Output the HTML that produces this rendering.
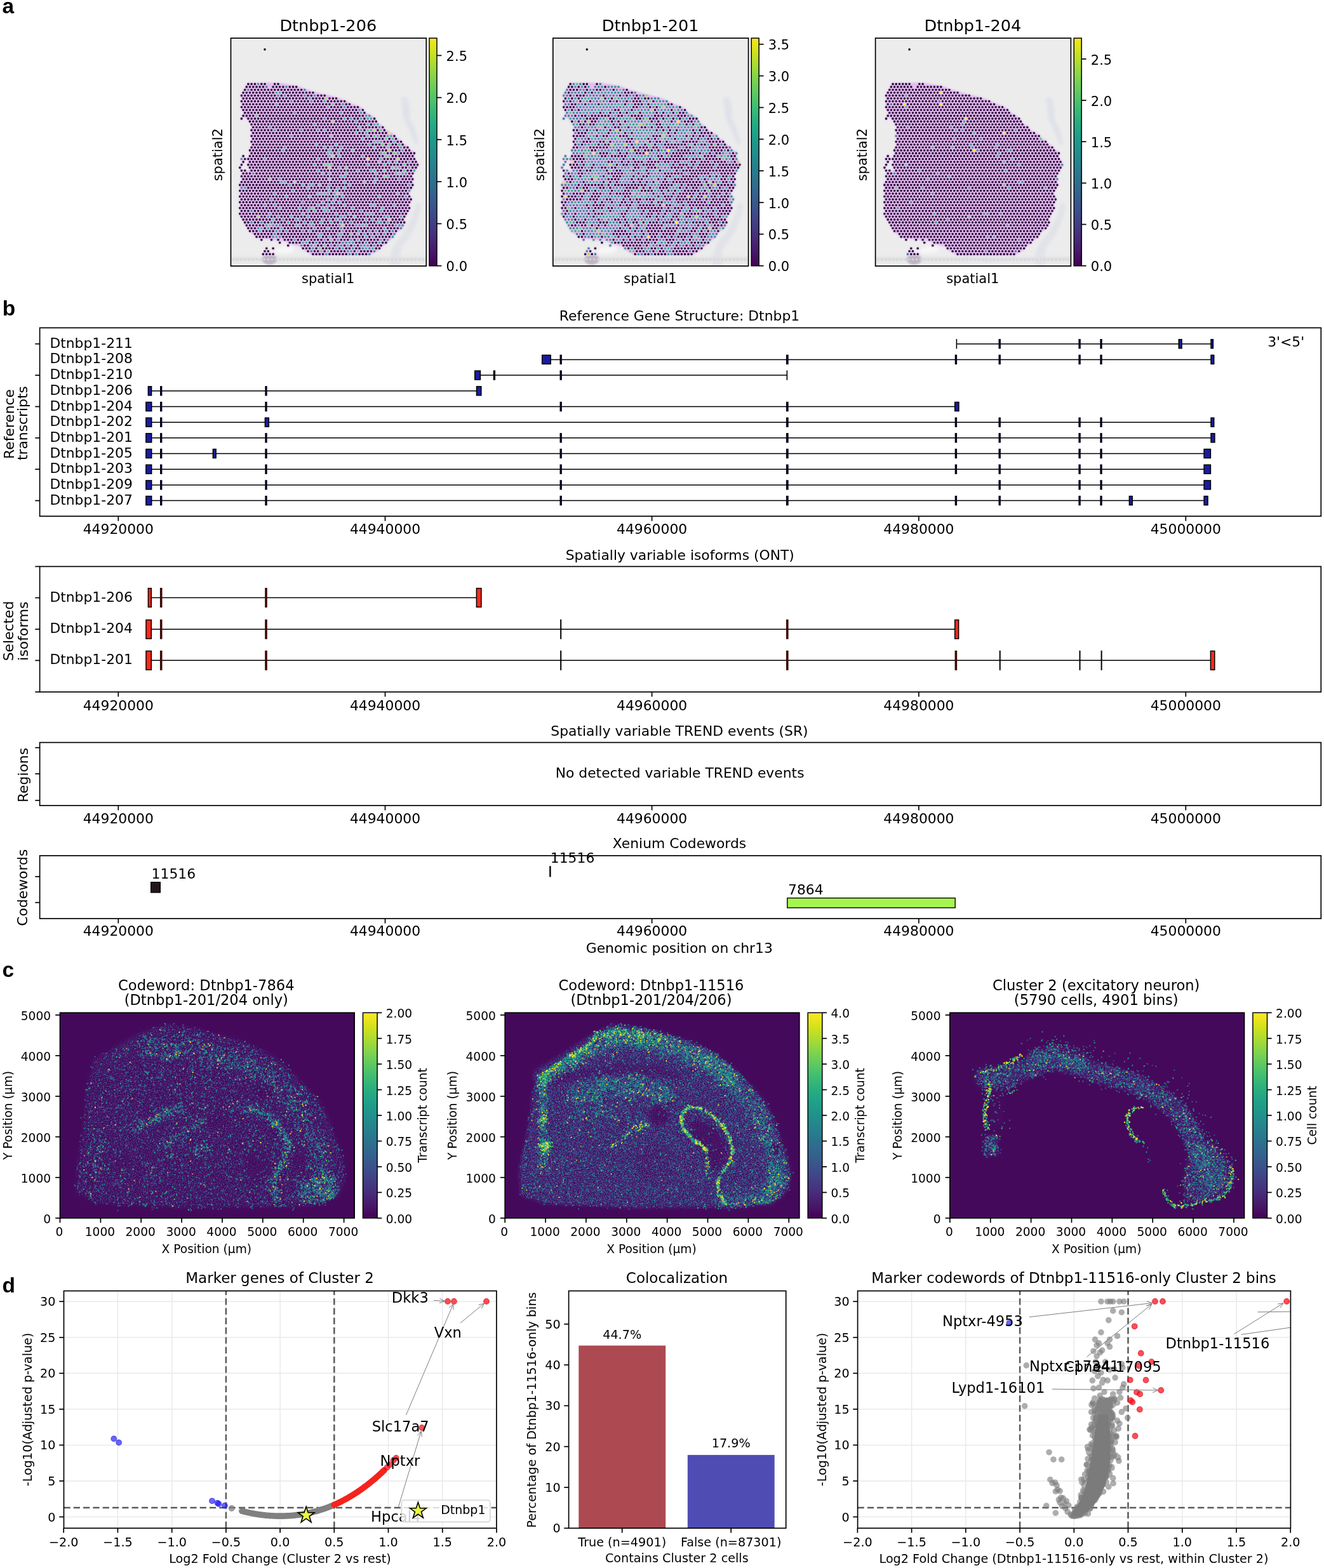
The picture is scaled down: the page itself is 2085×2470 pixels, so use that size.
<!DOCTYPE html>
<html lang="en"><head><meta charset="utf-8"><title>Dtnbp1 isoform figure</title>
<style>
html,body{margin:0;padding:0;background:#fff;}
body{width:2085px;height:2470px;overflow:hidden;}
svg{display:block;font-family:"DejaVu Sans","Liberation Sans",sans-serif;}
text{white-space:pre;}
</style></head><body>
<svg xmlns="http://www.w3.org/2000/svg" width="2085" height="2470" viewBox="0 0 2085 2470">
<rect width="2085" height="2470" fill="#fff"/>
<g id="panel_a"><defs><filter id="blA" x="-20%" y="-20%" width="140%" height="140%"><feGaussianBlur stdDeviation="2.2"/></filter><filter id="blB" x="-5%" y="-5%" width="110%" height="110%"><feGaussianBlur stdDeviation="1.4"/></filter><filter id="blC" x="-2%" y="-2%" width="104%" height="104%"><feGaussianBlur stdDeviation="4.5"/></filter></defs>
<clipPath id="ca0"><rect x="0" y="0" width="307.8" height="359.0"/></clipPath>
<rect x="363.5" y="60.1" width="307.8" height="359.0" fill="#ececec"/>
<g clip-path="url(#ca0)" transform="translate(363.5 60.1)">
<g filter="url(#blA)">
<path d="M276 92 q8 14 6 34 q10 18 14 40 l-6 2 q-8 -22 -18 -40 q-2 -18 -4 -34z" fill="#e0e2e9"/>
<path d="M262 318 q22 -22 30 -60 l8 4 q-6 40 -30 66 q-6 14 -2 30 l-18 0 q0 -22 12 -40z" fill="#e1e3e9"/>
<path d="M140 343 q40 9 80 0 l-4 6 q-38 7 -72 0z" fill="#cfc9d6"/>
<rect x="0" y="345" width="308" height="7" fill="#e0e0e2"/>
<path d="M70 333 q14 -8 30 -4 l-2 8 q-14 4 -26 2z" fill="#f6f6f6"/>
</g>
<ellipse cx="61" cy="348.5" rx="11.5" ry="8.5" fill="#beb6c5" filter="url(#blB)"/>
<path d="M4.0 348.5h0M10.1 348.5h0M16.2 348.5h0M22.3 348.5h0M28.4 348.5h0M34.5 348.5h0M40.6 348.5h0M46.7 348.5h0M52.8 348.5h0M58.9 348.5h0M65.0 348.5h0M71.1 348.5h0M77.2 348.5h0M83.3 348.5h0M89.4 348.5h0M95.5 348.5h0M101.6 348.5h0M107.7 348.5h0M113.8 348.5h0M119.9 348.5h0M126.0 348.5h0M132.1 348.5h0M138.2 348.5h0M144.3 348.5h0M150.4 348.5h0M156.5 348.5h0M162.6 348.5h0M168.7 348.5h0M174.8 348.5h0M180.9 348.5h0M187.0 348.5h0M193.1 348.5h0M199.2 348.5h0M205.3 348.5h0M211.4 348.5h0M217.5 348.5h0M223.6 348.5h0M229.7 348.5h0M235.8 348.5h0M241.9 348.5h0M248.0 348.5h0M254.1 348.5h0M260.2 348.5h0M266.3 348.5h0M272.4 348.5h0M278.5 348.5h0M284.6 348.5h0M290.7 348.5h0M296.8 348.5h0M302.9 348.5h0M309.0 348.5h0" stroke="#d6d6d9" stroke-width="3.6" stroke-linecap="round" fill="none" opacity="0.8"/>
<polygon points="74.5,72.3 103.2,76.8 116.3,81.4 129.4,85.9 147.7,90.5 166.0,95.0 179.1,99.6 186.9,104.1 200.0,108.6 207.8,113.2 210.5,117.7 218.3,122.3 226.1,126.8 228.8,131.3 231.4,135.9 239.2,140.4 241.8,145.0 249.7,149.5 257.5,154.1 260.1,158.6 268.0,163.1 270.6,167.7 278.4,172.2 281.1,176.8 288.9,181.3 286.3,185.9 288.9,190.4 291.5,194.9 294.1,199.5 291.5,204.0 288.9,208.6 286.3,213.1 283.7,217.6 286.3,222.2 283.7,226.7 286.3,231.3 283.7,235.8 281.1,240.4 278.4,244.9 281.1,249.4 283.7,254.0 281.1,258.5 278.4,263.1 281.1,267.6 278.4,272.1 275.8,276.7 273.2,281.2 270.6,285.8 273.2,290.3 270.6,294.9 268.0,299.4 260.1,303.9 257.5,308.5 254.9,313.0 247.1,317.6 244.5,322.1 236.6,326.7 234.0,331.2 226.1,335.7 218.3,340.3 129.4,340.3 121.5,335.7 113.7,331.2 111.1,326.7 92.8,322.1 84.9,317.6 40.5,313.0 37.9,308.5 30.0,303.9 27.4,299.4 24.8,294.9 22.2,290.3 19.6,285.8 16.9,281.2 14.3,276.7 16.9,272.1 14.3,267.6 16.9,263.1 14.3,258.5 16.9,254.0 14.3,249.4 16.9,244.9 14.3,240.4 16.9,235.8 14.3,231.3 16.9,226.7 19.6,222.2 16.9,217.6 19.6,213.1 32.6,208.6 30.0,204.0 27.4,199.5 30.0,194.9 27.4,190.4 30.0,185.9 32.6,181.3 30.0,176.8 32.6,172.2 35.3,167.7 32.6,163.1 35.3,158.6 32.6,154.1 35.3,149.5 32.6,145.0 35.3,140.4 32.6,135.9 30.0,131.3 27.4,126.8 19.6,122.3 22.2,117.7 19.6,113.2 16.9,108.6 19.6,104.1 16.9,99.6 19.6,95.0 16.9,90.5 19.6,85.9 22.2,81.4 24.8,76.8 27.4,72.3" fill="#e2d8ea" stroke="#e2d8ea" stroke-width="6" stroke-linejoin="round" filter="url(#blB)"/>
<path d="M16.9 126.8h0M19.6 185.9h0M16.9 190.4h0M22.2 190.4h0M19.6 194.9h0M16.9 199.5h0M14.3 204.0h0M16.9 208.6h0M22.2 208.6h0M48.3 317.6h0M64.0 317.6h0M74.5 317.6h0M77.1 322.1h0M90.2 326.7h0M56.2 331.2h0M66.6 331.2h0M53.6 335.7h0M58.8 335.7h0M50.9 340.3h0M56.2 340.3h0M61.4 340.3h0M66.6 340.3h0" stroke="#e6cdee" stroke-width="6" stroke-linecap="round" fill="none"/>
<polygon points="74.5,72.3 103.2,76.8 116.3,81.4 129.4,85.9 147.7,90.5 166.0,95.0 179.1,99.6 186.9,104.1 200.0,108.6 207.8,113.2 210.5,117.7 218.3,122.3 226.1,126.8 228.8,131.3 231.4,135.9 239.2,140.4 241.8,145.0 249.7,149.5 257.5,154.1 260.1,158.6 268.0,163.1 270.6,167.7 278.4,172.2 281.1,176.8 288.9,181.3 286.3,185.9 288.9,190.4 291.5,194.9 294.1,199.5 291.5,204.0 288.9,208.6 286.3,213.1 283.7,217.6 286.3,222.2 283.7,226.7 286.3,231.3 283.7,235.8 281.1,240.4 278.4,244.9 281.1,249.4 283.7,254.0 281.1,258.5 278.4,263.1 281.1,267.6 278.4,272.1 275.8,276.7 273.2,281.2 270.6,285.8 273.2,290.3 270.6,294.9 268.0,299.4 260.1,303.9 257.5,308.5 254.9,313.0 247.1,317.6 244.5,322.1 236.6,326.7 234.0,331.2 226.1,335.7 218.3,340.3 129.4,340.3 121.5,335.7 113.7,331.2 111.1,326.7 92.8,322.1 84.9,317.6 40.5,313.0 37.9,308.5 30.0,303.9 27.4,299.4 24.8,294.9 22.2,290.3 19.6,285.8 16.9,281.2 14.3,276.7 16.9,272.1 14.3,267.6 16.9,263.1 14.3,258.5 16.9,254.0 14.3,249.4 16.9,244.9 14.3,240.4 16.9,235.8 14.3,231.3 16.9,226.7 19.6,222.2 16.9,217.6 19.6,213.1 32.6,208.6 30.0,204.0 27.4,199.5 30.0,194.9 27.4,190.4 30.0,185.9 32.6,181.3 30.0,176.8 32.6,172.2 35.3,167.7 32.6,163.1 35.3,158.6 32.6,154.1 35.3,149.5 32.6,145.0 35.3,140.4 32.6,135.9 30.0,131.3 27.4,126.8 19.6,122.3 22.2,117.7 19.6,113.2 16.9,108.6 19.6,104.1 16.9,99.6 19.6,95.0 16.9,90.5 19.6,85.9 22.2,81.4 24.8,76.8 27.4,72.3" fill="#e6bdf0" stroke="#e6bdf0" stroke-width="3.6" stroke-linejoin="round"/>
</g>
<g transform="translate(363.5 60.1) scale(0.1)" fill="none" stroke-linecap="round" stroke-width="36" filter="url(#blC)"><path d="M535 178h0m-261 545h0m52 0h0m53 0h0m104 0h0m52 0h0m157 0h0m53 0h0m-497 45h0m52 0h0m52 0h0m53 0h0m52 0h0m52 0h0m157 0h0m53 0h0m52 0h0m52 0h0m105 0h0m52 0h0m52 0h0m-810 46h0m104 0h0m53 0h0m52 0h0m52 0h0m52 0h0m53 0h0m52 0h0m52 0h0m53 0h0m52 0h0m52 0h0m53 0h0m52 0h0m52 0h0m52 0h0m53 0h0m-915 45h0m52 0h0m52 0h0m52 0h0m53 0h0m52 0h0m52 0h0m53 0h0m52 0h0m52 0h0m157 0h0m52 0h0m53 0h0m52 0h0m52 0h0m53 0h0m52 0h0m52 0h0m53 0h0m52 0h0m-1125 46h0m53 0h0m52 0h0m52 0h0m53 0h0m52 0h0m52 0h0m52 0h0m53 0h0m52 0h0m52 0h0m105 0h0m105 0h0m52 0h0m52 0h0m52 0h0m53 0h0m104 0h0m53 0h0m104 0h0m53 0h0m52 0h0m-1281 45h0m52 0h0m52 0h0m52 0h0m53 0h0m52 0h0m52 0h0m53 0h0m52 0h0m52 0h0m53 0h0m52 0h0m52 0h0m52 0h0m53 0h0m52 0h0m52 0h0m53 0h0m52 0h0m52 0h0m105 0h0m52 0h0m52 0h0m53 0h0m104 0h0m53 0h0m52 0h0m-1491 45h0m53 0h0m52 0h0m52 0h0m53 0h0m52 0h0m52 0h0m52 0h0m53 0h0m52 0h0m52 0h0m53 0h0m52 0h0m52 0h0m53 0h0m104 0h0m52 0h0m53 0h0m52 0h0m52 0h0m105 0h0m52 0h0m53 0h0m104 0h0m53 0h0m52 0h0m52 0h0m52 0h0m53 0h0m-1595 46h0m52 0h0m52 0h0m52 0h0m53 0h0m52 0h0m52 0h0m53 0h0m52 0h0m52 0h0m105 0h0m52 0h0m52 0h0m53 0h0m52 0h0m52 0h0m53 0h0m52 0h0m52 0h0m53 0h0m52 0h0m52 0h0m52 0h0m53 0h0m52 0h0m52 0h0m105 0h0m52 0h0m105 0h0m52 0h0m-1700 45h0m53 0h0m52 0h0m52 0h0m53 0h0m52 0h0m52 0h0m52 0h0m53 0h0m52 0h0m52 0h0m53 0h0m52 0h0m52 0h0m53 0h0m52 0h0m52 0h0m52 0h0m53 0h0m52 0h0m52 0h0m53 0h0m52 0h0m52 0h0m53 0h0m52 0h0m105 0h0m52 0h0m52 0h0m52 0h0m105 0h0m52 0h0m53 0h0m52 0h0m-1804 46h0m52 0h0m52 0h0m52 0h0m53 0h0m52 0h0m52 0h0m53 0h0m52 0h0m52 0h0m53 0h0m52 0h0m52 0h0m52 0h0m53 0h0m52 0h0m52 0h0m53 0h0m52 0h0m52 0h0m53 0h0m52 0h0m52 0h0m52 0h0m53 0h0m52 0h0m52 0h0m53 0h0m52 0h0m52 0h0m53 0h0m52 0h0m52 0h0m53 0h0m52 0h0m104 0h0m-1856 45h0m52 0h0m52 0h0m53 0h0m52 0h0m52 0h0m52 0h0m53 0h0m52 0h0m52 0h0m53 0h0m52 0h0m52 0h0m53 0h0m52 0h0m104 0h0m53 0h0m52 0h0m52 0h0m53 0h0m52 0h0m52 0h0m53 0h0m52 0h0m52 0h0m53 0h0m52 0h0m52 0h0m105 0h0m52 0h0m52 0h0m53 0h0m52 0h0m104 0h0m-1908 46h0m52 0h0m52 0h0m52 0h0m105 0h0m52 0h0m53 0h0m52 0h0m52 0h0m53 0h0m52 0h0m52 0h0m52 0h0m53 0h0m52 0h0m52 0h0m53 0h0m52 0h0m52 0h0m53 0h0m52 0h0m52 0h0m52 0h0m53 0h0m52 0h0m52 0h0m53 0h0m52 0h0m52 0h0m53 0h0m52 0h0m52 0h0m53 0h0m52 0h0m52 0h0m52 0h0m-1909 45h0m105 0h0m52 0h0m53 0h0m52 0h0m52 0h0m52 0h0m53 0h0m52 0h0m52 0h0m53 0h0m52 0h0m52 0h0m53 0h0m52 0h0m52 0h0m52 0h0m53 0h0m52 0h0m52 0h0m53 0h0m52 0h0m52 0h0m53 0h0m104 0h0m53 0h0m52 0h0m52 0h0m52 0h0m105 0h0m105 0h0m52 0h0m104 0h0m157 0h0m-1961 45h0m52 0h0m53 0h0m52 0h0m52 0h0m53 0h0m52 0h0m52 0h0m53 0h0m52 0h0m52 0h0m52 0h0m53 0h0m52 0h0m52 0h0m53 0h0m52 0h0m52 0h0m53 0h0m52 0h0m52 0h0m52 0h0m53 0h0m52 0h0m52 0h0m105 0h0m52 0h0m53 0h0m52 0h0m52 0h0m53 0h0m104 0h0m52 0h0m53 0h0m52 0h0m52 0h0m53 0h0m-1962 46h0m53 0h0m52 0h0m52 0h0m52 0h0m53 0h0m52 0h0m52 0h0m53 0h0m52 0h0m52 0h0m53 0h0m52 0h0m52 0h0m52 0h0m53 0h0m52 0h0m52 0h0m53 0h0m104 0h0m53 0h0m52 0h0m52 0h0m53 0h0m52 0h0m52 0h0m52 0h0m53 0h0m52 0h0m52 0h0m53 0h0m52 0h0m52 0h0m52 0h0m105 0h0m-1857 45h0m53 0h0m52 0h0m52 0h0m53 0h0m104 0h0m53 0h0m52 0h0m52 0h0m52 0h0m53 0h0m52 0h0m52 0h0m53 0h0m52 0h0m52 0h0m53 0h0m52 0h0m52 0h0m52 0h0m53 0h0m52 0h0m52 0h0m53 0h0m52 0h0m52 0h0m53 0h0m52 0h0m52 0h0m53 0h0m52 0h0m104 0h0m53 0h0m52 0h0m52 0h0m53 0h0m104 0h0m-2066 46h0m53 0h0m52 0h0m52 0h0m52 0h0m53 0h0m52 0h0m105 0h0m52 0h0m52 0h0m53 0h0m52 0h0m52 0h0m52 0h0m105 0h0m52 0h0m53 0h0m52 0h0m105 0h0m104 0h0m53 0h0m52 0h0m52 0h0m52 0h0m53 0h0m52 0h0m52 0h0m53 0h0m52 0h0m104 0h0m210 0h0m104 0h0m-2066 45h0m53 0h0m52 0h0m52 0h0m53 0h0m52 0h0m52 0h0m53 0h0m52 0h0m52 0h0m52 0h0m53 0h0m52 0h0m52 0h0m53 0h0m52 0h0m52 0h0m53 0h0m52 0h0m52 0h0m52 0h0m53 0h0m52 0h0m52 0h0m53 0h0m52 0h0m52 0h0m53 0h0m52 0h0m52 0h0m53 0h0m104 0h0m52 0h0m105 0h0m52 0h0m53 0h0m52 0h0m52 0h0m52 0h0m-2118 46h0m53 0h0m52 0h0m52 0h0m52 0h0m53 0h0m52 0h0m52 0h0m53 0h0m52 0h0m52 0h0m53 0h0m104 0h0m52 0h0m53 0h0m52 0h0m52 0h0m53 0h0m52 0h0m52 0h0m53 0h0m52 0h0m52 0h0m105 0h0m52 0h0m52 0h0m53 0h0m52 0h0m52 0h0m53 0h0m52 0h0m52 0h0m52 0h0m105 0h0m157 0h0m52 0h0m157 0h0m-2223 45h0m53 0h0m52 0h0m52 0h0m53 0h0m52 0h0m52 0h0m53 0h0m52 0h0m52 0h0m52 0h0m53 0h0m52 0h0m52 0h0m53 0h0m52 0h0m52 0h0m53 0h0m52 0h0m52 0h0m52 0h0m53 0h0m52 0h0m52 0h0m53 0h0m52 0h0m52 0h0m53 0h0m52 0h0m52 0h0m53 0h0m52 0h0m52 0h0m105 0h0m52 0h0m52 0h0m53 0h0m52 0h0m52 0h0m105 0h0m104 0h0m-2275 45h0m53 0h0m52 0h0m52 0h0m52 0h0m53 0h0m52 0h0m52 0h0m53 0h0m52 0h0m52 0h0m53 0h0m52 0h0m52 0h0m52 0h0m53 0h0m52 0h0m52 0h0m53 0h0m52 0h0m52 0h0m53 0h0m52 0h0m52 0h0m53 0h0m52 0h0m52 0h0m52 0h0m53 0h0m52 0h0m52 0h0m53 0h0m52 0h0m52 0h0m52 0h0m53 0h0m52 0h0m209 0h0m53 0h0m52 0h0m105 0h0m52 0h0m-2328 46h0m53 0h0m52 0h0m52 0h0m53 0h0m52 0h0m52 0h0m53 0h0m52 0h0m52 0h0m52 0h0m53 0h0m52 0h0m52 0h0m53 0h0m52 0h0m52 0h0m53 0h0m52 0h0m104 0h0m53 0h0m52 0h0m52 0h0m53 0h0m104 0h0m53 0h0m52 0h0m52 0h0m53 0h0m52 0h0m52 0h0m52 0h0m53 0h0m104 0h0m53 0h0m52 0h0m104 0h0m105 0h0m52 0h0m105 0h0m-2380 45h0m53 0h0m52 0h0m52 0h0m52 0h0m53 0h0m52 0h0m52 0h0m53 0h0m52 0h0m105 0h0m52 0h0m52 0h0m52 0h0m53 0h0m52 0h0m52 0h0m53 0h0m52 0h0m52 0h0m53 0h0m104 0h0m105 0h0m52 0h0m105 0h0m52 0h0m52 0h0m53 0h0m52 0h0m52 0h0m52 0h0m53 0h0m52 0h0m105 0h0m52 0h0m52 0h0m105 0h0m52 0h0m53 0h0m104 0h0m52 0h0m-2484 46h0m52 0h0m53 0h0m52 0h0m52 0h0m53 0h0m52 0h0m52 0h0m53 0h0m52 0h0m104 0h0m53 0h0m52 0h0m52 0h0m53 0h0m52 0h0m52 0h0m53 0h0m52 0h0m52 0h0m52 0h0m53 0h0m52 0h0m105 0h0m52 0h0m105 0h0m52 0h0m52 0h0m105 0h0m52 0h0m52 0h0m53 0h0m52 0h0m52 0h0m53 0h0m52 0h0m52 0h0m52 0h0m105 0h0m52 0h0m53 0h0m104 0h0m53 0h0m-2485 45h0m53 0h0m52 0h0m52 0h0m52 0h0m53 0h0m52 0h0m52 0h0m53 0h0m52 0h0m52 0h0m53 0h0m52 0h0m52 0h0m52 0h0m53 0h0m52 0h0m52 0h0m53 0h0m52 0h0m52 0h0m53 0h0m52 0h0m157 0h0m104 0h0m53 0h0m52 0h0m52 0h0m53 0h0m52 0h0m52 0h0m52 0h0m53 0h0m52 0h0m52 0h0m53 0h0m157 0h0m52 0h0m157 0h0m52 0h0m52 0h0m53 0h0m52 0h0m-2693 45h0m104 0h0m52 0h0m53 0h0m52 0h0m52 0h0m53 0h0m52 0h0m52 0h0m53 0h0m52 0h0m52 0h0m52 0h0m53 0h0m52 0h0m52 0h0m53 0h0m52 0h0m52 0h0m53 0h0m52 0h0m52 0h0m52 0h0m53 0h0m52 0h0m157 0h0m105 0h0m52 0h0m52 0h0m53 0h0m52 0h0m52 0h0m105 0h0m52 0h0m52 0h0m53 0h0m52 0h0m52 0h0m157 0h0m52 0h0m53 0h0m52 0h0m52 0h0m53 0h0m52 0h0m-2641 46h0m52 0h0m52 0h0m53 0h0m52 0h0m52 0h0m105 0h0m52 0h0m52 0h0m53 0h0m52 0h0m52 0h0m53 0h0m52 0h0m52 0h0m52 0h0m53 0h0m52 0h0m52 0h0m53 0h0m52 0h0m105 0h0m52 0h0m52 0h0m53 0h0m52 0h0m52 0h0m52 0h0m53 0h0m52 0h0m52 0h0m53 0h0m52 0h0m52 0h0m52 0h0m105 0h0m52 0h0m53 0h0m104 0h0m53 0h0m52 0h0m52 0h0m105 0h0m52 0h0m52 0h0m53 0h0m52 0h0m-2693 45h0m104 0h0m52 0h0m53 0h0m52 0h0m52 0h0m53 0h0m52 0h0m52 0h0m53 0h0m52 0h0m52 0h0m52 0h0m53 0h0m52 0h0m52 0h0m53 0h0m52 0h0m52 0h0m53 0h0m52 0h0m52 0h0m52 0h0m53 0h0m52 0h0m52 0h0m53 0h0m52 0h0m52 0h0m53 0h0m52 0h0m52 0h0m53 0h0m52 0h0m52 0h0m52 0h0m53 0h0m52 0h0m52 0h0m53 0h0m104 0h0m52 0h0m105 0h0m105 0h0m52 0h0m52 0h0m105 0h0m52 0h0m-2746 46h0m105 0h0m52 0h0m53 0h0m52 0h0m52 0h0m52 0h0m53 0h0m52 0h0m52 0h0m53 0h0m52 0h0m52 0h0m53 0h0m52 0h0m52 0h0m52 0h0m53 0h0m52 0h0m52 0h0m53 0h0m104 0h0m53 0h0m209 0h0m52 0h0m52 0h0m53 0h0m52 0h0m52 0h0m53 0h0m52 0h0m52 0h0m52 0h0m105 0h0m52 0h0m53 0h0m52 0h0m105 0h0m52 0h0m52 0h0m53 0h0m52 0h0m104 0h0m53 0h0m52 0h0m52 0h0m-2798 45h0m157 0h0m52 0h0m53 0h0m52 0h0m52 0h0m53 0h0m52 0h0m52 0h0m53 0h0m52 0h0m52 0h0m52 0h0m53 0h0m52 0h0m52 0h0m53 0h0m52 0h0m52 0h0m53 0h0m52 0h0m52 0h0m52 0h0m53 0h0m52 0h0m105 0h0m52 0h0m105 0h0m104 0h0m53 0h0m52 0h0m52 0h0m52 0h0m53 0h0m52 0h0m52 0h0m53 0h0m52 0h0m52 0h0m52 0h0m53 0h0m209 0h0m52 0h0m105 0h0m52 0h0m-2746 46h0m53 0h0m104 0h0m53 0h0m52 0h0m52 0h0m52 0h0m53 0h0m52 0h0m52 0h0m53 0h0m52 0h0m52 0h0m53 0h0m52 0h0m52 0h0m52 0h0m53 0h0m52 0h0m52 0h0m53 0h0m52 0h0m105 0h0m52 0h0m52 0h0m53 0h0m52 0h0m52 0h0m52 0h0m53 0h0m52 0h0m52 0h0m53 0h0m104 0h0m52 0h0m53 0h0m157 0h0m52 0h0m105 0h0m52 0h0m52 0h0m53 0h0m52 0h0m104 0h0m53 0h0m-2641 45h0m52 0h0m52 0h0m105 0h0m52 0h0m52 0h0m53 0h0m52 0h0m52 0h0m53 0h0m52 0h0m52 0h0m52 0h0m53 0h0m52 0h0m52 0h0m53 0h0m52 0h0m52 0h0m53 0h0m52 0h0m52 0h0m52 0h0m105 0h0m105 0h0m52 0h0m52 0h0m53 0h0m104 0h0m53 0h0m52 0h0m52 0h0m52 0h0m53 0h0m52 0h0m52 0h0m105 0h0m52 0h0m52 0h0m53 0h0m52 0h0m262 0h0m52 0h0m-2694 45h0m53 0h0m52 0h0m52 0h0m53 0h0m52 0h0m52 0h0m52 0h0m53 0h0m52 0h0m52 0h0m53 0h0m52 0h0m52 0h0m53 0h0m52 0h0m52 0h0m52 0h0m53 0h0m52 0h0m52 0h0m53 0h0m52 0h0m52 0h0m53 0h0m52 0h0m52 0h0m53 0h0m52 0h0m52 0h0m157 0h0m52 0h0m53 0h0m52 0h0m52 0h0m52 0h0m53 0h0m52 0h0m52 0h0m53 0h0m52 0h0m157 0h0m52 0h0m53 0h0m52 0h0m52 0h0m52 0h0m53 0h0m-2641 46h0m52 0h0m52 0h0m52 0h0m53 0h0m52 0h0m52 0h0m53 0h0m104 0h0m53 0h0m104 0h0m52 0h0m53 0h0m52 0h0m52 0h0m53 0h0m52 0h0m52 0h0m53 0h0m52 0h0m52 0h0m52 0h0m53 0h0m52 0h0m105 0h0m52 0h0m52 0h0m53 0h0m52 0h0m52 0h0m53 0h0m52 0h0m52 0h0m52 0h0m53 0h0m52 0h0m52 0h0m105 0h0m52 0h0m52 0h0m53 0h0m52 0h0m52 0h0m105 0h0m52 0h0m53 0h0m52 0h0m-2694 45h0m53 0h0m52 0h0m52 0h0m53 0h0m52 0h0m52 0h0m52 0h0m53 0h0m52 0h0m52 0h0m53 0h0m157 0h0m52 0h0m104 0h0m53 0h0m52 0h0m52 0h0m53 0h0m52 0h0m52 0h0m53 0h0m52 0h0m52 0h0m53 0h0m52 0h0m52 0h0m52 0h0m105 0h0m52 0h0m53 0h0m52 0h0m52 0h0m105 0h0m52 0h0m105 0h0m52 0h0m52 0h0m53 0h0m52 0h0m52 0h0m53 0h0m52 0h0m52 0h0m52 0h0m53 0h0m-2694 46h0m53 0h0m52 0h0m52 0h0m52 0h0m53 0h0m52 0h0m52 0h0m53 0h0m52 0h0m52 0h0m53 0h0m52 0h0m52 0h0m52 0h0m105 0h0m52 0h0m53 0h0m104 0h0m157 0h0m105 0h0m52 0h0m105 0h0m52 0h0m52 0h0m53 0h0m52 0h0m105 0h0m52 0h0m52 0h0m52 0h0m53 0h0m52 0h0m52 0h0m53 0h0m52 0h0m52 0h0m52 0h0m53 0h0m52 0h0m52 0h0m53 0h0m52 0h0m52 0h0m105 0h0m-2589 45h0m52 0h0m53 0h0m52 0h0m52 0h0m52 0h0m53 0h0m52 0h0m52 0h0m53 0h0m52 0h0m52 0h0m53 0h0m52 0h0m52 0h0m52 0h0m53 0h0m52 0h0m105 0h0m52 0h0m52 0h0m53 0h0m52 0h0m105 0h0m52 0h0m104 0h0m105 0h0m52 0h0m53 0h0m52 0h0m52 0h0m52 0h0m53 0h0m52 0h0m52 0h0m53 0h0m52 0h0m52 0h0m53 0h0m52 0h0m52 0h0m53 0h0m52 0h0m52 0h0m52 0h0m53 0h0m-2694 46h0m53 0h0m52 0h0m52 0h0m52 0h0m53 0h0m52 0h0m52 0h0m53 0h0m52 0h0m52 0h0m53 0h0m52 0h0m52 0h0m52 0h0m53 0h0m104 0h0m53 0h0m52 0h0m52 0h0m53 0h0m52 0h0m52 0h0m52 0h0m53 0h0m52 0h0m105 0h0m104 0h0m53 0h0m52 0h0m52 0h0m53 0h0m52 0h0m52 0h0m52 0h0m53 0h0m52 0h0m52 0h0m53 0h0m52 0h0m52 0h0m52 0h0m53 0h0m52 0h0m52 0h0m53 0h0m52 0h0m52 0h0m-2589 45h0m53 0h0m52 0h0m52 0h0m53 0h0m52 0h0m52 0h0m52 0h0m53 0h0m52 0h0m105 0h0m52 0h0m52 0h0m53 0h0m52 0h0m52 0h0m52 0h0m53 0h0m52 0h0m52 0h0m53 0h0m52 0h0m262 0h0m209 0h0m52 0h0m52 0h0m53 0h0m52 0h0m52 0h0m52 0h0m53 0h0m52 0h0m52 0h0m53 0h0m52 0h0m52 0h0m53 0h0m52 0h0m52 0h0m105 0h0m52 0h0m52 0h0m-2641 45h0m53 0h0m52 0h0m52 0h0m52 0h0m53 0h0m52 0h0m52 0h0m53 0h0m52 0h0m52 0h0m53 0h0m52 0h0m52 0h0m105 0h0m52 0h0m52 0h0m53 0h0m52 0h0m52 0h0m105 0h0m52 0h0m52 0h0m53 0h0m52 0h0m52 0h0m53 0h0m104 0h0m105 0h0m52 0h0m53 0h0m52 0h0m52 0h0m52 0h0m53 0h0m52 0h0m52 0h0m53 0h0m104 0h0m52 0h0m53 0h0m52 0h0m52 0h0m53 0h0m52 0h0m105 0h0m-2642 46h0m53 0h0m52 0h0m52 0h0m53 0h0m52 0h0m52 0h0m52 0h0m53 0h0m104 0h0m53 0h0m52 0h0m52 0h0m53 0h0m52 0h0m52 0h0m52 0h0m53 0h0m52 0h0m52 0h0m53 0h0m52 0h0m52 0h0m53 0h0m52 0h0m105 0h0m104 0h0m52 0h0m53 0h0m52 0h0m52 0h0m53 0h0m52 0h0m52 0h0m52 0h0m53 0h0m52 0h0m52 0h0m53 0h0m52 0h0m52 0h0m53 0h0m52 0h0m52 0h0m53 0h0m52 0h0m52 0h0m52 0h0m53 0h0m-2694 45h0m53 0h0m52 0h0m52 0h0m52 0h0m53 0h0m52 0h0m52 0h0m53 0h0m52 0h0m52 0h0m53 0h0m52 0h0m52 0h0m52 0h0m53 0h0m52 0h0m52 0h0m53 0h0m104 0h0m53 0h0m52 0h0m52 0h0m52 0h0m105 0h0m52 0h0m105 0h0m105 0h0m52 0h0m52 0h0m53 0h0m52 0h0m52 0h0m52 0h0m53 0h0m52 0h0m52 0h0m53 0h0m52 0h0m52 0h0m52 0h0m53 0h0m52 0h0m52 0h0m53 0h0m52 0h0m52 0h0m53 0h0m-2642 46h0m53 0h0m52 0h0m52 0h0m53 0h0m52 0h0m52 0h0m105 0h0m52 0h0m105 0h0m52 0h0m52 0h0m53 0h0m52 0h0m52 0h0m52 0h0m53 0h0m52 0h0m52 0h0m53 0h0m52 0h0m105 0h0m52 0h0m105 0h0m52 0h0m52 0h0m52 0h0m105 0h0m52 0h0m53 0h0m52 0h0m52 0h0m52 0h0m53 0h0m157 0h0m52 0h0m52 0h0m53 0h0m52 0h0m105 0h0m52 0h0m52 0h0m52 0h0m-2641 45h0m53 0h0m52 0h0m52 0h0m52 0h0m53 0h0m52 0h0m52 0h0m53 0h0m52 0h0m52 0h0m53 0h0m104 0h0m52 0h0m53 0h0m52 0h0m52 0h0m105 0h0m52 0h0m157 0h0m52 0h0m157 0h0m105 0h0m52 0h0m53 0h0m52 0h0m52 0h0m105 0h0m52 0h0m52 0h0m53 0h0m52 0h0m52 0h0m53 0h0m52 0h0m104 0h0m53 0h0m52 0h0m52 0h0m53 0h0m52 0h0m52 0h0m53 0h0m-2642 45h0m53 0h0m52 0h0m105 0h0m52 0h0m52 0h0m52 0h0m53 0h0m52 0h0m52 0h0m53 0h0m52 0h0m52 0h0m53 0h0m52 0h0m52 0h0m52 0h0m53 0h0m52 0h0m105 0h0m104 0h0m53 0h0m157 0h0m52 0h0m52 0h0m52 0h0m53 0h0m52 0h0m52 0h0m53 0h0m52 0h0m104 0h0m53 0h0m52 0h0m52 0h0m53 0h0m104 0h0m53 0h0m52 0h0m52 0h0m53 0h0m52 0h0m52 0h0m52 0h0m-2641 46h0m53 0h0m52 0h0m52 0h0m52 0h0m53 0h0m52 0h0m52 0h0m53 0h0m104 0h0m53 0h0m52 0h0m52 0h0m52 0h0m53 0h0m52 0h0m52 0h0m53 0h0m104 0h0m53 0h0m52 0h0m52 0h0m52 0h0m53 0h0m52 0h0m52 0h0m53 0h0m104 0h0m53 0h0m52 0h0m105 0h0m52 0h0m52 0h0m52 0h0m210 0h0m52 0h0m52 0h0m52 0h0m53 0h0m52 0h0m52 0h0m53 0h0m52 0h0m52 0h0m-2589 45h0m53 0h0m52 0h0m52 0h0m53 0h0m104 0h0m52 0h0m105 0h0m52 0h0m105 0h0m52 0h0m53 0h0m104 0h0m52 0h0m53 0h0m52 0h0m105 0h0m52 0h0m52 0h0m53 0h0m52 0h0m52 0h0m53 0h0m52 0h0m52 0h0m157 0h0m52 0h0m105 0h0m52 0h0m52 0h0m53 0h0m52 0h0m52 0h0m53 0h0m52 0h0m157 0h0m52 0h0m53 0h0m104 0h0m-2536 46h0m52 0h0m52 0h0m52 0h0m53 0h0m52 0h0m52 0h0m53 0h0m52 0h0m105 0h0m52 0h0m104 0h0m53 0h0m52 0h0m157 0h0m52 0h0m53 0h0m52 0h0m52 0h0m52 0h0m105 0h0m105 0h0m157 0h0m52 0h0m52 0h0m53 0h0m52 0h0m52 0h0m52 0h0m105 0h0m105 0h0m104 0h0m52 0h0m105 0h0m52 0h0m53 0h0m52 0h0m-2484 45h0m52 0h0m105 0h0m52 0h0m104 0h0m53 0h0m104 0h0m53 0h0m52 0h0m52 0h0m105 0h0m52 0h0m52 0h0m53 0h0m104 0h0m105 0h0m52 0h0m105 0h0m52 0h0m105 0h0m52 0h0m105 0h0m52 0h0m105 0h0m52 0h0m52 0h0m52 0h0m53 0h0m52 0h0m52 0h0m157 0h0m105 0h0m52 0h0m53 0h0m52 0h0m52 0h0m-2484 46h0m52 0h0m52 0h0m53 0h0m52 0h0m52 0h0m314 0h0m52 0h0m53 0h0m52 0h0m157 0h0m52 0h0m157 0h0m52 0h0m53 0h0m52 0h0m52 0h0m53 0h0m52 0h0m157 0h0m52 0h0m53 0h0m261 0h0m52 0h0m53 0h0m52 0h0m52 0h0m52 0h0m53 0h0m52 0h0m-2275 45h0m52 0h0m53 0h0m156 0h0m105 0h0m52 0h0m53 0h0m104 0h0m53 0h0m52 0h0m52 0h0m52 0h0m53 0h0m52 0h0m52 0h0m53 0h0m104 0h0m53 0h0m52 0h0m105 0h0m52 0h0m52 0h0m105 0h0m52 0h0m52 0h0m53 0h0m52 0h0m52 0h0m52 0h0m53 0h0m52 0h0m52 0h0m53 0h0m52 0h0m105 0h0m52 0h0m52 0h0m53 0h0m-2328 45h0m52 0h0m53 0h0m104 0h0m53 0h0m52 0h0m52 0h0m157 0h0m105 0h0m52 0h0m52 0h0m53 0h0m104 0h0m105 0h0m52 0h0m52 0h0m53 0h0m52 0h0m52 0h0m53 0h0m52 0h0m52 0h0m105 0h0m52 0h0m53 0h0m52 0h0m104 0h0m53 0h0m104 0h0m105 0h0m52 0h0m105 0h0m104 0h0m-2222 46h0m52 0h0m52 0h0m52 0h0m53 0h0m52 0h0m105 0h0m52 0h0m52 0h0m53 0h0m52 0h0m52 0h0m52 0h0m53 0h0m52 0h0m52 0h0m53 0h0m52 0h0m157 0h0m52 0h0m53 0h0m52 0h0m157 0h0m52 0h0m105 0h0m104 0h0m105 0h0m104 0h0m105 0h0m105 0h0m52 0h0m-2118 45h0m52 0h0m52 0h0m53 0h0m52 0h0m209 0h0m52 0h0m53 0h0m52 0h0m52 0h0m53 0h0m52 0h0m52 0h0m53 0h0m52 0h0m52 0h0m105 0h0m52 0h0m105 0h0m52 0h0m105 0h0m52 0h0m52 0h0m53 0h0m52 0h0m52 0h0m52 0h0m105 0h0m105 0h0m52 0h0m52 0h0m52 0h0m53 0h0m-2014 46h0m157 0h0m105 0h0m104 0h0m53 0h0m52 0h0m104 0h0m53 0h0m52 0h0m105 0h0m52 0h0m52 0h0m53 0h0m104 0h0m105 0h0m104 0h0m53 0h0m52 0h0m105 0h0m104 0h0m52 0h0m53 0h0m52 0h0m52 0h0m53 0h0m104 0h0m-1647 45h0m157 0h0m52 0h0m52 0h0m53 0h0m157 0h0m52 0h0m104 0h0m53 0h0m52 0h0m52 0h0m53 0h0m52 0h0m52 0h0m262 0h0m52 0h0m52 0h0m105 0h0m52 0h0m53 0h0m104 0h0m52 0h0m-1542 45h0m261 0h0m52 0h0m157 0h0m53 0h0m104 0h0m105 0h0m157 0h0m104 0h0m105 0h0m209 0h0m105 0h0m52 0h0m-1804 46h0m104 0h0m471 0h0m52 0h0m53 0h0m104 0h0m105 0h0m52 0h0m52 0h0m53 0h0m104 0h0m105 0h0m52 0h0m105 0h0m52 0h0m262 0h0m52 0h0m-1805 45h0m53 0h0m627 0h0m105 0h0m52 0h0m105 0h0m105 0h0m52 0h0m52 0h0m52 0h0m53 0h0m157 0h0m104 0h0m52 0h0m53 0h0m52 0h0m-1700 46h0m53 0h0m52 0h0m52 0h0m628 0h0m52 0h0m52 0h0m53 0h0m104 0h0m53 0h0m52 0h0m52 0h0m53 0h0m52 0h0m105 0h0m104 0h0m52 0h0m53 0h0" stroke="#2c0a3c"/><path d="M562 768h0m313 0h0m-601 46h0m889 0h0m-418 91h0m104 0h0m314 0h0m79 45h0m549 136h0m-785 91h0m471 91h0m-157 91h0m-706 45h0m497 46h0m261 0h0m-523 272h0m-78 500h0m157 91h0m-759 45h0m523 91h0m968 45h0m-1020 46h0m497 45h0m471 0h0m-1073 46h0m157 0h0m680 0h0m157 0h0m-287 45h0m261 0h0m-1177 45h0m889 0h0m837 0h0m-183 46h0m262 0h0m-1543 45h0m1150 0h0m53 0h0m627 0h0m-1595 46h0m262 0h0m470 0h0m-1072 45h0m157 0h0m523 0h0m732 0h0m471 0h0m-1647 46h0m52 0h0m471 0h0m52 0h0m418 0h0m262 0h0m52 0h0m628 0h0m52 0h0m-2275 45h0m889 0h0m418 0h0m-967 45h0m104 0h0m262 0h0m1046 0h0m105 0h0m261 0h0m-1857 46h0m680 0h0m837 0h0m105 0h0m-1648 45h0m105 0h0m784 0h0m157 0h0m-497 46h0m262 0h0m209 0h0m-340 45h0m419 0h0m52 0h0m-79 45h0m523 0h0m-339 46h0m156 0h0m105 0h0m-915 45h0m575 0h0m418 0h0m-78 46h0" stroke="#3b8897"/><path d="M431 723h0m889 182h0m-366 90h0m314 0h0m-549 46h0m1046 0h0m-236 45h0m497 46h0m-288 45h0m314 0h0m79 46h0m52 0h0m-288 45h0m157 0h0m-78 45h0m366 91h0m-1648 46h0m1360 0h0m79 45h0m-1177 46h0m392 136h0m314 0h0m523 0h0m-601 45h0m156 0h0m-26 46h0m-26 45h0m392 45h0m-1909 46h0m366 0h0m837 0h0m1439 45h0m-1491 46h0m837 0h0m-445 45h0m-340 46h0m628 0h0m209 0h0m-1857 45h0m2406 0h0m-1020 45h0m53 0h0m497 46h0m366 0h0m-863 45h0m-549 46h0m52 0h0m261 0h0m1256 0h0m-2589 45h0m1307 0h0m157 0h0m-706 46h0m680 0h0m1151 0h0m-1282 45h0m105 0h0m104 0h0m-863 45h0m367 0h0m523 0h0m993 0h0m-1229 46h0m105 0h0m-183 45h0m261 0h0m79 46h0m418 0h0m-1438 45h0m314 0h0m366 0h0m157 0h0m314 0h0m-393 45h0m837 0h0m-1752 46h0m1046 0h0m523 0h0m52 0h0m-1490 45h0m470 0h0m1256 0h0m-1439 46h0m419 0h0m209 0h0m52 0h0m419 0h0m104 0h0m105 0h0m-2014 45h0m576 0h0m366 0h0m314 0h0m156 0h0m576 0h0m157 0h0m-1909 46h0m104 0h0m1935 0h0m-2013 45h0m1830 0h0m262 0h0m-1961 45h0m1046 0h0m261 0h0m418 0h0m-1019 46h0m261 0h0m418 0h0m314 0h0m157 0h0m-444 45h0m104 0h0m314 0h0m-1543 46h0m889 0h0m576 0h0m-602 45h0m53 0h0m209 0h0m209 0h0m-1229 45h0m157 0h0m314 0h0m104 0h0m262 0h0m104 0h0m52 0h0m53 0h0m-863 46h0m366 0h0m105 0h0m130 45h0m-392 46h0m366 0h0m105 0h0" stroke="#359a95"/><path d="M719 859h0m52 0h0m706 136h0m314 273h0m366 0h0m52 0h0m-52 91h0m104 0h0m53 0h0m-288 45h0m-549 46h0m732 0h0m-235 45h0m183 46h0m104 0h0m53 0h0m157 0h0m52 0h0m-445 45h0m471 0h0m-288 45h0m53 0h0m52 0h0m209 0h0m79 46h0m-1177 45h0m784 0h0m419 0h0m-1857 46h0m732 0h0m1151 0h0m-1177 45h0m53 0h0m784 0h0m262 0h0m-1073 45h0m157 0h0m654 46h0m131 45h0m104 0h0m-1019 46h0m836 0h0m183 45h0m53 0h0m157 0h0m-550 46h0m628 0h0m-1438 45h0m104 0h0m262 0h0m471 0h0m313 0h0m105 0h0m-235 45h0m-1674 91h0m52 0h0m1412 0h0m-1124 46h0m732 0h0m-654 45h0m576 0h0m-236 46h0m-183 45h0m53 0h0m52 0h0m1151 0h0m-288 45h0m-79 137h0m314 0h0m-183 45h0m-1072 45h0m157 0h0m-340 46h0m-183 45h0m1726 0h0m-2014 46h0m759 45h0m-393 46h0m53 0h0m993 0h0m53 0h0m-1648 45h0m314 0h0m732 0h0m-1072 45h0m785 0h0m496 46h0m-1019 45h0m679 0h0m602 46h0m366 0h0m-1229 45h0m52 0h0m654 45h0m288 46h0m104 0h0" stroke="#36ae8e"/><path d="M1608 1041h0m-1203 182h0m1752 227h0m209 0h0m-784 91h0m862 45h0m-52 91h0m105 0h0m-26 45h0m-549 46h0m496 45h0m157 0h0m-131 45h0m53 0h0m-157 91h0m-863 46h0m52 0h0m1203 0h0m-915 45h0m732 0h0m-131 46h0m314 0h0m-78 45h0m-236 45h0m-1804 46h0m941 0h0m549 45h0m-706 46h0m-104 363h0m654 136h0m-1334 137h0m1281 136h0m105 0h0m-418 91h0m-262 90h0m157 0h0m-79 46h0m27 45h0m104 0h0m471 0h0" stroke="#5dc777"/><path d="M1503 950h0m105 363h0m653 137h0m236 318h0m-889 90h0m1020 46h0m-1073 136h0m-549 227h0m680 182h0m-1255 363h0m2066 46h0m-732 91h0" stroke="#a3da4d"/><path d="M2497 1495h0m-340 409h0" stroke="#fbe738"/></g>
<rect x="363.5" y="60.1" width="307.8" height="359.0" fill="none" stroke="#000" stroke-width="1.7"/>
<text x="516.8" y="49.3" font-size="25.6" text-anchor="middle">Dtnbp1-206</text>
<text x="516.7" y="445.6" font-size="21.0" text-anchor="middle">spatial1</text>
<text x="350.0" y="243.7" font-size="21.0" text-anchor="middle" transform="rotate(-90 350.0 243.7)">spatial2</text>
<linearGradient id="va0" x1="0" y1="0" x2="0" y2="1"><stop offset="0.0000" stop-color="#f6e620"/><stop offset="0.0625" stop-color="#cde11d"/><stop offset="0.1250" stop-color="#a2da37"/><stop offset="0.1875" stop-color="#7ad151"/><stop offset="0.2500" stop-color="#58c765"/><stop offset="0.3125" stop-color="#3aba76"/><stop offset="0.3750" stop-color="#25ac82"/><stop offset="0.4375" stop-color="#1e9d89"/><stop offset="0.5000" stop-color="#218f8d"/><stop offset="0.5625" stop-color="#27808e"/><stop offset="0.6250" stop-color="#2d718e"/><stop offset="0.6875" stop-color="#34618d"/><stop offset="0.7500" stop-color="#3b518b"/><stop offset="0.8125" stop-color="#423f85"/><stop offset="0.8750" stop-color="#472c7a"/><stop offset="0.9375" stop-color="#481769"/><stop offset="1.0000" stop-color="#440154"/></linearGradient>
<rect x="676.0" y="60.1" width="12.0" height="358.7" fill="url(#va0)" stroke="#000" stroke-width="1.5"/>
<line x1="688.0" y1="418.7" x2="695.4" y2="418.7" stroke="#000" stroke-width="1.7"/>
<text x="702.6" y="427.3" font-size="21.0">0.0</text>
<line x1="688.0" y1="352.4" x2="695.4" y2="352.4" stroke="#000" stroke-width="1.7"/>
<text x="702.6" y="361.0" font-size="21.0">0.5</text>
<line x1="688.0" y1="286.2" x2="695.4" y2="286.2" stroke="#000" stroke-width="1.7"/>
<text x="702.6" y="294.8" font-size="21.0">1.0</text>
<line x1="688.0" y1="219.9" x2="695.4" y2="219.9" stroke="#000" stroke-width="1.7"/>
<text x="702.6" y="228.5" font-size="21.0">1.5</text>
<line x1="688.0" y1="153.7" x2="695.4" y2="153.7" stroke="#000" stroke-width="1.7"/>
<text x="702.6" y="162.3" font-size="21.0">2.0</text>
<line x1="688.0" y1="87.4" x2="695.4" y2="87.4" stroke="#000" stroke-width="1.7"/>
<text x="702.6" y="96.0" font-size="21.0">2.5</text>
<clipPath id="ca1"><rect x="0" y="0" width="307.8" height="359.0"/></clipPath>
<rect x="870.8" y="60.1" width="307.8" height="359.0" fill="#ececec"/>
<g clip-path="url(#ca1)" transform="translate(870.8 60.1)">
<g filter="url(#blA)">
<path d="M276 92 q8 14 6 34 q10 18 14 40 l-6 2 q-8 -22 -18 -40 q-2 -18 -4 -34z" fill="#e0e2e9"/>
<path d="M262 318 q22 -22 30 -60 l8 4 q-6 40 -30 66 q-6 14 -2 30 l-18 0 q0 -22 12 -40z" fill="#e1e3e9"/>
<path d="M140 343 q40 9 80 0 l-4 6 q-38 7 -72 0z" fill="#cfc9d6"/>
<rect x="0" y="345" width="308" height="7" fill="#e0e0e2"/>
<path d="M70 333 q14 -8 30 -4 l-2 8 q-14 4 -26 2z" fill="#f6f6f6"/>
</g>
<ellipse cx="61" cy="348.5" rx="11.5" ry="8.5" fill="#beb6c5" filter="url(#blB)"/>
<path d="M4.0 348.5h0M10.1 348.5h0M16.2 348.5h0M22.3 348.5h0M28.4 348.5h0M34.5 348.5h0M40.6 348.5h0M46.7 348.5h0M52.8 348.5h0M58.9 348.5h0M65.0 348.5h0M71.1 348.5h0M77.2 348.5h0M83.3 348.5h0M89.4 348.5h0M95.5 348.5h0M101.6 348.5h0M107.7 348.5h0M113.8 348.5h0M119.9 348.5h0M126.0 348.5h0M132.1 348.5h0M138.2 348.5h0M144.3 348.5h0M150.4 348.5h0M156.5 348.5h0M162.6 348.5h0M168.7 348.5h0M174.8 348.5h0M180.9 348.5h0M187.0 348.5h0M193.1 348.5h0M199.2 348.5h0M205.3 348.5h0M211.4 348.5h0M217.5 348.5h0M223.6 348.5h0M229.7 348.5h0M235.8 348.5h0M241.9 348.5h0M248.0 348.5h0M254.1 348.5h0M260.2 348.5h0M266.3 348.5h0M272.4 348.5h0M278.5 348.5h0M284.6 348.5h0M290.7 348.5h0M296.8 348.5h0M302.9 348.5h0M309.0 348.5h0" stroke="#d6d6d9" stroke-width="3.6" stroke-linecap="round" fill="none" opacity="0.8"/>
<polygon points="74.5,72.3 103.2,76.8 116.3,81.4 129.4,85.9 147.7,90.5 166.0,95.0 179.1,99.6 186.9,104.1 200.0,108.6 207.8,113.2 210.5,117.7 218.3,122.3 226.1,126.8 228.8,131.3 231.4,135.9 239.2,140.4 241.8,145.0 249.7,149.5 257.5,154.1 260.1,158.6 268.0,163.1 270.6,167.7 278.4,172.2 281.1,176.8 288.9,181.3 286.3,185.9 288.9,190.4 291.5,194.9 294.1,199.5 291.5,204.0 288.9,208.6 286.3,213.1 283.7,217.6 286.3,222.2 283.7,226.7 286.3,231.3 283.7,235.8 281.1,240.4 278.4,244.9 281.1,249.4 283.7,254.0 281.1,258.5 278.4,263.1 281.1,267.6 278.4,272.1 275.8,276.7 273.2,281.2 270.6,285.8 273.2,290.3 270.6,294.9 268.0,299.4 260.1,303.9 257.5,308.5 254.9,313.0 247.1,317.6 244.5,322.1 236.6,326.7 234.0,331.2 226.1,335.7 218.3,340.3 129.4,340.3 121.5,335.7 113.7,331.2 111.1,326.7 92.8,322.1 84.9,317.6 40.5,313.0 37.9,308.5 30.0,303.9 27.4,299.4 24.8,294.9 22.2,290.3 19.6,285.8 16.9,281.2 14.3,276.7 16.9,272.1 14.3,267.6 16.9,263.1 14.3,258.5 16.9,254.0 14.3,249.4 16.9,244.9 14.3,240.4 16.9,235.8 14.3,231.3 16.9,226.7 19.6,222.2 16.9,217.6 19.6,213.1 32.6,208.6 30.0,204.0 27.4,199.5 30.0,194.9 27.4,190.4 30.0,185.9 32.6,181.3 30.0,176.8 32.6,172.2 35.3,167.7 32.6,163.1 35.3,158.6 32.6,154.1 35.3,149.5 32.6,145.0 35.3,140.4 32.6,135.9 30.0,131.3 27.4,126.8 19.6,122.3 22.2,117.7 19.6,113.2 16.9,108.6 19.6,104.1 16.9,99.6 19.6,95.0 16.9,90.5 19.6,85.9 22.2,81.4 24.8,76.8 27.4,72.3" fill="#e2d8ea" stroke="#e2d8ea" stroke-width="6" stroke-linejoin="round" filter="url(#blB)"/>
<path d="M16.9 126.8h0M19.6 185.9h0M16.9 190.4h0M22.2 190.4h0M19.6 194.9h0M16.9 199.5h0M14.3 204.0h0M16.9 208.6h0M22.2 208.6h0M48.3 317.6h0M64.0 317.6h0M74.5 317.6h0M77.1 322.1h0M90.2 326.7h0M56.2 331.2h0M66.6 331.2h0M53.6 335.7h0M58.8 335.7h0M50.9 340.3h0M56.2 340.3h0M61.4 340.3h0M66.6 340.3h0" stroke="#e6cdee" stroke-width="6" stroke-linecap="round" fill="none"/>
<polygon points="74.5,72.3 103.2,76.8 116.3,81.4 129.4,85.9 147.7,90.5 166.0,95.0 179.1,99.6 186.9,104.1 200.0,108.6 207.8,113.2 210.5,117.7 218.3,122.3 226.1,126.8 228.8,131.3 231.4,135.9 239.2,140.4 241.8,145.0 249.7,149.5 257.5,154.1 260.1,158.6 268.0,163.1 270.6,167.7 278.4,172.2 281.1,176.8 288.9,181.3 286.3,185.9 288.9,190.4 291.5,194.9 294.1,199.5 291.5,204.0 288.9,208.6 286.3,213.1 283.7,217.6 286.3,222.2 283.7,226.7 286.3,231.3 283.7,235.8 281.1,240.4 278.4,244.9 281.1,249.4 283.7,254.0 281.1,258.5 278.4,263.1 281.1,267.6 278.4,272.1 275.8,276.7 273.2,281.2 270.6,285.8 273.2,290.3 270.6,294.9 268.0,299.4 260.1,303.9 257.5,308.5 254.9,313.0 247.1,317.6 244.5,322.1 236.6,326.7 234.0,331.2 226.1,335.7 218.3,340.3 129.4,340.3 121.5,335.7 113.7,331.2 111.1,326.7 92.8,322.1 84.9,317.6 40.5,313.0 37.9,308.5 30.0,303.9 27.4,299.4 24.8,294.9 22.2,290.3 19.6,285.8 16.9,281.2 14.3,276.7 16.9,272.1 14.3,267.6 16.9,263.1 14.3,258.5 16.9,254.0 14.3,249.4 16.9,244.9 14.3,240.4 16.9,235.8 14.3,231.3 16.9,226.7 19.6,222.2 16.9,217.6 19.6,213.1 32.6,208.6 30.0,204.0 27.4,199.5 30.0,194.9 27.4,190.4 30.0,185.9 32.6,181.3 30.0,176.8 32.6,172.2 35.3,167.7 32.6,163.1 35.3,158.6 32.6,154.1 35.3,149.5 32.6,145.0 35.3,140.4 32.6,135.9 30.0,131.3 27.4,126.8 19.6,122.3 22.2,117.7 19.6,113.2 16.9,108.6 19.6,104.1 16.9,99.6 19.6,95.0 16.9,90.5 19.6,85.9 22.2,81.4 24.8,76.8 27.4,72.3" fill="#e6bdf0" stroke="#e6bdf0" stroke-width="3.6" stroke-linejoin="round"/>
</g>
<g transform="translate(870.8 60.1) scale(0.1)" fill="none" stroke-linecap="round" stroke-width="36" filter="url(#blC)"><path d="M535 178h0m-261 545h0m209 0h0m52 0h0m157 0h0m-444 45h0m52 0h0m105 0h0m104 0h0m314 0h0m-549 46h0m52 0h0m53 0h0m156 0h0m157 0h0m53 0h0m209 0h0m209 0h0m-915 45h0m261 0h0m105 0h0m523 0h0m52 0h0m53 0h0m-968 46h0m105 0h0m52 0h0m52 0h0m314 0h0m261 0h0m105 0h0m157 0h0m-1124 45h0m104 0h0m105 0h0m418 0h0m105 0h0m366 0h0m52 0h0m105 0h0m52 0h0m-1334 45h0m105 0h0m157 0h0m157 0h0m314 0h0m104 0h0m157 0h0m105 0h0m52 0h0m52 0h0m210 0h0m-1282 46h0m52 0h0m157 0h0m210 0h0m418 0h0m157 0h0m52 0h0m52 0h0m105 0h0m314 0h0m52 0h0m-1700 45h0m53 0h0m52 0h0m52 0h0m942 0h0m52 0h0m209 0h0m105 0h0m366 0h0m-1804 46h0m104 0h0m105 0h0m575 0h0m52 0h0m210 0h0m366 0h0m261 0h0m209 0h0m-1333 45h0m157 0h0m156 0h0m105 0h0m209 0h0m262 0h0m104 0h0m157 0h0m105 0h0m52 0h0m-1700 46h0m105 0h0m52 0h0m105 0h0m52 0h0m53 0h0m52 0h0m52 0h0m52 0h0m157 0h0m53 0h0m157 0h0m52 0h0m52 0h0m52 0h0m210 0h0m52 0h0m52 0h0m105 0h0m157 0h0m52 0h0m52 0h0m-1543 45h0m53 0h0m52 0h0m52 0h0m210 0h0m52 0h0m366 0h0m52 0h0m157 0h0m53 0h0m52 0h0m104 0h0m157 0h0m105 0h0m157 0h0m52 0h0m52 0h0m-1961 45h0m105 0h0m104 0h0m105 0h0m52 0h0m262 0h0m104 0h0m105 0h0m418 0h0m105 0h0m209 0h0m209 0h0m53 0h0m52 0h0m-1752 46h0m52 0h0m105 0h0m52 0h0m314 0h0m104 0h0m576 0h0m52 0h0m418 0h0m105 0h0m-1752 45h0m366 0h0m157 0h0m52 0h0m157 0h0m209 0h0m53 0h0m104 0h0m105 0h0m52 0h0m105 0h0m523 0h0m52 0h0m-2066 46h0m53 0h0m156 0h0m157 0h0m210 0h0m156 0h0m576 0h0m104 0h0m105 0h0m105 0h0m261 0h0m105 0h0m104 0h0m-2013 45h0m52 0h0m52 0h0m366 0h0m262 0h0m105 0h0m575 0h0m105 0h0m313 0h0m105 0h0m52 0h0m52 0h0m53 0h0m-2171 46h0m53 0h0m52 0h0m52 0h0m209 0h0m105 0h0m52 0h0m209 0h0m53 0h0m52 0h0m419 0h0m52 0h0m52 0h0m157 0h0m261 0h0m105 0h0m105 0h0m52 0h0m105 0h0m-2119 45h0m210 0h0m627 0h0m53 0h0m261 0h0m105 0h0m314 0h0m261 0h0m105 0h0m156 0h0m53 0h0m104 0h0m-2275 45h0m157 0h0m52 0h0m53 0h0m157 0h0m52 0h0m105 0h0m261 0h0m52 0h0m314 0h0m105 0h0m52 0h0m105 0h0m261 0h0m52 0h0m53 0h0m52 0h0m52 0h0m210 0h0m52 0h0m52 0h0m53 0h0m52 0h0m-2328 46h0m105 0h0m262 0h0m104 0h0m52 0h0m367 0h0m209 0h0m157 0h0m157 0h0m52 0h0m52 0h0m53 0h0m52 0h0m52 0h0m52 0h0m157 0h0m105 0h0m52 0h0m105 0h0m104 0h0m105 0h0m-2380 45h0m53 0h0m209 0h0m52 0h0m52 0h0m53 0h0m52 0h0m52 0h0m314 0h0m105 0h0m104 0h0m53 0h0m52 0h0m105 0h0m52 0h0m157 0h0m52 0h0m52 0h0m53 0h0m156 0h0m53 0h0m314 0h0m52 0h0m52 0h0m53 0h0m52 0h0m52 0h0m-2118 46h0m52 0h0m366 0h0m262 0h0m52 0h0m105 0h0m52 0h0m52 0h0m105 0h0m314 0h0m52 0h0m52 0h0m53 0h0m366 0h0m52 0h0m52 0h0m53 0h0m104 0h0m-2013 45h0m52 0h0m52 0h0m209 0h0m105 0h0m157 0h0m52 0h0m53 0h0m366 0h0m104 0h0m53 0h0m52 0h0m52 0h0m52 0h0m53 0h0m52 0h0m105 0h0m157 0h0m104 0h0m53 0h0m209 0h0m-2537 45h0m52 0h0m53 0h0m52 0h0m314 0h0m52 0h0m105 0h0m52 0h0m52 0h0m53 0h0m52 0h0m523 0h0m52 0h0m157 0h0m53 0h0m52 0h0m52 0h0m366 0h0m52 0h0m53 0h0m52 0h0m262 0h0m52 0h0m-2537 46h0m53 0h0m52 0h0m52 0h0m628 0h0m157 0h0m261 0h0m157 0h0m52 0h0m53 0h0m52 0h0m52 0h0m53 0h0m52 0h0m52 0h0m52 0h0m105 0h0m52 0h0m53 0h0m104 0h0m53 0h0m52 0h0m52 0h0m53 0h0m209 0h0m-2485 45h0m105 0h0m418 0h0m53 0h0m157 0h0m104 0h0m105 0h0m52 0h0m52 0h0m105 0h0m52 0h0m53 0h0m52 0h0m105 0h0m52 0h0m105 0h0m52 0h0m209 0h0m52 0h0m105 0h0m52 0h0m52 0h0m105 0h0m52 0h0m53 0h0m52 0h0m157 0h0m-2589 46h0m52 0h0m53 0h0m104 0h0m157 0h0m366 0h0m105 0h0m52 0h0m105 0h0m52 0h0m105 0h0m52 0h0m52 0h0m53 0h0m313 0h0m105 0h0m52 0h0m52 0h0m105 0h0m105 0h0m52 0h0m52 0h0m53 0h0m52 0h0m105 0h0m52 0h0m52 0h0m52 0h0m53 0h0m52 0h0m52 0h0m-2641 45h0m52 0h0m53 0h0m52 0h0m157 0h0m157 0h0m52 0h0m105 0h0m52 0h0m314 0h0m52 0h0m157 0h0m52 0h0m53 0h0m261 0h0m53 0h0m52 0h0m52 0h0m105 0h0m52 0h0m105 0h0m52 0h0m52 0h0m52 0h0m53 0h0m104 0h0m53 0h0m52 0h0m52 0h0m53 0h0m52 0h0m52 0h0m-2746 46h0m262 0h0m104 0h0m53 0h0m261 0h0m157 0h0m52 0h0m210 0h0m209 0h0m209 0h0m262 0h0m104 0h0m52 0h0m53 0h0m52 0h0m52 0h0m53 0h0m52 0h0m52 0h0m53 0h0m52 0h0m52 0h0m53 0h0m52 0h0m52 0h0m52 0h0m53 0h0m-2589 45h0m157 0h0m52 0h0m418 0h0m53 0h0m52 0h0m52 0h0m53 0h0m261 0h0m157 0h0m262 0h0m52 0h0m52 0h0m53 0h0m52 0h0m52 0h0m157 0h0m52 0h0m53 0h0m52 0h0m52 0h0m52 0h0m210 0h0m52 0h0m52 0h0m53 0h0m52 0h0m-2694 45h0m105 0h0m157 0h0m366 0h0m157 0h0m52 0h0m52 0h0m210 0h0m157 0h0m52 0h0m314 0h0m52 0h0m209 0h0m52 0h0m53 0h0m52 0h0m52 0h0m210 0h0m104 0h0m105 0h0m52 0h0m105 0h0m-2641 46h0m52 0h0m52 0h0m314 0h0m261 0h0m53 0h0m52 0h0m52 0h0m210 0h0m104 0h0m52 0h0m262 0h0m105 0h0m157 0h0m52 0h0m52 0h0m52 0h0m53 0h0m52 0h0m105 0h0m104 0h0m262 0h0m52 0h0m105 0h0m52 0h0m-2589 45h0m209 0h0m314 0h0m105 0h0m104 0h0m262 0h0m104 0h0m105 0h0m105 0h0m156 0h0m53 0h0m104 0h0m53 0h0m52 0h0m52 0h0m52 0h0m53 0h0m52 0h0m52 0h0m53 0h0m104 0h0m105 0h0m157 0h0m52 0h0m105 0h0m-2432 46h0m104 0h0m53 0h0m52 0h0m52 0h0m53 0h0m52 0h0m104 0h0m105 0h0m52 0h0m53 0h0m52 0h0m52 0h0m53 0h0m52 0h0m52 0h0m52 0h0m53 0h0m261 0h0m53 0h0m52 0h0m52 0h0m157 0h0m105 0h0m52 0h0m52 0h0m53 0h0m52 0h0m104 0h0m157 0h0m53 0h0m52 0h0m52 0h0m53 0h0m-2642 45h0m53 0h0m157 0h0m104 0h0m52 0h0m210 0h0m52 0h0m105 0h0m261 0h0m52 0h0m53 0h0m52 0h0m105 0h0m104 0h0m157 0h0m52 0h0m53 0h0m209 0h0m104 0h0m105 0h0m52 0h0m210 0h0m157 0h0m156 0h0m53 0h0m-2694 46h0m366 0h0m53 0h0m104 0h0m262 0h0m209 0h0m52 0h0m209 0h0m53 0h0m52 0h0m52 0h0m157 0h0m105 0h0m105 0h0m156 0h0m53 0h0m52 0h0m52 0h0m53 0h0m104 0h0m105 0h0m52 0h0m52 0h0m53 0h0m52 0h0m52 0h0m53 0h0m-2642 45h0m157 0h0m53 0h0m52 0h0m52 0h0m157 0h0m52 0h0m53 0h0m157 0h0m104 0h0m52 0h0m53 0h0m52 0h0m52 0h0m367 0h0m156 0h0m157 0h0m105 0h0m52 0h0m52 0h0m53 0h0m52 0h0m105 0h0m52 0h0m52 0h0m105 0h0m52 0h0m53 0h0m104 0h0m-2589 45h0m105 0h0m52 0h0m52 0h0m105 0h0m157 0h0m52 0h0m53 0h0m418 0h0m52 0h0m471 0h0m105 0h0m52 0h0m52 0h0m105 0h0m52 0h0m52 0h0m105 0h0m105 0h0m52 0h0m157 0h0m52 0h0m105 0h0m52 0h0m52 0h0m-2536 46h0m52 0h0m52 0h0m53 0h0m52 0h0m157 0h0m52 0h0m52 0h0m157 0h0m53 0h0m209 0h0m104 0h0m105 0h0m52 0h0m105 0h0m52 0h0m53 0h0m209 0h0m52 0h0m105 0h0m52 0h0m52 0h0m52 0h0m53 0h0m104 0h0m53 0h0m104 0h0m105 0h0m52 0h0m53 0h0m52 0h0m52 0h0m-2589 45h0m53 0h0m470 0h0m105 0h0m157 0h0m157 0h0m52 0h0m105 0h0m104 0h0m209 0h0m105 0h0m52 0h0m262 0h0m52 0h0m105 0h0m52 0h0m52 0h0m53 0h0m52 0h0m52 0h0m105 0h0m52 0h0m52 0h0m53 0h0m52 0h0m52 0h0m-2589 46h0m366 0h0m105 0h0m52 0h0m53 0h0m52 0h0m261 0h0m105 0h0m52 0h0m157 0h0m53 0h0m52 0h0m52 0h0m53 0h0m104 0h0m105 0h0m52 0h0m209 0h0m105 0h0m52 0h0m52 0h0m53 0h0m52 0h0m52 0h0m53 0h0m52 0h0m52 0h0m53 0h0m104 0h0m52 0h0m-2641 45h0m53 0h0m156 0h0m210 0h0m104 0h0m53 0h0m52 0h0m104 0h0m53 0h0m261 0h0m157 0h0m52 0h0m53 0h0m52 0h0m52 0h0m53 0h0m52 0h0m52 0h0m105 0h0m105 0h0m52 0h0m52 0h0m157 0h0m105 0h0m52 0h0m104 0h0m53 0h0m104 0h0m53 0h0m52 0h0m52 0h0m53 0h0m-2589 45h0m418 0h0m262 0h0m261 0h0m262 0h0m104 0h0m53 0h0m52 0h0m52 0h0m105 0h0m52 0h0m157 0h0m157 0h0m209 0h0m157 0h0m105 0h0m52 0h0m52 0h0m52 0h0m-2588 46h0m156 0h0m210 0h0m104 0h0m53 0h0m52 0h0m314 0h0m52 0h0m261 0h0m105 0h0m52 0h0m105 0h0m105 0h0m157 0h0m52 0h0m104 0h0m53 0h0m52 0h0m52 0h0m53 0h0m52 0h0m104 0h0m53 0h0m104 0h0m53 0h0m52 0h0m52 0h0m-2589 45h0m157 0h0m314 0h0m471 0h0m366 0h0m52 0h0m105 0h0m104 0h0m157 0h0m53 0h0m156 0h0m53 0h0m209 0h0m52 0h0m53 0h0m52 0h0m105 0h0m-2276 46h0m157 0h0m210 0h0m261 0h0m52 0h0m105 0h0m157 0h0m366 0h0m209 0h0m105 0h0m523 0h0m52 0h0m52 0h0m53 0h0m52 0h0m-2327 45h0m52 0h0m52 0h0m262 0h0m52 0h0m52 0h0m209 0h0m105 0h0m105 0h0m52 0h0m105 0h0m104 0h0m53 0h0m52 0h0m104 0h0m53 0h0m52 0h0m52 0h0m209 0h0m105 0h0m52 0h0m53 0h0m52 0h0m105 0h0m52 0h0m52 0h0m105 0h0m52 0h0m-2432 46h0m52 0h0m105 0h0m52 0h0m105 0h0m105 0h0m104 0h0m314 0h0m52 0h0m157 0h0m157 0h0m52 0h0m53 0h0m52 0h0m52 0h0m262 0h0m314 0h0m104 0h0m157 0h0m52 0h0m53 0h0m-1962 45h0m366 0h0m157 0h0m105 0h0m157 0h0m52 0h0m53 0h0m52 0h0m52 0h0m105 0h0m52 0h0m52 0h0m53 0h0m104 0h0m52 0h0m105 0h0m52 0h0m105 0h0m52 0h0m105 0h0m52 0h0m-2118 45h0m523 0h0m52 0h0m53 0h0m52 0h0m157 0h0m104 0h0m105 0h0m52 0h0m53 0h0m52 0h0m52 0h0m53 0h0m52 0h0m52 0h0m53 0h0m261 0h0m52 0h0m105 0h0m104 0h0m157 0h0m-2118 46h0m471 0h0m52 0h0m52 0h0m53 0h0m52 0h0m52 0h0m210 0h0m104 0h0m53 0h0m52 0h0m104 0h0m53 0h0m52 0h0m52 0h0m105 0h0m52 0h0m52 0h0m53 0h0m157 0h0m52 0h0m52 0h0m-2013 45h0m52 0h0m157 0h0m157 0h0m261 0h0m157 0h0m105 0h0m104 0h0m157 0h0m53 0h0m104 0h0m53 0h0m104 0h0m105 0h0m52 0h0m52 0h0m105 0h0m157 0h0m52 0h0m-1438 46h0m157 0h0m104 0h0m105 0h0m52 0h0m105 0h0m52 0h0m53 0h0m52 0h0m157 0h0m52 0h0m52 0h0m157 0h0m105 0h0m209 0h0m-1595 45h0m209 0h0m52 0h0m53 0h0m52 0h0m52 0h0m53 0h0m52 0h0m52 0h0m52 0h0m53 0h0m52 0h0m105 0h0m209 0h0m52 0h0m105 0h0m209 0h0m52 0h0m53 0h0m52 0h0m52 0h0m52 0h0m-1333 45h0m52 0h0m52 0h0m53 0h0m52 0h0m52 0h0m105 0h0m209 0h0m105 0h0m157 0h0m156 0h0m105 0h0m-1543 46h0m523 0h0m105 0h0m52 0h0m52 0h0m157 0h0m53 0h0m104 0h0m210 0h0m52 0h0m52 0h0m52 0h0m53 0h0m52 0h0m52 0h0m53 0h0m52 0h0m-1752 45h0m732 0h0m52 0h0m53 0h0m157 0h0m104 0h0m52 0h0m157 0h0m53 0h0m52 0h0m52 0h0m52 0h0m105 0h0m52 0h0m-1752 46h0m105 0h0m680 0h0m157 0h0m52 0h0m105 0h0m52 0h0m52 0h0m53 0h0m157 0h0m52 0h0m52 0h0m52 0h0m53 0h0m52 0h0" stroke="#2c0a3c"/><path d="M431 723h0m314 0h0m-79 45h0m53 0h0m156 0h0m-653 46h0m209 0h0m209 0h0m157 0h0m314 0h0m-915 45h0m104 0h0m52 0h0m53 0h0m157 0h0m157 0h0m261 0h0m52 0h0m53 0h0m209 0h0m-1072 46h0m313 0h0m105 0h0m52 0h0m53 0h0m209 0h0m157 0h0m157 0h0m157 0h0m-968 45h0m209 0h0m53 0h0m366 0h0m52 0h0m105 0h0m313 0h0m53 0h0m52 0h0m-1438 45h0m470 0h0m105 0h0m157 0h0m157 0h0m575 0h0m105 0h0m-1595 46h0m52 0h0m209 0h0m105 0h0m52 0h0m157 0h0m157 0h0m-549 45h0m52 0h0m209 0h0m209 0h0m53 0h0m156 0h0m314 0h0m105 0h0m105 0h0m-1125 46h0m52 0h0m105 0h0m157 0h0m366 0h0m52 0h0m314 0h0m523 0h0m-1804 45h0m157 0h0m52 0h0m209 0h0m157 0h0m157 0h0m1150 0h0m-1908 46h0m52 0h0m157 0h0m157 0h0m1569 0h0m-1962 45h0m210 0h0m52 0h0m104 91h0m1465 0h0m-1648 45h0m53 0h0m104 0h0m105 0h0m1360 0h0m-1491 46h0m1569 0h0m105 0h0m-1543 45h0m105 0h0m1464 0h0m105 0h0m-1753 46h0m367 0h0m1359 0h0m157 0h0m-1961 45h0m52 0h0m1883 0h0m157 0h0m-1909 45h0m52 0h0m1256 0h0m470 0h0m-2013 46h0m104 0h0m53 0h0m470 0h0m680 0h0m576 0h0m366 0h0m-2223 45h0m627 0h0m1151 0h0m157 0h0m418 0h0m-2484 46h0m52 0h0m105 0h0m314 0h0m104 0h0m53 0h0m52 0h0m105 0h0m104 0h0m523 0h0m210 0h0m313 0h0m105 0h0m104 0h0m262 0h0m-2380 45h0m53 0h0m523 0h0m209 0h0m523 0h0m209 0h0m418 0h0m157 0h0m262 0h0m-2484 45h0m366 0h0m52 0h0m261 0h0m523 0h0m157 0h0m262 0h0m261 0h0m680 0h0m-2536 46h0m366 0h0m52 0h0m52 0h0m53 0h0m104 0h0m53 0h0m52 0h0m52 0h0m52 0h0m105 0h0m52 0h0m262 0h0m105 0h0m575 0h0m575 0h0m157 0h0m-2693 45h0m209 0h0m104 0h0m105 0h0m105 0h0m261 0h0m52 0h0m105 0h0m575 0h0m157 0h0m209 0h0m53 0h0m366 0h0m314 0h0m-2642 46h0m262 0h0m261 0h0m53 0h0m313 0h0m157 0h0m157 0h0m314 0h0m157 0h0m105 0h0m313 0h0m-2118 45h0m366 0h0m157 0h0m53 0h0m156 0h0m210 0h0m52 0h0m52 0h0m471 0h0m105 0h0m784 0h0m-2170 46h0m575 0h0m261 0h0m105 0h0m52 0h0m419 0h0m209 0h0m-1804 45h0m104 0h0m419 0h0m575 0h0m104 0h0m157 0h0m105 0h0m418 0h0m53 0h0m366 0h0m52 0h0m52 0h0m-2275 45h0m419 0h0m366 0h0m52 0h0m157 0h0m52 0h0m157 0h0m105 0h0m52 0h0m52 0h0m157 0h0m419 0h0m52 0h0m52 0h0m210 0h0m-2223 46h0m52 0h0m262 0h0m52 0h0m418 0h0m366 0h0m680 0h0m209 0h0m105 0h0m-2118 45h0m104 0h0m523 0h0m105 0h0m52 0h0m314 0h0m157 0h0m157 0h0m732 0h0m-2432 46h0m53 0h0m104 0h0m52 0h0m105 0h0m1098 0h0m105 0h0m418 0h0m419 0h0m366 0h0m-2537 45h0m366 0h0m314 0h0m105 0h0m941 0h0m105 0h0m157 0h0m52 0h0m314 0h0m-2328 46h0m419 0h0m261 0h0m53 0h0m157 0h0m418 0h0m209 0h0m157 0h0m314 0h0m-2066 45h0m523 0h0m157 0h0m418 0h0m262 0h0m314 0h0m-1543 45h0m418 0h0m52 0h0m53 0h0m104 0h0m471 0h0m105 0h0m314 0h0m522 0h0m367 0h0m-2328 46h0m52 0h0m262 0h0m209 0h0m157 0h0m105 0h0m157 0h0m313 0h0m471 0h0m262 0h0m-2223 45h0m52 0h0m523 0h0m52 0h0m105 0h0m209 0h0m209 0h0m105 0h0m366 0h0m53 0h0m156 0h0m733 0h0m-2485 46h0m53 0h0m523 0h0m52 0h0m52 0h0m105 0h0m523 0h0m366 0h0m104 0h0m-1804 45h0m157 0h0m52 0h0m105 0h0m366 0h0m52 0h0m53 0h0m157 0h0m523 0h0m313 0h0m314 0h0m157 0h0m-2380 45h0m210 0h0m52 0h0m52 0h0m52 0h0m419 0h0m104 0h0m53 0h0m104 0h0m53 0h0m104 0h0m523 0h0m53 0h0m156 0h0m105 0h0m209 0h0m53 0h0m104 0h0m-2327 46h0m52 0h0m732 0h0m262 0h0m157 0h0m261 0h0m157 0h0m523 0h0m157 0h0m-2170 45h0m52 0h0m52 0h0m52 0h0m53 0h0m104 0h0m366 0h0m210 0h0m104 0h0m53 0h0m157 0h0m104 0h0m105 0h0m523 0h0m261 0h0m-2327 46h0m52 0h0m105 0h0m209 0h0m52 0h0m209 0h0m210 0h0m104 0h0m53 0h0m104 0h0m52 0h0m53 0h0m157 0h0m104 0h0m53 0h0m52 0h0m261 0h0m105 0h0m105 0h0m104 0h0m52 0h0m-1909 45h0m105 0h0m52 0h0m314 0h0m105 0h0m575 0h0m471 0h0m471 0h0m-2223 46h0m261 0h0m105 0h0m157 0h0m366 0h0m104 0h0m524 0h0m104 0h0m52 0h0m105 0h0m52 0h0m105 0h0m366 0h0m-2432 45h0m52 0h0m209 0h0m53 0h0m157 0h0m52 0h0m52 0h0m53 0h0m52 0h0m52 0h0m105 0h0m1046 0h0m-1648 45h0m53 0h0m52 0h0m261 0h0m53 0h0m418 0h0m105 0h0m575 0h0m105 0h0m418 0h0m-2170 46h0m366 0h0m627 0h0m837 0h0m52 0h0m314 0h0m-2066 45h0m53 0h0m313 0h0m210 0h0m261 0h0m105 0h0m366 0h0m105 0h0m209 0h0m313 0h0m53 0h0m-2014 46h0m262 0h0m157 0h0m836 0h0m210 0h0m261 0h0m262 0h0m-916 45h0m157 0h0m314 0h0m52 0h0m-496 45h0m52 0h0m209 0h0m209 0h0m105 0h0m-1595 46h0m680 0h0m209 0h0m418 0h0m-340 45h0m314 0h0m314 0h0m-1491 46h0m732 0h0" stroke="#3b8897"/><path d="M326 723h0m26 45h0m105 0h0m105 0h0m209 0h0m157 0h0m52 0h0m52 0h0m-549 46h0m105 0h0m261 0h0m53 0h0m104 0h0m-340 45h0m157 0h0m52 0h0m53 0h0m-759 46h0m419 0h0m261 0h0m53 0h0m313 0h0m157 0h0m-1124 45h0m104 0h0m262 0h0m261 0h0m314 0h0m-863 45h0m523 0h0m209 0h0m157 0h0m262 0h0m261 0h0m-1333 46h0m261 0h0m157 0h0m52 0h0m890 0h0m-1282 45h0m52 0h0m53 0h0m209 0h0m157 0h0m52 0h0m105 0h0m52 0h0m262 0h0m366 0h0m52 0h0m52 0h0m-1543 46h0m210 0h0m261 0h0m105 0h0m366 0h0m52 0h0m52 0h0m53 0h0m209 0h0m52 0h0m53 0h0m52 0h0m157 0h0m-1648 45h0m209 0h0m53 0h0m104 0h0m314 0h0m105 0h0m104 0h0m53 0h0m209 0h0m52 0h0m53 0h0m104 0h0m105 0h0m52 0h0m-1543 46h0m680 0h0m209 0h0m262 0h0m52 0h0m52 0h0m210 0h0m104 0h0m53 0h0m-1596 45h0m419 0h0m52 0h0m209 0h0m52 0h0m105 0h0m52 0h0m210 0h0m366 0h0m157 0h0m156 0h0m-1385 45h0m104 0h0m52 0h0m105 0h0m209 0h0m105 0h0m52 0h0m52 0h0m210 0h0m157 0h0m157 0h0m104 0h0m209 0h0m53 0h0m-1962 46h0m366 0h0m53 0h0m52 0h0m52 0h0m157 0h0m262 0h0m209 0h0m105 0h0m209 0h0m52 0h0m52 0h0m-1229 45h0m209 0h0m53 0h0m157 0h0m52 0h0m157 0h0m628 0h0m156 0h0m53 0h0m52 0h0m-1752 46h0m157 0h0m52 0h0m105 0h0m52 0h0m366 0h0m52 0h0m105 0h0m157 0h0m52 0h0m157 0h0m314 0h0m104 0h0m157 0h0m105 0h0m-2014 45h0m419 0h0m157 0h0m52 0h0m52 0h0m157 0h0m157 0h0m52 0h0m157 0h0m53 0h0m52 0h0m209 0h0m157 0h0m52 0h0m-1438 46h0m105 0h0m209 0h0m314 0h0m52 0h0m52 0h0m523 0h0m53 0h0m52 0h0m52 0h0m105 0h0m-1438 45h0m52 0h0m52 0h0m105 0h0m52 0h0m105 0h0m52 0h0m157 0h0m52 0h0m52 0h0m53 0h0m104 0h0m105 0h0m105 0h0m104 0h0m105 0h0m52 0h0m52 0h0m157 0h0m105 0h0m-1909 45h0m575 0h0m52 0h0m53 0h0m157 0h0m104 0h0m210 0h0m261 0h0m-1177 46h0m105 0h0m209 0h0m105 0h0m104 0h0m157 0h0m52 0h0m262 0h0m471 0h0m313 0h0m-1961 45h0m419 0h0m52 0h0m52 0h0m105 0h0m104 0h0m105 0h0m366 0h0m52 0h0m262 0h0m52 0h0m262 0h0m104 0h0m-1595 46h0m314 0h0m261 0h0m210 0h0m157 0h0m104 0h0m942 0h0m-2328 45h0m732 0h0m53 0h0m261 0h0m53 0h0m104 0h0m680 0h0m157 0h0m261 0h0m105 0h0m-2170 45h0m470 0h0m53 0h0m52 0h0m52 0h0m157 0h0m628 0h0m52 0h0m52 0h0m53 0h0m366 0h0m-2485 46h0m366 0h0m262 0h0m523 0h0m105 0h0m941 0h0m-1804 45h0m209 0h0m52 0h0m419 0h0m1046 0h0m470 0h0m-1961 46h0m941 0h0m419 0h0m418 0h0m-2013 45h0m836 0h0m419 0h0m261 0h0m157 0h0m-2013 46h0m104 0h0m157 0h0m209 0h0m53 0h0m52 0h0m314 0h0m418 0h0m53 0h0m156 0h0m105 0h0m1046 0h0m-2380 45h0m53 0h0m261 0h0m314 0h0m105 0h0m209 0h0m157 0h0m104 0h0m-1177 45h0m53 0h0m261 0h0m366 0h0m367 0h0m366 0h0m52 0h0m523 0h0m261 0h0m-2432 46h0m471 0h0m314 0h0m314 0h0m52 0h0m209 0h0m157 0h0m628 0h0m261 0h0m-2536 45h0m523 0h0m209 0h0m157 0h0m209 0h0m105 0h0m941 0h0m418 0h0m-2536 46h0m575 0h0m105 0h0m575 0h0m105 0h0m-1334 45h0m157 0h0m157 0h0m261 0h0m105 0h0m104 0h0m576 0h0m209 0h0m105 0h0m470 0h0m105 0h0m209 0h0m-2327 46h0m209 0h0m105 0h0m104 0h0m52 0h0m105 0h0m628 0h0m-1386 45h0m313 0h0m53 0h0m261 0h0m471 0h0m157 0h0m52 0h0m157 0h0m105 0h0m52 0h0m418 0h0m210 0h0m313 0h0m-2222 45h0m418 0h0m105 0h0m157 0h0m52 0h0m104 0h0m157 0h0m157 0h0m889 0h0m-1856 46h0m209 0h0m1412 0h0m471 0h0m-2432 45h0m52 0h0m105 0h0m470 0h0m262 0h0m157 0h0m314 0h0m52 0h0m-1595 46h0m52 0h0m157 0h0m52 0h0m105 0h0m261 0h0m471 0h0m575 0h0m53 0h0m-1543 45h0m889 0h0m575 0h0m262 0h0m104 0h0m-1961 45h0m52 0h0m262 0h0m209 0h0m52 0h0m157 0h0m314 0h0m418 0h0m-1333 46h0m52 0h0m52 0h0m105 0h0m209 0h0m366 0h0m157 0h0m262 0h0m-1386 45h0m52 0h0m523 0h0m105 0h0m52 0h0m209 0h0m837 0h0m52 0h0m157 0h0m471 0h0m-2484 46h0m366 0h0m209 0h0m784 0h0m367 0h0m104 0h0m105 0h0m104 0h0m105 0h0m-2118 45h0m680 0h0m52 0h0m1046 0h0m52 0h0m366 0h0m-2170 46h0m627 0h0m105 0h0m837 0h0m52 0h0m262 0h0m313 0h0m-2065 45h0m104 0h0m680 0h0m105 0h0m104 0h0m628 0h0m680 0h0m-1909 45h0m418 0h0m53 0h0m836 0h0m314 0h0m-1961 46h0m104 0h0m53 0h0m52 0h0m209 0h0m53 0h0m366 0h0m52 0h0m366 0h0m262 0h0m523 0h0m52 0h0m-1700 45h0m157 0h0m157 0h0m523 0h0m628 0h0m261 0h0m-1700 46h0m314 0h0m105 0h0m157 0h0m261 0h0m418 0h0m157 0h0m-339 45h0m-1020 45h0m523 0h0m313 0h0m262 0h0m261 0h0m53 0h0m52 0h0m-1229 46h0m523 0h0m105 0h0m-1230 45h0m942 0h0m-131 46h0m209 0h0m262 0h0m52 0h0" stroke="#359a95"/><path d="M457 859h0m314 0h0m-445 46h0m680 0h0m-497 45h0m53 0h0m470 0h0m366 0h0m-863 45h0m105 0h0m105 0h0m680 0h0m209 0h0m-654 46h0m52 0h0m53 0h0m104 0h0m53 0h0m209 0h0m104 0h0m53 0h0m52 0h0m52 0h0m-1020 45h0m53 0h0m470 0h0m471 0h0m262 0h0m-1700 46h0m418 0h0m53 0h0m156 0h0m-392 45h0m366 0h0m576 0h0m523 0h0m-1020 46h0m209 0h0m1046 0h0m-1909 45h0m209 0h0m628 0h0m575 0h0m157 0h0m209 0h0m-810 45h0m575 0h0m-1438 46h0m523 0h0m209 0h0m52 0h0m52 0h0m105 0h0m209 0h0m209 0h0m314 0h0m105 0h0m157 0h0m-1752 45h0m680 0h0m261 0h0m105 0h0m157 0h0m104 0h0m157 0h0m262 0h0m-1439 46h0m105 0h0m157 0h0m157 0h0m104 0h0m53 0h0m157 0h0m209 0h0m104 0h0m-1333 45h0m261 0h0m471 0h0m157 0h0m52 0h0m209 0h0m262 0h0m-1386 46h0m418 0h0m209 0h0m210 0h0m52 0h0m52 0h0m262 0h0m784 0h0m-2170 45h0m209 0h0m52 0h0m209 0h0m942 0h0m-1438 45h0m575 0h0m471 0h0m313 0h0m262 0h0m314 0h0m52 0h0m-1752 46h0m680 0h0m209 0h0m-968 45h0m994 0h0m732 0h0m-1856 46h0m104 0h0m53 0h0m157 0h0m1464 0h0m105 0h0m104 0h0m-1961 45h0m157 0h0m104 0h0m314 0h0m732 0h0m-1072 45h0m785 0h0m157 0h0m157 0h0m-1491 46h0m1098 0h0m262 0h0m1150 0h0m-2118 45h0m785 0h0m575 0h0m-1491 46h0m53 0h0m261 0h0m105 0h0m837 0h0m-759 45h0m419 0h0m261 0h0m-1072 46h0m523 0h0m262 0h0m470 0h0m-1543 45h0m262 0h0m52 0h0m105 0h0m418 0h0m-967 45h0m157 0h0m104 0h0m419 0h0m-393 46h0m53 0h0m523 0h0m209 0h0m523 0h0m523 0h0m261 0h0m-2275 45h0m53 0h0m209 0h0m52 0h0m52 0h0m1936 0h0m-706 46h0m52 0h0m-1334 45h0m837 0h0m105 0h0m313 0h0m680 0h0m-2327 46h0m52 0h0m994 0h0m52 0h0m419 0h0m209 0h0m706 45h0m-2171 45h0m262 0h0m680 0h0m784 0h0m-2066 46h0m889 0h0m576 0h0m52 0h0m209 0h0m-1543 45h0m157 0h0m105 0h0m105 0h0m1725 0h0m-1176 46h0m1412 0h0m-1857 45h0m314 0h0m-445 45h0m53 0h0m732 0h0m575 0h0m209 0h0m-2118 46h0m732 0h0m53 0h0m52 0h0m262 0h0m575 0h0m-1072 45h0m104 0h0m157 0h0m209 0h0m105 0h0m523 0h0m889 0h0m-2275 46h0m471 0h0m575 0h0m-1177 45h0m262 0h0m627 0h0m262 0h0m-445 46h0m53 0h0m366 0h0m314 0h0m732 0h0m-1072 45h0m313 0h0m576 0h0m-1962 45h0m314 0h0m157 0h0m1465 0h0m209 0h0m-1805 46h0m785 0h0m-811 45h0m53 0h0m523 0h0m-602 46h0m366 0h0m52 0h0m942 0h0m314 0h0m104 0h0m-1490 45h0m837 0h0m366 0h0m-236 45h0m-392 46h0m314 0h0m-26 45h0" stroke="#36ae8e"/><path d="M379 723h0m679 91h0m-78 136h0m-601 45h0m104 0h0m1046 0h0m-444 137h0m837 0h0m-1648 45h0m1046 0h0m-471 91h0m419 0h0m209 0h0m-1125 45h0m105 0h0m314 0h0m314 0h0m366 0h0m52 0h0m209 0h0m-287 46h0m523 0h0m313 0h0m-1542 45h0m52 0h0m575 0h0m889 0h0m-1569 91h0m419 0h0m680 0h0m366 0h0m392 46h0m-1491 45h0m680 0h0m419 0h0m-1282 45h0m628 0h0m418 0h0m-340 46h0m628 0h0m366 0h0m-2014 136h0m419 0h0m1778 0h0m-2223 45h0m1831 0h0m261 0h0m105 0h0m-26 46h0m-1046 91h0m-392 45h0m-340 46h0m732 0h0m-994 90h0m52 0h0m916 46h0m-759 45h0m785 0h0m758 46h0m-1020 45h0m-1176 46h0m2248 0h0m-1176 45h0m157 0h0m-79 45h0m1438 46h0m-1176 45h0m-1360 91h0m2066 45h0m-288 46h0m-1203 91h0m-549 45h0m1098 0h0m-810 46h0m-131 45h0m209 0h0m1988 0h0m-2328 45h0m105 0h0m1569 0h0m-1177 46h0m131 45h0m1307 0h0m-575 91h0m-131 45h0m-314 91h0m53 0h0m366 0h0" stroke="#5dc777"/><path d="M1477 905h0m-706 45h0m967 136h0m-183 46h0m-993 181h0m810 46h0m-366 91h0m732 91h0m-810 136h0m209 0h0m105 91h0m1673 181h0m-2013 46h0m-236 227h0m1805 45h0m78 46h0m-2092 91h0m1674 90h0m261 0h0m-654 137h0m523 181h0m-1019 137h0m1229 45h0m-1752 45h0m-157 364h0" stroke="#a3da4d"/><path d="M1974 1313h0m-654 318h0m497 137h0m-1177 45h0m837 0h0m-1177 136h0m-131 318h0m27 227h0m1752 409h0m-445 227h0" stroke="#fbe738"/></g>
<rect x="870.8" y="60.1" width="307.8" height="359.0" fill="none" stroke="#000" stroke-width="1.7"/>
<text x="1024.1" y="49.3" font-size="25.6" text-anchor="middle">Dtnbp1-201</text>
<text x="1024.0" y="445.6" font-size="21.0" text-anchor="middle">spatial1</text>
<text x="857.3" y="243.7" font-size="21.0" text-anchor="middle" transform="rotate(-90 857.3 243.7)">spatial2</text>
<linearGradient id="va1" x1="0" y1="0" x2="0" y2="1"><stop offset="0.0000" stop-color="#f6e620"/><stop offset="0.0625" stop-color="#cde11d"/><stop offset="0.1250" stop-color="#a2da37"/><stop offset="0.1875" stop-color="#7ad151"/><stop offset="0.2500" stop-color="#58c765"/><stop offset="0.3125" stop-color="#3aba76"/><stop offset="0.3750" stop-color="#25ac82"/><stop offset="0.4375" stop-color="#1e9d89"/><stop offset="0.5000" stop-color="#218f8d"/><stop offset="0.5625" stop-color="#27808e"/><stop offset="0.6250" stop-color="#2d718e"/><stop offset="0.6875" stop-color="#34618d"/><stop offset="0.7500" stop-color="#3b518b"/><stop offset="0.8125" stop-color="#423f85"/><stop offset="0.8750" stop-color="#472c7a"/><stop offset="0.9375" stop-color="#481769"/><stop offset="1.0000" stop-color="#440154"/></linearGradient>
<rect x="1183.2" y="60.1" width="12.0" height="358.7" fill="url(#va1)" stroke="#000" stroke-width="1.5"/>
<line x1="1195.2" y1="418.7" x2="1202.6" y2="418.7" stroke="#000" stroke-width="1.7"/>
<text x="1209.8" y="427.3" font-size="21.0">0.0</text>
<line x1="1195.2" y1="368.8" x2="1202.6" y2="368.8" stroke="#000" stroke-width="1.7"/>
<text x="1209.8" y="377.4" font-size="21.0">0.5</text>
<line x1="1195.2" y1="319.0" x2="1202.6" y2="319.0" stroke="#000" stroke-width="1.7"/>
<text x="1209.8" y="327.6" font-size="21.0">1.0</text>
<line x1="1195.2" y1="269.1" x2="1202.6" y2="269.1" stroke="#000" stroke-width="1.7"/>
<text x="1209.8" y="277.7" font-size="21.0">1.5</text>
<line x1="1195.2" y1="219.3" x2="1202.6" y2="219.3" stroke="#000" stroke-width="1.7"/>
<text x="1209.8" y="227.9" font-size="21.0">2.0</text>
<line x1="1195.2" y1="169.4" x2="1202.6" y2="169.4" stroke="#000" stroke-width="1.7"/>
<text x="1209.8" y="178.0" font-size="21.0">2.5</text>
<line x1="1195.2" y1="119.5" x2="1202.6" y2="119.5" stroke="#000" stroke-width="1.7"/>
<text x="1209.8" y="128.1" font-size="21.0">3.0</text>
<line x1="1195.2" y1="69.7" x2="1202.6" y2="69.7" stroke="#000" stroke-width="1.7"/>
<text x="1209.8" y="78.3" font-size="21.0">3.5</text>
<clipPath id="ca2"><rect x="0" y="0" width="307.8" height="359.0"/></clipPath>
<rect x="1378.6" y="60.1" width="307.8" height="359.0" fill="#ececec"/>
<g clip-path="url(#ca2)" transform="translate(1378.6 60.1)">
<g filter="url(#blA)">
<path d="M276 92 q8 14 6 34 q10 18 14 40 l-6 2 q-8 -22 -18 -40 q-2 -18 -4 -34z" fill="#e0e2e9"/>
<path d="M262 318 q22 -22 30 -60 l8 4 q-6 40 -30 66 q-6 14 -2 30 l-18 0 q0 -22 12 -40z" fill="#e1e3e9"/>
<path d="M140 343 q40 9 80 0 l-4 6 q-38 7 -72 0z" fill="#cfc9d6"/>
<rect x="0" y="345" width="308" height="7" fill="#e0e0e2"/>
<path d="M70 333 q14 -8 30 -4 l-2 8 q-14 4 -26 2z" fill="#f6f6f6"/>
</g>
<ellipse cx="61" cy="348.5" rx="11.5" ry="8.5" fill="#beb6c5" filter="url(#blB)"/>
<path d="M4.0 348.5h0M10.1 348.5h0M16.2 348.5h0M22.3 348.5h0M28.4 348.5h0M34.5 348.5h0M40.6 348.5h0M46.7 348.5h0M52.8 348.5h0M58.9 348.5h0M65.0 348.5h0M71.1 348.5h0M77.2 348.5h0M83.3 348.5h0M89.4 348.5h0M95.5 348.5h0M101.6 348.5h0M107.7 348.5h0M113.8 348.5h0M119.9 348.5h0M126.0 348.5h0M132.1 348.5h0M138.2 348.5h0M144.3 348.5h0M150.4 348.5h0M156.5 348.5h0M162.6 348.5h0M168.7 348.5h0M174.8 348.5h0M180.9 348.5h0M187.0 348.5h0M193.1 348.5h0M199.2 348.5h0M205.3 348.5h0M211.4 348.5h0M217.5 348.5h0M223.6 348.5h0M229.7 348.5h0M235.8 348.5h0M241.9 348.5h0M248.0 348.5h0M254.1 348.5h0M260.2 348.5h0M266.3 348.5h0M272.4 348.5h0M278.5 348.5h0M284.6 348.5h0M290.7 348.5h0M296.8 348.5h0M302.9 348.5h0M309.0 348.5h0" stroke="#d6d6d9" stroke-width="3.6" stroke-linecap="round" fill="none" opacity="0.8"/>
<polygon points="74.5,72.3 103.2,76.8 116.3,81.4 129.4,85.9 147.7,90.5 166.0,95.0 179.1,99.6 186.9,104.1 200.0,108.6 207.8,113.2 210.5,117.7 218.3,122.3 226.1,126.8 228.8,131.3 231.4,135.9 239.2,140.4 241.8,145.0 249.7,149.5 257.5,154.1 260.1,158.6 268.0,163.1 270.6,167.7 278.4,172.2 281.1,176.8 288.9,181.3 286.3,185.9 288.9,190.4 291.5,194.9 294.1,199.5 291.5,204.0 288.9,208.6 286.3,213.1 283.7,217.6 286.3,222.2 283.7,226.7 286.3,231.3 283.7,235.8 281.1,240.4 278.4,244.9 281.1,249.4 283.7,254.0 281.1,258.5 278.4,263.1 281.1,267.6 278.4,272.1 275.8,276.7 273.2,281.2 270.6,285.8 273.2,290.3 270.6,294.9 268.0,299.4 260.1,303.9 257.5,308.5 254.9,313.0 247.1,317.6 244.5,322.1 236.6,326.7 234.0,331.2 226.1,335.7 218.3,340.3 129.4,340.3 121.5,335.7 113.7,331.2 111.1,326.7 92.8,322.1 84.9,317.6 40.5,313.0 37.9,308.5 30.0,303.9 27.4,299.4 24.8,294.9 22.2,290.3 19.6,285.8 16.9,281.2 14.3,276.7 16.9,272.1 14.3,267.6 16.9,263.1 14.3,258.5 16.9,254.0 14.3,249.4 16.9,244.9 14.3,240.4 16.9,235.8 14.3,231.3 16.9,226.7 19.6,222.2 16.9,217.6 19.6,213.1 32.6,208.6 30.0,204.0 27.4,199.5 30.0,194.9 27.4,190.4 30.0,185.9 32.6,181.3 30.0,176.8 32.6,172.2 35.3,167.7 32.6,163.1 35.3,158.6 32.6,154.1 35.3,149.5 32.6,145.0 35.3,140.4 32.6,135.9 30.0,131.3 27.4,126.8 19.6,122.3 22.2,117.7 19.6,113.2 16.9,108.6 19.6,104.1 16.9,99.6 19.6,95.0 16.9,90.5 19.6,85.9 22.2,81.4 24.8,76.8 27.4,72.3" fill="#e2d8ea" stroke="#e2d8ea" stroke-width="6" stroke-linejoin="round" filter="url(#blB)"/>
<path d="M16.9 126.8h0M19.6 185.9h0M16.9 190.4h0M22.2 190.4h0M19.6 194.9h0M16.9 199.5h0M14.3 204.0h0M16.9 208.6h0M22.2 208.6h0M48.3 317.6h0M64.0 317.6h0M74.5 317.6h0M77.1 322.1h0M90.2 326.7h0M56.2 331.2h0M66.6 331.2h0M53.6 335.7h0M58.8 335.7h0M50.9 340.3h0M56.2 340.3h0M61.4 340.3h0M66.6 340.3h0" stroke="#e6cdee" stroke-width="6" stroke-linecap="round" fill="none"/>
<polygon points="74.5,72.3 103.2,76.8 116.3,81.4 129.4,85.9 147.7,90.5 166.0,95.0 179.1,99.6 186.9,104.1 200.0,108.6 207.8,113.2 210.5,117.7 218.3,122.3 226.1,126.8 228.8,131.3 231.4,135.9 239.2,140.4 241.8,145.0 249.7,149.5 257.5,154.1 260.1,158.6 268.0,163.1 270.6,167.7 278.4,172.2 281.1,176.8 288.9,181.3 286.3,185.9 288.9,190.4 291.5,194.9 294.1,199.5 291.5,204.0 288.9,208.6 286.3,213.1 283.7,217.6 286.3,222.2 283.7,226.7 286.3,231.3 283.7,235.8 281.1,240.4 278.4,244.9 281.1,249.4 283.7,254.0 281.1,258.5 278.4,263.1 281.1,267.6 278.4,272.1 275.8,276.7 273.2,281.2 270.6,285.8 273.2,290.3 270.6,294.9 268.0,299.4 260.1,303.9 257.5,308.5 254.9,313.0 247.1,317.6 244.5,322.1 236.6,326.7 234.0,331.2 226.1,335.7 218.3,340.3 129.4,340.3 121.5,335.7 113.7,331.2 111.1,326.7 92.8,322.1 84.9,317.6 40.5,313.0 37.9,308.5 30.0,303.9 27.4,299.4 24.8,294.9 22.2,290.3 19.6,285.8 16.9,281.2 14.3,276.7 16.9,272.1 14.3,267.6 16.9,263.1 14.3,258.5 16.9,254.0 14.3,249.4 16.9,244.9 14.3,240.4 16.9,235.8 14.3,231.3 16.9,226.7 19.6,222.2 16.9,217.6 19.6,213.1 32.6,208.6 30.0,204.0 27.4,199.5 30.0,194.9 27.4,190.4 30.0,185.9 32.6,181.3 30.0,176.8 32.6,172.2 35.3,167.7 32.6,163.1 35.3,158.6 32.6,154.1 35.3,149.5 32.6,145.0 35.3,140.4 32.6,135.9 30.0,131.3 27.4,126.8 19.6,122.3 22.2,117.7 19.6,113.2 16.9,108.6 19.6,104.1 16.9,99.6 19.6,95.0 16.9,90.5 19.6,85.9 22.2,81.4 24.8,76.8 27.4,72.3" fill="#e6bdf0" stroke="#e6bdf0" stroke-width="3.6" stroke-linejoin="round"/>
</g>
<g transform="translate(1378.6 60.1) scale(0.1)" fill="none" stroke-linecap="round" stroke-width="36" filter="url(#blC)"><path d="M535 178h0m-261 545h0m52 0h0m53 0h0m52 0h0m52 0h0m52 0h0m157 0h0m53 0h0m-497 45h0m52 0h0m52 0h0m53 0h0m52 0h0m52 0h0m53 0h0m104 0h0m53 0h0m52 0h0m52 0h0m52 0h0m53 0h0m52 0h0m52 0h0m-810 46h0m52 0h0m52 0h0m53 0h0m52 0h0m52 0h0m52 0h0m53 0h0m52 0h0m52 0h0m53 0h0m52 0h0m52 0h0m53 0h0m52 0h0m52 0h0m52 0h0m53 0h0m52 0h0m-967 45h0m52 0h0m52 0h0m52 0h0m53 0h0m52 0h0m52 0h0m53 0h0m52 0h0m52 0h0m53 0h0m52 0h0m52 0h0m52 0h0m53 0h0m52 0h0m105 0h0m52 0h0m52 0h0m53 0h0m52 0h0m-1125 46h0m53 0h0m52 0h0m52 0h0m53 0h0m52 0h0m104 0h0m53 0h0m52 0h0m52 0h0m53 0h0m52 0h0m52 0h0m53 0h0m52 0h0m52 0h0m52 0h0m53 0h0m52 0h0m52 0h0m53 0h0m52 0h0m52 0h0m53 0h0m52 0h0m-1281 45h0m52 0h0m52 0h0m52 0h0m53 0h0m52 0h0m52 0h0m53 0h0m52 0h0m52 0h0m53 0h0m52 0h0m52 0h0m52 0h0m53 0h0m52 0h0m52 0h0m53 0h0m52 0h0m52 0h0m53 0h0m52 0h0m52 0h0m52 0h0m53 0h0m52 0h0m52 0h0m53 0h0m52 0h0m-1491 45h0m53 0h0m52 0h0m52 0h0m53 0h0m52 0h0m52 0h0m52 0h0m53 0h0m52 0h0m52 0h0m53 0h0m52 0h0m52 0h0m53 0h0m52 0h0m104 0h0m53 0h0m52 0h0m52 0h0m53 0h0m52 0h0m52 0h0m53 0h0m52 0h0m52 0h0m53 0h0m52 0h0m52 0h0m52 0h0m53 0h0m-1595 46h0m104 0h0m52 0h0m53 0h0m104 0h0m53 0h0m52 0h0m52 0h0m53 0h0m52 0h0m52 0h0m52 0h0m53 0h0m52 0h0m105 0h0m52 0h0m52 0h0m53 0h0m52 0h0m52 0h0m52 0h0m53 0h0m52 0h0m52 0h0m53 0h0m52 0h0m52 0h0m53 0h0m52 0h0m52 0h0m-1700 45h0m53 0h0m52 0h0m52 0h0m53 0h0m52 0h0m104 0h0m53 0h0m52 0h0m52 0h0m53 0h0m52 0h0m52 0h0m53 0h0m52 0h0m52 0h0m52 0h0m53 0h0m52 0h0m52 0h0m53 0h0m52 0h0m52 0h0m53 0h0m52 0h0m52 0h0m53 0h0m52 0h0m52 0h0m52 0h0m53 0h0m52 0h0m52 0h0m53 0h0m52 0h0m-1804 46h0m52 0h0m52 0h0m52 0h0m53 0h0m52 0h0m52 0h0m53 0h0m52 0h0m52 0h0m53 0h0m52 0h0m52 0h0m52 0h0m53 0h0m52 0h0m52 0h0m53 0h0m52 0h0m52 0h0m53 0h0m52 0h0m52 0h0m52 0h0m53 0h0m52 0h0m52 0h0m53 0h0m52 0h0m52 0h0m53 0h0m52 0h0m52 0h0m53 0h0m52 0h0m52 0h0m52 0h0m-1856 45h0m52 0h0m52 0h0m53 0h0m52 0h0m52 0h0m52 0h0m53 0h0m52 0h0m52 0h0m53 0h0m52 0h0m52 0h0m53 0h0m52 0h0m52 0h0m52 0h0m53 0h0m52 0h0m52 0h0m53 0h0m52 0h0m52 0h0m53 0h0m52 0h0m52 0h0m53 0h0m52 0h0m52 0h0m52 0h0m53 0h0m52 0h0m52 0h0m53 0h0m52 0h0m52 0h0m52 0h0m-1908 46h0m52 0h0m52 0h0m52 0h0m53 0h0m52 0h0m52 0h0m53 0h0m52 0h0m52 0h0m53 0h0m52 0h0m52 0h0m52 0h0m53 0h0m52 0h0m52 0h0m53 0h0m52 0h0m52 0h0m53 0h0m52 0h0m52 0h0m52 0h0m53 0h0m52 0h0m52 0h0m53 0h0m52 0h0m52 0h0m53 0h0m52 0h0m52 0h0m53 0h0m52 0h0m52 0h0m52 0h0m53 0h0m52 0h0m-2014 45h0m105 0h0m52 0h0m53 0h0m52 0h0m52 0h0m52 0h0m53 0h0m52 0h0m52 0h0m53 0h0m52 0h0m52 0h0m53 0h0m52 0h0m52 0h0m52 0h0m53 0h0m52 0h0m52 0h0m53 0h0m52 0h0m52 0h0m105 0h0m52 0h0m53 0h0m52 0h0m52 0h0m52 0h0m53 0h0m52 0h0m52 0h0m53 0h0m52 0h0m52 0h0m52 0h0m53 0h0m52 0h0m52 0h0m-1961 45h0m52 0h0m53 0h0m52 0h0m52 0h0m53 0h0m52 0h0m52 0h0m53 0h0m52 0h0m52 0h0m52 0h0m53 0h0m52 0h0m52 0h0m53 0h0m52 0h0m52 0h0m53 0h0m52 0h0m52 0h0m105 0h0m52 0h0m52 0h0m53 0h0m52 0h0m52 0h0m53 0h0m52 0h0m52 0h0m53 0h0m52 0h0m52 0h0m52 0h0m53 0h0m52 0h0m52 0h0m53 0h0m-1962 46h0m53 0h0m52 0h0m52 0h0m52 0h0m53 0h0m52 0h0m52 0h0m53 0h0m52 0h0m52 0h0m53 0h0m52 0h0m52 0h0m52 0h0m53 0h0m52 0h0m52 0h0m53 0h0m52 0h0m105 0h0m52 0h0m52 0h0m53 0h0m52 0h0m52 0h0m52 0h0m53 0h0m52 0h0m52 0h0m53 0h0m52 0h0m52 0h0m52 0h0m53 0h0m52 0h0m52 0h0m53 0h0m-1962 45h0m53 0h0m52 0h0m105 0h0m52 0h0m52 0h0m53 0h0m52 0h0m52 0h0m52 0h0m53 0h0m52 0h0m52 0h0m53 0h0m52 0h0m105 0h0m52 0h0m52 0h0m52 0h0m53 0h0m52 0h0m52 0h0m53 0h0m52 0h0m52 0h0m53 0h0m52 0h0m52 0h0m53 0h0m52 0h0m52 0h0m52 0h0m53 0h0m52 0h0m52 0h0m53 0h0m52 0h0m52 0h0m-2066 46h0m53 0h0m52 0h0m52 0h0m52 0h0m53 0h0m52 0h0m52 0h0m53 0h0m52 0h0m52 0h0m53 0h0m52 0h0m52 0h0m52 0h0m53 0h0m52 0h0m52 0h0m105 0h0m105 0h0m52 0h0m52 0h0m53 0h0m52 0h0m52 0h0m52 0h0m53 0h0m52 0h0m52 0h0m53 0h0m52 0h0m52 0h0m52 0h0m53 0h0m104 0h0m53 0h0m52 0h0m52 0h0m-2066 45h0m53 0h0m52 0h0m52 0h0m53 0h0m52 0h0m52 0h0m53 0h0m52 0h0m52 0h0m52 0h0m53 0h0m52 0h0m52 0h0m53 0h0m52 0h0m52 0h0m53 0h0m52 0h0m52 0h0m52 0h0m53 0h0m52 0h0m105 0h0m52 0h0m52 0h0m53 0h0m52 0h0m52 0h0m53 0h0m52 0h0m104 0h0m53 0h0m52 0h0m52 0h0m53 0h0m52 0h0m52 0h0m52 0h0m53 0h0m-2118 46h0m52 0h0m52 0h0m52 0h0m53 0h0m52 0h0m52 0h0m53 0h0m52 0h0m52 0h0m53 0h0m52 0h0m52 0h0m52 0h0m53 0h0m52 0h0m52 0h0m53 0h0m52 0h0m52 0h0m53 0h0m52 0h0m52 0h0m53 0h0m52 0h0m52 0h0m52 0h0m53 0h0m52 0h0m52 0h0m53 0h0m52 0h0m52 0h0m52 0h0m53 0h0m52 0h0m52 0h0m53 0h0m52 0h0m52 0h0m53 0h0m52 0h0m52 0h0m-2223 45h0m53 0h0m52 0h0m52 0h0m53 0h0m52 0h0m52 0h0m53 0h0m52 0h0m52 0h0m52 0h0m53 0h0m52 0h0m52 0h0m53 0h0m52 0h0m52 0h0m105 0h0m52 0h0m52 0h0m53 0h0m52 0h0m52 0h0m53 0h0m104 0h0m53 0h0m52 0h0m52 0h0m53 0h0m52 0h0m52 0h0m52 0h0m53 0h0m52 0h0m52 0h0m53 0h0m52 0h0m52 0h0m52 0h0m53 0h0m52 0h0m-2223 45h0m53 0h0m52 0h0m52 0h0m52 0h0m53 0h0m52 0h0m52 0h0m53 0h0m52 0h0m52 0h0m53 0h0m52 0h0m52 0h0m52 0h0m53 0h0m52 0h0m52 0h0m53 0h0m52 0h0m52 0h0m53 0h0m52 0h0m52 0h0m53 0h0m52 0h0m52 0h0m52 0h0m53 0h0m52 0h0m52 0h0m53 0h0m52 0h0m52 0h0m52 0h0m53 0h0m52 0h0m52 0h0m53 0h0m52 0h0m52 0h0m53 0h0m52 0h0m52 0h0m53 0h0m52 0h0m-2328 46h0m53 0h0m52 0h0m52 0h0m53 0h0m52 0h0m52 0h0m53 0h0m52 0h0m52 0h0m52 0h0m53 0h0m52 0h0m52 0h0m53 0h0m52 0h0m52 0h0m53 0h0m52 0h0m52 0h0m52 0h0m53 0h0m104 0h0m53 0h0m52 0h0m52 0h0m53 0h0m52 0h0m52 0h0m105 0h0m52 0h0m52 0h0m53 0h0m52 0h0m52 0h0m53 0h0m52 0h0m52 0h0m52 0h0m53 0h0m52 0h0m52 0h0m53 0h0m52 0h0m-2380 45h0m53 0h0m52 0h0m52 0h0m52 0h0m53 0h0m52 0h0m52 0h0m53 0h0m52 0h0m52 0h0m105 0h0m52 0h0m52 0h0m53 0h0m52 0h0m105 0h0m52 0h0m52 0h0m53 0h0m52 0h0m105 0h0m52 0h0m52 0h0m52 0h0m53 0h0m52 0h0m105 0h0m52 0h0m52 0h0m52 0h0m53 0h0m52 0h0m52 0h0m53 0h0m52 0h0m52 0h0m53 0h0m52 0h0m52 0h0m53 0h0m52 0h0m52 0h0m52 0h0m-2484 46h0m52 0h0m53 0h0m52 0h0m52 0h0m53 0h0m52 0h0m52 0h0m53 0h0m52 0h0m52 0h0m52 0h0m53 0h0m52 0h0m52 0h0m53 0h0m52 0h0m52 0h0m53 0h0m52 0h0m52 0h0m52 0h0m53 0h0m52 0h0m157 0h0m52 0h0m53 0h0m52 0h0m52 0h0m53 0h0m52 0h0m52 0h0m157 0h0m52 0h0m53 0h0m52 0h0m52 0h0m52 0h0m53 0h0m52 0h0m52 0h0m53 0h0m52 0h0m52 0h0m53 0h0m-2485 45h0m53 0h0m52 0h0m52 0h0m52 0h0m53 0h0m52 0h0m52 0h0m53 0h0m52 0h0m52 0h0m53 0h0m52 0h0m52 0h0m52 0h0m53 0h0m52 0h0m52 0h0m53 0h0m52 0h0m52 0h0m53 0h0m52 0h0m52 0h0m53 0h0m52 0h0m52 0h0m52 0h0m53 0h0m52 0h0m52 0h0m105 0h0m52 0h0m52 0h0m53 0h0m52 0h0m52 0h0m53 0h0m52 0h0m52 0h0m53 0h0m52 0h0m52 0h0m53 0h0m52 0h0m52 0h0m52 0h0m53 0h0m52 0h0m-2693 45h0m104 0h0m52 0h0m53 0h0m52 0h0m52 0h0m53 0h0m52 0h0m52 0h0m53 0h0m52 0h0m52 0h0m52 0h0m53 0h0m52 0h0m52 0h0m53 0h0m52 0h0m52 0h0m53 0h0m52 0h0m52 0h0m52 0h0m53 0h0m52 0h0m52 0h0m53 0h0m52 0h0m52 0h0m53 0h0m52 0h0m52 0h0m105 0h0m52 0h0m52 0h0m53 0h0m52 0h0m52 0h0m53 0h0m52 0h0m52 0h0m52 0h0m53 0h0m52 0h0m52 0h0m53 0h0m52 0h0m52 0h0m53 0h0m52 0h0m-2694 46h0m53 0h0m52 0h0m52 0h0m53 0h0m52 0h0m52 0h0m52 0h0m53 0h0m52 0h0m52 0h0m53 0h0m52 0h0m52 0h0m53 0h0m52 0h0m52 0h0m52 0h0m53 0h0m52 0h0m52 0h0m53 0h0m52 0h0m52 0h0m53 0h0m52 0h0m52 0h0m53 0h0m52 0h0m52 0h0m52 0h0m53 0h0m52 0h0m52 0h0m53 0h0m52 0h0m52 0h0m52 0h0m105 0h0m52 0h0m53 0h0m52 0h0m52 0h0m53 0h0m52 0h0m52 0h0m53 0h0m52 0h0m52 0h0m52 0h0m53 0h0m52 0h0m-2693 45h0m104 0h0m52 0h0m53 0h0m52 0h0m52 0h0m53 0h0m52 0h0m52 0h0m53 0h0m52 0h0m52 0h0m52 0h0m53 0h0m52 0h0m52 0h0m53 0h0m52 0h0m52 0h0m53 0h0m52 0h0m52 0h0m52 0h0m53 0h0m52 0h0m52 0h0m53 0h0m52 0h0m52 0h0m53 0h0m52 0h0m52 0h0m53 0h0m52 0h0m104 0h0m53 0h0m52 0h0m52 0h0m53 0h0m52 0h0m52 0h0m52 0h0m53 0h0m52 0h0m52 0h0m53 0h0m52 0h0m52 0h0m53 0h0m52 0h0m52 0h0m-2746 46h0m105 0h0m52 0h0m53 0h0m52 0h0m104 0h0m53 0h0m52 0h0m52 0h0m53 0h0m52 0h0m52 0h0m53 0h0m52 0h0m52 0h0m52 0h0m53 0h0m52 0h0m52 0h0m53 0h0m52 0h0m52 0h0m53 0h0m52 0h0m52 0h0m53 0h0m52 0h0m52 0h0m52 0h0m53 0h0m52 0h0m52 0h0m53 0h0m52 0h0m52 0h0m52 0h0m53 0h0m52 0h0m105 0h0m52 0h0m52 0h0m53 0h0m52 0h0m52 0h0m53 0h0m52 0h0m52 0h0m52 0h0m53 0h0m52 0h0m-2746 45h0m157 0h0m52 0h0m53 0h0m52 0h0m52 0h0m53 0h0m52 0h0m52 0h0m53 0h0m52 0h0m52 0h0m52 0h0m53 0h0m52 0h0m52 0h0m53 0h0m52 0h0m52 0h0m53 0h0m52 0h0m52 0h0m52 0h0m53 0h0m52 0h0m52 0h0m53 0h0m52 0h0m52 0h0m53 0h0m52 0h0m52 0h0m53 0h0m52 0h0m52 0h0m52 0h0m53 0h0m52 0h0m52 0h0m53 0h0m52 0h0m52 0h0m52 0h0m53 0h0m52 0h0m52 0h0m53 0h0m52 0h0m52 0h0m53 0h0m52 0h0m52 0h0m-2746 46h0m53 0h0m104 0h0m53 0h0m52 0h0m52 0h0m52 0h0m53 0h0m52 0h0m105 0h0m52 0h0m52 0h0m53 0h0m52 0h0m52 0h0m52 0h0m53 0h0m52 0h0m52 0h0m53 0h0m52 0h0m52 0h0m53 0h0m52 0h0m52 0h0m53 0h0m52 0h0m52 0h0m52 0h0m53 0h0m52 0h0m52 0h0m53 0h0m52 0h0m104 0h0m53 0h0m52 0h0m52 0h0m53 0h0m52 0h0m52 0h0m53 0h0m52 0h0m52 0h0m53 0h0m52 0h0m52 0h0m52 0h0m53 0h0m52 0h0m-2693 45h0m52 0h0m104 0h0m53 0h0m52 0h0m52 0h0m53 0h0m52 0h0m52 0h0m53 0h0m52 0h0m52 0h0m52 0h0m53 0h0m104 0h0m53 0h0m52 0h0m52 0h0m53 0h0m52 0h0m52 0h0m52 0h0m53 0h0m52 0h0m52 0h0m53 0h0m52 0h0m52 0h0m53 0h0m52 0h0m52 0h0m53 0h0m52 0h0m52 0h0m52 0h0m53 0h0m52 0h0m52 0h0m53 0h0m52 0h0m52 0h0m52 0h0m53 0h0m52 0h0m52 0h0m53 0h0m52 0h0m52 0h0m53 0h0m52 0h0m-2694 45h0m53 0h0m52 0h0m52 0h0m53 0h0m52 0h0m52 0h0m52 0h0m53 0h0m52 0h0m52 0h0m53 0h0m52 0h0m52 0h0m53 0h0m52 0h0m52 0h0m52 0h0m53 0h0m104 0h0m53 0h0m52 0h0m52 0h0m53 0h0m52 0h0m52 0h0m53 0h0m52 0h0m52 0h0m52 0h0m53 0h0m52 0h0m52 0h0m53 0h0m52 0h0m52 0h0m52 0h0m53 0h0m52 0h0m52 0h0m53 0h0m52 0h0m52 0h0m53 0h0m52 0h0m52 0h0m53 0h0m52 0h0m52 0h0m52 0h0m53 0h0m-2641 46h0m52 0h0m52 0h0m52 0h0m53 0h0m52 0h0m52 0h0m53 0h0m52 0h0m52 0h0m53 0h0m52 0h0m104 0h0m53 0h0m52 0h0m52 0h0m53 0h0m52 0h0m52 0h0m53 0h0m52 0h0m52 0h0m52 0h0m53 0h0m52 0h0m52 0h0m53 0h0m52 0h0m52 0h0m53 0h0m52 0h0m52 0h0m53 0h0m52 0h0m52 0h0m52 0h0m53 0h0m52 0h0m52 0h0m53 0h0m52 0h0m52 0h0m52 0h0m53 0h0m52 0h0m52 0h0m53 0h0m52 0h0m52 0h0m53 0h0m-2642 45h0m53 0h0m52 0h0m52 0h0m53 0h0m52 0h0m52 0h0m52 0h0m53 0h0m52 0h0m52 0h0m53 0h0m52 0h0m52 0h0m53 0h0m52 0h0m52 0h0m52 0h0m53 0h0m52 0h0m52 0h0m53 0h0m52 0h0m52 0h0m53 0h0m52 0h0m52 0h0m53 0h0m52 0h0m52 0h0m52 0h0m53 0h0m52 0h0m52 0h0m53 0h0m52 0h0m52 0h0m52 0h0m53 0h0m52 0h0m157 0h0m52 0h0m53 0h0m52 0h0m52 0h0m53 0h0m52 0h0m52 0h0m52 0h0m53 0h0m-2694 46h0m53 0h0m52 0h0m52 0h0m52 0h0m53 0h0m52 0h0m52 0h0m53 0h0m52 0h0m52 0h0m53 0h0m52 0h0m52 0h0m52 0h0m53 0h0m52 0h0m52 0h0m53 0h0m52 0h0m52 0h0m53 0h0m52 0h0m52 0h0m52 0h0m53 0h0m52 0h0m52 0h0m53 0h0m52 0h0m52 0h0m53 0h0m52 0h0m52 0h0m53 0h0m52 0h0m104 0h0m53 0h0m52 0h0m52 0h0m53 0h0m52 0h0m52 0h0m52 0h0m53 0h0m52 0h0m52 0h0m53 0h0m52 0h0m52 0h0m53 0h0m52 0h0m-2694 45h0m53 0h0m52 0h0m105 0h0m52 0h0m52 0h0m52 0h0m53 0h0m52 0h0m52 0h0m105 0h0m52 0h0m53 0h0m52 0h0m52 0h0m52 0h0m53 0h0m52 0h0m52 0h0m53 0h0m52 0h0m52 0h0m53 0h0m104 0h0m53 0h0m52 0h0m52 0h0m52 0h0m53 0h0m52 0h0m52 0h0m53 0h0m52 0h0m52 0h0m105 0h0m52 0h0m52 0h0m53 0h0m52 0h0m52 0h0m53 0h0m52 0h0m52 0h0m53 0h0m104 0h0m52 0h0m53 0h0m-2694 46h0m53 0h0m52 0h0m52 0h0m52 0h0m53 0h0m52 0h0m52 0h0m53 0h0m52 0h0m52 0h0m53 0h0m52 0h0m52 0h0m52 0h0m53 0h0m52 0h0m52 0h0m53 0h0m52 0h0m52 0h0m53 0h0m52 0h0m52 0h0m52 0h0m53 0h0m52 0h0m52 0h0m53 0h0m52 0h0m52 0h0m53 0h0m52 0h0m52 0h0m53 0h0m52 0h0m52 0h0m52 0h0m53 0h0m52 0h0m52 0h0m53 0h0m52 0h0m52 0h0m52 0h0m53 0h0m52 0h0m52 0h0m53 0h0m52 0h0m52 0h0m53 0h0m-2642 45h0m53 0h0m52 0h0m52 0h0m53 0h0m52 0h0m52 0h0m52 0h0m53 0h0m52 0h0m52 0h0m53 0h0m52 0h0m52 0h0m105 0h0m52 0h0m52 0h0m53 0h0m52 0h0m52 0h0m53 0h0m52 0h0m52 0h0m53 0h0m52 0h0m52 0h0m53 0h0m52 0h0m52 0h0m52 0h0m53 0h0m52 0h0m52 0h0m53 0h0m52 0h0m52 0h0m52 0h0m53 0h0m52 0h0m52 0h0m53 0h0m52 0h0m52 0h0m53 0h0m52 0h0m52 0h0m53 0h0m52 0h0m52 0h0m52 0h0m-2641 45h0m53 0h0m52 0h0m52 0h0m52 0h0m53 0h0m52 0h0m52 0h0m53 0h0m52 0h0m52 0h0m53 0h0m52 0h0m52 0h0m52 0h0m53 0h0m52 0h0m52 0h0m53 0h0m52 0h0m52 0h0m53 0h0m52 0h0m52 0h0m52 0h0m53 0h0m52 0h0m52 0h0m53 0h0m52 0h0m52 0h0m53 0h0m52 0h0m52 0h0m53 0h0m52 0h0m52 0h0m52 0h0m53 0h0m52 0h0m52 0h0m53 0h0m52 0h0m52 0h0m52 0h0m53 0h0m52 0h0m52 0h0m53 0h0m52 0h0m52 0h0m53 0h0m-2642 46h0m53 0h0m52 0h0m52 0h0m53 0h0m52 0h0m52 0h0m52 0h0m53 0h0m52 0h0m52 0h0m53 0h0m52 0h0m52 0h0m53 0h0m52 0h0m52 0h0m52 0h0m53 0h0m52 0h0m52 0h0m53 0h0m52 0h0m52 0h0m53 0h0m52 0h0m52 0h0m53 0h0m52 0h0m52 0h0m52 0h0m53 0h0m52 0h0m52 0h0m53 0h0m52 0h0m52 0h0m52 0h0m53 0h0m52 0h0m52 0h0m53 0h0m52 0h0m52 0h0m53 0h0m52 0h0m52 0h0m53 0h0m52 0h0m52 0h0m52 0h0m53 0h0m-2694 45h0m53 0h0m52 0h0m52 0h0m52 0h0m53 0h0m52 0h0m52 0h0m105 0h0m52 0h0m53 0h0m52 0h0m52 0h0m52 0h0m53 0h0m52 0h0m52 0h0m53 0h0m52 0h0m52 0h0m53 0h0m52 0h0m52 0h0m52 0h0m53 0h0m52 0h0m52 0h0m53 0h0m52 0h0m52 0h0m53 0h0m52 0h0m52 0h0m53 0h0m52 0h0m52 0h0m52 0h0m53 0h0m52 0h0m52 0h0m53 0h0m52 0h0m52 0h0m52 0h0m53 0h0m52 0h0m52 0h0m53 0h0m52 0h0m52 0h0m53 0h0m-2642 46h0m53 0h0m52 0h0m52 0h0m53 0h0m52 0h0m52 0h0m52 0h0m53 0h0m52 0h0m52 0h0m53 0h0m52 0h0m52 0h0m53 0h0m52 0h0m52 0h0m52 0h0m53 0h0m52 0h0m52 0h0m53 0h0m52 0h0m52 0h0m53 0h0m52 0h0m52 0h0m53 0h0m52 0h0m52 0h0m52 0h0m53 0h0m52 0h0m52 0h0m53 0h0m52 0h0m52 0h0m52 0h0m53 0h0m52 0h0m52 0h0m53 0h0m52 0h0m52 0h0m53 0h0m52 0h0m52 0h0m53 0h0m52 0h0m52 0h0m52 0h0m-2641 45h0m53 0h0m52 0h0m52 0h0m105 0h0m52 0h0m52 0h0m53 0h0m52 0h0m52 0h0m53 0h0m52 0h0m52 0h0m52 0h0m53 0h0m52 0h0m52 0h0m53 0h0m52 0h0m52 0h0m53 0h0m52 0h0m52 0h0m52 0h0m53 0h0m52 0h0m52 0h0m53 0h0m52 0h0m52 0h0m53 0h0m52 0h0m52 0h0m53 0h0m52 0h0m52 0h0m52 0h0m53 0h0m52 0h0m52 0h0m53 0h0m52 0h0m52 0h0m52 0h0m53 0h0m52 0h0m52 0h0m53 0h0m52 0h0m52 0h0m53 0h0m-2642 45h0m53 0h0m52 0h0m52 0h0m53 0h0m52 0h0m52 0h0m52 0h0m53 0h0m52 0h0m52 0h0m53 0h0m52 0h0m52 0h0m53 0h0m52 0h0m52 0h0m52 0h0m53 0h0m52 0h0m52 0h0m53 0h0m52 0h0m52 0h0m53 0h0m52 0h0m52 0h0m53 0h0m52 0h0m52 0h0m52 0h0m53 0h0m52 0h0m52 0h0m53 0h0m52 0h0m52 0h0m52 0h0m53 0h0m52 0h0m52 0h0m53 0h0m52 0h0m52 0h0m53 0h0m52 0h0m52 0h0m53 0h0m52 0h0m52 0h0m52 0h0m-2641 46h0m53 0h0m52 0h0m52 0h0m52 0h0m53 0h0m52 0h0m52 0h0m53 0h0m52 0h0m52 0h0m53 0h0m52 0h0m52 0h0m52 0h0m105 0h0m52 0h0m53 0h0m52 0h0m52 0h0m53 0h0m52 0h0m52 0h0m52 0h0m53 0h0m52 0h0m52 0h0m53 0h0m52 0h0m157 0h0m52 0h0m53 0h0m104 0h0m52 0h0m53 0h0m52 0h0m52 0h0m53 0h0m52 0h0m52 0h0m52 0h0m53 0h0m52 0h0m52 0h0m53 0h0m52 0h0m52 0h0m-2589 45h0m53 0h0m52 0h0m52 0h0m53 0h0m52 0h0m52 0h0m52 0h0m53 0h0m52 0h0m52 0h0m53 0h0m52 0h0m52 0h0m53 0h0m52 0h0m52 0h0m52 0h0m53 0h0m52 0h0m52 0h0m53 0h0m52 0h0m52 0h0m53 0h0m104 0h0m53 0h0m52 0h0m52 0h0m52 0h0m53 0h0m52 0h0m52 0h0m53 0h0m52 0h0m52 0h0m52 0h0m53 0h0m52 0h0m52 0h0m53 0h0m52 0h0m52 0h0m53 0h0m52 0h0m52 0h0m53 0h0m52 0h0m52 0h0m-2536 46h0m52 0h0m52 0h0m52 0h0m53 0h0m52 0h0m52 0h0m53 0h0m52 0h0m52 0h0m53 0h0m52 0h0m52 0h0m52 0h0m53 0h0m52 0h0m52 0h0m53 0h0m104 0h0m53 0h0m52 0h0m52 0h0m52 0h0m53 0h0m52 0h0m52 0h0m53 0h0m52 0h0m52 0h0m53 0h0m52 0h0m52 0h0m53 0h0m52 0h0m52 0h0m52 0h0m53 0h0m52 0h0m52 0h0m53 0h0m52 0h0m52 0h0m52 0h0m53 0h0m52 0h0m52 0h0m53 0h0m52 0h0m-2484 45h0m52 0h0m52 0h0m53 0h0m52 0h0m52 0h0m52 0h0m53 0h0m52 0h0m52 0h0m53 0h0m52 0h0m52 0h0m53 0h0m104 0h0m52 0h0m53 0h0m52 0h0m52 0h0m53 0h0m52 0h0m52 0h0m53 0h0m52 0h0m52 0h0m53 0h0m52 0h0m52 0h0m52 0h0m53 0h0m52 0h0m52 0h0m53 0h0m52 0h0m52 0h0m52 0h0m53 0h0m52 0h0m52 0h0m53 0h0m52 0h0m52 0h0m53 0h0m52 0h0m52 0h0m53 0h0m52 0h0m52 0h0m-2484 46h0m52 0h0m52 0h0m53 0h0m52 0h0m52 0h0m53 0h0m52 0h0m52 0h0m53 0h0m52 0h0m52 0h0m52 0h0m53 0h0m52 0h0m52 0h0m53 0h0m52 0h0m52 0h0m53 0h0m52 0h0m52 0h0m52 0h0m53 0h0m52 0h0m52 0h0m53 0h0m52 0h0m52 0h0m53 0h0m52 0h0m52 0h0m53 0h0m52 0h0m52 0h0m105 0h0m52 0h0m52 0h0m53 0h0m52 0h0m52 0h0m52 0h0m53 0h0m52 0h0m52 0h0m53 0h0m52 0h0m-2432 45h0m52 0h0m53 0h0m52 0h0m52 0h0m52 0h0m53 0h0m52 0h0m52 0h0m53 0h0m52 0h0m52 0h0m53 0h0m52 0h0m52 0h0m52 0h0m53 0h0m52 0h0m52 0h0m53 0h0m52 0h0m52 0h0m53 0h0m52 0h0m52 0h0m53 0h0m52 0h0m52 0h0m52 0h0m53 0h0m52 0h0m52 0h0m53 0h0m52 0h0m52 0h0m52 0h0m53 0h0m52 0h0m52 0h0m53 0h0m52 0h0m52 0h0m53 0h0m52 0h0m52 0h0m53 0h0m52 0h0m-2380 45h0m52 0h0m53 0h0m52 0h0m52 0h0m53 0h0m52 0h0m52 0h0m53 0h0m52 0h0m52 0h0m52 0h0m53 0h0m52 0h0m52 0h0m53 0h0m52 0h0m52 0h0m53 0h0m52 0h0m52 0h0m52 0h0m53 0h0m52 0h0m52 0h0m53 0h0m52 0h0m52 0h0m53 0h0m52 0h0m52 0h0m53 0h0m52 0h0m52 0h0m52 0h0m53 0h0m52 0h0m52 0h0m53 0h0m52 0h0m52 0h0m52 0h0m53 0h0m52 0h0m52 0h0m-2222 46h0m52 0h0m52 0h0m52 0h0m53 0h0m52 0h0m52 0h0m53 0h0m52 0h0m52 0h0m53 0h0m52 0h0m52 0h0m52 0h0m53 0h0m52 0h0m52 0h0m53 0h0m52 0h0m52 0h0m53 0h0m52 0h0m52 0h0m53 0h0m52 0h0m52 0h0m52 0h0m53 0h0m52 0h0m52 0h0m53 0h0m52 0h0m52 0h0m52 0h0m53 0h0m52 0h0m52 0h0m53 0h0m52 0h0m52 0h0m53 0h0m52 0h0m52 0h0m-2170 45h0m52 0h0m52 0h0m53 0h0m52 0h0m52 0h0m53 0h0m52 0h0m52 0h0m52 0h0m53 0h0m52 0h0m52 0h0m53 0h0m52 0h0m52 0h0m53 0h0m52 0h0m52 0h0m52 0h0m53 0h0m52 0h0m52 0h0m53 0h0m52 0h0m52 0h0m105 0h0m105 0h0m52 0h0m52 0h0m52 0h0m53 0h0m52 0h0m52 0h0m53 0h0m52 0h0m52 0h0m52 0h0m53 0h0m52 0h0m-2066 46h0m157 0h0m105 0h0m104 0h0m53 0h0m52 0h0m52 0h0m52 0h0m53 0h0m52 0h0m52 0h0m53 0h0m52 0h0m52 0h0m53 0h0m52 0h0m52 0h0m53 0h0m52 0h0m52 0h0m52 0h0m53 0h0m52 0h0m52 0h0m53 0h0m52 0h0m52 0h0m52 0h0m53 0h0m52 0h0m105 0h0m52 0h0m52 0h0m53 0h0m-1700 45h0m157 0h0m52 0h0m52 0h0m53 0h0m52 0h0m52 0h0m53 0h0m52 0h0m52 0h0m52 0h0m53 0h0m52 0h0m52 0h0m53 0h0m52 0h0m52 0h0m53 0h0m52 0h0m52 0h0m53 0h0m52 0h0m52 0h0m52 0h0m53 0h0m52 0h0m52 0h0m53 0h0m52 0h0m52 0h0m52 0h0m-1542 45h0m209 0h0m52 0h0m52 0h0m53 0h0m52 0h0m52 0h0m53 0h0m52 0h0m52 0h0m53 0h0m52 0h0m52 0h0m52 0h0m53 0h0m52 0h0m52 0h0m53 0h0m52 0h0m52 0h0m52 0h0m53 0h0m52 0h0m52 0h0m53 0h0m52 0h0m-1804 46h0m104 0h0m471 0h0m52 0h0m53 0h0m52 0h0m52 0h0m52 0h0m53 0h0m52 0h0m52 0h0m53 0h0m52 0h0m52 0h0m53 0h0m52 0h0m52 0h0m53 0h0m52 0h0m52 0h0m52 0h0m53 0h0m52 0h0m52 0h0m53 0h0m52 0h0m-1805 45h0m53 0h0m627 0h0m53 0h0m52 0h0m52 0h0m53 0h0m52 0h0m52 0h0m53 0h0m52 0h0m52 0h0m105 0h0m52 0h0m52 0h0m53 0h0m52 0h0m52 0h0m52 0h0m53 0h0m104 0h0m-1699 46h0m52 0h0m52 0h0m628 0h0m52 0h0m52 0h0m53 0h0m52 0h0m52 0h0m53 0h0m52 0h0m52 0h0m53 0h0m52 0h0m52 0h0m53 0h0m52 0h0m52 0h0m52 0h0m53 0h0m52 0h0" stroke="#2c0a3c"/><path d="M1006 995h0m-758 46h0m1124 318h0m-863 45h0m680 0h0m183 46h0m-1046 91h0m916 45h0m418 0h0m262 91h0m-393 45h0m366 0h0m183 46h0m-156 90h0m235 46h0m104 91h0m-1569 91h0m-392 45h0m680 0h0m183 45h0m-340 46h0m1438 45h0m53 0h0m-1569 91h0m732 0h0m-575 91h0m-550 227h0m1360 91h0m53 0h0m209 0h0m-837 91h0m628 272h0m496 46h0m-52 181h0m-1700 46h0" stroke="#3b8897"/><path d="M1268 1450h0m941 0h0m-706 227h0m105 91h0m523 0h0m-183 45h0m993 182h0m-889 91h0m811 136h0m-759 136h0m576 0h0m-2118 227h0m366 182h0m26 136h0m1124 46h0m-209 181h0m-131 227h0" stroke="#359a95"/><path d="M483 905h0m0 181h0m915 227h0m157 182h0m-653 227h0m313 0h0m811 227h0" stroke="#36ae8e"/><path d="M2601 1586h0m-2118 409h0m1543 318h0m-1700 45h0m1151 454h0" stroke="#5dc777"/><path d="M1032 859h0m-575 182h0m575 0h0m393 227h0m601 227h0m-471 273h0" stroke="#fbe738"/></g>
<rect x="1378.6" y="60.1" width="307.8" height="359.0" fill="none" stroke="#000" stroke-width="1.7"/>
<text x="1531.9" y="49.3" font-size="25.6" text-anchor="middle">Dtnbp1-204</text>
<text x="1531.8" y="445.6" font-size="21.0" text-anchor="middle">spatial1</text>
<text x="1365.1" y="243.7" font-size="21.0" text-anchor="middle" transform="rotate(-90 1365.1 243.7)">spatial2</text>
<linearGradient id="va2" x1="0" y1="0" x2="0" y2="1"><stop offset="0.0000" stop-color="#f6e620"/><stop offset="0.0625" stop-color="#cde11d"/><stop offset="0.1250" stop-color="#a2da37"/><stop offset="0.1875" stop-color="#7ad151"/><stop offset="0.2500" stop-color="#58c765"/><stop offset="0.3125" stop-color="#3aba76"/><stop offset="0.3750" stop-color="#25ac82"/><stop offset="0.4375" stop-color="#1e9d89"/><stop offset="0.5000" stop-color="#218f8d"/><stop offset="0.5625" stop-color="#27808e"/><stop offset="0.6250" stop-color="#2d718e"/><stop offset="0.6875" stop-color="#34618d"/><stop offset="0.7500" stop-color="#3b518b"/><stop offset="0.8125" stop-color="#423f85"/><stop offset="0.8750" stop-color="#472c7a"/><stop offset="0.9375" stop-color="#481769"/><stop offset="1.0000" stop-color="#440154"/></linearGradient>
<rect x="1691.2" y="60.1" width="12.0" height="358.7" fill="url(#va2)" stroke="#000" stroke-width="1.5"/>
<line x1="1703.2" y1="418.7" x2="1710.6" y2="418.7" stroke="#000" stroke-width="1.7"/>
<text x="1717.8" y="427.3" font-size="21.0">0.0</text>
<line x1="1703.2" y1="353.5" x2="1710.6" y2="353.5" stroke="#000" stroke-width="1.7"/>
<text x="1717.8" y="362.1" font-size="21.0">0.5</text>
<line x1="1703.2" y1="288.4" x2="1710.6" y2="288.4" stroke="#000" stroke-width="1.7"/>
<text x="1717.8" y="297.0" font-size="21.0">1.0</text>
<line x1="1703.2" y1="223.2" x2="1710.6" y2="223.2" stroke="#000" stroke-width="1.7"/>
<text x="1717.8" y="231.8" font-size="21.0">1.5</text>
<line x1="1703.2" y1="158.1" x2="1710.6" y2="158.1" stroke="#000" stroke-width="1.7"/>
<text x="1717.8" y="166.7" font-size="21.0">2.0</text>
<line x1="1703.2" y1="92.9" x2="1710.6" y2="92.9" stroke="#000" stroke-width="1.7"/>
<text x="1717.8" y="101.5" font-size="21.0">2.5</text></g>
<g id="panel_b"><text x="1070.0" y="505.3" font-size="21.85" text-anchor="middle">Reference Gene Structure: Dtnbp1</text>
<line x1="1506.4" y1="541.7" x2="1908.5" y2="541.7" stroke="#000" stroke-width="1.5"/>
<line x1="1506.4" y1="534.0" x2="1506.4" y2="549.4" stroke="#000" stroke-width="1.6"/>
<rect x="1572.5" y="534.0" width="3.4" height="15.4" fill="#05051c"/>
<rect x="1698.4" y="534.0" width="3.4" height="15.4" fill="#05051c"/>
<rect x="1732.3" y="534.0" width="3.4" height="15.4" fill="#05051c"/>
<rect x="1856.3" y="534.7" width="4.7" height="14.0" fill="#1b1b9e" stroke="#000" stroke-width="1.5"/>
<rect x="1907.0" y="534.7" width="3.4" height="14.0" fill="#1b1b9e" stroke="#000" stroke-width="1.5"/>
<text x="78.4" y="547.7" font-size="21.85">Dtnbp1-211</text>
<line x1="854.0" y1="566.4" x2="1909.0" y2="566.4" stroke="#000" stroke-width="1.5"/>
<rect x="881.5" y="558.7" width="3.4" height="15.4" fill="#05051c"/>
<rect x="1237.9" y="558.7" width="3.8" height="15.4" fill="#05051c"/>
<rect x="1503.7" y="558.7" width="3.4" height="15.4" fill="#05051c"/>
<rect x="1572.5" y="558.7" width="3.4" height="15.4" fill="#05051c"/>
<rect x="1698.4" y="558.7" width="3.4" height="15.4" fill="#05051c"/>
<rect x="1732.3" y="558.7" width="3.4" height="15.4" fill="#05051c"/>
<rect x="853.7" y="559.4" width="13.5" height="14.0" fill="#1b1b9e" stroke="#000" stroke-width="1.5"/>
<rect x="1907.0" y="559.4" width="4.7" height="14.0" fill="#1b1b9e" stroke="#000" stroke-width="1.5"/>
<text x="78.4" y="572.4" font-size="21.85">Dtnbp1-208</text>
<line x1="748.0" y1="591.1" x2="1239.6" y2="591.1" stroke="#000" stroke-width="1.5"/>
<line x1="1239.4" y1="583.4" x2="1239.4" y2="598.8" stroke="#000" stroke-width="1.6"/>
<rect x="776.7" y="583.4" width="3.4" height="15.4" fill="#05051c"/>
<rect x="881.5" y="583.4" width="3.4" height="15.4" fill="#05051c"/>
<rect x="747.8" y="584.1" width="8.6" height="14.0" fill="#1b1b9e" stroke="#000" stroke-width="1.5"/>
<text x="78.4" y="597.1" font-size="21.85">Dtnbp1-210</text>
<line x1="234.0" y1="615.8" x2="757.0" y2="615.8" stroke="#000" stroke-width="1.5"/>
<rect x="252.0" y="608.1" width="3.4" height="15.4" fill="#05051c"/>
<rect x="417.3" y="608.1" width="3.4" height="15.4" fill="#05051c"/>
<rect x="233.4" y="608.8" width="5.2" height="14.0" fill="#1b1b9e" stroke="#000" stroke-width="1.5"/>
<rect x="750.5" y="608.8" width="7.3" height="14.0" fill="#1b1b9e" stroke="#000" stroke-width="1.5"/>
<text x="78.4" y="621.8" font-size="21.85">Dtnbp1-206</text>
<line x1="230.0" y1="640.5" x2="1509.0" y2="640.5" stroke="#000" stroke-width="1.5"/>
<rect x="252.0" y="632.8" width="3.4" height="15.4" fill="#05051c"/>
<rect x="417.3" y="632.8" width="3.4" height="15.4" fill="#05051c"/>
<rect x="881.5" y="632.8" width="3.4" height="15.4" fill="#05051c"/>
<rect x="1237.9" y="632.8" width="3.8" height="15.4" fill="#05051c"/>
<rect x="229.9" y="633.5" width="8.8" height="14.0" fill="#1b1b9e" stroke="#000" stroke-width="1.5"/>
<rect x="1503.7" y="633.5" width="6.2" height="14.0" fill="#1b1b9e" stroke="#000" stroke-width="1.5"/>
<text x="78.4" y="646.5" font-size="21.85">Dtnbp1-204</text>
<line x1="230.0" y1="665.2" x2="1909.0" y2="665.2" stroke="#000" stroke-width="1.5"/>
<rect x="252.0" y="657.5" width="3.4" height="15.4" fill="#05051c"/>
<rect x="1237.9" y="657.5" width="3.8" height="15.4" fill="#05051c"/>
<rect x="1503.7" y="657.5" width="3.4" height="15.4" fill="#05051c"/>
<rect x="1572.5" y="657.5" width="3.4" height="15.4" fill="#05051c"/>
<rect x="1698.4" y="657.5" width="3.4" height="15.4" fill="#05051c"/>
<rect x="1732.3" y="657.5" width="3.4" height="15.4" fill="#05051c"/>
<rect x="229.9" y="658.2" width="8.8" height="14.0" fill="#1b1b9e" stroke="#000" stroke-width="1.5"/>
<rect x="417.4" y="658.2" width="5.9" height="14.0" fill="#1b1b9e" stroke="#000" stroke-width="1.5"/>
<rect x="1907.0" y="658.2" width="4.7" height="14.0" fill="#1b1b9e" stroke="#000" stroke-width="1.5"/>
<text x="78.4" y="671.2" font-size="21.85">Dtnbp1-202</text>
<line x1="230.0" y1="689.8" x2="1909.0" y2="689.8" stroke="#000" stroke-width="1.5"/>
<rect x="252.0" y="682.1" width="3.4" height="15.4" fill="#05051c"/>
<rect x="417.3" y="682.1" width="3.4" height="15.4" fill="#05051c"/>
<rect x="881.5" y="682.1" width="3.4" height="15.4" fill="#05051c"/>
<rect x="1237.9" y="682.1" width="3.8" height="15.4" fill="#05051c"/>
<rect x="1503.7" y="682.1" width="3.4" height="15.4" fill="#05051c"/>
<rect x="1572.5" y="682.1" width="3.4" height="15.4" fill="#05051c"/>
<rect x="1698.4" y="682.1" width="3.4" height="15.4" fill="#05051c"/>
<rect x="1732.3" y="682.1" width="3.4" height="15.4" fill="#05051c"/>
<rect x="229.9" y="682.8" width="8.8" height="14.0" fill="#1b1b9e" stroke="#000" stroke-width="1.5"/>
<rect x="1907.0" y="682.8" width="5.9" height="14.0" fill="#1b1b9e" stroke="#000" stroke-width="1.5"/>
<text x="78.4" y="695.8" font-size="21.85">Dtnbp1-201</text>
<line x1="230.0" y1="714.5" x2="1900.0" y2="714.5" stroke="#000" stroke-width="1.5"/>
<rect x="252.0" y="706.8" width="3.4" height="15.4" fill="#05051c"/>
<rect x="417.3" y="706.8" width="3.4" height="15.4" fill="#05051c"/>
<rect x="881.5" y="706.8" width="3.4" height="15.4" fill="#05051c"/>
<rect x="1237.9" y="706.8" width="3.8" height="15.4" fill="#05051c"/>
<rect x="1503.7" y="706.8" width="3.4" height="15.4" fill="#05051c"/>
<rect x="1572.5" y="706.8" width="3.4" height="15.4" fill="#05051c"/>
<rect x="1698.4" y="706.8" width="3.4" height="15.4" fill="#05051c"/>
<rect x="1732.3" y="706.8" width="3.4" height="15.4" fill="#05051c"/>
<rect x="229.9" y="707.5" width="8.8" height="14.0" fill="#1b1b9e" stroke="#000" stroke-width="1.5"/>
<rect x="335.4" y="707.5" width="4.7" height="14.0" fill="#1b1b9e" stroke="#000" stroke-width="1.5"/>
<rect x="1896.1" y="707.5" width="10.3" height="14.0" fill="#1b1b9e" stroke="#000" stroke-width="1.5"/>
<text x="78.4" y="720.5" font-size="21.85">Dtnbp1-205</text>
<line x1="230.0" y1="739.2" x2="1900.0" y2="739.2" stroke="#000" stroke-width="1.5"/>
<rect x="252.0" y="731.5" width="3.4" height="15.4" fill="#05051c"/>
<rect x="417.3" y="731.5" width="3.4" height="15.4" fill="#05051c"/>
<rect x="881.5" y="731.5" width="3.4" height="15.4" fill="#05051c"/>
<rect x="1237.9" y="731.5" width="3.8" height="15.4" fill="#05051c"/>
<rect x="1503.7" y="731.5" width="3.4" height="15.4" fill="#05051c"/>
<rect x="1572.5" y="731.5" width="3.4" height="15.4" fill="#05051c"/>
<rect x="1698.4" y="731.5" width="3.4" height="15.4" fill="#05051c"/>
<rect x="1732.3" y="731.5" width="3.4" height="15.4" fill="#05051c"/>
<rect x="229.9" y="732.2" width="8.8" height="14.0" fill="#1b1b9e" stroke="#000" stroke-width="1.5"/>
<rect x="1896.1" y="732.2" width="10.3" height="14.0" fill="#1b1b9e" stroke="#000" stroke-width="1.5"/>
<text x="78.4" y="745.2" font-size="21.85">Dtnbp1-203</text>
<line x1="230.0" y1="763.9" x2="1900.0" y2="763.9" stroke="#000" stroke-width="1.5"/>
<rect x="252.0" y="756.2" width="3.4" height="15.4" fill="#05051c"/>
<rect x="417.3" y="756.2" width="3.4" height="15.4" fill="#05051c"/>
<rect x="881.5" y="756.2" width="3.4" height="15.4" fill="#05051c"/>
<rect x="1237.9" y="756.2" width="3.8" height="15.4" fill="#05051c"/>
<rect x="1572.5" y="756.2" width="3.4" height="15.4" fill="#05051c"/>
<rect x="1698.4" y="756.2" width="3.4" height="15.4" fill="#05051c"/>
<rect x="1732.3" y="756.2" width="3.4" height="15.4" fill="#05051c"/>
<rect x="229.9" y="756.9" width="8.8" height="14.0" fill="#1b1b9e" stroke="#000" stroke-width="1.5"/>
<rect x="1896.1" y="756.9" width="10.3" height="14.0" fill="#1b1b9e" stroke="#000" stroke-width="1.5"/>
<text x="78.4" y="769.9" font-size="21.85">Dtnbp1-209</text>
<line x1="230.0" y1="788.6" x2="1900.0" y2="788.6" stroke="#000" stroke-width="1.5"/>
<rect x="252.0" y="780.9" width="3.4" height="15.4" fill="#05051c"/>
<rect x="417.3" y="780.9" width="3.4" height="15.4" fill="#05051c"/>
<rect x="881.5" y="780.9" width="3.4" height="15.4" fill="#05051c"/>
<rect x="1237.9" y="780.9" width="3.8" height="15.4" fill="#05051c"/>
<rect x="1503.7" y="780.9" width="3.4" height="15.4" fill="#05051c"/>
<rect x="1572.5" y="780.9" width="3.4" height="15.4" fill="#05051c"/>
<rect x="1698.4" y="780.9" width="3.4" height="15.4" fill="#05051c"/>
<rect x="1732.3" y="780.9" width="3.4" height="15.4" fill="#05051c"/>
<rect x="229.9" y="781.6" width="8.8" height="14.0" fill="#1b1b9e" stroke="#000" stroke-width="1.5"/>
<rect x="1778.4" y="781.6" width="4.8" height="14.0" fill="#1b1b9e" stroke="#000" stroke-width="1.5"/>
<rect x="1896.1" y="781.6" width="5.9" height="14.0" fill="#1b1b9e" stroke="#000" stroke-width="1.5"/>
<text x="78.4" y="794.6" font-size="21.85">Dtnbp1-207</text>
<text x="2025.2" y="546.2" font-size="21.85" text-anchor="middle">3'&lt;5'</text>
<rect x="62.6" y="516.4" width="2017.7" height="296.8" fill="none" stroke="#000" stroke-width="1.7"/>
<line x1="186.3" y1="813.2" x2="186.3" y2="820.7" stroke="#000" stroke-width="1.7"/>
<text x="186.3" y="841.0" font-size="21.85" text-anchor="middle">44920000</text>
<line x1="606.5" y1="813.2" x2="606.5" y2="820.7" stroke="#000" stroke-width="1.7"/>
<text x="606.5" y="841.0" font-size="21.85" text-anchor="middle">44940000</text>
<line x1="1026.6" y1="813.2" x2="1026.6" y2="820.7" stroke="#000" stroke-width="1.7"/>
<text x="1026.6" y="841.0" font-size="21.85" text-anchor="middle">44960000</text>
<line x1="1446.9" y1="813.2" x2="1446.9" y2="820.7" stroke="#000" stroke-width="1.7"/>
<text x="1446.9" y="841.0" font-size="21.85" text-anchor="middle">44980000</text>
<line x1="1867.3" y1="813.2" x2="1867.3" y2="820.7" stroke="#000" stroke-width="1.7"/>
<text x="1867.3" y="841.0" font-size="21.85" text-anchor="middle">45000000</text>
<line x1="55.3" y1="541.7" x2="62.6" y2="541.7" stroke="#000" stroke-width="1.7"/>
<line x1="55.3" y1="591.1" x2="62.6" y2="591.1" stroke="#000" stroke-width="1.7"/>
<line x1="55.3" y1="640.5" x2="62.6" y2="640.5" stroke="#000" stroke-width="1.7"/>
<line x1="55.3" y1="689.8" x2="62.6" y2="689.8" stroke="#000" stroke-width="1.7"/>
<line x1="55.3" y1="739.2" x2="62.6" y2="739.2" stroke="#000" stroke-width="1.7"/>
<line x1="55.3" y1="788.6" x2="62.6" y2="788.6" stroke="#000" stroke-width="1.7"/>
<text x="21.9" y="668.0" font-size="21.85" text-anchor="middle" transform="rotate(-90 21.9 668.0)">Reference</text>
<text x="43.2" y="666.6" font-size="21.85" text-anchor="middle" transform="rotate(-90 43.2 666.6)">transcripts</text>
<text x="1070.8" y="881.5" font-size="21.85" text-anchor="middle">Spatially variable isoforms (ONT)</text>
<line x1="234.0" y1="941.5" x2="757.0" y2="941.5" stroke="#000" stroke-width="1.5"/>
<rect x="251.9" y="926.0" width="3.6" height="31.0" fill="#3c0a07"/>
<rect x="417.2" y="926.0" width="3.6" height="31.0" fill="#3c0a07"/>
<rect x="233.4" y="926.7" width="4.9" height="29.6" fill="#fb2a1a" stroke="#000" stroke-width="1.5"/>
<rect x="750.4" y="926.7" width="7.5" height="29.6" fill="#fb2a1a" stroke="#000" stroke-width="1.5"/>
<text x="78.4" y="947.5" font-size="21.85">Dtnbp1-206</text>
<line x1="230.0" y1="991.3" x2="1509.0" y2="991.3" stroke="#000" stroke-width="1.5"/>
<line x1="883.2" y1="975.8" x2="883.2" y2="1006.8" stroke="#000" stroke-width="2.0"/>
<rect x="251.9" y="975.8" width="3.6" height="31.0" fill="#3c0a07"/>
<rect x="417.2" y="975.8" width="3.6" height="31.0" fill="#3c0a07"/>
<rect x="1238.0" y="975.8" width="3.6" height="31.0" fill="#3c0a07"/>
<rect x="230.0" y="976.5" width="8.3" height="29.6" fill="#fb2a1a" stroke="#000" stroke-width="1.5"/>
<rect x="1503.7" y="976.5" width="5.9" height="29.6" fill="#fb2a1a" stroke="#000" stroke-width="1.5"/>
<text x="78.4" y="997.3" font-size="21.85">Dtnbp1-204</text>
<line x1="230.0" y1="1040.3" x2="1909.0" y2="1040.3" stroke="#000" stroke-width="1.5"/>
<line x1="883.2" y1="1024.8" x2="883.2" y2="1055.8" stroke="#000" stroke-width="2.0"/>
<line x1="1574.7" y1="1024.8" x2="1574.7" y2="1055.8" stroke="#000" stroke-width="2.0"/>
<line x1="1700.5" y1="1024.8" x2="1700.5" y2="1055.8" stroke="#000" stroke-width="2.0"/>
<line x1="1734.6" y1="1024.8" x2="1734.6" y2="1055.8" stroke="#000" stroke-width="2.0"/>
<rect x="251.9" y="1024.8" width="3.6" height="31.0" fill="#3c0a07"/>
<rect x="417.2" y="1024.8" width="3.6" height="31.0" fill="#3c0a07"/>
<rect x="1238.0" y="1024.8" width="3.6" height="31.0" fill="#3c0a07"/>
<rect x="1503.6" y="1024.8" width="3.6" height="31.0" fill="#3c0a07"/>
<rect x="230.0" y="1025.5" width="8.3" height="29.6" fill="#fb2a1a" stroke="#000" stroke-width="1.5"/>
<rect x="1906.4" y="1025.5" width="6.4" height="29.6" fill="#fb2a1a" stroke="#000" stroke-width="1.5"/>
<text x="78.4" y="1046.3" font-size="21.85">Dtnbp1-201</text>
<rect x="62.6" y="892.4" width="2017.7" height="197.6" fill="none" stroke="#000" stroke-width="1.7"/>
<line x1="186.3" y1="1090.0" x2="186.3" y2="1097.5" stroke="#000" stroke-width="1.7"/>
<text x="186.3" y="1119.4" font-size="21.85" text-anchor="middle">44920000</text>
<line x1="606.5" y1="1090.0" x2="606.5" y2="1097.5" stroke="#000" stroke-width="1.7"/>
<text x="606.5" y="1119.4" font-size="21.85" text-anchor="middle">44940000</text>
<line x1="1026.6" y1="1090.0" x2="1026.6" y2="1097.5" stroke="#000" stroke-width="1.7"/>
<text x="1026.6" y="1119.4" font-size="21.85" text-anchor="middle">44960000</text>
<line x1="1446.9" y1="1090.0" x2="1446.9" y2="1097.5" stroke="#000" stroke-width="1.7"/>
<text x="1446.9" y="1119.4" font-size="21.85" text-anchor="middle">44980000</text>
<line x1="1867.3" y1="1090.0" x2="1867.3" y2="1097.5" stroke="#000" stroke-width="1.7"/>
<text x="1867.3" y="1119.4" font-size="21.85" text-anchor="middle">45000000</text>
<line x1="55.3" y1="892.4" x2="62.6" y2="892.4" stroke="#000" stroke-width="1.7"/>
<line x1="55.3" y1="941.6" x2="62.6" y2="941.6" stroke="#000" stroke-width="1.7"/>
<line x1="55.3" y1="991.2" x2="62.6" y2="991.2" stroke="#000" stroke-width="1.7"/>
<line x1="55.3" y1="1040.4" x2="62.6" y2="1040.4" stroke="#000" stroke-width="1.7"/>
<line x1="55.3" y1="1090.0" x2="62.6" y2="1090.0" stroke="#000" stroke-width="1.7"/>
<text x="20.9" y="994.0" font-size="21.85" text-anchor="middle" transform="rotate(-90 20.9 994.0)">Selected</text>
<text x="43.6" y="994.1" font-size="21.85" text-anchor="middle" transform="rotate(-90 43.6 994.1)">isoforms</text>
<text x="1070.0" y="1159.0" font-size="21.85" text-anchor="middle">Spatially variable TREND events (SR)</text>
<text x="1070.6" y="1225.0" font-size="21.85" text-anchor="middle">No detected variable TREND events</text>
<rect x="62.6" y="1169.6" width="2017.7" height="99.3" fill="none" stroke="#000" stroke-width="1.7"/>
<line x1="186.3" y1="1268.9" x2="186.3" y2="1276.4" stroke="#000" stroke-width="1.7"/>
<text x="186.3" y="1296.9" font-size="21.85" text-anchor="middle">44920000</text>
<line x1="606.5" y1="1268.9" x2="606.5" y2="1276.4" stroke="#000" stroke-width="1.7"/>
<text x="606.5" y="1296.9" font-size="21.85" text-anchor="middle">44940000</text>
<line x1="1026.6" y1="1268.9" x2="1026.6" y2="1276.4" stroke="#000" stroke-width="1.7"/>
<text x="1026.6" y="1296.9" font-size="21.85" text-anchor="middle">44960000</text>
<line x1="1446.9" y1="1268.9" x2="1446.9" y2="1276.4" stroke="#000" stroke-width="1.7"/>
<text x="1446.9" y="1296.9" font-size="21.85" text-anchor="middle">44980000</text>
<line x1="1867.3" y1="1268.9" x2="1867.3" y2="1276.4" stroke="#000" stroke-width="1.7"/>
<text x="1867.3" y="1296.9" font-size="21.85" text-anchor="middle">45000000</text>
<line x1="55.3" y1="1177.7" x2="62.6" y2="1177.7" stroke="#000" stroke-width="1.7"/>
<line x1="55.3" y1="1218.9" x2="62.6" y2="1218.9" stroke="#000" stroke-width="1.7"/>
<line x1="55.3" y1="1260.8" x2="62.6" y2="1260.8" stroke="#000" stroke-width="1.7"/>
<text x="43.8" y="1221.0" font-size="21.85" text-anchor="middle" transform="rotate(-90 43.8 1221.0)">Regions</text>
<text x="1070.0" y="1336.2" font-size="21.85" text-anchor="middle">Xenium Codewords</text>
<rect x="62.6" y="1347.9" width="2017.7" height="99.1" fill="none" stroke="#000" stroke-width="1.7"/>
<rect x="237.6" y="1389.6" width="14.8" height="16.4" fill="#24161b" stroke="#000" stroke-width="1.2"/>
<text x="238.6" y="1383.8" font-size="21.85">11516</text>
<line x1="866.4" y1="1364.2" x2="866.4" y2="1381.4" stroke="#000" stroke-width="2.4"/>
<text x="866.8" y="1358.8" font-size="21.85">11516</text>
<rect x="1239.8" y="1414.6" width="264.4" height="15.4" fill="#a6f54f" stroke="#000" stroke-width="1.4"/>
<text x="1241.0" y="1409.0" font-size="21.85">7864</text>
<line x1="186.3" y1="1447.0" x2="186.3" y2="1454.5" stroke="#000" stroke-width="1.7"/>
<text x="186.3" y="1473.6" font-size="21.85" text-anchor="middle">44920000</text>
<line x1="606.5" y1="1447.0" x2="606.5" y2="1454.5" stroke="#000" stroke-width="1.7"/>
<text x="606.5" y="1473.6" font-size="21.85" text-anchor="middle">44940000</text>
<line x1="1026.6" y1="1447.0" x2="1026.6" y2="1454.5" stroke="#000" stroke-width="1.7"/>
<text x="1026.6" y="1473.6" font-size="21.85" text-anchor="middle">44960000</text>
<line x1="1446.9" y1="1447.0" x2="1446.9" y2="1454.5" stroke="#000" stroke-width="1.7"/>
<text x="1446.9" y="1473.6" font-size="21.85" text-anchor="middle">44980000</text>
<line x1="1867.3" y1="1447.0" x2="1867.3" y2="1454.5" stroke="#000" stroke-width="1.7"/>
<text x="1867.3" y="1473.6" font-size="21.85" text-anchor="middle">45000000</text>
<line x1="55.3" y1="1380.9" x2="62.6" y2="1380.9" stroke="#000" stroke-width="1.7"/>
<line x1="55.3" y1="1421.7" x2="62.6" y2="1421.7" stroke="#000" stroke-width="1.7"/>
<text x="43.2" y="1398.2" font-size="21.85" text-anchor="middle" transform="rotate(-90 43.2 1398.2)">Codewords</text>
<text x="1069.8" y="1501.2" font-size="21.85" text-anchor="middle">Genomic position on chr13</text></g>
<g id="panel_c"><rect x="94.5" y="1595.3" width="463.6" height="323.5" fill="#440a5b"/>
<filter id="ha0" filterUnits="userSpaceOnUse" x="94.5" y="1595.3" width="463.6" height="323.5" color-interpolation-filters="sRGB"><feGaussianBlur in="SourceGraphic" stdDeviation="3.0" result="d"/><feTurbulence type="fractalNoise" baseFrequency="0.62" numOctaves="2" seed="3" result="n"/><feColorMatrix in="n" type="matrix" values="1 0 0 0 0 1 0 0 0 0 1 0 0 0 0 0 0 0 0 1" result="g"/><feComponentTransfer in="g" result="a"><feFuncR type="table" tableValues="0 0 0 0 0 0 0 0 0 0.02 0.10 0.20 0.30 0.40 0.50 0.62 0.74 0.8 0.8 0.8 0.8"/><feFuncG type="table" tableValues="0 0 0 0 0 0 0 0 0 0.02 0.10 0.20 0.30 0.40 0.50 0.62 0.74 0.8 0.8 0.8 0.8"/><feFuncB type="table" tableValues="0 0 0 0 0 0 0 0 0 0.02 0.10 0.20 0.30 0.40 0.50 0.62 0.74 0.8 0.8 0.8 0.8"/></feComponentTransfer><feComposite in="a" in2="d" operator="arithmetic" k1="0.9" k2="0" k3="0" k4="0" result="v"/><feComponentTransfer in="v" result="c"><feFuncR type="table" tableValues="0.267 0.272 0.282 0.283 0.279 0.271 0.259 0.245 0.230 0.214 0.199 0.186 0.173 0.161 0.149 0.138 0.128 0.121 0.121 0.132 0.158 0.197 0.246 0.304 0.369 0.440 0.516 0.596 0.678 0.762 0.846 0.926 0.993"/><feFuncG type="table" tableValues="0.039 0.045 0.095 0.136 0.175 0.214 0.252 0.288 0.322 0.356 0.388 0.419 0.449 0.479 0.508 0.537 0.567 0.596 0.626 0.655 0.684 0.712 0.739 0.765 0.789 0.811 0.831 0.849 0.864 0.876 0.887 0.897 0.906"/><feFuncB type="table" tableValues="0.357 0.366 0.417 0.453 0.483 0.507 0.525 0.537 0.546 0.551 0.555 0.557 0.558 0.558 0.557 0.555 0.551 0.544 0.533 0.520 0.502 0.479 0.452 0.420 0.383 0.341 0.294 0.243 0.190 0.137 0.100 0.104 0.144"/><feFuncA type="linear" slope="0" intercept="1"/></feComponentTransfer></filter>
<g filter="url(#ha0)"><rect x="94.5" y="1595.3" width="463.6" height="323.5" fill="#000"/><polygon points="119.3,1880.5 120.7,1840.1 130.1,1778.2 135.5,1718.9 146.2,1670.5 192.0,1640.9 224.3,1624.7 262.0,1612.6 305.1,1619.3 348.2,1630.1 385.9,1640.9 426.3,1659.7 453.2,1681.2 480.1,1708.2 504.3,1735.1 517.8,1762.0 531.3,1799.7 542.0,1832.0 544.7,1859.0 534.0,1883.2 509.7,1896.6 466.7,1902.0 385.9,1902.0 305.1,1903.4 224.3,1899.3 157.0,1896.6" fill="#fff" opacity="0.42"/><polyline points="240.5,1648.9 294.3,1651.6 345.5,1667.8 394.0,1681.2 434.3,1702.8 464.0,1729.7 477.4,1762.0 493.6,1794.3 504.3,1826.6 509.7,1859.0" fill="none" stroke="#fff" stroke-width="32.3" stroke-linecap="round" stroke-linejoin="round" opacity="0.16"/><polyline points="394.0,1745.9 420.9,1756.6 442.4,1778.2 453.2,1802.4 450.5,1823.9 437.0,1842.8 429.0,1859.0 431.6,1880.5 439.7,1896.6" fill="none" stroke="#fff" stroke-width="9.2" stroke-linecap="round" stroke-linejoin="round" opacity="0.25"/><polygon points="472.0,1859.0 525.9,1853.6 531.3,1885.9 474.7,1899.3" fill="#fff" opacity="0.25"/><polyline points="216.2,1775.5 240.5,1764.7 264.7,1751.3 283.6,1745.9" fill="none" stroke="#fff" stroke-width="12.4" stroke-linecap="round" stroke-linejoin="round" opacity="0.22"/><polyline points="256.6,1805.1 278.2,1791.6 299.7,1775.5 315.9,1767.4" fill="none" stroke="#fff" stroke-width="8.1" stroke-linecap="round" stroke-linejoin="round" opacity="0.22"/><polygon points="427.6,1718.9 426.5,1724.6 423.3,1729.4 418.5,1732.6 412.8,1733.7 407.1,1732.6 402.3,1729.4 399.1,1724.6 398.0,1718.9 399.1,1713.3 402.3,1708.5 407.1,1705.3 412.8,1704.1 418.5,1705.3 423.3,1708.5 426.5,1713.3" fill="#000" opacity="0.4"/><polygon points="427.6,1837.4 425.9,1846.2 420.9,1853.6 413.5,1858.6 404.7,1860.3 396.0,1858.6 388.5,1853.6 383.6,1846.2 381.8,1837.4 383.6,1828.7 388.5,1821.2 396.0,1816.3 404.7,1814.5 413.5,1816.3 420.9,1821.2 425.9,1828.7" fill="#000" opacity="0.35"/><polygon points="353.6,1764.7 352.5,1769.9 349.6,1774.2 345.3,1777.2 340.1,1778.2 335.0,1777.2 330.6,1774.2 327.7,1769.9 326.6,1764.7 327.7,1759.6 330.6,1755.2 335.0,1752.3 340.1,1751.3 345.3,1752.3 349.6,1755.2 352.5,1759.6" fill="#000" opacity="0.35"/><polygon points="208.2,1832.0 206.9,1838.2 203.4,1843.4 198.2,1847.0 192.0,1848.2 185.8,1847.0 180.6,1843.4 177.1,1838.2 175.9,1832.0 177.1,1825.8 180.6,1820.6 185.8,1817.1 192.0,1815.9 198.2,1817.1 203.4,1820.6 206.9,1825.8" fill="#000" opacity="0.2"/><polygon points="484.2,1832.0 483.2,1836.7 480.6,1840.6 476.7,1843.2 472.0,1844.1 467.4,1843.2 463.5,1840.6 460.8,1836.7 459.9,1832.0 460.8,1827.4 463.5,1823.5 467.4,1820.8 472.0,1819.9 476.7,1820.8 480.6,1823.5 483.2,1827.4" fill="#000" opacity="0.3"/></g>
<g transform="translate(94.5 1595.3) scale(0.5)" fill="none" stroke-linecap="round" stroke-width="3.60"><path d="M358 35l2-2m27 5l2 2m-39 3v1m75 3l1-1m-97 4h2m77 1l2 2m-69 0v2m98-2v1m-113 0v1m67-1v1m-50 6h1m135 4v2m-61 2v2m16-1l1 1m49 0l1 1m-235 0h2m77 1v1m139 2h2m-155 4v2m218 0v1m-186 0v1m118-1v2m-38 1v1m111-1h2m-283 1l2 2m149-2v1m38 1l1-1m102 2h2m-111 1l2 2m-157 1h2m281 1v1m-244 0v1m159 2h1m112 1v1m-205 1l1 1m4 0l1 1m-21 0h2m89 1h1m122 0v2m-218 0v1m-164 2v2m319-2h2m28 0h1m4 0l1-1m-220 2h2m-129 1h1m415 2v2m-177 0h1m-94 2l1-1m-38 2l1 1m72 0v1m38 0v2m135-1h2m-365 1v1m287-1l2-2m104 4h2m-232 1h1m225 0l1-1m8 1l1-1m-276 4v2m218-2v1m-264 0l1 1m336-1v1m-314 0v2m249 0v2m-87-1h2m-141 1l1 1m205-1v2m21-2v2m-276-1h1m-173 1v2m82-2v1m345-1l1 1m-240 3h2m289 1v2m-312-1h1m-17 1l1-1m213 1h2m189 0h2m-80 1h1m12 0v2m-123 0l2 2m55-2v1m115 0l2 2m-310 0l1 1m155-1l2-2m135 2l2 2m-305 0v1m136-1h2m29 0v2m-240-1h1m375 0h2m-212 1l2-2m168 3l1 1m77 0l2 2m-517-1l1-1m305 1l1 1m68 0h1m32 3v1m25 0l1 1m-294 0l1-1m261 1v1m-374 1h1m-16 2l1 1m164-1h1m243 0l1-1m7 3v1m-492 0h1m458 1v1m-134 0h1m-63 2v2m103-2v2m150-1h1m-436 1h1m223 0h1m186 0v2m-178-1l1-1m216 1v1m-439 0l1-1m261 1h2m-72 1h1m220 0l1-1m124 1l1 1m-134 1l1 1m-248 0h2m128 0h1m94 0h1m-398 1v1m457 0h1m-393 1v2m122-2l2-2m164 2h1m63 0v1m91-1v1m-408 1h1m436 2v2m-362-1v2m38-2h2m210 0h2m-235 1v2m145-2l2-2m-398 5h2m457 0h2m-136 3h2m164 0h1m-462 1h1m302 1l1 1m-293 0l2 2m45-2l2-2m112 4h1m353 2l2-2m-359 5h1m-148 1h2m240 0h2m264 0l1 1m-516 0l2-2m112 2l2-2m135 2l1 1m238 0l1 1m-366 0h1m95 0v2m87-1l1-1m97 1v2m-96-1v2m-251-1h2m-27 1l1 1m19-1l2-2m80 2v2m182-2v1m-26 0v1m254-1v2m-220 3l1 1m-366 0v1m531-1h1m9 0v2m-457-1v1m223-1v2m-245-1h1m211 1l1 1m262 0l1-1m68 1v2m-182-1v2m-225-1v2m-73-1h2m-54 1l2 2m280 0h1m-263 1l2-2m124 2v2m91-2v1m253-1l1-1m-550 2h2m396 0h1m161 1l2 2m59-1v1m-150 1h2m-142 2v2m48-2v1m-160 1h1m268 3l1-1m97 2h1m-570 1v1m530-1v1m69 0l1 1m-572 2h1m67 0h1m198 1v2m322 0l1-1m-522 2v1m514 0v2m-635-1l2 2m126-2h2m71 3l2 2m35-1v2m162-1v1m-263 1l1 1m202-1l1-1m312 2h1m-98 1l2 2m-241-1h1m216 0l1-1m20 1h1m-211 1h1m248 0v2m-4-1h2m-613 1v1m96-1v2m133-1h1m-207 2l2 2m598-2v2m-652-1l2 2m491-2h1m152 0l1 1m-184 0h1m39 0l2-2m69 2l1 1m-202 0h1m-52 1l2 2m23-1h1m134 0h1m-350 1l1 1m375 0l2 2m15-2h1m148 0v2m46-1v1m-94 3h2m78 1v1m-358 0v1m-203 0h1m314 0v2m178-2v2m-110-1v2m46-2h1m-494 1h2m23 0h1m63 1l1 1m73-1l1 1m210 1v1m16 0h1m37 0h1m8 1l2 2m121 0h1m36 0v1m-625 0h2m476 0l1 1m24-1v1m-147 0v2m-291-1v1m5-1v1m171-1h1m222 0l2-2m128 2l1-1m-568 3h2m-21 2v2m186-2h1m285 0v2m141-2h2m-1 0l1-1m-176 2v1m-200 0v1m-237 1l1 1m438-1h2m-404 1v1m178-1h1m29 0l1 1m96-1h2m199 2v1m80-1v2m-458 0l1 1m19-1l1-1m78 1l2 2m306-2v2m89-2l2-2m-433 3l2-2m90 3l2-2m-355 3h1m718 1v2m-528-1v2m179-2h2m173 0h2m-492 1h1m214 0v1m283-1h2m8 0h1m-344 1h1m260 0h1m-268 1h2m506 1h1m-337 2v1m-137 0h2m323 0h1m-444 1h1m308 0v2m-327-1l2-2m599 2v2m-510-1h1m-161 1v1m153-1v1m17-1l2 2m13-2v1m317-1h2m-583 1h2m258 0l2-2m-97 4l1 1m12-1l1 1m-133 0v1m86-1l2-2m98 2h2m16 0v1m114-1l1 1m276 0v1m-518 0l1-1m119 1h1m351 0l2-2m25 2v2m-96-1l2-2m-398 3h1m57 0l2 2m185-2h1m308 0v2m-473 0h1m6 0h1m468 1h2m-477 1h2m65 1h2m409 0h2m-691 1v2m295-1h1m167 0v2m253-2h2m-480 1l2 2m382-2l2 2m-591-1l2-2m198 2l1-1m365 2l1 1m-374 0v2m-79-1l2-2m46 2h2m309 1l1 1m70-1l2 2m-417-1l1-1m-11 2h2m207 2v2m173-2l2 2m-458-1l1 1m64-1l2-2m62 3l2-2m491 2l2-2m-688 3h1m295 0v2m363-2v2m-184-1l1-1m-314 2l2-2m425 2h2m-515 1v1m20-1v2m148-2h2m59 1v1m125 0h1m-291 1h2m578 0h1m-615 1h1m416 0l2-2m-114 3v1m-106 0v2m105-2l2 2m80-2l2-2m-235 3v2m250-2h1m181 1h2m-403 1l2-2m-157 3h2m263 1v2m-65-1l1-1m-122 2l2-2m4 3l2 2m316-2l1 1m157-1v1m-669 0h2m457 0h1m199 0l2-2m17 2l2 2m-91-1h1m-27 1l1-1m149 1v2m-589-1h1m225 0v2m362-1h2m-690 2h2m364 0l1 1m-218 0v2m-65-1h2m100 0l2-2m522 2l1 1m-55 0l2 2m-613-1l2 2m222-2h2m331 0h2m-306 2h2m30 0v1m300-1v2m73-2v2m-384-1v1m-249 0l1-1m358 2v2m65-2h1m73 2h1m77 0l1 1m-290 0l2-2m77 2l2 2m-478-1h2m69 1h2m308 0h2m288 0v1m-351 0h2m-302 1v1m86-1l1-1m434 2l2-2m-435 3v1m253 1v2m-178-1v2m-174-1l2-2m506 2l2-2m-445 3l2 2m208-2l1-1m240 1v1m-564 0v2m318 0v2m369-2h1m-493 1l2 2m386-2v1m29 0l2 2m-336-1l1 1m64-1v2m454-2h2m-596 1h2m549 0l1 1m-626 0v2m194-2l2-2m-239 4v1m154-1h1m138 0l1 1m34-1v1m79-1h2m18 1h2m-200 2v2m52-2h2m88 0v1m-291 0v1m110-1v2m166-2h2m-425 1v2m274-2h2m445 0l1-1m6 2l2 2m59-1l2-2m-720 3v2m130 0h1m417 0l1-1m-567 2h1m5 2l2 2m62-2h1m508 0v1m-28 0l2-2m-521 3h2m526 1h2m19 0h2m102 1h2m-706 2l2 2m717-2v1m36-1l1-1m-750 3l1 1m700-1l2 2m-739-1h2m50 0l1 1m600-1v1m-550 0v1m31-1h1m-77 1l2 2m389-1l1 1m58-1v1m105-1l2 2m-241-1v1m242-1v2m-229-1h2m245 0h1m79 0v2m30-1h1m-659 1h2m251 1l2-2m150 2l1 1m73-1h2m-251 1v2m19-1h1m402 0v1m-381 1v2m231-2v2m58-2l2 2m-558-1h1m272 0l1-1m396 1h2m-408 2l2 2m-90 1v2m524-2v1m9-1v2m-646-1l2-2m0 2h1m273 2v1m140 0l2 2m162-2l2 2m-479-1h2m-153 2l2-2m194 3v1m-61 0l2 2m-8-1l2 2m322-1h1m-87 1v2m274-1v2m-57 0l2-2m-610 3l2 2m638-2l1-1m-542 3l1-1m241 1h2m20 0l1-1m-100 2l2 2m451-2v1m-388 1l2 2m311-2l1 1m-701 0l2-2m-8 4l2 2m154-2l2-2m44 2h1m-136 1v1m346-1v1m320-1v2m28-2l1-1m17 1l2 2m-568-1v2m38-2v2m40 0v1m-274 0v2m668-2v2m-555-1l1 1m315 1h2m-101 1h1m50 0h2m29 0v2m-148-1v1m426-1v2m-382-1l2 2m-33-1h1m389 0l1 1m-434 1l1-1m233 1l1-1m-436 3l2 2m72-2v2m-119 0h2m90 2h1m123 0l1 1m363-1l2-2m-402 3h2m210 0h1m-121 2l1 1m16-1l2-2m238 2l1-1m-573 2h2m48 0l2 2m170-2l2-2m93 2v1m249-1l2 2m251-2l2-2m-482 3v1m37-1v1m259-1h2m129 0l2 2m7-2h2m-767 2h2m45 0v2m-54-1l2-2m440 2h1m206 0v2m-405-1v1m362 2h2m195 1l2 2m-59-1l2-2m-704 3h2m225 0h2m329 0l1 1m10-1v2m-227-1l2 2m-378-1v1m56 1h2m154 0l1 1m21-1h2m332 1l2-2m240 2h2m-436 1h1m411 0l2 2m-274-1v1m-20 0l2 2m135-1h2m132 0v1m-277 0l1 1m103-1v2m-277-1v1m297-1v2m110-2h1m55 0h1m-169 1h2m-276 2h2m-223 1l2-2m626 2v1m-499 0l1-1m63 1h2m15 0v2m461-2h1m-736 1v2m42-2l1 1m-99 0v1m479-1v2m153-2h2m66 0l2-2m19 2l2-2m-608 3v2m128-2h2m92 0h2m236 0h2m-196 1v1m175-1l2 2m166-1h1m-358 1h1m390 0v2m-654-1l2-2m272 2l1 1m419-1h2m-707 1v1m129-1h2m520 1h2m-520 1l1 1m443-1l1 1m33-1v1m-108 1v1m39-1l2-2m-43 3l2 2m-626-1h2m10 0l1 1m398 0h1m2 0v2m347-2l1 1m-159 0v1m152-1h2m-1 0v1m77-1l1 1m-754 0h2m142 0v1m575-1h2m-752 1l2 2m326-2l2-2m123 2h2m213 0v2m-406-1v2m100-2h2m394 0v1m-459 0h2m423 0l2-2m-182 3l2 2m106-2h1m70 0v2m-53 0v2m-588-1v1m52-1l1-1m527 1l1-1m-287 2v1m377-1h2m-776 1h2m59 0h1m688 1v2m11-2v1m45-1v2m-747-1h2m421 0l2-2m-45 3l2-2m126 2v1m56-1l2-2m45 3l2 2m5-2v1m-173 0v2m21-2v2m83-2l2 2m-1-2l2-2m154 2v1m-556 0l1 1m433-1v2m79-1l1-1m-688 2h1m709 0v2m18-1v2m-644-1l2-2m259 2l1 1m375-1v1m-277 1v1m111-1l1-1m165 1v1m-557 0h1m194 0l2-2m-323 3l2 2m327-2v2m106-2h1m44 0h1m227 1l1 1m-90 0h2m49 0l1 1m-460 1h1m74 1h2m62 0h1m-178 1v2m400-2h2m113 0v1m15 1v2m-176-1h1m45 0v2m-38-1l1 1m-253 0h2m27 0h1m316 0l2 2m14-2v2m-31-1l1-1m-577 2v1m445 0l2-2m-532 3l1-1m117 1l2 2m16-2l1 1m175-1h2m96 0v1m-171 0v2m102-2h2m183 0v2m-195-1h1m137 0h1m79 0v1m74-1l2-2m-634 3v1m740-1h2m-676 2h2m253 0l1-1m313 1h2m40 0v2m79-2h2m-560 3v2m155-2h1m244 1h2m-477 1h2m80 0v1m84-1l2 2m315-2h2m-380 1l2 2m210-2v2m53-2h2m66 0h1m150 1l2 2m22-2h2m-529 1h2m377 0l2 2m135 0l1-1m-524 2l2 2m2-1v2m-34-1h2m508 0h2m-114 1l1-1m-302 2l1 1m293-1v2m-433 0h2m190 0l2 2m298-1v2m54-2h2m-37 1v2m-466 0h1m90 0l1-1m17 2l1-1m257 2l2-2m-34 4h2m-306 1h1m7 0h2m192 4l1 1m-318 3h2" stroke="#3a548c"/><path d="M387 46l2 2m-96 0l2-2m22 2h2m82 4h2m-49 1l1-1m31 8v2m56 0v2m1-2l1-1m-11 4l1-1m-46 4h2m-129 1h2m104 0l2-2m71 2h1m-82 3l1-1m23 1v2m39-2l2-2m-51 3l1 1m-108 0h1m129 1v1m8-1l1 1m31-1l1 1m4-1h2m-161 2l1 1m38 0l1-1m180 1v2m-217-1h2m134 4l1 1m-101 0h2m61 0h2m-79 1l1-1m18 1h2m-64 1v1m32-1h2m106 0h2m-115 1v2m128-1h1m28 0l1-1m-38 2h1m-149 1l2-2m128 2l1 1m9-1l1-1m30 1l2 2m62-2h2m-257 1l2 2m31-2v1m156 0v2m-152-1h2m3 0h2m101 0h2m-168 2l2 2m22-1l2 2m74-2v1m4-1h2m204 0l2 2m-216-1l2 2m63-2l2 2m82-2l2 2m-194-1h2m137 0l2 2m-88 0l2-2m22 2h1m2 0h2m21 0h2m-145 1l2 2m179-2l2 2m-68-1v2m-108-1v2m121-2l2 2m-136-1v1m92-1v2m289-2v1m-193 0v2m177-2v2m-297-1l1-1m204 1h2m85 0v2m-306-1h2m29 0l2 2m141-2l2 2m41-2l1-1m-141 2v2m13-1l1-1m21 1v1m112-1h1m-219 1l1 1m12-1l1 1m-2 0v2m142-2v2m10-2h1m53 0h2m9 0h2m-262 1h2m166 0h2m49 0l1-1m-68 2v2m31-2h2m9 0l2 2m40-2l2-2m-281 3v2m324-2v2m-203-1v1m202-1l2 2m-193-1v2m161-2v2m-231-1h2m172 0l1-1m4 1h1m-188 1l2 2m67-2h2m91 1h2m73 0v1m-328 1h1m186 0v1m194 0l1 1m-291 0v2m5-2v2m111-2h1m6 0v1m8-1h2m-39 1h2m93 0v2m5-2v2m-107-1l1 1m121-1v2m-103-1v1m21-1l2 2m132-2h2m-332 1l1 1m-67 0h1m77 0l1 1m106-1h2m71 0l1-1m58 1h2m-198 1l1-1m88 1v2m23-2l1 1m-114 0h2m17 0v1m91-1v2m30-2v1m24-1v2m-234-1h2m330 1v2m-269-1l1 1m37-1v1m12-1l2-2m-110 3v1m298-1v2m106-2v2m-322-1l1 1m67-1h1m23 0v1m187-1h2m-246 1h2m0 0h2m131 0l2 2m101-2v2m-207-1v1m258 0h2m-453 1l2-2m318 2v1m11-1h2m64 0h2m-378 1h1m66 0h1m111 0h1m183 0v2m-173-1h2m-29 1h2m7 0h2m32 0v1m36-1h2m31 0l2-2m228 2v2m-318-1l2-2m84 2h1m92 0v2m-131-1v2m244-2l2-2m-508 3l2-2m197 2l1-1m68 1v1m27-1h2m31 0h1m111 0v2m7-2l2-2m-423 3l1 1m170-1l2 2m219-2v1m65-1v2m-236-1l2 2m105-1h2m57 0l1 1m1-1l1-1m1 1v2m51-2h2m-110 1l2-2m17 2h2m-256 2l1 1m82-1v1m-168 0h2m145 0v2m19 0h2m99 0h2m-334 1l1-1m184 1h1m271 1v1m-222 0l2-2m136 2h1m-110 1v1m40-1h2m145 0l1-1m46 1l2 2m64-2h1m-402 2h2m238 0l2-2m31 2v2m-335-1v2m232-2v2m111-2l1-1m31 1l2-2m1 2l2 2m13-2l1 1m-70 1l2-2m76 2v1m25-1h2m-380 1h2m106 0l1-1m45 1v2m24-2l2-2m149 2l2-2m-124 3v2m71-2l2-2m5 2h2m-190 1h2m243 0h2m-198 1v2m19-2v2m156-2v1m-100 0v1m66-1h2m17 0v2m45-2v1m-80 0h1m7 0l1 1m45-1l1-1m40 1h1m-411 1v2m48-2l2-2m198 2v2m115-1v2m44-2l2-2m-110 3l2 2m34-2v2m-453-1h2m195 0v2m228-2h2m5 0l2 2m86-2v2m9-1h2m68 0v1m-518 0v1m205-1l1-1m235 1h2m-396 1h1m70 1l1 1m280-1h1m37 0h2m17 0v2m80-2h2m-526 1l2 2m134-2v1m118-1v1m12-1l1-1m-142 2h2m96 1h1m1 0h2m22 0l2-2m157 2h2m-481 1v2m79-2l2-2m88 2l1 1m326-1v2m42-2h2m-198 1h1m233 0v2m-76-1h2m43 0v2m-83-1l1-1m70 1h2m-379 2v1m120-1l1-1m127 1l2 2m47-2h2m-455 1l1 1m224-1l2-2m321 2v1m5-1l2 2m-149-1h1m95 0v2m50-2l2 2m-365-1h2m130 1h1m224 0l1 1m34-1l1 1m-172 0h2m-394 2v2m123-2l2 2m165-2l2 2m203-2v1m35 0v1m-212 0v2m136-1l2 2m-229-1h2m-131 1l2 2m431-2l1 1m52-1v1m10-1l1-1m-413 2h2m360 0h2m1 0h1m-527 1v2m248-2v1m258-1h2m49 0h1m-109 1l2-2m-367 3v2m57-2l1 1m254-1h1m0 0v1m114-1l2 2m-219-1v2m35-2h2m120 0l2 2m60-2h2m-528 1v1m450-1v1m33-1h1m-468 2l1-1m370 1v1m120-1l2 2m-495 0h2m283 0v1m258 0h2m-585 1l2 2m419 0v1m98-1v1m-387 0l1 1m405-1l1-1m-404 3h1m-23 1l2 2m72-2h2m364 0h2m6 0l1-1m-31 3v1m-171 0l1 1m99 0v2m-439-1h2m-18 1l1 1m374-1h1m211 0l1-1m-400 2h2m125 0v1m193-1h1m-210 1l2-2m100 3l2 2m29-2l2-2m-346 3v1m438-1v1m-481 0v2m93-2h2m-1 0l1 1m447-1l1 1m-420 0l1 1m-73 0h2m478 0h2m-112 1l1-1m-327 2h2m440 0h1m-517 2l1-1m443 1v1m60-1l2 2m-435-1h2m504 0h2m-580 1v2m146-2h1m178 1v2m-93-1v1m61-1l1 1m23-1l2 2m167-1h1m-281 1h2m-222 1h2m558 0l1-1m-61 2v2m-439-1l2-2m431 2l2 2m-182-1h2m95 0l2-2m132 2l2-2m-496 3l1-1m484 1h2m12 0l2 2m-451-1l2-2m15 3v2m246-2l1-1m3 1v1m194 0l2 2m-193-1v2m65-2v2m-259-1h1m-55 1v1m95-1l2 2m327-2l1 1m25-1h2m-28 1v2m-309-1l2-2m250 2h1m-398 1v2m-100-1v2m598-2l1-1m-413 2l1-1m291 1l1-1m107 2h2m-537 2v1m36-1h1m155 1h2m278 0v2m40-2l1 1m62-1l2 2m-107-1l1 1m-532 0h1m214 0l1 1m21-1v1m49 1h2m228 0h1m127 0v1m-88 1l2-2m-403 3v2m77-2h2m10 0h2m47 0h2m55 0v2m61-2v1m167-1l1 1m-259 0h2m140 0h1m-325 1h2m-177 3v2m220-2l2-2m347 3v1m6-1h1m-443 3h1m195 0v1m139-1v2m147-2v2m-210 0l2-2m159 2l2 2m-203-1v2m239-2l1 1m14-1v2m-389-1v2m385-2l2 2m24-1v2m6-2v2m-660-1h2m194 0l1-1m-49 2l2-2m300 2l1-1m153 1h2m75 0h1m-685 1l2 2m425 0v2m-152-1h1m328 0v1m68-1l2 2m-691-1h1m628 0v2m-463-1v2m309-1v1m194-1h1m43 0l2 2m7-2v1m-13 0h2m-437 1v2m435-2l2 2m-482-1l1 1m64-1v2m180-2l2 2m28-2h2m-408 1l2-2m54 2h2m353 0l1 1m-311 0l1 1m138-1l2-2m25 2v2m143-2v1m48-1l2-2m-551 3h2m279 0v2m-257-1l2 2m208-2l1 1m266-1h1m-236 1h2m195 0v2m98-2l1-1m54 1h2m-588 1l1-1m1 1l1-1m287 1l1 1m140-1v1m19-1h1m32 0l1-1m218 1v1m-647 0l1-1m150 1h2m26 0h1m73 0h1m105 0v2m-368-1h2m329 0v2m132-2l1 1m88-1h1m3 0l1-1m-510 2h1m80 0l2-2m96 2l1 1m48-1v1m267-1l2 2m-1-2v2m9-2h2m-174 1v2m11-2v1m-418 0l2-2m205 2v2m101-2v1m167-1v2m-24-1v2m36-2v1m147-1h1m-647 1v1m119-1h2m43 0v2m84-2v2m1-2h2m145 0h1m62 0v2m11-2l2 2m5-2h2m3 0h2m16 0l2 2m94-2v2m22-2v2m-413-1v2m197-2v1m77-1v2m-289-1v2m275-2h2m16 0h2m115 0l1 1m-392 0v1m429-1l2-2m39 2l2-2m-611 3l1-1m86 1l1 1m77-1v1m6-1l1-1m206 1v2m19-2l2 2m218-2v2m-578-1l2 2m115-2h1m16 0v2m9-2h2m222 0v1m56-1h1m53 0v1m-496 0h2m68 0v2m44-2l2 2m28-2h1m218 0l2 2m6-2h2m56 0v1m-564 0h2m45 0v1m235-1l2 2m12-2h2m149 0l2 2m47-2v2m54-2l1-1m-549 2v2m228-2h1m12 0l1 1m202-1l1 1m101-1l2-2m162 2v2m-469-1h2m3 0h2m243 0v1m8-1h2m66 0l2 2m111-2v2m-456-1v2m36-2v1m282-1v1m-516 0v1m123-1v1m86-1v1m11-1l1 1m30-1h1m273 1l2-2m6 2l1 1m135-1v1m-446 0v2m48-2v2m220-2v2m26-2l1-1m-286 2v2m2-2l2 2m273-2l1-1m2 1h1m-281 1h2m35 0h1m240 0v1m5-1h1m91 0v2m-392-1v1m324-1v2m91-2l1 1m42-1v2m-372-1h1m237 0h1m1 0l2 2m70-2v2m-538-1h2m113 0v1m41-1v2m-116-1l1-1m358 1v1m80-1l2-2m-71 3h1m-195 1l2 2m122-2h2m121 0h2m-547 1l1-1m483 1v1m22-1v2m70-2l1 1m-499 0v1m117-1l1 1m233-1v2m49-2h1m145 1h2m-672 1v2m78-2h1m333 0h2m287 0l1-1m37 1v1m-521 0v2m19-2v2m3-2l1-1m350 1v2m52-2l2-2m52 2h2m9 0h2m-484 1h1m6 0l1-1m266 1v2m88-2v2m-12-1h2m107 0v1m27-1v2m-435-1v2m374-2l1-1m-354 2h1m254 1v2m59-2h2m91 0h1m-565 1v1m81-1l2 2m13-2l2-2m11 2v2m121-2h1m7 0l2-2m239 2v2m41-2h1m10 0h2m-436 1v1m304-1h1m189 0h2m-534 1v2m67-2v2m110-2l2-2m219 2l2-2m-491 3v2m132-2l1 1m172-1v2m71-2h2m-287 1v1m19-1v1m150-1v2m241-2v2m-441-1h1m481 0l2 2m15-2h2m-301 1v2m236-2v2m-540-1h2m118 0v1m500-1l2 2m-663-1h2m578 0h2m-374 1v2m1-2v2m125-2l2-2m254 2v1m-237 0l1-1m0 1v1m-282 0h2m247 0v1m40-1h1m220 0v2m-410-1h2m422 0h1m62 0v2m-306-1l2 2m228-2l1-1m10 1l2 2m29-2h2m-460 1v1m31-1h1m378 0v2m100-2v2m7-2l2 2m-214-1h1m133 0v2m-487-1l1-1m441 1h1m-483 1h2m107 0l1 1m155-1l2 2m-1-2v1m232-1v2m-452-1h2m203 0l1-1m173 1v1m73-1h2m14 0v2m12-2l1-1m-426 2l1 1m-11 0h1m83 0l2-2m421 2v2m25-2l1-1m-374 2h1m320 0h2m-309 1l2 2m106-2l1 1m144-1v1m66-1h1m-510 1h2m18 0l1 1m92 0v1m328-1v1m14-1h2m-309 1h1m29 0h2m36 0l1-1m228 1v1m62-1l1-1m-352 2h1m291 0v2m-303-1h1m358 0v1m-623 0v2m284-2v1m247-1v2m48-1l1-1m-600 2l1-1m602 1l1-1m20 1l2-2m-571 3h1m239 0l1-1m49 1l1-1m252 1h1m-583 1v1m678-1h2m29 0v2m-643-1l1 1m120-1h1m441 0l2-2m84 2h1m-719 1v2m72-2l2 2m405-2v2m-471-1h2m104 0l1-1m169 1v1m412-1v2m-18-1v1m-623 0h1m49 0l1 1m376-1h2m-269 1v1m59-1h1m12 0v2m300-2l2-2m-611 3h2m286 0h1m230 0l2-2m184 2h1m-380 1h1m84 0h2m194 0v2m50-2l2-2m-362 3h2m319 1h2m-369 1l2-2m-115 3l1-1m377 1l1-1m84 1l2-2m83 2l2-2m-695 3h2m13 0v2m612-2l1 1m-175 0l2-2m234 2v1m-582 0v2m159-2h2m23 0l2-2m308 2h1m-45 1v2m60-2l1-1m97 1h2m-739 1v2m304-2h1m18 0l2-2m179 2h1m47 0v1m101-1h1m31 0l2 2m65-2l1 1m-214 0l1 1m176-1h1m-387 1l2-2m371 2h1m-424 1v2m189-1l2-2m71 2l2-2m94 2l2-2m13 2v2m114-2v2m-554-1l1 1m124-1h2m366 0v1m12-1h1m-350 1l1-1m275 1l2 2m-520-1v1m83-1l2 2m45-2l2 2m332-2l1-1m172 1l1 1m-615 0v1m495-1h2m-351 1h2m327 0l1-1m62 1l1 1m-265 0v1m220-1v1m75-1v2m-694-1l1 1m295-1h2m317 0l2-2m98 2v1m31-1h1m-475 1l2 2m46-2h1m333 0v2m-673-1l2 2m34-2h2m185 0v2m412-2l2 2m83-2v1m7-1h2m13 0l2 2m-626-1v1m140-1h2m52 0h2m328 0v2m74-2v1m7-1l2-2m-387 3l2-2m303 2v1m-509 0l2 2m117-2l1 1m20-1l2-2m113 2h2m246 0v2m0-1l2 2m80-2l2 2m1-2l2-2m-686 3h2m12 0h1m1 0l1-1m185 2l2-2m36 2l2-2m131 2h2m237 1l2-2m1 2l1-1m-627 2l1-1m71 2l1-1m220 1h2m182 0l1 1m16-1h2m239 0v1m-690 0l1 1m9-1v2m182-2h1m295 0v1m88-1l2 2m-626-1v2m56-2v2m599-2h2m92 0l2 2m-318-1h2m179 0v2m9-2v1m62-1v1m21-1h2m17 0h1m-493 1v1m101-1h1m-83 1v2m357-2h2m12 0h2m69 0h1m44 1v1m39-1v1m-744 0l2 2m183-2h1m144 0l2-2m-251 3v2m119-2v2m275-2l2-2m96 2v2m24-2v1m-631 0v2m578-2l2-2m40 2h1m114 0h1m-7 1h2m-620 1v2m165-2l1-1m353 1l1-1m-104 2v1m-368 0l2 2m289-2v2m136-2l1-1m132 1l1-1m22 1l1 1m-683 0h2m268 1h2m27 0h1m17 0l2-2m386 2h1m-525 1h2m7 0l2-2m112 2h1m-246 1h1m233 0h2m231 0v1m105-1l2-2m-350 3v2m15-2l1 1m258-1l2-2m-441 3l1 1m27-1v1m8-1l2-2m151 2v2m247-2l1 1m8-1v1m-593 1l2 2m-32-1l2 2m132-2v1m14-1h2m152 0v2m297-2v2m12-2h2m77 0l1 1m20-1h2m12 0v1m-703 0h1m693 0v1m-695 0l2-2m116 2l2-2m231 2h2m123 0l2 2m207-2h2m40 0h2m-695 1h2m84 0l2 2m55-2v1m126-1v1m320-1v1m-653 0v2m263-2l2 2m-27 0h2m113 0l1 1m96-1h2m-406 1v1m578-1l2 2m112-2v2m35-2v2m-195-1l2 2m154-2l2-2m-633 3v2m238-2v1m125-1l1 1m145-1v2m-274-1h2m412 0h2m-751 1l1-1m242 1v2m3-2l1-1m453 1h2m30 0h1m-122 1v1m-161 0h2m25 0h2m160 0l1 1m73-1v2m49-2l1-1m-733 2l1-1m354 1v2m20-2h2m14 0v2m162-2l2 2m-581-1h2m309 0v1m31-1l2-2m263 2h2m-2 1h1m133 0v2m-442-1l2 2m2-2l1 1m77-1v2m4-2v2m-131-1h2m-261 1h2m263 0h1m155 0l1-1m291 1v2m89-2l2 2m-540-1v2m196-2l2-2m-300 3l2 2m115-2l2 2m24-2v1m53-1v1m170-1v2m199-2h1m-149 1v1m-549 0v1m557-1h1m36 1l1-1m14 1l1-1m78 1v2m-698-1v1m230-1l2-2m122 2v2m60-2h2m303 1v2m-204-1v2m85-2h1m-357 1h2m346 0h2m-135 2v2m268-2l1-1m-706 3h1m512 0h1m-549 1v1m282-1v2m334-2h1m-592 1v1m111-1h1m276 0v1m209-1l1 1m11-1l2 2m-424-1v1m11-1v2m162-2l1-1m155 1v1m26-1h2m142 0h1m-697 1h2m580 0l1-1m-25 2v2m155-2l2-2m-713 3v1m200-1l1-1m358 1v2m-83-1l2 2m105-2h2m-336 1v2m343-2h1m-136 1l2 2m-372 0v2m84-2l2 2m542-2l2-2m-740 3l2 2m11-2h2m114 0h1m162 0v1m314-1v1m85-1l1-1m-260 2v1m16-1l2 2m301-2h2m-445 1v1m281-1h2m24 0l1 1m135-1h2m-783 1h2m18 0l2 2m407-1h1m85 0v2m-457-1v1m267-1h2m310 0v2m-423-1v2m46-2v2m83-2l1 1m421-1l1-1m-127 2v1m160-1l1-1m-719 3v2m127-2h2m432 0v2m-409-1l1-1m211 1h1m191 0h2m76 0h2m116 0l2 2m-379-1v1m21-1h1m272 0h2m-523 1h2m-1 0v2m2-2h1m196 0l2-2m299 2v1m-658 0v2m206-1v2m351-2v1m-585 0l2-2m174 2h2m21 0l2-2m511 2h2m-624 1l2 2m485-2v1m15-1l1-1m83 1l1-1m39 1l2 2m-123-1h1m143 0v2m-66 0v2m112-2h2m-517 1l1-1m455 1h2m1 0h2m-38 1v2m15-2l2 2m8-2l2-2m-309 3v1m298-1l1 1m10-1v2m-717-1l2-2m473 2h2m267 0v2m-531-1v1m322 0l2-2m163 2h1m12 0v1m7 0v2m-704-1h2m544 0h2m-463 1v2m313-2l2 2m21-2v1m283-1h2m-656 1v2m-62-1l1 1m82-1h1m150 0l2-2m495 2v1m-466 0l1-1m97 1h1m92 1v1m113-1v1m136-1h2m26 0l2-2m14 2h2m-301 2l1 1m59-1l2 2m59-2h2m120 0l1 1m-521 0v2m186-2v2m212-1l2 2m-587-1h2m468 0l1 1m256-1v1m14-1h2m-190 1l1 1m-591 1l2 2m207-2h2m405 0h1m158 0h2m-164 1l1-1m3 1l2 2m160-2h1m-718 1l2 2m409-2v1m54-1l2-2m-399 3v1m467-1v2m25-2v1m109-1l2-2m72 2l1 1m-271 0h2m67 0l1 1m167-1v2m-401-1h2m133 0l2 2m5-2v2m267-2l2 2m-579-1l1-1m50 1l1-1m-41 2v1m164-1l1 1m234-1l2-2m4 2h1m150 0l2 2m10-2h2m-579 1l1 1m28-1v2m499-2v1m8-1l1-1m24 1l2 2m5-2v1m-627 0l2 2m588-2v2m-266-1l2 2m131-2h1m193 0v2m-775-1v2m170-2h1m414 0h1m145 0v1m10-1h1m-716 1h1m310 0v2m251-2v2m46-2l2 2m96-2h1m33 0l2 2m-671-1v2m549-2v1m62-1h2m17 0h1m51 0l2 2m-92-1h1m22 0l1-1m53 1v1m9-1h1m-593 1h2m575 0l1-1m-543 2h1m238 0v1m153-1l2-2m145 2v1m-730 0l1-1m5 1h2m4 0h2m113 0v1m584-1v2m2-2l2 2m-511-1l2-2m442 2l2 2m42-2h2m28 0l2-2m-583 3v1m95-1h1m63 0h1m401 0l2-2m-133 3v2m153-2l2-2m17 2v2m-415-1v2m224-2h2m143 0v2m1-2l2-2m5 2h2m1 0v2m-757-1v2m236-2h2m107 0h2m260 0v1m156-1l2-2m-537 3h2m22 0h2m356 0v2m2-2v2m130-2h1m52 0l2-2m-683 3v2m251-2v1m390-1h1m33 0v2m-666-1v2m222-2h2m350 0l2 2m17-2h2m-440 1l2-2m219 2v2m-426-1h2m447 0l2-2m178 2h1m-503 1h2m523 0h2m20 0h2m43 0l1 1m-69 0l2 2m24-2h1m11 0v1m-653 0l2 2m17-2l1-1m26 1h1m529 0l1-1m61 1v1m7-1v2m-767-1l1 1m242-1l1-1m342 1v2m177-2l2 2m42-2l2-2m-449 3l1 1m260-1v2m193-2v1m-334 0l1-1m290 1l2 2m-384-1l2 2m48-2l1 1m363-1v2m3-2h1m19 0h1m-104 1l1-1m84 1v2m3-2h2m-88 1l2-2m0 2v2m5-2h2m81 0l1-1m-754 2l2-2m18 2v2m581-2h2m76 0l1-1m9 1l1-1m-744 2v2m81-2h1m429 0h2m207 0h2m39 0l1 1m-724 0v2m695-2v1m9-1h1m-685 1h2m734 0h2m-383 1h2m65 0h1m124 0v2m119-2v2m-133-1l2 2m138-2v1m89-1l1-1m-196 2v1m116-1v1m38-1l1 1m-618 0h2m624 0l2-2m2 2v2m-192-1l2-2m41 2l2 2m71-2h1m28 0h2m49 0l2-2m-784 3v1m519-1l1-1m200 1v2m51-2h1m9 0l1-1m-391 2l2 2m337-2l2 2m10-2v1m21-1l1 1m0-1h2m20 0h2m8 0v2m-349-1l1-1m267 1v2m5-2l2 2m22-2h2m4 0v1m4-1h1m2 0v2m-742-1h2m178 0v1m508-1h2m11 0h2m-651 1l1-1m204 1h2m169 0v2m226-2h2m22 0v2m7-2h1m12 0l2-2m4 2v1m67-1h2m17 0v1m-660 0v1m61-1v2m17-2h1m136 0v1m207-1h1m100 0h2m14 0h1m46 0v2m38-2l2 2m-779-1l2-2m610 2l1 1m0-1v2m66-2h1m71 0h2m24 0v2m-514-1v1m349-1h2m106 0l2 2m18-2v1m39-1h1m-228 1v2m54-2h2m1 0h1m165 0l2-2m22 2v1m-779 0v2m50-2l1 1m543-1v1m135-1h2m4 0l1 1m30-1l2 2m-228-1h2m109 0v1m34-1v2m23-2l1 1m37-1l2-2m11 2h2m-520 1h1m360 0l2 2m172-2v2m-182-1h2m127 0l2-2m14 2h1m3 0l1 1m34-1v1m-38 0h1m-65 1l2 2m7-2v2m58-2v1m43-1v2m-292-1h1m76 0h1m96 0l2 2m30-2h2m43 0h2m11 0h1m-472 1h1m214 0v2m194-2l2 2m31-2v1m-493 0v1m504-1h1m-286 1h1m94 0l1 1m103-1v2m91-2h2m-730 1v2m29-2h2m257 0l1 1m445-1v1m-639 0h1m145 0v2m170-2v1m64-1v1m246-1l1-1m-498 2v2m119-2v2m67-2v1m137-1v1m-551 0v1m62-1h2m554 0h1m119 0l1 1m12-1v2m-231-1l2-2m215 2h1m-346 1h1m113 0v1m86-1l2-2m29 3v1m103-1h1m34 0v1m-355 0v1m170-1h1m119 0l2 2m51-2v1m-93 0h1m52 0v1m45-1h2m-371 1v2m197-2h1m128 1l1 1m0-1h1m-705 1h1m374 0h1m198 0v2m152-2l2-2m-445 3v1m410-1l1-1m-500 2h2m35 0v2m305-2h2m116 0v2m78-2h2m-623 1h1m438 0v1m124-1h2m7 1v2m3-2h2m33 0h1m-104 1v1m-329 0h2m275 0l2-2m99 2h1m38 0h1m-702 1h2m529 0l2 2m38-2l2-2m154 2l2 2m-469-1l1 1m-199 0l2-2m60 2h2m112 0v2m216-2v2m222-2l2-2m-190 3v1m198-1v1m-519 0l1-1m498 1h2m42 0v2m-194-1l2-2m-512 3v1m138-1v2m279-2h2m-207 2h1m376 0v2m-403-1h2m142 0v1m90-1h1m301 0h2m-655 1l2 2m32-1v2m337-2h2m-202 2v1m94-1h2m-159 1v1m399-1h2m-318 1v2m186-2l2 2m39-2l2-2m-146 4l1-1m-11 2v2m160-2v2m-196 0v1m-120 2h1" stroke="#31678e"/><path d="M321 54h1m71 4v2m-5 2l2-2m-71 5h1m-36 1l2-2m196 6l1 1m-97 0l1 1m-35 4v2m-85-1v2m3 1l2 2m30-1h1m96 0h2m6 0l2-2m-113 3h2m32 0v2m64-2h1m88 0l1 1m-210 0v2m11-2v1m219 0l1-1m-224 5v1m122-1h2m-178 3h1m82 0h2m72 1l2 2m-75-1v2m44 2h2m-22 1h1m1 0l1 1m-89 0l2 2m181-2l2-2m18 2l2-2m107 2h2m-157 2h1m-34 1l1-1m64 2l1 1m-158 0v1m81-1l2-2m-104 3h1m102 0v2m226-2v1m-338 0v2m51-2v1m83-1v1m-47 0l1 1m-38 0h2m67 2l1 1m42-1v2m68-2h2m-216 1h2m96 0v2m88-2v1m-150 0v2m4-2l1 1m-73 0h2m347 0v1m-290 0v2m45-1h2m177 0l2-2m-110 3h2m70 0v1m101-1v1m-380 0l1 1m154-1v1m50-1v2m70-2v1m14-1v2m-289-1h1m86 0v1m90-1v2m16-2h1m-194 1l1-1m161 1h1m238 0l2 2m-325-1l2 2m90-2h2m137 0h2m105 0v2m-157 0v1m-58 1v1m-117 0v2m75-2l1 1m-32 0h2m56 0l2 2m64-2l2 2m28-2l1-1m59 1l2-2m28 2v1m-430 0v2m174-2v1m122-1v2m79-2v1m-354 0h2m7 0v1m172-1v2m15 0l1 1m-1 0h2m250 0l2-2m-330 3h2m41 0h1m5 0l1-1m6 1h2m192 0v1m-66 0v2m22-2l1 1m106-1h2m-410 1v2m16-2h2m50 0h2m103 0l2-2m46 2l1-1m189 1h1m-304 1h2m18 0l2-2m183 2h2m-168 1l1 1m3-1h1m17 0h2m-42 1h1m4 0l2 2m204-2l2-2m-172 3l1-1m89 2l2 2m-191-1h2m235 1v2m-182-1v2m239-2l2 2m11-2v2m-186-1v1m125-1h1m79 2h2m5 0l2-2m-244 3l2 2m-15 0h1m169 0l1 1m10-1h2m4 0l1 1m-190 0h2m189 1h1m2 0h1m-197 1v2m167-2h1m28 0h1m51 1l1 1m-35 1l2 2m-380-1l2-2m235 2h2m36 0v2m30-2h1m138 0v2m54-2h1m-136 1v2m-25-1h2m190 0l2-2m-241 4l2 2m60-2v1m142 1h2m-379 1v2m205-2h1m114 1v1m-344 1v2m116-2h2m176 1v1m23-1h1m17 1v2m-42-1h2m-359 1l2-2m390 2v2m62-1l2-2m-420 3v2m-66 0l1 1m392-1v2m-149-1h1m48 1h2m114 0h2m26 0h2m26 0h2m-105 1h1m-196 2h1m132 0h2m94 0h2m20 0v1m-440 1v1m510-1h2m-286 2l2 2m40-2h2m227 0v2m-496 0l1 1m176-1v1m73-1h1m-85 2l2-2m317 2l2 2m-424-1v1m261 0v2m103-2l2-2m44 2h1m-302 1h1m204 0l1 1m131-1v2m-453-1l2-2m397 2h1m47 0l1-1m-59 3v2m5-2l2 2m-85-1h1m122 0v2m52-1v2m-353-1v1m173 0h1m73 0h2m-130 2l2 2m198-2l2 2m-101-1v2m54-2v2m92-2l2-2m-81 3l1 1m-45 0h1m-11 2v1m69-1h1m38 0h2m-523 2v2m130-2l2-2m27 2v1m278-1h2m15 0l2-2m109 2h1m-452 1l2-2m137 3h2m33 0h1m160 1v2m30-2h2m-84 1l2-2m107 2v1m-14 0v1m19 0l2-2m-504 3h2m301 0l2 2m140-1l1 1m-150 1v1m135-1v2m-385-1v1m72-1h1m108 0v2m292-2h2m14 0h1m-283 2l2 2m122-1v2m119-1h2m-83 2h1m122 0v2m-622-1h2m208 0v2m182 0v2m184-2h1m13 0h2m-11 2h2m59 1h1m-475 1l2 2m96-2h2m336 0h1m22 1l2 2m12-2h1m-518 1l1 1m189-1h1m326 0l2 2m-571-1h1m549 0v1m-339 0l2 2m86-1l2 2m185-2v2m92-2h1m28 1v2m-86 0l2-2m59 2l1 1m-15 0v1m-505 1v2m439-2v2m-427-1h2m15 0l1-1m491 1v2m30-2h2m-73 1h2m19 0h1m-345 1v2m248-2l2 2m69-2v2m-509-1l2 2m78-2l2 2m473-2h2m-518 1l1-1m135 1h2m336 0l1 1m-165 1v2m19-2v1m195-1h1m-259 1v2m-287-1v1m17-1l1 1m195-1h1m-57 1l1 1m328-1l2-2m-263 5v2m-49 0h2m-7 1h2m379 0h2m-604 1h2m212 0h2m384 0l2-2m29 2h2m-180 1v2m144-2l2-2m-667 3h1m126 1v1m501-1h1m-141 1l1-1m147 1l1-1m-550 2v2m270-2h2m32 3h2m43 0v2m256-1h2m-240 1v1m30-1v1m-192 1l2 2m29-2v2m323-2v1m-100 3h1m-133 1h1m147 0v1m-450 0l2-2m325 3v1m136-1l1-1m59 2v1m13-1v2m-114-1h2m100 0h2m-530 1l2-2m47 2h2m155 1h1m291 0v2m8-2v2m48-2l1 1m-96 0v1m-220 1h1m273 0l2 2m-94-1h2m87 0h2m61 0h2m-554 1v1m76-1l1 1m208-1h2m270 0l2-2m-197 3l1 1m139-1v1m-99 0l1 1m21-1l2 2m-208-1v1m-221 1v1m1-1h1m306 0h1m80 0l2 2m46-2l1-1m90 2v1m-455 0l2-2m174 2l2 2m-117-1v2m14-2l1 1m298 0v1m-285 0v1m20-1l1-1m192 1v1m37-1v1m-544 0l1 1m567-1v1m79-1h1m-127 1v2m-425-1l2 2m180-2v2m213-2h1m7 0l2-2m15 2v1m138-1h2m-424 1v1m503 0l2 2m-463-1h2m246 0v1m-273 0h1m3 1v2m459-2l1 1m-471 0h1m1 1l1-1m55 1h2m226 0l1-1m133 1v2m-444-1l2-2m46 2v2m257-1l1-1m143 1v2m-451-1h2m244 1h2m33 0h2m214 0h2m-453 1l2 2m26-2l1 1m198-1v1m-26 0l1-1m92 1h2m95 0h2m-621 1h2m101 0v1m120-1h2m2 1v1m33-1h1m237 0v1m17-1l2 2m130-2h2m-134 1v1m161-1v1m-457 0v2m243-2l2-2m195 2h1m-340 1v2m-51-1l2-2m87 2h1m308 0l2 2m-217-1l2-2m49 2l1-1m114 1h2m47 0h1m-472 1h2m11 0h2m309 0l2-2m-231 3h1m249 1h1m-580 1h2m275 0h1m307 0h1m2 0v2m108-2v1m-578 0l2-2m115 2v2m3-2l1-1m355 1h2m-365 1h1m412 0l2-2m-514 3h1m115 1h1m85 0h2m334 0l1 1m85 0v1m-429 0h1m224 0v1m-41 0h1m47 0v1m-394 0v1m62-1l2 2m5-2v1m78 0l1 1m101 0l2-2m-192 3l2-2m332 3h1m27 0v2m-250-1h2m3 0v2m34-2l1-1m204 1l1 1m-368 0v1m335-1h2m90 0l2-2m-25 3v1m-369 0v2m123-1h1m197 0v2m13-2v1m-347 0h2m363 0l2-2m-449 3v2m-69 0v1m86-1l1-1m10 1l2 2m180-2v1m-161 0l2 2m282-2l2 2m122-2v2m-19-1v2m71-2h2m47 1l1-1m-330 2h2m-208 1v1m414-1l2 2m122-2h2m25 0h2m-363 1v1m307-1l1 1m-545 0l2 2m196-2v1m174-1v2m70-2l1 1m20-1l2-2m-389 4h1m132 1h1m-331 1v2m580-2v1m8-1l2 2m48-2l1 1m-225 0v2m159-2l2-2m-428 3v2m178-1l2 2m177-1v2m-398-1l1-1m69 1v2m136-2l1 1m257 0v2m2-2h2m-449 1h1m196 0h2m253 0h1m-239 1h2m-24 1l2 2m270-2h1m86 0h2m-37 2h1m-503 1l1 1m8-1v1m16 0v1m72-1v1m260-1v1m94-1l1-1m0 1h2m24 0l1-1m-489 2h2m474 0l2 2m148-2v2m-663-1h1m44 0l2 2m386-2h2m194 0h1m-613 1h2m17 1h2m41 1l1 1m182-1l1 1m-184 0h2m80 0h1m-100 1h2m169 0v1m256 0v2m12-2v2m-457-1l2-2m225 2l1 1m354 0v2m-571-1v2m27-2l2 2m110-2l1-1m394 1l1 1m-300 0h2m225 1h2m88 0v1m-422 3l1 1m232-1h2m158 0h2m-301 1l2 2m240-2l1 1m115-1v2m-704-1l1 1m567-1l2 2m-199-1h1m-261 1v1m469-1l2 2m-169-1v2m-187-1h1m48 1h1m185 1l1-1m122 1v2m-82-1l2 2m89-2v1m116-1v2m-486-1h1m26 0v2m21-2l2 2m313-2v2m85-2h1m-10 2v1m34-1h2m-304 1v2m184-2v2m11-2h2m-581 2v2m298-2v1m295-1l2 2m49-2h1m-638 1l2-2m580 2l1 1m-600 0l2 2m131-2v1m94-1v1m426-1h1m85 0v2m-436-1v1m-58 0h1m85 0h1m97 0l1 1m161 0v1m-424 0v1m300-1l1 1m128-1v2m61 0h1m-675 1v2m231-2v2m379-2v2m-394-1l1 1m16-1v1m82-1l1 1m387 0v1m20-1v2m10-2v1m-157 2l2-2m28 2l2-2m79 2h1m-469 1v1m268-1l2-2m86 3h2m-342 1l1 1m374-1v1m90-1l2 2m6-2v2m-689-1h1m268 0h1m35 0l2 2m9-2h2m-61 1l2-2m92 2h2m35 0l2 2m206-2l1-1m118 1h2m-637 1h1m392 0l2 2m-492-1v1m232-1h1m87 0h2m168 1l1 1m-292 0v2m78-2v2m479-2h2m-362 1h1m219 0l1-1m-395 2v2m90-2v2m107-2l1-1m251 2v2m34-2v1m-110 0l1-1m114 1v2m-99-1l1-1m-294 2l2-2m14 2v1m372-1l2-2m59 2l2 2m-528-1v1m81-1v1m182 0v2m-547 0v2m110-2v2m627-2h2m-491 1h1m115 0v2m100-2l1 1m256-1l2 2m-145-1l2-2m49 2v1m182-1h1m-427 1v2m82-2v1m253-1l1-1m0 1v1m-599 0h2m402 0v2m-153-1v1m281-1v2m-596-1h1m449 0l1 1m55-1v2m91-2l1 1m33-1h1m-567 1h1m143 0l2 2m-208 0h2m584 0l2-2m-649 3v1m300-1v1m-280 2l2-2m260 2h2m443 2v1m-207 0h2m201 0v2m-682 1h2m225 0h2m444 0h2m-596 1l2-2m514 2v2m-80-1l2-2m-258 4h2m319 2h1m-4 2v1m-528 0l2 2m648-2h2m-499 1l2 2m15-2h2m48 1l1-1m460 1v1m-331 0l1-1m197 1h2m148 0v2m-726-1h2m683 0v1m-244 1h1m145 0l1 1m128-1h1m-152 3l2-2m-438 3h2m431 0h2m-172 1h2m-66 1h2m-43 1v1m-329 0v2m628-2h1m-354 1h2m423 0v2m27-1l2 2m50-1v1m-761 0l1 1m163-1h2m-167 3l2 2m-25-1h2m772 0h1m-784 1l2 2m622-2v2m-45 0v1m104-1l1-1m-702 2h1m55 0h1m769 0l2 2m-193-1v2m14-2l1 1m105 0l2-2m14 2v2m-415-1v2m256-2h2m35 0l2-2m7 2h1m7 1v2m-254-1l1-1m227 1v2m-640-1h2m151 0h1m156 0h2m324 0h2m83 0h1m-638 2l2-2m8 2h1m53 0l1 1m376-1l1 1m-467 0l1-1m174 1h2m72 1h2m323 2h1m1 0l2 2m-628-1h1m517 0v2m104-2h1m-415 1h2m403 0v2m128-2h2m-722 1v2m603-2h2m142 0v1m12-1v2m-365-1l2-2m322 2h1m29 0h1m-448 2h2m491 0l1-1m-796 2l1 1m116-1h1m117 0l1 1m371 1l2 2m0-2v2m-476-1l2 2m66-2l1-1m529 1h2m84 0h1m-562 1v2m364-2v2m159-2h1m-590 1v2m403-2h2m-152 1h1m-466 1v1m463-1l1-1m271 1l2 2m-608-1l1-1m493 1l1 1m144-1v1m8-1l2 2m-543-1l2-2m163 2l1 1m364-1l1 1m-661 1l1 1m549-1v2m30-2l2-2m-106 3v2m-540-1l1 1m326 0l1-1m411 2l1-1m7 1v1m12-1v2m-575-1l1-1m27 1v2m71-2l2 2m245-2l2 2m52-2h1m174 0l1-1m4 2l2 2m-13-1l2 2m-298-1v2m206-2l1-1m-31 2v2m2-2v2m53-2h2m71 0v2m-156-1v1m59-1h2m71 0v1m-186 0l2 2m-459-1l1-1m627 1v2m-6-1v2m-47-1l2-2m74 2h2m35 0l2-2m-610 3v2m470-2v2m65-2l2 2m33-2l2-2m-1 2l1 1m-186 1h2m12 0h2m69 0v2m-76-1l2 2m78-2h2m13 1l2 2m13-2l2 2m28-1h2m-619 1v1m285-1v2m332-2v1m-606 0v2m-31-1l1-1m506 1v2m102-2l2-2m82 2v1m-50 0l1-1m-543 2l2 2m100-2v2m-238-1h2m636 0h1m-667 2v2m115-2h2m570 0l2 2m1-2v1m14-1h1m4 0v2m11-2h1m10 0l2 2m-261-1h1m222 0l2 2m41-2v1m-199 0l2 2m92-2h1m18 0v2m9-1h1m88 0v1m-806 0h2m767 0v2m14-2l2 2m-33-1l2-2m-621 4h2m1 0h2m200 0l2-2m466 2l2-2m-449 3h1m383 0l2 2m49-2l2 2m-3-1h1m-66 2h2m22 0h1m29 0v1m14-1h2m14 0v1m-209 0v1m142-1h1m0 0l2 2m48-2l2-2m-475 3v2m427-2h2m3 0l2 2m7-2h2m4 0h2m-132 1v2m105-2l1-1m49 1v1m9-1h1m9 0v2m-184-1v2m9-2l2-2m-41 3v2m116-2v2m6-2v1m45-1l1-1m53 1h2m-467 1l2-2m95 2v1m166-1v2m-406-1h1m530 0v1m24-1l1-1m27 1l2-2m7 2h1m-40 1v1m-728 0h2m714 0v2m-598-1l2 2m475-1l1-1m77 1h1m-622 1v1m189-1l2-2m507 2v1m11-1v1m-84 0l1 1m93-1v1m-105 0l2 2m66-2l1 1m2-1l2 2m-60-1h2m35 0h2m1 0h2m-413 2h1m93 0l1 1m276-1l1 1m57-1l2-2m28 3h1m-179 1v2m84-2v2m-553-1l1 1m638-1v2m-122-1h2m27 0h2m27 1h2m75 0v1m-697 0h2m149 1l1 1m27-1l1 1m453-1l1-1m53 1v2m-176-1l2-2m-433 3h2m536 0h1m51 0v1m25-1v1m-121 0h1m14 0l1-1m99 1v1m-428 0h1m159 0h2m52 0l2-2m29 2h1m-493 1v1m53 1h2m95 0l1-1m498 1l2-2m-321 4h2m312 0v1m24-1v2m-140-1h1m78 0h2m28 1h1m-133 1l1 1m70-1l2 2m67-2l1 1m-2 0h1m-137 1h1m77 0h2m-450 1v2m371-2h1m95 1l1 1m-455 0h1m259 0v2m173-2v2m-656-1l2 2m690-2h1m-619 2v2m463-2v2m154-1v2m3-2v2m-657-1v1m680 0l1-1m-568 2l1 1m540 0h1m-363 1h1m77 0v1m300 0l1 1m-629 0v1m416 0v2m88-2l1 1m1-1l1-1m14 1v1m26 6h1m-255 1v2m24 0h2m225 4l2-2" stroke="#287d8e"/><path d="M330 34l2 2m-2 21l1 1m120 9h2m-69 2l1-1m54 1l1-1m-105 3h2m-76 3h2m5 1h2m101 1v2m-71 2h1m61 4l1 1m-79 0h2m140 0v2m10-2v1m-114 0l1-1m-40 2l2-2m133 3v2m-164-1h2m21 1h1m4 0h2m222 0l1 1m-166 0h1m239 1l2-2m-290 3h2m221 0h1m-41 2l1-1m-9 3v2m-191-1h1m21 0l1 1m6 0v2m46-2h1m-2 1h1m-2 1l2 2m129-2v2m-230 1v1m85 1l1-1m29 1l2 2m128-2l1 1m-36 1l2-2m-25 3h1m-164 1v1m-76 1v2m103-2v1m-125 1l2 2m365-2l2-2m13 2v2m-191-1v1m-153 1h2m391 0h1m-335 3h2m25 0h2m61 0v2m10-2l2 2m-107-1h1m188 0l2-2m-66 3v1m-150 0h2m195 0v2m62-2l1 1m34-1h2m-210 1l1 1m222 1l1-1m-257 2h1m-16 1h2m-7 1h2m94 0h2m-83 1v2m70-2h2m90 0h1m18 1v1m17-1l2 2m-233 0l1-1m218 2v2m34-2v2m51-2h2m-399 1v1m87-1h1m113 0l1-1m126 3h2m41 2h2m16 0h2m-186 1h2m84 0h1m55 0h2m132 0h2m-284 1l2-2m33 2h2m38 1v1m-74 0v1m79-1l2-2m194 2h2m-319 2h1m225 1v2m7-2h1m26 2h1m-88 1l2 2m78 1v1m26-1l1 1m-163 0v1m167-1h1m-21 2h2m-371 1h2m395 0v2m-190-1h2m-205 2h1m356 0h1m-75 1h2m0 0h2m135 2h2m-85 2v1m28-1h1m-111 1h2m110 0v2m129-2v1m-403 0v2m284-1v2m-159-1h1m81 0h1m-73 1h2m75 0h2m-59 2l2 2m104 0h2m-73 1v2m135-2h1m24 0v2m-106-1l2-2m-412 5v2m4 0v1m367-1h1m-110 1h1m198 0h2m-17 3h2m-334 1h1m3 1v2m1-2l2 2m4 2l1-1m221 3l2-2m218 4h1m-66 1v2m-40-1l2-2m17 3l2 2m85-2l1-1m-77 3v2m34-2h1m-324 1v2m62-2v2m196-2v2m-164 0h2m50 2l2 2m160-2h2m57 0v1m-414 0l2-2m-23 4l2-2m287 2v1m-368 2l2 2m435 1v2m28-1v2m-450 0v1m496 2v1m-84 0v2m-179-1v2m5-2h1m31 1h2m74 1v1m44 0h1m-243 2h2m36 0l2-2m-160 3h2m96 2l1 1m284 1v2m129-1v2m-5-1h2m-239 7v1m154 0v1m66-1v2m-655 0h1m-6 1l2-2m125 2v1m284-1h1m229 0v1m-74 0l1 1m-179 2v1m-335 3l1 1m641 0v2m-26 0l1-1m-299 4h2m166 2v2m96 0l2 2m62 0l1-1m-364 3l1-1m285 4h1m-421 4l1 1m256 1v2m-59-1v2m252 0v2m4-2h1m-52 1h2m-305 2v2m394-1l2 2m-55 0l2-2m-582 3l2-2m411 2v2m124-2h1m-482 1l1 1m216-1l2-2m198 3l2-2m118 3v1m17-1v1m-289 1v2m262-1v1m-545 0v2m104-1v1m92-1l2-2m-17 3h1m327 0v1m-308 1h2m174 0l2 2m32-2h1m138 1v1m-365 0v2m224-1l2-2m150 2h1m-552 1v1m180-1l2-2m286 3v1m55-1v2m14-2l2-2m-411 3h2m122 0l2 2m194-2v2m103-1h1m-385 1h2m235 0v2m120-2h2m0 0l2 2m-326-1h2m56 0l1-1m328 1h1m-237 1v1m79-1l2 2m-21-1v1m132-1h2m-199 1v2m71-1h1m-516 1l1-1m268 1v2m114-2h1m290 0v2m-594 0v2m219-1l1 1m298-1h2m64 0h2m-161 1v2m-360-1l1-1m328 2v1m61-1l2 2m-300-1l2-2m318 2v1m-200 1l1-1m183 3v1m5-1l2 2m6-2h2m19 0v2m-242-1v2m85-2l2-2m138 2h2m130 0l2 2m-88-1l2 2m-380-1h2m-177 1l2 2m181-2h1m419 0v1m-447 0v1m317 0h1m-245 1l2 2m-229-1h1m605 0v2m-92-1l1 1m-493 0h2m182 2v2m82 0v1m-134 0v2m385-2v2m52-2v1m-343 0h1m-95 1l2 2m365-2v1m99-1l2-2m-517 4l1-1m408 1v2m-267-1l1-1m264 1l1 1m24-1l1-1m-376 2v2m364-2h1m6 1h2m0 0h2m-497 2v2m90-1l1 1m5 0v1m-32 0v1m418 0h2m19 2l1-1m-16 2h2m7 0v2m-423-1v1m476-1h2m-468 1h1m384 0v1m-39 0v1m-66 1l2-2m-162 3v1m386 0v2m34-1h1m-442 1h1m-125 2l2 2m543-2v2m64-2v1m-782 0h2m349 0v2m269-2h1m56 0v1m-64 0l1-1m-440 2l2 2m-163-1h2m124 0v1m476 0l1-1m-501 2v2m60-2l2-2m-78 3v1m638-1v2m-407 3l2-2m297 4l1-1m-15 3l2 2m4-2h1m98 1v1m-422 0v2m403-1v2m-413-1l2-2m23 2v2m146-1l2 2m170-1h1m-604 1l2-2m20 3l2 2m661-2l2-2m-151 3v2m-278-1h2m3 0h1m-10 1v1m172 0v1m244 1v2m-182-1v1m215-1l2 2m-702-1l2 2m597-2h2m-564 2l1 1m103-1h2m68 1h1m45 1h2m341 0l1-1m114 1l2-2m4 5v2m-376-1l1-1m242 1l2-2m14 2v1m-323 1v1m66-1v2m-323-1v1m673-1h2m-86 1l1-1m-378 2h1m2 2l2-2m467 2v1m-162 0h2m-298 1l2-2m104 4v2m347-2v2m15 0l1 1m-60 0h1m-460 1h1m485 0l2 2m28-2h1m-688 1l1 1m195-1l2 2m127-1v2m305-2l2 2m-644-1l2 2m320-2l2-2m4 3h2m215 2h2m137 0h1m-434 1v1m443-1v2m-409-1h2m-80 1l2 2m-242-1v1m342 1l2 2m285-2h2m-603 1l2-2m602 2l2-2m-557 3h2m136 1h2m119 0l2-2m295 2l1-1m162 1h2m-479 1l1 1m53 0l1-1m-39 4l2-2m403 2h1m-657 1v2m122-2l2 2m120-2l1-1m286 1h2m-34 3h1m-562 3h2m316 0l2 2m360-2h1m8 0l2 2m-95 0h2m64 1h1m49 1h1m-378 1l1-1m-111 2l2-2m372 3l1 1m88 0h2m18 0l1 1m2-1v1m4-1l1 1m13-1h1m-407 1l2-2m278 2v1m-259 0v2m67-2l2 2m325-2v1m-179 0v1m-415 0v1m544-1l2-2m-372 4h2m-326 1h1m426 1l1-1m169 1v2m-243-1v1m394 1h2m-748 3l2 2m598-2h2m-1 0l1 1m78-1l2-2m-86 3v1m142-1v2m-151-1v1m-5 0v2m-557 1v2m143 0h2m412 0v1m-128 0h2m-411 3l1-1m303 1l1-1m40 2h1m301 1l1-1m-328 2h1m235 2h2m113 0l2-2m-711 3h2m350 0l2 2m332-2l1-1m-361 2l2 2m13 0h2m222 0v1m-354 2v2m468-1h1m-117 2v1m142 2l1 1m6-1l1-1m-104 2h1m114 0v1m16 0h2m-186 2v1m11-1l2-2m-573 4l2 2m569-1h2m143 0h1m-703 1l1 1m339 3l1 1m-105 0h1m319 0h2m143 0l1-1m7 1v2m-532-1l1 1m375-1h1m121 0h2m49 0v2m40-2h1m-361 5v2m239-2v2m-708-1v2m752-2v1m21-1h2m39 0v2m-77-1v1m4 0v1m-691 0v1m744-1v2m-654-1l2 2m650-2v1m-175 0v1m113 0v1m2-1l2 2m-132-1v2m138-2v2m66 0v1m-385 0h2m255 0l2-2m45 2h2m42 0l2-2m2 2l1-1m4 1l1 1m-526 0l1-1m524 1h1m-40 1l1 1m-723 0v1m678-1v2m36-2v2m35 0h1m-155 1v2m182-2l2-2m-212 3v2m188-2v1m-9 0l1 1m-148 1l1 1m92 3v2m25 0v2m-340-1h1m-192 3v2m507-2h2m3 0h2m21 0l2 2m71-2l2 2m-522-1h2m317 0v2m149-2l2 2m-367-1v1m195-1h2m22 0l1 1m-191 1v1m274-1v2m1-2v2m11-2l2 2m12-2v1m50 0v1m-188 2v1m112-1h1m83 1h1m-771 1l1-1m399 1l2-2m195 3h1m-553 1l2 2m448-2v1m292-1v2m-250-1h1m78 0v2m108-2h2m3 0h1m-54 1l1 1m-462 0l1 1m385-1l1 1m-459 0h2m587 0h2m10 1l1-1m-728 3v2m694-1h2m-13 1l2-2m38 2l2 2m-339-1l1 1m274-1l2-2m86 2h2m-555 1l1 1m378-1v1m153-1h2m40 0l2 2m-7-1l2 2m-447 0l2 2m110-2v1m314 1h2m-91 1h2m103 0v2m-501-1h1m450 0v1m-499 0h2m536 0h2m-70 1v2m85-2l2-2m-182 3h2m80 0l1 1m27-1h1m-517 1v2m420-2v2m153-2l2 2m-84-1l2-2m-89 3v1m108-1v1m75-1l2 2m-619-1h1m528 0l2 2m-210 0h1m285 0h1m-54 1h1m-617 1v1m20-1h2m344 1v1m265 1l1 1m7 1l2 2m-187-1l1 1m46 1v1m-483 2l1 1m26-1l1 1m565-1v1m-457 2v1m272-1v1m-142 0h1m240 1v1m-435 0l2-2m78 2h1m125 0l2 2m-182-1v1m400 0v2m-17-1v2m-375 4v1m130-1l1 1m-23 6v2" stroke="#1f978b"/><path d="M465 59h2m-108 15h1m-116 15h2m190 7h2m-72 1v1m-3 3l2 2m-30 1l2-2m-55 6l2 2m245 4h1m-126 6v1m-144 0h2m109 0h2m209 3l1-1m-123 2h2m-189 1v2m112 6v1m130-1l2 2m-230 0h2m64 0l1 1m-177 1l2 2m313-2v1m-306 2h2m286 0h2m-59 5v1m31-1v2m26-2v1m-137 0h1m169 0h1m188 1l1-1m-378 2l1-1m182 1l1 1m99-1l2 2m9-1h2m-112 2v2m15-2h2m78 3l1-1m-56 3v1m-68 1h1m-347 3l1-1m526 4v2m-82 1h2m-252 4l2 2m194 3h2m171 0l2-2m-98 7h1m-323 9v2m358-2v1m-313 2v2m367 1v1m-464 5h2m248 5v2m-144 0l2 2m323 2v2m17 1v2m5-1h2m-8 1v1m-479 2v2m178-2v2m-248 6v1m347 2h2m257 1h1m-637 5l2-2m606 4v2m-355-1v2m-173-1h2m512 9h2m-341 6v1m414-1h1m-90 7v1m-458 3l1-1m379 5l2 2m181 0v2m-109 1v2m89-1l2-2m13 3h2m-522 3l1-1m126 2h2m-7 1l1 1m-242 0l1-1m586 2v2m-310-1v2m42-2h2m33 5h1m-151 10h2m273 0v2m-13-1l2 2m9-2h2m-262 1h1m-67 4h1m299 0h2m-222 2h1m259 2h2m2 2v2m-279-1l1 1m303 0h1m126 4l1-1m-437 2l2 2m364-2h2m107 0l2-2m-520 4h1m57 0v1m73 4l2-2m224 2v2m-342 1l2 2m-22 1l1 1m-47 0v2m51-1l2 2m474-1v1m5-1l2 2m-547-1h1m71 2v1m144 2v2m-166 1l2-2m379 2h2m3 0l2 2m8-1l2 2m-425 1h1m106 0h1m62 1h1m241 0h2m9 0h1m-535 3h2m107 1v2m-13-1v1m1 2v1m-43 1h1m186 0h1m-33 3l2-2m56 2h1m277 3v1m83-1h2m-32 2h2m-131 1h2m-487 4v2m644 3l1 1m-82 0v1m16 5v1m-242 4h2m240 0h2m-365 3h1m282 0h1m220 4h1m-137 2l2 2m4 0v2m39-1h2m-622 2v2m627-1l2-2m-20 5l1 1m-23 0h1m32 3h2m-32 3h2m115 1v1m-713 2v2m513-2h1m164 0v2m-105-1h2m-615 1l2 2m20-1v2m598 2h2m-136 2l2 2m-112 2l2-2m7 2h1m132 0l1-1m-157 2h2m276 1l2-2m80 3v2m-462 6l2 2m463 6h2m-108 2h1m-9 8v1m-432 9h1m422 0l1-1m-635 2l1-1m629 5h2m142 1l2 2m-699-1l2 2m-31-1v2m672-2v1m-400 0l2-2m303 3v1m94 1h1m-105 1v2m-382 1l1-1m394 1l1 1m-540 0v2m-23 1h2m566 1v2m129 3v2m-674 4h1m523 3l2-2m-584 6l2-2m95 3v2m670-2h2m-460 1v1m348-1h2m-214 2v2m300 4v2m-285-1h2m57 2v1m51-1h1m-7 1v1m183 0l2 2m-40 1v2m4-2v2m-615-1h2m609 0v1m8 0l1 1m23-1l1 1m18-1v2m-773-1l1 1m763 0v2m-166 0l2-2m102 5h2m27 0l2-2m-20 4l1 1m-36 2h2m107 0v1m-250 1l2 2m-124-1v1m365 0h2m-191 2v1m174-1v1m-51 1l1-1m-436 3h2m191 1h2m273 0l2-2m-227 3l1 1m216-1l2 2m23-1l1-1m-511 7v2m340-2l2-2m-464 7h1m624 0v2m-548-1l2-2m579 2l1-1m-542 2l2-2m520 2h2m-487 1v2m466-2l1 1m-82 0h1m95 1h2m-182 1h1m-573 2v2m723-2h1m-725 1l2-2m702 3l1 1m-66 0v2m114 2v1m-165 0v1m163-1l2-2m-62 3h1m-226 5v1m226 8l1 1m12 2h2m-325 1l1 1m-213 1h1m4 3v2m134 10l2 2" stroke="#2cb17e"/><path d="M431 70h2m-44 27l2 2m-42-1h2m-73 2h2m298 4v2m-249 1h2m-7 4v2m20 27l1-1m152 6l2 2m91 9h1m101 21l1 1m-108 5v2m17 17h2m-240 1v2m171-1v1m111 13l1-1m28 13l1 1m-217 9l1 1m-316 5l1 1m531 0v2m64 17v2m-609 0l2-2m669 6h1m-64 5h1m38 1v1m-582 0h1m425 12v2m143 0l2 2m-328 6h1m83 3v1m95 0v1m126 0l1-1m-409 2h2m-28 12h1m452 0v2m-53 1l2 2m-620 5h2m187 1h2m114 0v2m62 3h1m-168 5h2m386 2l2 2m-424-1v1m188 4l2-2m247 15h2m-440 3v2m-150-1l1 1m587 5h2m-255 2v2m287 0h1m-44 11v1m-9 11h2m44 11h2m-15 3h2m120 2v1m-710 5v1m474-1h1m125 2l2 2m-259 0l1 1m-21 5l2-2m-313 8v2m701-2l2 2m-120 1l1-1m-189 2v2m-440 0l1-1m739 2l2-2m-129 7v2m-354 5l2-2m-226 5h2m713 7v2m-752 3h1m610 8v2m-9 1h1m-12 7v2m10-1v2m-458 1l1 1m529 10v1m89 12h1m-30 9h1m-139 2h1m181 5h2m-55 1v2m47 4h1m-407 3h2m225 7v1m136 8l2-2m23 3l2 2m3 2v1m12 2h2m-41 1h1m-57 10v1m33-1v1m4 3h2m-118 1h2m168 1v2m-493 2l1 1m315 1h2m132 0h1m18 0l2 2m-48 1h2m-196 2h2m-341 1h2m479 1v1m-505 6v1" stroke="#63cb5f"/><path d="M288 70h1m166 31l1 1m-6 4v1m29 7v2m-113 15h1m129 21l2-2m179 13h1m-88 8h2m-97 1v2m125-1l1 1m28 4l1-1m9 24h1m25 36v1m77 4h2m47 22h1m-125 3v2m-130 11l2-2m-27 19l2-2m-77 4h2m255 11v2m-138 22l1-1m189 8h2m-400 6v2m-96 1l2 2m394 7l2-2m-63 47h2m-295 7v1m423 13l1-1m113 17h2m-139 6v1m-7 23v1m-417 16v1m-96 7h2m632 12h1m-2 10h1m5 1l1 1m-3 0v2m-113 1v2m-608 1v1m708 7v2m-141 19h2m-17 5v2m185-1v2m-751 6l2 2m747 6h2m-67 3h1m-12 14l1-1m-95 11v1" stroke="#b0dd2f"/><path d="M376 61v1m124 8v1m-91 20l2 2m60 11l2-2m-95 25l1-1m42 1l2 2m-119 0v1m71 4v1m-28 1l1-1m160 7h1m-174 4h2m81 41l1 1m345 99v2m9 2h2m-664 6v2m651 24l2 2m40 5v2m-122 15h1m-3 6h2m74 18l2 2m-355-1v2m7 27l2-2m-75 6v1m294 3h2m-58 3l1-1m-44 19h2m175 11v1m-598 24v2m300-1v1m266 6v2m35 7l2-2m-639 14h1m601 21v1m148 1h2m-20 5l2-2m44 4h1m-51 18v2m-25-1l2 2m-109 1h1m147 5v2m-65 50v1" stroke="#fde725"/><path d="M314 53l2 2m201 24h2m-52 19v1m-141 1h2m-118 13v1m237 1h2m105 9l2-2m-189 3l1-1m-84 2l1 1m79 3v1m154 1v2m114 8h2m-414 14h2m443 2l2 2m-169 1v2m41 12h2m-387 3l2 2m232-2l2-2m35 28l1-1m159 3l1-1m-20 4v2m-14-1l1 1m-456 12l2-2m279 4l1-1m-18 18h2m334 2l1-1m-283 10v1m331 1l2 2m-95 6h2m73 1l2 2m-503 5l1-1m187 15h1m128 0l2 2m-32 10l1 1m82 4l1-1m1 7h2m-270 2v2m441-2l1 1m-468 10h2m-5 7l1-1m-24 7v2m373 0l1 1m-102 1h1m-124 2v1m-254 13l2-2m-39 12l2-2m621 4v1m-264 10h2m227 5l2-2m-24 18l1 1m-355 10h2m419 7l1 1m-325 1l1-1m398 2v2m-720 17h1m301 8v2m-351 2h1m97 17h1m545 7h1m-594 16l1-1m662 1l1 1m57 9v2m-736-1h1m174 3v1m52-1l1-1m77 5h1m274 9h2m-593 1v2m593 4v2m93 0h2m-220 1h2m-338 1h2m598 8v2m-390 1h1m255 2l1 1m-16 10h1m-469 2v2m85 6l1 1m295 3l1-1m99 2h2m136 0h2m-29 11h2m-559 3h1m149 3h1m438 2l1 1m-148 1l2-2m-341 23h2" stroke="#e9a15c"/></g>
<rect x="94.5" y="1595.3" width="463.6" height="323.5" fill="none" stroke="#000" stroke-width="1.7"/>
<line x1="94.5" y1="1918.8" x2="94.5" y2="1926.1" stroke="#000" stroke-width="1.7"/>
<text x="93.5" y="1947.2" font-size="18.6" text-anchor="middle">0</text>
<line x1="158.4" y1="1918.8" x2="158.4" y2="1926.1" stroke="#000" stroke-width="1.7"/>
<text x="157.4" y="1947.2" font-size="18.6" text-anchor="middle">1000</text>
<line x1="222.2" y1="1918.8" x2="222.2" y2="1926.1" stroke="#000" stroke-width="1.7"/>
<text x="221.2" y="1947.2" font-size="18.6" text-anchor="middle">2000</text>
<line x1="286.1" y1="1918.8" x2="286.1" y2="1926.1" stroke="#000" stroke-width="1.7"/>
<text x="285.1" y="1947.2" font-size="18.6" text-anchor="middle">3000</text>
<line x1="350.0" y1="1918.8" x2="350.0" y2="1926.1" stroke="#000" stroke-width="1.7"/>
<text x="349.0" y="1947.2" font-size="18.6" text-anchor="middle">4000</text>
<line x1="413.8" y1="1918.8" x2="413.8" y2="1926.1" stroke="#000" stroke-width="1.7"/>
<text x="412.8" y="1947.2" font-size="18.6" text-anchor="middle">5000</text>
<line x1="477.7" y1="1918.8" x2="477.7" y2="1926.1" stroke="#000" stroke-width="1.7"/>
<text x="476.7" y="1947.2" font-size="18.6" text-anchor="middle">6000</text>
<line x1="541.6" y1="1918.8" x2="541.6" y2="1926.1" stroke="#000" stroke-width="1.7"/>
<text x="540.6" y="1947.2" font-size="18.6" text-anchor="middle">7000</text>
<line x1="87.2" y1="1918.8" x2="94.5" y2="1918.8" stroke="#000" stroke-width="1.7"/>
<text x="80.1" y="1927.1" font-size="18.6" text-anchor="end">0</text>
<line x1="87.2" y1="1854.8" x2="94.5" y2="1854.8" stroke="#000" stroke-width="1.7"/>
<text x="80.1" y="1863.1" font-size="18.6" text-anchor="end">1000</text>
<line x1="87.2" y1="1790.8" x2="94.5" y2="1790.8" stroke="#000" stroke-width="1.7"/>
<text x="80.1" y="1799.1" font-size="18.6" text-anchor="end">2000</text>
<line x1="87.2" y1="1726.9" x2="94.5" y2="1726.9" stroke="#000" stroke-width="1.7"/>
<text x="80.1" y="1735.2" font-size="18.6" text-anchor="end">3000</text>
<line x1="87.2" y1="1662.9" x2="94.5" y2="1662.9" stroke="#000" stroke-width="1.7"/>
<text x="80.1" y="1671.2" font-size="18.6" text-anchor="end">4000</text>
<line x1="87.2" y1="1598.9" x2="94.5" y2="1598.9" stroke="#000" stroke-width="1.7"/>
<text x="80.1" y="1607.2" font-size="18.6" text-anchor="end">5000</text>
<text x="324.8" y="1559.8" font-size="22.6" text-anchor="middle">Codeword: Dtnbp1-7864</text>
<text x="324.8" y="1583.2" font-size="22.6" text-anchor="middle">(Dtnbp1-201/204 only)</text>
<text x="325.3" y="1973.7" font-size="18.6" text-anchor="middle">X Position (µm)</text>
<text x="18.5" y="1757.0" font-size="18.6" text-anchor="middle" transform="rotate(-90 18.5 1757.0)">Y Position (µm)</text>
<linearGradient id="vg0" x1="0" y1="0" x2="0" y2="1"><stop offset="0.0000" stop-color="#fde725"/><stop offset="0.0625" stop-color="#d8e219"/><stop offset="0.1250" stop-color="#addc30"/><stop offset="0.1875" stop-color="#84d44b"/><stop offset="0.2500" stop-color="#5ec962"/><stop offset="0.3125" stop-color="#3fbc73"/><stop offset="0.3750" stop-color="#28ae80"/><stop offset="0.4375" stop-color="#1fa088"/><stop offset="0.5000" stop-color="#21918c"/><stop offset="0.5625" stop-color="#26828e"/><stop offset="0.6250" stop-color="#2c728e"/><stop offset="0.6875" stop-color="#33638d"/><stop offset="0.7500" stop-color="#3b528b"/><stop offset="0.8125" stop-color="#424086"/><stop offset="0.8750" stop-color="#472d7b"/><stop offset="0.9375" stop-color="#48186a"/><stop offset="1.0000" stop-color="#440154"/></linearGradient>
<rect x="571.5" y="1595.3" width="22.6" height="323.5" fill="url(#vg0)" stroke="#000" stroke-width="1.5"/>
<line x1="594.1" y1="1918.8" x2="601.3" y2="1918.8" stroke="#000" stroke-width="1.7"/>
<text x="607.7" y="1926.7" font-size="18.6">0.00</text>
<line x1="594.1" y1="1878.4" x2="601.3" y2="1878.4" stroke="#000" stroke-width="1.7"/>
<text x="607.7" y="1886.3" font-size="18.6">0.25</text>
<line x1="594.1" y1="1837.9" x2="601.3" y2="1837.9" stroke="#000" stroke-width="1.7"/>
<text x="607.7" y="1845.8" font-size="18.6">0.50</text>
<line x1="594.1" y1="1797.5" x2="601.3" y2="1797.5" stroke="#000" stroke-width="1.7"/>
<text x="607.7" y="1805.4" font-size="18.6">0.75</text>
<line x1="594.1" y1="1757.0" x2="601.3" y2="1757.0" stroke="#000" stroke-width="1.7"/>
<text x="607.7" y="1765.0" font-size="18.6">1.00</text>
<line x1="594.1" y1="1716.6" x2="601.3" y2="1716.6" stroke="#000" stroke-width="1.7"/>
<text x="607.7" y="1724.5" font-size="18.6">1.25</text>
<line x1="594.1" y1="1676.2" x2="601.3" y2="1676.2" stroke="#000" stroke-width="1.7"/>
<text x="607.7" y="1684.1" font-size="18.6">1.50</text>
<line x1="594.1" y1="1635.7" x2="601.3" y2="1635.7" stroke="#000" stroke-width="1.7"/>
<text x="607.7" y="1643.6" font-size="18.6">1.75</text>
<line x1="594.1" y1="1595.3" x2="601.3" y2="1595.3" stroke="#000" stroke-width="1.7"/>
<text x="607.7" y="1603.2" font-size="18.6">2.00</text>
<text x="672.0" y="1757.0" font-size="18.6" text-anchor="middle" transform="rotate(-90 672.0 1757.0)">Transcript count</text>
<rect x="795.2" y="1595.3" width="463.6" height="323.5" fill="#440a5b"/>
<filter id="ha1" filterUnits="userSpaceOnUse" x="795.2" y="1595.3" width="463.6" height="323.5" color-interpolation-filters="sRGB"><feGaussianBlur in="SourceGraphic" stdDeviation="3.0" result="d"/><feTurbulence type="fractalNoise" baseFrequency="0.62" numOctaves="2" seed="4" result="n"/><feColorMatrix in="n" type="matrix" values="1 0 0 0 0 1 0 0 0 0 1 0 0 0 0 0 0 0 0 1" result="g"/><feComponentTransfer in="g" result="a"><feFuncR type="table" tableValues="0 0 0 0 0 0 0 0 0.03 0.12 0.22 0.32 0.42 0.52 0.62 0.72 0.8 0.8 0.8 0.8 0.8"/><feFuncG type="table" tableValues="0 0 0 0 0 0 0 0 0.03 0.12 0.22 0.32 0.42 0.52 0.62 0.72 0.8 0.8 0.8 0.8 0.8"/><feFuncB type="table" tableValues="0 0 0 0 0 0 0 0 0.03 0.12 0.22 0.32 0.42 0.52 0.62 0.72 0.8 0.8 0.8 0.8 0.8"/></feComponentTransfer><feComposite in="a" in2="d" operator="arithmetic" k1="1.0" k2="0" k3="0" k4="0" result="v"/><feComponentTransfer in="v" result="c"><feFuncR type="table" tableValues="0.267 0.272 0.282 0.283 0.279 0.271 0.259 0.245 0.230 0.214 0.199 0.186 0.173 0.161 0.149 0.138 0.128 0.121 0.121 0.132 0.158 0.197 0.246 0.304 0.369 0.440 0.516 0.596 0.678 0.762 0.846 0.926 0.993"/><feFuncG type="table" tableValues="0.039 0.045 0.095 0.136 0.175 0.214 0.252 0.288 0.322 0.356 0.388 0.419 0.449 0.479 0.508 0.537 0.567 0.596 0.626 0.655 0.684 0.712 0.739 0.765 0.789 0.811 0.831 0.849 0.864 0.876 0.887 0.897 0.906"/><feFuncB type="table" tableValues="0.357 0.366 0.417 0.453 0.483 0.507 0.525 0.537 0.546 0.551 0.555 0.557 0.558 0.558 0.557 0.555 0.551 0.544 0.533 0.520 0.502 0.479 0.452 0.420 0.383 0.341 0.294 0.243 0.190 0.137 0.100 0.104 0.144"/><feFuncA type="linear" slope="0" intercept="1"/></feComponentTransfer></filter>
<g filter="url(#ha1)"><rect x="795.2" y="1595.3" width="463.6" height="323.5" fill="#000"/><polygon points="820.0,1883.2 817.3,1840.1 830.8,1778.2 838.9,1718.9 848.3,1693.4 881.9,1670.5 916.9,1648.9 941.2,1624.7 965.4,1613.9 1005.8,1618.0 1048.9,1628.7 1086.6,1640.9 1127.0,1659.7 1153.9,1681.2 1180.8,1708.2 1205.0,1735.1 1218.5,1762.0 1232.0,1799.7 1242.7,1832.0 1245.4,1859.0 1234.7,1883.2 1210.4,1896.6 1167.4,1902.0 1086.6,1902.0 1005.8,1903.4 925.0,1899.3 857.7,1896.6" fill="#fff" opacity="0.5"/><polyline points="852.3,1694.7 884.6,1675.9 916.9,1654.3 943.9,1638.2 978.9,1632.8 1032.7,1640.9 1073.1,1651.6 1113.5,1670.5 1148.5,1697.4" fill="none" stroke="#fff" stroke-width="26.9" stroke-linecap="round" stroke-linejoin="round" opacity="0.45"/><polyline points="1148.5,1697.4 1175.4,1724.3 1194.3,1756.6 1210.4,1794.3 1221.2,1826.6 1223.9,1859.0 1210.4,1885.9" fill="none" stroke="#fff" stroke-width="26.9" stroke-linecap="round" stroke-linejoin="round" opacity="0.25"/><polyline points="855.0,1697.4 853.7,1751.3 855.0,1778.2 857.7,1805.1 852.3,1832.0" fill="none" stroke="#fff" stroke-width="12.4" stroke-linecap="round" stroke-linejoin="round" opacity="0.35"/><polyline points="911.6,1724.3 952.0,1710.9 1005.8,1710.9 1046.2,1721.6" fill="none" stroke="#fff" stroke-width="32.3" stroke-linecap="round" stroke-linejoin="round" opacity="0.28"/><polyline points="1140.4,1894.0 1180.8,1891.3 1210.4,1883.2 1226.6,1859.0" fill="none" stroke="#fff" stroke-width="18.8" stroke-linecap="round" stroke-linejoin="round" opacity="0.28"/><polyline points="871.2,1700.1 925.0,1690.7 978.9,1682.6 1032.7,1685.3 1062.3,1694.7" fill="none" stroke="#000" stroke-width="16.2" stroke-linecap="round" stroke-linejoin="round" opacity="0.4"/><polygon points="1054.3,1756.6 1053.0,1762.8 1049.5,1768.1 1044.3,1771.6 1038.1,1772.8 1031.9,1771.6 1026.7,1768.1 1023.2,1762.8 1022.0,1756.6 1023.2,1750.5 1026.7,1745.2 1031.9,1741.7 1038.1,1740.5 1044.3,1741.7 1049.5,1745.2 1053.0,1750.5" fill="#000" opacity="0.65"/><polygon points="1086.6,1762.0 1127.0,1772.8 1145.8,1805.1 1140.4,1832.0 1121.6,1848.2 1116.2,1818.6 1102.7,1805.1 1083.9,1794.3" fill="#000" opacity="0.6"/><polygon points="1232.0,1807.8 1231.2,1811.9 1228.8,1815.4 1225.3,1817.7 1221.2,1818.6 1217.1,1817.7 1213.6,1815.4 1211.3,1811.9 1210.4,1807.8 1211.3,1803.7 1213.6,1800.2 1217.1,1797.8 1221.2,1797.0 1225.3,1797.8 1228.8,1800.2 1231.2,1803.7" fill="#000" opacity="0.7"/><polygon points="1065.0,1832.0 1062.6,1844.4 1055.6,1854.9 1045.1,1861.9 1032.7,1864.3 1020.4,1861.9 1009.9,1854.9 1002.9,1844.4 1000.4,1832.0 1002.9,1819.7 1009.9,1809.2 1020.4,1802.2 1032.7,1799.7 1045.1,1802.2 1055.6,1809.2 1062.6,1819.7" fill="#000" opacity="0.15"/></g>
<g transform="translate(795.2 1595.3) scale(0.5)" fill="none" stroke-linecap="round" stroke-width="3.60"><path d="M333 36l2-2m22 8l2 2m1 2v1m-24 2l1-1m51 3h2m-8 1l2 2m-33-1v2m-33 1v1m101 0v1m-65 0v1m20-1h1m5 1v2m13-1v2m1-2l1 1m17-1l1 1m-26 0h2m-17 1v1m87-1h2m-112 2v2m34-2v1m17-1v1m-72 0v2m-28-1v1m66-1h2m68 0l2 2m16-1v1m-153 0l1-1m-10 2h2m68 1l2 2m119-2h2m-196 4v1m166-1v1m47-1h1m4 0v1m-117 1l1 1m-37 0l1 1m26-1h2m8 0h1m120 0v2m-134-1v1m2-1v2m45-2h2m-36 1h1m118 0l1-1m-185 2h2m141 0h1m32 0v2m1-1h1m3 0l1-1m-127 2l1 1m159-1v1m-136 0v2m-113-1h2m138 0v1m-146 0l2-2m32 3h2m-1 0h1m-25 1l1-1m0 1l1-1m35 1v2m29-2v1m8-1l1 1m-22 0v1m8-1v2m-75-1v2m73-1h2m-25 1l1 1m27-1v2m-31 1v2m84-2h1m93 0v2m67-2v1m-63 0l1 1m27-1h2m10 0v2m28-2h1m-255 1l1-1m141 1h2m70 0h2m-1 0h1m-173 2v2m-94-1l2 2m85-2v1m3-1l2 2m-51-1l1 1m170-1l2-2m-205 4l2 2m140-2v1m-165 0h2m13 0v2m305-2h1m-232 1h2m264 0l2-2m-292 3l1 1m182-1l2 2m15-2l1-1m-70 4l1 1m64-1h1m-188 1v1m196-1l1 1m99-1l1-1m-270 2v1m211-1h1m-24 1l1 1m-129 0h1m77 0l1-1m70 2v1m-44 0h1m-158 1v1m11-1h1m-128 1v2m24-1v2m35-2h1m29 0h1m158 1h1m44 1v2m-17-1l1-1m54 2v1m-76 0l1-1m-278 2h2m283 0h1m-166 1l1-1m108 1l1 1m-208 0l1 1m313-1h2m39 0h1m-386 2h1m18 1v1m72-1h1m-59 1v2m38-2l2-2m107 3h1m-53 1v1m214-1v1m-115 1h1m44 0v2m-270-1v2m140-1h2m244 0h2m-66 1v2m11-2l2-2m-329 3h2m88 0h2m192 0h2m18 0h1m95 0h1m-408 1l1 1m192 0l2 2m145-2l2-2m-331 3h1m313 0l2-2m90 2h1m-402 1h2m269 0h2m16 0l1 1m97-1l2-2m-413 3l2-2m178 2l1 1m99-1l1 1m154-1h1m-34 1v2m21-2l1-1m-424 2v2m346-1v2m-208-1h2m258 0l1 1m-30 0l2-2m17 2v2m-260-1v1m103 0v1m-220 0v2m3-1l1 1m97-1v1m313 0h1m53 0v2m-433-1v1m165-1v2m212-2h1m26 0l1 1m-466 0l1-1m13 1v2m315-2v2m25-2v2m-276-1h2m227 0l2 2m-302 0h1m49 0l2-2m366 3v2m-282-1v1m340-1l1-1m-509 2h2m149 0h1m302 0l2 2m35-2v1m-468 0h2m68 0v2m-109-1v1m123-1h1m-58 1l1-1m50 4h1m287 0v1m44-1v1m73-1l1 1m-155 0h1m-200 1h1m267 0v2m-70-1l1-1m-365 2v1m133-1v2m338-2l2 2m72-2h2m-442 1l2 2m-68-1v2m17-1v1m140-1l1 1m282-1l1-1m3 2h1m6 0l2 2m-479 0h1m10 0l1-1m68 1h1m-103 1h1m409 1v2m-401-1h2m11 2v1m432-1v2m42-2h1m-349 1l2 2m398-2v2m16-2l2 2m-90-1h1m76 0l1 1m-521 0h1m28 1l2-2m-77 3l1 1m19 1h1m550 0l2 2m-581-1h1m15 0h1m74 0l1 1m478-1l2 2m-7-1h1m-382 2v2m371-1v1m-441 0h2m32 0v1m420-1v1m-15 0h1m-350 2v2m366-2v2m-569-1v2m-14-1h1m316 0h2m17 0h1m-23 1l1 1m67-1l1 1m-368 0v1m239-1h1m37 0h1m302 0l2 2m21-2h1m-412 1v1m55-1h2m310 0l1 1m-35 0v1m-523 1v2m471-2v1m-457 1v1m177-1h1m337 1l2-2m28 2l1-1m-580 2h2m542 0v2m-310-1h1m13 0v2m-103-1h2m2 0l1-1m93 1v1m223-1v1m123-1l1 1m24 0h2m-475 1v1m366-1h1m40 0l1 1m-375 0h2m50 0v1m30-1v2m260-2l1 1m45-1l1-1m-169 2l2 2m177-2v2m-579-1l2-2m308 2l2-2m-198 3l2-2m50 2h1m309 0v2m100-2v2m-175-1h2m-76 2h2m-124 1h1m67 0v1m333-1h2m1 0h1m-320 1h1m-78 1h1m26 0h2m59 0h1m248 0v1m-422 0h2m216 1h1m-114 1h1m326 0v2m-471-1l2-2m170 4v2m195-2h1m94 0v1m1 0v1m-417 0l2 2m15-2v1m9-1h2m30 0h2m121 0l2-2m58 2l1 1m138-1l1 1m22-1v1m6-1l2-2m-285 3h2m-54 1v1m-9 0l1 1m234 0v1m-401 0l1-1m385 1h1m130 0l2-2m-399 4v2m357-2l2-2m28 2h1m97 1l2 2m-448-1h1m151 0v2m27-2h1m211 0h1m-469 1h2m17 0h2m174 0h2m261 0h2m52 0v2m3-1h1m-218 1v2m228-2h2m-618 1l2 2m56-2l2 2m158-2l2-2m208 2l1-1m-275 2l1 1m213-1v2m156 0l2-2m-312 3h2m36 0l1 1m61-1l2 2m51-2l1-1m81 1h2m138 0v2m-345-1l2 2m144-2l1 1m-26 0l2-2m286 2l2-2m-435 3l2-2m-52 3h1m430 0v2m47-1v2m-240-1l1-1m179 1l2-2m-531 4h2m381 0v1m98-1v2m33-2h2m-463 1v1m9-1h1m120 0h2m35 0h1m1 0h1m112 0l2-2m-158 3v1m140-1v2m221-2l2 2m1-2l2-2m-412 3v2m7-2h1m83 1h2m155 0l2-2m214 2h2m-678 1v2m280-2l1-1m5 2l2-2m-1 2l2 2m48-2l1 1m-343 0v1m24-1h2m42 0h1m151 0l2-2m135 3l2 2m66-2h1m80 0l1-1m112 1v2m-266 0h1m-301 1v2m240-2h2m289 0h2m-570 1l1 1m335-1v2m99-2h2m-300 1l2-2m195 3l1 1m-112 0l2 2m49-2l2 2m-293-1h2m28 1h2m231 0h2m265 0v1m24-1v2m82-2v2m-562-1v1m285-1l1-1m-143 2v2m227-2h1m96 0h1m-352 1l1 1m-117 1l2-2m81 2l2 2m87-2h2m88 0h2m-351 1h2m408 0v1m21-1h2m173 0v1m-461 0l1-1m229 1l2-2m126 3v1m-354 0v2m107-2v2m219-2l2-2m136 2l2-2m-488 3l2 2m168 0l1-1m-247 2v1m487-1v2m-301-1v2m169-2h1m34 0l2 2m-350-1v1m108-1l2 2m92-2l1 1m392 0v2m-18-1h2m-472 1h2m230 0l1 1m236 0v2m-27-1l2-2m-162 3v1m206-1h1m-642 1l1 1m25 0v1m199-1h2m278 0h2m-543 1v2m516 0h2m-489 1v1m46-1v1m12-1v2m381-1h2m42 0v2m-323-1h2m-84 1l1-1m447 1l2 2m-309-1l2-2m456 2v2m-530-1h1m419 0l1-1m-41 2h1m32 0l2 2m-590 0h1m617 0v1m-640 0l2-2m25 2h2m117 0h2m311 0h2m-287 1h2m80 0l2 2m178-2v1m-112 0l1-1m-298 2l1 1m369-1l2 2m234-2h2m25 0l1 1m-368 0v1m447-1v1m-305 2h1m289 1l2 2m17-1l1 1m-680 0v1m79-1l2 2m321-2v1m264-1v2m-700-1h2m248 0h1m131 0v2m-388-1h1m219 1h2m-147 2l2-2m71 2l1 1m455-1h2m-415 1v2m412-2h1m-577 1v1m300 0v2m211-2v2m-21-1l2 2m166-2h1m24 1l1-1m-393 2h2m-180 1l2 2m132-2v2m-235 0v1m33-1v2m252-2l2-2m361 2h1m15 0v1m-228 0l2 2m199-2l2 2m-674-1h2m414 0l2-2m-246 3v1m-196 0l2 2m597-2l2 2m91-1h1m21 0v2m-359-1v2m142-2l2-2m-58 3l2 2m27-2l1-1m-477 2l1-1m496 1h2m217 0l1-1m-573 2l2 2m298-2v1m-228 1l2 2m96-2l1 1m-298 0l2-2m218 2l2 2m87-2l2-2m301 2h1m-231 1v1m-148 0v1m419-1v2m-568-1l1-1m534 3l2 2m-540-1v2m20-2v2m351-2v1m213-1v2m-554-1v2m456-2l1 1m29-1h2m-191 1h1m7 1h2m51 0v2m123-2v1m-390 0v2m452-1l2 2m-541 1h1m87 0l1 1m251-1l1-1m112 1l1-1m-290 2l2 2m326-2v2m-491-1h2m225 1h1m352 0l1 1m-575 0l2-2m118 2h2m65 0h1m-331 1l1 1m228-1l2-2m470 2l1-1m54 1h2m-635 1l2 2m23-2l2-2m-4 3v1m232-1l2 2m226-2l2-2m-618 3v1m150-1v1m181-1h2m121 0l2 2m39-2h2m-176 1h2m357 2v2m-373 0l2-2m463 2h1m-719 2v2m93-2v1m65-1h2m-27 1l2 2m-112-1l2-2m97 3h2m133 0h2m62 0l1 1m192-1v2m94-2l2 2m-545-1v1m328-1h2m-18 2l1 1m275-1h2m-570 1l2-2m29 2h2m79 0h1m120 0l2 2m55-1v1m172-1l2 2m17-2h2m-615 1v1m129-1l1 1m82-1v2m519-2v1m-338 0v2m290-2h1m-620 1h1m12 0h2m164 0h2m379 0l2-2m-237 3v1m54-1l1-1m-297 2h2m3 0v2m180-2h1m-42 1v2m446-2l1 1m-31 0v1m-526 0v2m18-2h2m253 0l2-2m195 2l2-2m93 2v2m-540-1h2m111 1h2m417 0h2m35 0v1m-673 0l2 2m96-2h1m136 1h1m87 2v2m-225 0l2-2m340 2l1 1m156-1h2m-658 1v1m581-1h2m62 1h2m-231 1l1 1m276-1l1 1m-703 0v1m313-1v1m-229 0l2-2m105 2l2 2m-153-1h2m224 1l1 1m180-1h1m210 0v2m69-2l1 1m-716 0v1m228-1h2m99 0v1m-20 0l1 1m114 0h2m140 0v1m-557 0h2m718 0l2 2m-14-1l2-2m-644 3h2m477 0v2m106-2v2m-665-1h2m-45 1v1m221-1h2m95 0l2-2m142 2l2 2m-158-1h1m445 0v2m-118-1v2m-448-1v1m52-1l1-1m14 1l1-1m107 1v1m-289 0h2m676 0h2m-765 2h1m756 0v2m-733-1v1m316-1v2m180-2h2m281 0l2-2m-626 4l2-2m447 2v1m-592 0l2-2m291 2l2 2m-155-1v1m352-1v2m222-1v2m-636-1l2 2m190-2l2-2m101 2v1m325 1l1 1m-450 0v2m72-2l1-1m145 1h1m-458 1v2m276-2v2m371-2l2-2m-647 3l1 1m345 0v1m362-1v1m-36 0l1-1m96 1v1m-647 0h1m280 0l2-2m9 2l2 2m287-2v2m-271-1h1m320 0h1m-694 1l1 1m542-1h2m98 0l1 1m-477 0h1m403 0h2m0 0h1m-682 1v2m58-1h2m585 0v1m-488 0v2m7-2h1m259 0v2m-432-1l1 1m156-1h2m236 0h1m261 1l2 2m-633-1v2m69-1l1-1m30 1v1m412-1l2-2m-393 3l1-1m16 1l2 2m19-1l1 1m-120 0h2m124 1v1m-81 0v2m593 0h2m-629 1v2m85-2h1m579 0h1m-739 2v1m266-1l2-2m517 2v1m31-1h2m-647 1h2m357 0l1-1m-502 2h2m63 0v2m35-2h2m539 0v2m70-2h1m-676 1h2m49 0h2m94 0v1m574-1l2 2m-669-1h2m342 0l2 2m226-2v2m-251-1h2m182 1h1m115 0l2 2m-126-1h2m128 0h2m-653 2l2 2m142-2l1-1m287 1l2 2m-32 0v2m153-1h2m-467 1h2m561 1l1-1m60 1l1 1m-489 0v2m259-2h2m-102 2l2 2m132-2v2m192-1h2m-170 1v2m26-2h1m114 0l1-1m-419 2l1-1m101 1l2-2m194 3h2m-4 2h1m-174 1h2m285 0l1 1m-774 0h2m52 0l2 2m15-2l2-2m48 2h2m12 0h2m328 0l1-1m91 1v2m228-2v2m-475-1l1-1m189 2l1-1m241 2h2m28 0h2m-316 1l2-2m311 2h1m-588 1l1-1m-162 2v2m318-2l2-2m104 2l1 1m347-1h1m-21 1v1m-780 0l1 1m294 0l1 1m-214 0h2m92 1l1 1m322-1l1-1m-395 2v2m712-2h2m-742 1l1 1m183-1h2m3 0h2m336 0l1-1m-520 2h2m84 0v1m206-1h2m181 1h2m8 1v2m251-2h1m-520 1l1-1m13 1h1m408 0l2-2m-155 3l1 1m-226 0l1-1m4 1l2 2m-195-1h2m150 0l2 2m336-2v1m-628 0v2m19-2h2m473 0h2m119 0h2m129 0l2 2m18-1l2 2m-436-1v1m206-1h2m182 0l2 2m-317-1l2 2m74-2l2 2m132-2l2 2m19-2h2m190 0l2 2m-813 0l2-2m48 2h1m468 0h2m158 0h2m-648 1l2 2m162-2l2 2m78-2v2m-222-1v2m30-2l2 2m40-2v1m178-1v2m486-2v1m-705 0v2m403-2v2m-384-1l1-1m56 1h2m521 0v2m-460 0h2m556 0l2 2m-10 0l2 2m12-2l1-1m11 1v2m-104-1l1-1m-189 2v1m-186 0h1m7 0l1 1m55 0l1 1m78-1v2m23-2v2m23-2h1m17 0h2m14 0h2m-137 1h2m356 0h2m-802 1l1-1m725 1v2m24-1h2m10 0l2 2m-266 0l2-2m64 2v2m264-2v2m-329-1v1m266-1l2 2m-778-1v2m358-2v2m60-2h2m372 0l1-1m-296 2h1m44 0l2 2m21-2h2m136 0h2m-355 1v1m33-1h1m124 0v1m135-1l1 1m-542 1v2m173-2v2m150-2h1m171 0v1m102-1h2m-675 1h2m208 0v2m216-2v2m347-2l1 1m-188 0v2m-357-1v1m311-1l2 2m107-2h2m60 0l1 1m-198 0h1m86 0l1 1m-71 0h2m-466 1l1-1m54 1h2m536 0l1-1m-289 2v2m117 0l1 1m208-1h2m-232 1v1m259-1v2m77-2v1m-261 0v2m182-2h2m4 0v2m-671-1l1 1m228-1v1m225-1l2-2m77 2v1m79-1v2m112-2v2m26-1l1 1m-531 0h1m21 0v1m131 0h2m305 0h2m33 0h2m-763 1l2 2m173-2v2m3-2v1m563 0h2m-400 1l2-2m257 2v1m-618 0h2m187 0h2m559 0h1m36 0h1m-15 2h1m-768 1v2m225-2h2m567 0h2m-695 1h2m510 0v1m-246 0h2m261 0l2-2m155 2v2m-406 0l2-2m4 2h1m392 1v2m-127-1v2m-537-1l2-2m302 2l2-2m72 2l1-1m179 1v1m78-1h2m-62 1h1m84 0v2m-688-1l2-2m70 2l1 1m10-1l2 2m112-2v1m6-1v2m383-2l2 2m105-2h2m-384 1l1 1m-138 0l1-1m114 1v2m375-1h2m-223 1l2-2m-468 3h2m357 0l1 1m195-1v1m5-1h2m28 0v2m27-2h2m-467 1h2m62 0l1-1m-131 3h1m215 0v1m120-1l2-2m76 3h1m180 0v1m17-1h2m-389 1l1-1m-177 3l2 2m121-2h1m36 0h2m344 0l2-2m-147 3v2m36-2v2m-487-1v2m142-2l1-1m56 3l2-2m-160 3l2 2m241 1l1 1m60-1l2-2m269 2v1m-95 0h2m-242 1h2m279 0l1-1m71 3v2m-89-1l2-2m45 2l2-2m-204 3v2m281-2l2-2m-667 3h2m79 0h2m45 0h2m503 0v2m-431-1v2m4-2v1m385-1v1m43-1h2m13 0v2m-719-1v1m182-1h1m23 0l1 1m-47 1l1-1m513 1h1m-404 1v2m312-1l2-2m40 2v2m67-2v2m-160-1l2-2m-145 3l2 2m308-2v2m-614-1h2m433 0v2m-524-1h2m41 0l2 2m8-2v2m385-2h2m-331 2v1m439-1v1m-131 0l1-1m-165 2h2m223 1h1m94 0l1 1m3-1h1m-126 1h2m-246 1v2m247-1h2m23 0l2 2m-255-1v1m331-1v1m-301 0l1-1m253 1h2m117 1h1m-57 7h2m-24 3l2-2m-292 4h2" stroke="#3a548c"/><path d="M389 37v2m-32 0l2-2m-36 5l1 1m34-1v2m69 0h2m-61 1h1m-9 1v2m-19-1h2m30 0v2m-48-1l1-1m78 1h2m33 1v1m-85 0l1-1m52 1l2 2m6-2h2m-34 2l1 1m-36 0l2-2m41 3v1m21-1l2 2m16-2h1m-70 1v2m66-2l2 2m-84-1h2m40 0h1m0 1l1 1m7 0l1 1m14-1h2m49 0v2m-123-1l2 2m6-2l2 2m31-2v1m8-1v1m-45 0v2m89-2l2 2m-110-1h2m67 0l2 2m22-2l1 1m-131 0v1m76-1l1-1m9 1h2m4 0h2m24 0h1m42 0v2m32-2v1m-194 0h2m62 0h1m60 0l2-2m99 2v2m-189-1l1 1m1-1h1m69 0v1m77-1l2 2m-192-1v2m101-2h2m-83 1l2 2m40-2h2m28 0v1m32-1v1m15-1h1m12 0l1-1m33 1v1m-126 0l2 2m10-2h2m10 0v1m-83 0h2m29 0l2 2m62-2v1m65-1v1m-120 0l1 1m14-1l1-1m38 1h1m18 0l2 2m53-2h2m14 0h2m14 0l1-1m36 1v1m-214 0l1 1m0-1v2m11-2h2m32 0l1 1m2-1h1m19 0l1-1m59 1h2m-151 1v1m40-1h1m38 0l2-2m52 2l2 2m4-2l2-2m65 2v1m9-1v1m-216 0v2m34-2h2m50 0l1 1m14-1l1 1m27-1l1 1m0-1h2m2 0h2m6 0l1-1m29 1h2m-129 1h1m1 0l1-1m120 1v1m-173 0l2 2m50-2h2m49 0h2m68 0v2m-176-1h1m17 0v2m18-2v1m18-1l1 1m7-1l2 2m-1-2h1m6 0h2m3 0h2m65 0l1-1m10 1v2m10-2l2-2m51 2l2 2m-209-1h2m134 0l2-2m8 2l2-2m28 2l1-1m-187 2h2m8 0l2 2m27-2l2-2m74 2v2m27-2l1-1m32 1v1m4-1l2 2m74-2v2m-99-1v2m7-2h1m50 0v1m-161 0l2 2m2-2l1 1m61-1h2m53 0v2m11-2l2-2m24 2h1m57 0v2m-265-1v2m54-2l1-1m36 1l1-1m83 1l1-1m-74 2h2m20 0v1m88-1h1m1 0h2m-70 1v2m86-2l1 1m-244 0l2 2m61-1l1 1m7-1h1m43 0l1 1m68-1v1m-60 0h2m83 0h1m-204 1v1m68-1l2-2m37 2v2m142-2h2m11 0h2m-190 1h2m17 0v2m4-2v1m80-1l1 1m9-1h2m55 0h1m31 0h2m-131 1v2m-86-1l2-2m29 2v1m15-1h1m7 0h1m34 0v1m1-1v2m21-2v2m-113-1l2-2m36 2l2 2m1-2v2m8-2l1 1m28-1v2m27-2v2m8-2l2 2m65-2v2m15-2v2m40-2h2m-206 1l1-1m33 1l2-2m32 2l1-1m80 1h2m17 0h1m-274 1l2 2m59-2v2m14-2h1m14 0v1m2-1l2 2m30-2h1m1 0v2m1-2v2m3-2v1m11-1h1m19 0l2 2m34-2v1m57-1h2m28 0v2m59-2l2 2m-239-1l1 1m92-1v2m13-2l2 2m4-2h2m1 0l2-2m11 2h2m20 0l1 1m-174 0l1 1m35-1l2-2m134 2v2m-239-1v1m65-1l2-2m2 2h2m34 0v2m8-2l2 2m39-2l1 1m39-1h1m32 0h2m66 0v2m-306-1l1-1m69 1h2m23 0l1-1m63 1l1-1m52 1l1 1m89-1v1m-188 0h1m52 0l1-1m112 1v1m3-1l1-1m-256 2h2m161 0h1m68 0h1m-268 1v2m72-2h2m34 0v2m138-2l1 1m-238 0h1m6 0l1-1m11 1h1m14 0l2-2m19 2l1 1m40-1v1m54-1l2 2m19-2v2m32-2h2m-180 1v2m114-2v1m88-1l2-2m9 2v2m-219-1v1m12-1v2m61-2v2m76-2v1m18-1h1m-191 1v1m42-1h2m38 0v2m19-2v2m108-2h2m33 0h1m-167 1v2m53-2l2 2m73-2h2m-151 1h2m37 0l2 2m22-2v2m11-2v2m199-2v2m-337-1v1m20-1v2m103-2v2m60-2h2m111 0h2m-259 1l1 1m13-1v1m12-1l2-2m27 2l2-2m92 2l1-1m16 1l1 1m2-1v1m29-1l1-1m73 1v2m-310-1l2 2m0-2v2m5-2l2 2m158-2h1m16 0v2m32-2h2m-183 1v1m141-1h1m45 0v1m107-1h2m-234 1v2m13-2l2 2m10-2h1m43 0l2 2m34-2h2m5 0v1m23-1h2m21 0v1m77-1l2 2m-281-1h2m106 0l2 2m177-2v2m2-2l1-1m-299 2v2m12-2h1m99 0l1 1m53-1l1 1m18-1l2-2m54 2v2m69-2h2m-370 1h2m14 0v1m214-1h2m10 0l2 2m61-2v2m46-2v2m1-2v1m8-1v1m-109 0v1m16-1v1m21-1v1m7-1l1 1m19-1h1m17 0l2-2m12 2l1 1m18-1v1m28-1v2m-381-1v2m15-2v2m237-2l1-1m0 1v2m41-2l2 2m-1-2l1-1m13 1h1m18 0h2m-325 1h1m168 0v1m28-1h1m61 0v2m7-2v1m43-1v2m38-2l1 1m-336 0v2m222-2h1m36 0h1m-274 1l2 2m65-2v2m-98-1h2m8 0v1m29-1v2m3-2l1-1m22 1v1m13-1l2-2m-86 3h1m62 0l2 2m93-2h2m180 0h2m-342 1l1-1m59 1v1m26-1v2m6-2l1 1m130-1v1m57-1l1 1m97-1v2m13-2h1m-391 1h2m18 0v2m163-2h1m108 0h2m29 0l1-1m23 1v1m-332 0v2m8-2v2m1-2l1-1m9 1v2m5-2l2-2m17 2h2m118 0h2m85 0h1m44 0l1-1m36 1v2m71-2v2m-412-1h2m10 0v1m24-1v2m13-2v2m215-2l1-1m44 1h1m2 0v2m-306-1h2m14 0h1m7 0v1m6-1l2 2m3-2l2-2m259 2v2m30-2h1m10 0l2-2m11 2v2m15-2h1m-339 1h2m259 0v1m19-1h1m8 0h2m-307 1v2m23-2v2m222-2l2-2m2 2l2-2m56 2v2m108-2l1 1m-381 0v2m140-2h2m139 0v1m28-1v1m-371 0v2m10-2v2m85-2h1m16 0l2 2m121-2h2m100 0v2m-313-1v2m92-2h2m150 0v1m35-1l2 2m92-2h2m52 0h2m-442 1v2m64-2v2m282-2l2-2m37 2v1m1-1l1-1m36 1v1m-369 0h2m127 0v1m93-1h1m13 0v2m3-2h2m50 0h1m48 0v2m9-2l2 2m26-2l1-1m3 1l2 2m-453-1h2m11 0v1m8-1h1m2 0v2m299-2v2m46-2l2 2m39-2h1m-417 1v2m3-2l1-1m4 1h1m364 0h2m54 0l1 1m-3 0l2 2m7-2v1m2-1v2m1-2h2m-371 1l1-1m6 1v1m120-1h2m177 0v2m21-2l1-1m43 1l1 1m4-1h1m15 0l2-2m-400 3v2m238-2l1-1m67 1h1m32 0h2m31 0l2 2m-377-1l1 1m245-1v1m122-1h1m-52 1h2m2 0l1 1m14-1v1m-401 0v1m330-1h2m58 0h1m-406 1h2m29 0l1-1m123 1v1m248-1l1-1m-390 2h1m9 0v2m33-2h1m5 0v1m9-1v2m185-2v1m206-1v2m-442-1l1-1m20 1l1-1m46 1l1-1m171 1l2-2m53 2h1m57 0l1-1m61 1l1-1m-421 2h1m33 0v1m230-1h2m71 0v2m37-2l1 1m12-1h1m-405 1l2-2m32 2h1m20 0v2m95-2l2 2m227-2v2m34-2h2m29 0l1-1m18 1v1m5-1v2m-433-1v1m59-1h1m73 0l1 1m-158 0h2m158 0v1m263-1h1m2 0v2m-435-1l2-2m20 2h2m11 0h1m420 0l2-2m-440 3h1m388 0h1m50 0h2m13 0v2m-483-1l2-2m19 2h2m330 0h2m15 0l2-2m-358 3l1-1m22 1l1-1m-11 2l2-2m35 2l2-2m426 2h2m-489 1v2m18-2l1 1m0-1l2-2m59 2v1m109-1v2m227-2h2m20 0l2-2m19 2h1m-423 1v2m199-2l1-1m192 1h2m-420 1v2m34-2h1m101 0l2-2m259 2h1m-60 1v1m121-1h1m10 0l2 2m15-2l1 1m-360 0l1 1m291-1h1m5 0l2-2m7 2h1m-463 1v2m35-2l2-2m0 2l2-2m208 2l2-2m159 2v2m102-2v2m-494-1l1 1m26-1h2m120 0v1m268-1h1m9 0l1-1m68 1l2 2m-477-1v1m55-1l2 2m113-2l2 2m249-2l1-1m9 1l1 1m6-1v1m45-1h2m-511 1h2m4 0l1-1m217 1l1 1m105-1v1m108-1v1m65-1v2m-362-1l1 1m256-1h2m40 0l2-2m35 2v1m-475 0h1m1 0l2 2m206-2h1m57 0v2m133-2l2 2m69-2h2m33 0v2m8-2l2 2m-534-1v1m11-1h2m397 0l2 2m21-2v1m44-1h2m-458 1h2m1 0v2m13-2v1m443-1l2-2m33 2l2-2m-495 3v1m37-1l2 2m329-2l1 1m16-1l2-2m61 2h2m39 0v2m16-1l2 2m-516-1l2 2m139-2l2-2m322 2h2m19 0h1m26 0l1-1m-504 2l2-2m3 2l2-2m199 2h2m206 0l2-2m13 2l1-1m15 1l1-1m48 1l1-1m27 1h2m-460 1l1 1m262-1h2m22 0v1m76-1l1 1m32-1v2m1-2h1m21 0v1m32-1l2 2m-547-1v2m19-2v2m515-2h2m-535 1l2 2m0-2h2m17 0v2m36-2v1m347-1v1m88-1h2m8 0h1m-322 1v1m283-1h1m28 0v2m-508-1h2m18 0h2m3 0h1m4 0v1m9-1v1m198-1l2 2m41-2h1m212 0l2-2m14 2v2m12-2v2m-535-1l2-2m36 2v2m460-2v1m72-1v2m-367-1l2-2m209 2h1m100 0h1m22 0h2m-12 1v2m7-2l1-1m2 1l1-1m4 1v1m15-1l2 2m22-2v2m-535-1l1-1m446 1l1-1m14 1l1 1m45-1h2m1 0h2m20 0h1m-546 1l2-2m516 2h1m-531 1h2m-1 0l2-2m14 2h1m20 0h1m449 0h2m-1 0v1m15-1l2-2m-1 2v2m6-2l1 1m23-1l2-2m-512 3l1 1m239-1v1m37-1l2-2m231 2v2m22-2l1 1m-252 0v1m150 0l2 2m69-2l2 2m20-2v1m-531 0h2m21 0v2m460-2v2m30-2h2m17 0l1 1m-567 0h2m12 0v1m28-1h1m209 0v1m229-1l2-2m42 2l2-2m30 2h2m-541 1l2 2m10-1h2m19 0h2m194 0h2m288 0l2 2m-506-1v1m472-1v1m38-1v1m36-1v2m-543-1l2 2m7-2h2m93 0l1 1m20-1h2m170 0v1m129-1l2 2m74-2v2m6-2v2m22-2l2 2m28-2l2-2m-608 3v2m8-2v1m466-1l1 1m80-1v2m30-1h2m-601 1h2m44 0l1-1m113 1v2m72-2l1-1m-227 2h2m9 0h1m1 0v1m40-1h2m180 0h2m173 0l1 1m123-1v2m19-2l1-1m14 1l1-1m-564 2v2m27-2h2m15 0v2m55-2l2 2m92-2h2m331 0v1m90-1l2-2m-641 3h2m44 0h1m43 0v2m210-2l2 2m158-2l1 1m28-1v2m56-2v2m37-2h2m-581 1h2m17 0h1m16 0l1-1m138 1v2m384-2l2 2m16-2v2m-543-1l2-2m563 2l2 2m21-2l2 2m-619-1v1m6-1v1m581-1v2m6-2h1m7 0v1m3-1v1m7-1h1m-593 1l1-1m12 1l1-1m4 1v2m30-2v1m462-1l2-2m31 2v2m-548-1h2m0 0v2m2-2v2m3-2h1m4 1h2m142 0h2m35 0v2m6-2l1-1m244 1h1m130 0h1m8 0v1m5-1v2m-592-1h1m6 0v1m5-1h1m247 0v1m56-1l1 1m151-1l2 2m105-2v1m22-1v2m-603-1l1-1m23 1v1m347-1h2m111 0h1m125 0h2m-615 1l1-1m17 1v2m28-2l2-2m273 2v1m8-1l1-1m9 1v2m219-2l2 2m56-2h2m-478 1v2m143-2h1m304 0l2 2m-1-2v2m14-2l2 2m-593-1l2-2m158 2l2 2m151-2h2m251 0h1m2 0v1m42-1v1m-622 0l1-1m45 1v1m172-1l2 2m27-2h2m308 0v1m15-1h2m-564 1l1 1m242-1h2m45 0h2m30 0l2 2m11-2h1m107 0v2m92-2v1m55-1h2m29 0v2m-634-1v2m23-2v2m11-2l1 1m144-1l1-1m395 1v1m6-1l1-1m36 1v2m-617-1h2m149 0v2m47-2l1-1m87 1h1m80 0h2m5 0h2m211 0l2 2m-586-1v1m221-1h1m174 0h2m176 0h2m27 0v2m-363-1h1m6 0l2-2m312 2v1m33-1v2m14-2v2m7-2v1m-623 0l2-2m9 2h2m36 0l2-2m141 2h2m52 0l2 2m51-2v1m28-1l1-1m298 1l1-1m-598 2l2 2m128-2h1m54 0v2m148-2v2m10-2h2m44 0l1-1m7 1h2m140 0h2m-549 1v2m4-2l2 2m110-2l2-2m50 2v1m18-1l1 1m17-1v2m69-2l2-2m22 2h2m0 0v2m171-2v1m99-1l2-2m48 2h1m-615 1v1m142-1v2m109-2h2m11 0h2m144 0v2m169-2l2 2m9-2v1m-610 0h2m219 0v2m98-2l1 1m269-1h1m-560 1l2-2m165 2v1m1-1l1-1m40 1h1m104 0v1m19 0v1m200-1h2m-520 1l2-2m99 2h2m0 0l1 1m106-1l2 2m30-2h2m30 0l1 1m33-1v2m19-2v2m222-2l2 2m-598-1h2m6 0l1 1m105-1v1m142-1h2m114 0l1 1m39-1l2 2m163-2h2m-570 1h1m10 0h2m0 0l1-1m359 1l2 2m225-2h1m-599 1l2 2m4-2v1m3-1l2-2m238 2v1m138-1v2m79-2v1m138-1l2-2m13 2l1 1m-624 0h2m4 0l1 1m127-1v2m2-2h2m63 0l2 2m77-2v2m15-2l2 2m273-2l1-1m-571 2l1-1m75 1v1m40-1l1 1m97-1l2-2m411 2h1m-640 1l2 2m14-2h2m165 0l1 1m59-1v2m86-2v1m4-1l1-1m23 1l2 2m9-2v1m5-1l2 2m221-2v2m12-2l2 2m6-2h1m-457 1v2m16-2v2m42-2h1m22 0h1m46 0v1m44-1h1m4 0h1m287 0v2m-616-1v2m3-2l2 2m10-2h1m547 0l2 2m38-2v2m2-2v1m3-1h2m22 0h1m14 0l2 2m-660-1h1m24 0l1-1m42 1v1m16-1h1m296 0h2m211 0l1-1m30 1h1m5 0v1m3-1l2-2m-606 3v1m171-1l1-1m22 1h2m5 0h2m68 0v1m11-1v2m119-2l2 2m235-2l2-2m-446 3l2 2m29-2h2m90 0l2-2m267 2v1m-604 0h1m87 0h1m88 0l2-2m19 2v2m122-2l2-2m46 2v2m95-2v2m49-2h2m82 0v2m-616-1l2-2m22 2h2m11 0v2m170-2v2m39-2h2m14 0h2m3 0v1m13-1l2-2m6 2h2m107 0h2m-374 1v2m2-2v2m262-2h1m4 0l2-2m25 2v2m62-2v1m29-1h1m223 0v2m-620-1v2m107-2h2m32 0l2 2m20-2h2m28 0l2-2m55 2v2m64-2h2m33 0l2-2m42 2h1m183 0h2m-581 1h2m156 0h2m73 0l1 1m5-1l2 2m16-2h1m132 0v1m195-1l2 2m-371-1l1-1m163 1h1m75 0l1-1m144 1v1m15-1v2m-632-1l1 1m76-1l1-1m90 1v2m10-2l2 2m34-2l2-2m26 2l1 1m32-1v2m255-2v1m-508 0l1-1m2 1l2 2m7-2l2 2m214-2l1 1m-99 0v2m133-2h1m102 0h1m66 0l1-1m157 1v2m19-2h2m15 0l2-2m-287 3v2m54-2h2m17 0l1-1m244 1l2-2m-496 3v2m226-2h2m68 0l1-1m90 1l1-1m98 1v2m-647-1h1m105 0h2m57 0h2m25 0l1 1m117-1v2m21-2v1m296-1h1m-615 1h2m90 0h2m122 0h2m61 0h1m0 0v2m8-2v2m47-2l2 2m40-2v1m7-1l1-1m38 1v1m149-1v1m-457 0l1 1m122-1h2m31 0l2-2m20 2v2m74-2l2-2m25 2l2 2m85-2h1m-512 1h2m472 0l2-2m140 2v1m20-1l1-1m-514 2v2m93-2h1m90 0l1-1m106 1l2 2m85-2l2 2m13-2v1m39-1l1 1m59-1h2m-430 1h2m69 0v2m232-2l1-1m115 1v2m-595-1l2 2m183-2h2m72 0v1m32-1h1m22 0v2m23-2h2m280 0v1m-647 0h2m131 0h2m60 0l1-1m21 1h2m125 0v2m16-2h2m-153 1v2m72-2h1m88 0l2-2m4 2v1m15-1h2m130 0v1m118-1v1m-608 0v2m4-2h1m85 0v1m26-1h1m23 0h2m25 0h1m110 0v2m67-2l2 2m21-2l2-2m249 2l1 1m7-1v2m-626-1h1m237 0h2m109 0v2m282-2v1m25-1h2m-654 1l2 2m22-2v1m78-1h1m92 0v2m36-2h2m89 0h1m53 0l2-2m-385 3v1m5-1v2m137-2l1 1m134-1v1m24-1h2m24 0l1 1m16-1l2 2m34-2h2m24 0v1m182-1v2m-573-1l1 1m149-1l2-2m9 2h2m72 0h1m120 0l2 2m41-2v2m5-2h2m238 0l2-2m-562 3h1m63 0l1 1m0-1v1m73-1h1m164 0l2 2m-165-1v2m90-2v1m91-1v2m-383-1h1m69 0h1m219 0l2 2m2-2h2m178 0h2m-446 1h1m42 0h1m88 0v2m122-2l2 2m14-2v1m13-1v1m27-1h1m4 0h1m26 0l1 1m178-1v2m63-2h2m-288 1v2m49-2h2m228 0l1 1m37-1v1m-659 0h1m47 0v2m14-2v1m27-1v1m22-1l1-1m0 1v2m36-2v2m74-2v1m33-1v1m-168 0v1m5-1h2m14 0h1m34 0l1 1m167-1v2m18-2l2-2m0 2h1m300 0h1m-651 1v1m6-1l2-2m194 2v1m56-1h1m7 0v1m40-1v1m115-1h1m60 0l2 2m139-2v1m-634 0h1m3 0v1m144-1h2m25 0v2m433-2h1m-506 1l1 1m69-1h1m121 0h1m97 0h1m12 0v2m-286-1l2-2m522 2v1m-621 0l1-1m63 1h2m133 0v2m129-2h2m-204 1v2m112-2h2m346 0h1m0 0v1m30-1h2m-664 1v2m45-2h2m80 0h1m273 0v1m303-1h2m-557 1l2-2m47 2h1m196 0h1m6 0h2m169 0l2 2m90-2l2-2m-551 3l2 2m44-2l1 1m25-1l2-2m425 2h2m-573 1v2m456-2v2m14-2l2-2m163 2v1m-462 0v1m1-1l1-1m200 1h2m1 0v2m227-2l2-2m0 2v1m-522 0v2m26-2h2m239 0h1m280 0v2m-501-1h2m30 0v1m194-1h1m27 0h2m186 0l2 2m45-2v2m-608-1h2m149 0v1m476-1h2m-485 1v1m202-1h2m-1 0v2m-362-1l2 2m78-2l2-2m199 2l1-1m241 1v2m111-2v2m-539-1v1m15-1h1m39 0h1m221 0v2m3-2l2-2m282 2h1m-683 1l2-2m173 2l1 1m85-1l1 1m178-1v2m-436-1v2m364-2l2 2m18-2h1m-319 1h2m51 0l2-2m163 2h2m-115 1v2m412-2h1m5 0l1 1m99-1v2m-58-1v1m-620 0l1-1m241 1v1m140-1h2m133 0h1m-512 1h2m-12 1l2 2m21-2v2m49-2h2m241 0h1m12 0l1 1m284-1l2 2m25-2l2-2m51 2l2-2m-708 3h2m7 0h1m585 0l1-1m98 1l1 1m-585 0v1m508-1l2-2m76 2h1m-494 1v2m443-2v1m-14 0v2m41-2v1m28-1v1m-679 0l1 1m373-1h2m-378 1l1 1m58-1v2m52-2h2m543 0h2m-667 1v2m233-2v1m156-1v2m289-2l1 1m-661 0h2m14 0v1m51-1v2m165-2h2m86 0l2-2m-257 3h2m431 0v1m37-1v1m84-1l1 1m25-1v1m-527 0v2m325-2v1m201-1v2m7-2h1m-505 1v1m328-1v2m171-1h1m-654 1l1-1m116 1h1m401 0l2 2m64-2l2 2m-584-1h2m410 0h2m-427 1v2m167-2v1m535-1v1m-515 0v2m67-2l1 1m86-1h2m178 1l2 2m123-2l2 2m-534-1l1-1m13 1l2-2m70 2v1m-58 0v2m334-2v1m216-1v2m-513-1v1m-205 0h2m155 0v1m46-1v2m-21-1l1 1m53-1h2m243 0l2-2m-470 3h2m75 0h1m35 0l1-1m72 1h2m92 0v1m126-1v2m129-2l1 1m16-1h2m173 0v2m-495-1h2m-56 1h2m13 0l2-2m36 2l1-1m217 1h1m89 0h2m-525 1l2-2m103 2h2m163 0l1 1m138-1h1m108 0h2m87 0h1m-486 1l2 2m38-2l2-2m342 2l1-1m151 1l2 2m41-2h2m-445 1v2m301-2v2m86-2l2 2m16-2v2m-675-1v1m204-1h1m223 0h2m47 0l2-2m124 2l2 2m-598-1h1m155 0l1 1m78-1h2m40 0l1 1m363-1h2m16 0h1m-163 1h1m95 0v2m54-2h1m-472 1h1m55 0l1 1m78-1l2 2m380-2l2-2m-579 3h2m88 1v2m360-2h1m-557 1v2m511-2h1m143 0v2m2-2h2m-667 1l2-2m51 2l2 2m328-2v1m54-1h2m206 0v2m-645-1h1m232 0v1m-224 0v2m108-2h2m87 0v1m-8 0h1m460 0v2m27-2h2m-455 1l2-2m485 2v2m-509-1l2-2m472 2v2m3-2l1 1m7-1v2m-491-1h1m30 0h2m451 0h2m17 0h2m-312 1h2m74 0h1m49 0h1m152 0h2m-572 1h2m117 0v1m478-1v1m7-1h2m-694 1l2 2m244-2h2m-38 1v2m484-2l1 1m-712 0v1m203-1h1m117 0l2-2m303 2l2 2m-673-1v1m165-1v2m1-2l2-2m431 2h1m-417 1h1m465 0l1 1m43-1v2m67-2l2-2m-270 3h1m238 0l1-1m0 1v2m-543-1l2 2m120-2h1m206 0v2m-488-1v2m132-2v1m66-1h1m137 0h2m181 0l2 2m164-2l2 2m34-2v2m-719-1v2m331-2l2-2m225 3l1 1m-531 0h1m48 0v1m84-1h1m27 0h2m105 0v2m346-1l2-2m-331 3v1m-204 0h2m66 0l2-2m223 2h1m199 0l2-2m68 2h2m-216 1h1m-389 1v2m281-2h2m-356 1l2-2m25 2v1m26-1v1m127-1l2-2m-166 3h2m176 0l2 2m128-2l1 1m2-1v1m1-1v2m142-2v1m99-1h1m116 0v2m72-2h2m-752 1h1m233 0l2 2m87-2v2m4-2h2m199 0h1m194 0v2m8-2h2m-544 1v2m55-2v2m54-2h1m16 0h2m81 0h2m135 0h1m41 0l2 2m22-2h2m-156 1h1m-397 1l2 2m98-2h1m152 0l1 1m22-1h1m98 0l2 2m278-2h1m1 0v1m-709 0l2 2m4-2l2 2m291-1v2m13-2h1m10 0v2m17-2l2-2m274 2l1 1m74-1v1m8-1v2m-571-1v2m53-2h2m15 0l1-1m521 2v2m12-2h2m-631 1h2m194 0h1m24 0v2m384-2l2 2m3-2v2m-698-1l2 2m679-2l2 2m-360-1h2m-266 1l1-1m56 1h2m429 0l1 1m63-1v2m54-2v1m10-1h1m-384 2v2m38-2v1m210-1l1 1m50-1h1m-503 2l1 1m244-1l2-2m69 2v2m46-2h2m179 0h2m71 0h2m-733 1h2m1 0h2m735 0l2-2m-704 3h2m144 0v2m111-2l2-2m362 2h1m54 0v1m6-1h1m-749 1l1-1m47 1l1-1m1 1v2m7-2h2m125 0h2m182 0v2m71-2h2m346 1v1m-510 0v1m340-1l2 2m-608-1v2m336-2v1m251-1h1m124 0h1m48 0v1m-722 0l2-2m-1 2v1m2-1l1-1m286 1v1m135-1v2m-339-1h2m63 0h2m450 0l2-2m-621 3h2m22 1h1m360 0v2m162-2v2m97-2l1 1m-641 0v1m14-1h1m372 0l2 2m362-2h2m-632 1h2m125 1h2m-236 1v1m106-1l1 1m8-1h2m552 0l2-2m-481 3l1 1m522-1v1m2 0l1 1m-728 0l2 2m591-2v1m-590 0v1m11-1h1m69 0h1m7 1l2 2m55-2l1-1m494 1v1m1-1l2-2m30 2l2 2m-638-1v2m654-2l1 1m7-1v1m3 0v1m12-1l1-1m2 1v1m-749 0v1m211-1l1 1m384-1v1m119-1h1m5 0v2m13-2l2 2m-480-1v2m433-2h1m34 0l2-2m-671 3v1m353-1h2m13 0v1m310-1l2 2m-545-1h2m507 0v1m-484 0h1m176 0v2m370-2l1 1m-671 0h1m23 0l1-1m236 1h2m374 0l1-1m23 1v2m-264-1l2-2m225 2v2m-266-1l1-1m205 1v2m73-2h2m18 0h2m-618 1h2m69 0h2m89 0l2 2m167-2l1 1m202-1v1m60-1l1-1m27 1h2m-413 1h2m80 0h2m342 0v1m-530 0h2m51 0v1m402-1h1m-663 1v1m250-1l2 2m156-2h2m309 0v1m-751 0v1m51-1v2m699-2l2-2m-715 3h1m394 0v2m233-2l2-2m12 3h1m35 0l2 2m-726-1l2-2m774 2l1-1m-388 2h2m103 0h1m268 0h2m-703 1h2m137 0l2-2m564 2h1m-680 1h1m659 0h2m15 0h1m-68 1h1m-662 1v2m425-2v1m-406 0l2-2m463 3v2m185-2l1-1m29 1h2m-679 1h1m241 0l2-2m3 2h1m2 0h1m-266 1h2m49 0l1 1m411-1v1m228-1h1m-737 1v1m427-1h1m47 0v1m-13 0v1m2-1l2 2m284-2v1m-713 0l1 1m22-1l2-2m52 2l2-2m242 2h1m282 0v2m-531-1h2m17 0v2m190-2l1-1m245 1l1 1m199-1v1m31-1h2m-293 1l2-2m249 2v1m-766 0v2m48-2h1m17 0v2m141-2v1m593-1h2m-663 1l2-2m90 2v2m78-2v1m447-1l1-1m11 1l2 2m-281-1v1m223-1l2 2m46-2l2 2m-412-1v2m23-2v2m371-2h2m20 0l1-1m-603 2h2m140 0v1m195-1l2 2m-443-1h2m0 0h2m115 0v1m222-1l1 1m20-1l2 2m72-2v1m232-1v2m30-2l1 1m19-1l2-2m-633 3h1m477 0h1m52 0v2m-444-1v1m501-1l2 2m-421-1l1 1m82-1v2m357-2l2-2m-760 3v2m15-2l2 2m294-2v2m158-2l1-1m297 1v2m-615-1l1 1m55-1v2m454-2h2m-298 2h1m207 0h2m81 0h1m165 0h2m-783 1l2 2m209-2h1m250 0h2m294 0h1m-801 1l1 1m655-1v1m26-1v1m-658 0v1m20-1v1m28-1l1-1m560 1h2m79 0l1-1m85 1h2m-28 1l2 2m-484-1v2m79-2h1m301 0l2 2m7-2h2m90 0h1m-283 1h2m48 0h2m-473 1l1 1m65-1l1 1m-38 0h2m158 0h1m79 0h2m57 0v1m-213 0v2m491-2v2m90-2l2-2m-680 3l1 1m253-1v2m190-2v2m125-2l2 2m-465-1l1-1m571 1l1 1m-400 0h2m164 0h2m-142 1v1m182-1l1 1m-516 0h2m306 0h2m107 0l2 2m-423-1l1 1m12-1v2m732-2l1 1m-740 0l2 2m681-2h1m30 0v1m2-1l2 2m-733-1v2m394-2h1m-334 1h1m1 0l1-1m641 1v2m-241-1l2 2m250-2v1m-728 0v2m272-2h1m455 0v2m25-2l2 2m-275-1v2m183-2h1m85 0v1m-791 0h2m31 0v2m522-2v2m195-2h2m-57 1v2m141-2v1m-763 0l2 2m719-2h1m-445 1l2-2m421 2l1 1m-721 0l2 2m75-1v1m2-1v1m63-1h1m41 1v2m64-2v1m-244 0h1m215 0h1m-166 1l1 1m414-1v1m-513 1v1m407-1l1 1m233-1v2m-599-1h1m430 0v2m336-2v2m7-2v2m-778-1l1 1m10-1v1m-26 0l1 1m364-1v1m39-1v2m314-2v1m63-1l2-2m-263 3l2-2m50 2h1m201 0v1m-608 0l2-2m538 2h2m-716 1l1 1m13-1v1m8-1l2 2m76-2v2m10-2h1m54 0h1m83 0l2 2m387-2h2m-568 1l2-2m270 2h2m453 0l2 2m-778-1l1-1m27 1h2m704 0h1m10 0l2 2m-746-1v1m221-1h1m255 0h2m120 0l1 1m12-1v2m6-2v2m-576-1h2m320 0h1m143 0l1-1m-95 2v2m303-2v2m4-2l1-1m-717 2v2m237-2v1m521-1l1-1m-751 2v2m50-2l1-1m165 1l2-2m472 2v1m74-1l2-2m-707 3l2 2m26-2v1m100-1v1m534-1v2m37-2v2m-759-1v2m5-2h2m240 0h1m-73 1v2m111-2l1 1m453-1l2 2m22-2l2-2m-795 3v1m20-1h1m272 0v2m-84-1v1m511-1l1-1m21 1v1m-772 0h2m301 0v2m20-2v1m10-1v2m75-2h1m-365 1l1 1m68-1v2m357-2l1 1m20-1h1m167 0h1m124 0l2 2m2-2h2m-764 1l2-2m237 2v1m506-1v1m27-1l2-2m-660 3h2m109 0v1m404-1h2m117 0v2m7-2h2m22 0h2m-255 1h2m146 0l2-2m68 2v2m8-2l2-2m10 2h2m-735 1h1m416 0v1m218-1l2 2m-68-1h2m-544 1l2 2m377-2h2m110 0l1-1m218 1v1m-736 0l1-1m14 1h2m98 0v2m315-2h2m304 0v1m42-1h1m-715 1l1 1m372-1h1m268 0l2-2m-613 3h2m86 0h2m169 1h2m392 0h2m-806 1v1m641 0v2m-601-1h1m427 0h2m297 0v2m39-2l2 2m-558-1v1m302-1l1 1m252 0h2m-404 1l2 2m376-2h2m-289 1h1m296 0l2 2m-672-1v2m92-2v1m267-1l1-1m180 1h1m125 0h1m11 0l2 2m-466 0v2m430-2l1 1m13-1l2-2m-672 4v2m703-2v2m-457-1h2m233 0l2-2m-6 3h1m227 0v2m-594-1l1-1m0 1v2m593-2h2m-783 1h1m482 0h2m108 0h2m-69 1h1m59 0l2-2m90 2h1m70 0l1 1m0-1l1 1m17-1l1-1m-312 2h2m312 0h2m9 0h1m-554 1l2 2m518-2h1m18 0v2m14-2h1m-820 1h2m303 1v2m236-2h2m277 0v2m-531-1h2m196 0v1m292-1v2m-457-1l2-2m3 2h1m116 0h1m24 0h2m-428 1l1-1m241 1l1 1m534-1h1m-38 1l1 1m12-1l2 2m-792-1v2m591-2l2 2m131-2l1-1m-605 3h2m343 0h1m205 0v2m54-2v2m-394-1h1m61 0v2m-301-1h2m0 0h1m224 0v1m366-1l1-1m-597 2l2 2m157-2l1-1m495 1l1 1m65-1v1m-652 0l2 2m402-2l2-2m217 2l1 1m-711 1l1 1m484-1l1 1m-244 0v2m326-2l2-2m122 2v2m11-2l1 1m-742 0l1-1m197 1l1-1m558 1v1m17-1v2m-290-1l1-1m86 1v2m195-2l2 2m-657-1l2 2m2-2h1m545 0l1-1m82 1l2 2m10-1l2 2m32-2v2m-103-1l1-1m69 1v2m-92-1v2m92-2h2m-1 0v2m12-2v1m-25 1h2m-200 1v1m192-1l2 2m14-2l1-1m17 1v2m-50-1v2m52-2l2-2m10 2h2m-792 1l2-2m40 2v2m112-2v2m189-2l2 2m435-2l2-2m-783 3l1 1m90-1h2m90 0h2m93 0v2m513-2l2 2m3-2h2m-526 1l2 2m159-2l2 2m75-2h2m265 0v1m6-1v2m-417 0v1m283-1v2m75-2l1-1m22 1v2m11-2l2-2m6 2v1m-280 0l1-1m288 1l2 2m-813-1v2m122-2h2m151 0h1m21 0v2m480-2h2m1 0l2 2m5-2v1m10-1h1m-795 1v2m329-2h1m276 0l2 2m159-2h1m23 0l2 2m-789-1v1m194 0l2 2m280-2h1m135 0v2m34-2h1m-611 1v1m710-1h2m29 0v2m8-2l2 2m23-2l2-2m-13 3h2m30 0h2m-738 1l2-2m297 2l2-2m371 2h1m9 0l2 2m10-2l2 2m15-2h1m-352 1h2m313 0h1m0 0v1m8-1h2m2 0v1m22-1v1m24-1h1m-132 1l2 2m-460-1l2-2m47 2v2m448-2h2m48 0l2 2m-787-1h2m59 0h2m623 0v2m6-2l1-1m99 1v1m-471 0h1m94 0v2m222-2v2m187-2l2-2m-630 3v2m91-2v2m-220-1v1m320-1l1-1m82 1h2m233 0l2-2m5 2v1m28-1v2m26-2h1m-733 1v1m157-1l1-1m36 1l2-2m7 2h1m6 0v1m519-1h2m0 0v2m12-2l2 2m0-2l1-1m-95 2h1m87 0v1m-542 0l2-2m428 2v1m-672 0v1m633-1l1 1m50-1v1m70-1l2 2m14-2l1 1m6-1l2 2m-305-1h2m87 0h2m117 0h2m100 0h1m17 0l1 1m0-1l1 1m-757 0l2-2m73 2h1m299 0v2m50-2v2m126-2l1 1m-470 0v2m18-2h2m59 0h2m573 0h2m26 0v1m7-1h2m-510 1l1 1m243-1l1 1m12-1l1-1m-399 2v2m602-2l2-2m17 2h2m-605 1h1m542 0v1m5-1v1m17-1h1m-501 1l1-1m396 1v1m27-1h1m73 0h2m39 0l2-2m-705 3h1m296 0v1m33-1h2m372 0l1-1m22 1l2-2m-699 3h2m118 0v1m437-1v2m102-2h1m43 0h2m-801 1h1m420 0l1 1m315-1l2 2m-768-1l1 1m175-1h1m442 0h1m37 0h2m25 0v2m55-2h1m35 0l1 1m21-1h1m6 0v2m-779-1v2m412-2l2 2m198-2h1m7 0v2m-81-1v2m224-2v2m-19-1v2m21-2v1m22-1l1-1m-103 2l1 1m22-1h1m27 0h1m6 0v1m20-1l1 1m20-1v1m-486 0v2m42-2l1 1m357-1l1-1m61 1v1m-594 0h1m242 0v2m242-2h2m-486 1l2-2m542 2l2 2m20-2l1 1m-479 0h2m111 0l1-1m303 1l1-1m67 1h2m3 0h2m26 0h2m-602 1v2m384-2h1m75 0l1 1m58-1h2m37 0v2m2-2v1m9-1l1-1m36 1l2-2m-122 3v2m4-2h2m47 0h1m44 0h2m22 0l1 1m-404 0h1m307 0l2-2m93 2h2m-781 1h1m136 0l1-1m477 1v2m38-2h1m77 0l1 1m-45 0v2m60-2h1m0 0h1m14 0l2 2m-336-1v2m146-2v1m70-1l1-1m91 1l2 2m-73-1l1 1m79-1l2-2m-134 3h1m63 1v1m33-1v2m-665-1v1m107-1l2 2m339-2l2-2m0 2v2m-58-1v1m-243 0h2m231 0h1m196 0h2m83 0h2m25 0v2m13-2l2 2m-470-1h1m296 0l2-2m70 2v1m7-1h2m20 0v2m55-2l1 1m-672 0h2m332 1l1 1m81-1l1-1m179 1h1m47 0h2m-660 1h2m28 0h2m634 0v2m42-2h2m-633 1h1m0 0v1m169-1l2 2m290-2l1-1m74 1v2m9-2v2m24-2h2m14 0v1m10-1h1m33 0l1-1m-585 2h2m453 0h2m42 0h2m54 0h2m10 0h1m-607 1h2m27 0h2m211 0l2-2m68 2h2m298 0v1m15-1v1m-435 0l2-2m331 2h2m6 0h1m88 0v2m-584-1h1m559 0h1m1 0l2 2m-411-1v1m94-1l1 1m135-1v1m87-1h1m7 0h2m67 0h2m-672 1v2m213-2h2m89 0h1m274 0h1m30 0h2m34 0h2m-218 1h2m26 0v1m155-1h1m81 0h2m-386 1v2m293-2v1m40-1v2m-464-1v2m40-2h1m337 0h1m-405 1h2m431 0h2m-189 1l2 2m256-2h2m-263 1v2m160-2h1m-51 1v2m101-2l2-2m8 2v2m-246 0v1m136-1h1m-220 2h1m195 0h2m148 0h2m-437 2h1m-92 1v2m400-2l2 2" stroke="#31678e"/><path d="M346 46l1-1m64 1l2-2m-49 4h1m-33 2v2m7-2l2-2m83 2l2 2m-51-1l1-1m-26 2v2m53-2h1m-82 1v2m43-1v2m19-2v2m85-2h2m-130 1l2 2m38-2h2m-30 1v1m3 0l2-2m21 2l2-2m-34 3v1m59-1l2 2m-123-1v2m22-2v2m35-2v1m88-1v1m1-1v2m-104-1v2m25-2h1m-60 1h2m43 0v1m55-1h1m-55 1h2m61 0l2-2m64 2h2m-140 1l1 1m45-1v2m74-2v2m-119-1h2m86 0v1m38-1v1m-170 0v2m17-2h1m15 0l2-2m1 2v1m3-1h1m25 0v1m18-1l1 1m-89 0v1m11-1l1 1m34-1v2m2-2l1-1m19 1h2m99 0v2m23-2l2 2m-155-1l1-1m23 1l1-1m3 1h1m30 0l1 1m-38 0v2m75-2v2m25-2v2m39-2h1m1 0h2m-171 1v2m39-2l2 2m118-2l2-2m-121 3l2-2m4 2v2m7-2h1m18 0l1 1m57-1l2-2m5 2l2-2m8 2v1m-109 0v1m1-1v2m23-2v1m13-1v2m3-2v1m21-1l2-2m7 2h1m5 0v1m47-1h2m10 0l2 2m-1-2h1m-173 1v1m94-1v2m30-2l2-2m49 2h1m27 0v1m-239 0l2-2m58 2v1m10-1v2m-73-1l2-2m21 2h2m13 0l2 2m14-2v2m48-2h1m41 0h2m-138 1v2m128-2h2m7 0l2 2m18-2h2m70 0l1-1m-208 2h1m38 0v1m14-1l2 2m-77-1v1m38-1h2m97 0v2m39-2h1m41 0l1-1m-239 2v2m27-2h1m39 0v2m18-2v2m54-2l1 1m20-1h2m6 0h2m-112 1v2m50-2l1-1m64 1v1m16-1l2 2m67-2l2-2m-201 3v1m23-1l1-1m71 1v1m110-1l2 2m-248-1h2m42 0v2m22-2v2m7-2l2-2m65 2h2m30 0l2 2m-169-1l2 2m21-2h2m124 0l2 2m14-2h1m10 0v1m14-1v1m-168 0h1m185 0l2 2m12-2h1m-231 1v2m46-2l1 1m-40 0h2m39 0v2m94-2v1m9-1v2m32-2v2m-44-1v1m-100 0h1m117 0l2 2m-162-1v1m39-1l2-2m4 2l1-1m20 1v2m40-2l1-1m0 1l1 1m32-1l1-1m95 1v2m4-2h1m67 0h2m-305 1h2m67 0v2m73-2l1 1m68-1v1m87-1v1m-241 0h2m3 0l1-1m48 1h2m114 0v2m16-2v1m-250 0h2m8 0h1m35 0v1m46-1v1m70-1l2-2m58 2v1m-158 0v2m100-2h1m72 0h1m-239 1l2 2m26-2v2m125-2v1m0 0h2m137 0v2m-301-1h1m57 0v1m17-1l1-1m0 1l2 2m-44-1h2m107 0v1m5-1l1-1m40 1v2m-80-1l2-2m7 2v1m101-1v2m17-2l2-2m23 2l1-1m-260 2l2 2m25-2h1m7 0v1m38-1v2m50-2v2m22-2l2-2m119 2v2m-273-1l2 2m67-2h1m68 0l2-2m49 2l2 2m23-2l2-2m22 2v2m20-2h2m26 0h1m50 0v1m-237 0v1m2-1v2m95-2v1m8-1l2 2m-196-1l2 2m269-2h2m10 0l1 1m-303 0h2m29 0h1m1 0h2m3 0l1-1m27 1l2-2m189 2v2m-214-1l1-1m8 1l2-2m-1 2v1m213-1v1m-183 0v2m36-2v1m27-1h2m24 0l1-1m40 1h1m-196 1l2-2m104 2v1m40-1h2m33 0l2-2m126 2v2m-316-1v2m19-2l1 1m6-1h1m131 0h1m19 0l2 2m81-2h1m14 0l1 1m-270 0l2 2m17-2v2m16-2l2 2m184-2l2 2m-211-1l2-2m40 2h2m114 0h2m42 0h1m24 0v1m-268 0v2m15-2h2m300 0l2 2m-303-1v1m138-1l2 2m26-1h2m67 0l2-2m-163 3l2-2m116 2h2m122 0h2m-332 1l2-2m13 2l1-1m172 1h2m136 0l1 1m16-1l1-1m-91 2l2-2m85 2h1m28 0v2m16-2l2 2m-360-1l1-1m191 1h2m96 0h1m-324 1h2m111 0l2 2m60-2h1m3 0l2 2m73-2h2m44 0h1m50 0h1m6 0l1-1m-330 2l2-2m1 2l1 1m208-1h2m94 0l1 1m14-1v1m-307 0l1 1m220-1h1m112 0l2-2m-360 3v1m-2 0v2m96-2l2 2m163-2v1m71-1v1m20-1v1m8-1l2-2m13 3h2m-1 0h1m-391 1l1-1m2 1v2m35-2v1m233-1h2m44 0l2 2m12-2h2m39 0l1 1m-40 0l2-2m-355 3v1m1-1v2m53-2v1m1-1v2m79-2v2m182-2h2m-306 1v1m30-1h2m2 0l1-1m54 1l1-1m164 1h1m80 0l1-1m-334 2h1m30 0h2m250 0l2-2m27 2h2m13 0l2 2m-156-1l1-1m58 1l2 2m17-2h2m30 0v1m55-1v2m15-2h1m29 0v1m-19 0l1 1m27-1l1-1m-133 2h1m7 0v1m102-1h2m-379 1v1m73-1l2-2m199 2l2 2m162-2h2m-363 2h1m146 0l1 1m151-1l1 1m-387 0h1m277 0h2m117 0l1-1m2 1v2m5-2l1 1m-369 1h1m16 0h2m307 0v2m16-2h1m13 1v2m21-1v2m-409-1v2m171-2v1m193-1h2m18 1v2m21-2v1m31-1v1m-34 0v1m35-1v2m-467-1l2 2m26-2v1m6-1v1m340-1v1m82-1l2 2m-455-1v2m377-2v2m53-2v1m-426 0h2m28 0l2-2m39 2h2m171 0l2-2m38 2l1-1m23 1l1 1m46-1l1-1m38 1h1m-414 1l1 1m108-1v1m310-1v2m-382-1v2m226-2h1m188 0v2m-413-1l2-2m347 2v2m45-2v1m-21 0l1 1m-367 0l1 1m0-1v2m1-2v2m62-2h1m172 0v2m105-2h2m28 0h2m60 0l2 2m-46-1l2 2m24-2h2m26 0v2m-482-1l2 2m6-2v1m20-1h2m1 0l1 1m357-1v1m13-1v2m-404-1v2m3-2l2 2m34-2v1m404-1v1m18-1v1m12-1h1m25 0h1m-508 1l1-1m31 1l2-2m242 2h1m80 0l2 2m85-2v1m12-1v2m3-1h1m17 0v2m33-2h2m-517 1h1m61 0l1 1m211-1l1 1m108-1l1 1m73-1h2m5 0h2m-473 1l1-1m452 1v2m-455-1h2m404 0l2-2m-15 3l2 2m55-2l1 1m-442 0l2-2m24 2h2m44 0l1 1m227-1v1m94-1h2m67 0l2 2m25-2l2 2m-473-1l2 2m443-2v1m8-1h2m-423 1h2m178 0v2m181-2h1m9 0v1m33-1h2m20 0h2m40 0v2m-520-1l2-2m10 2h2m-1 0l1 1m39-1h1m410 0v2m-482-1v2m9-2l2 2m-1-2l2-2m52 2v1m365-1v1m70-1l2 2m5-2h1m5 0l2 2m-490-1h1m17 0h1m12 0h1m477 0v1m-116 0h2m89 0v1m9-1l1 1m-457 0l2 2m400-2l1 1m49-1v1m12-1l1 1m-508 0l1 1m3-1v1m144-1v1m309-1v1m4-1h1m5 0v1m36-1l2-2m-1 2h1m9 0l2 2m-500-1v1m378-1v2m75-2v2m-485-1v1m14-1l1 1m440-1v2m-466-1h2m44 0h1m509 0h2m-565 1h2m33 0v1m8-1l2 2m395-2l2-2m47 2l2 2m-419-1h1m422 0v1m1-1h2m12 1h2m20 0l1-1m-522 2h2m27 0v2m443-2v1m16-1l2 2m62-2h2m-532 2l1 1m459-1l2 2m12-2v1m63-1h2m-94 1h2m44 0v1m12-1v2m-526-1v1m392-1h1m165 0h1m-375 1l1-1m305 1l1-1m7 1l1 1m22-1l2 2m28-2h2m-562 1v2m36-2h2m2 0l1-1m455 1v1m41-1h1m-557 1l1-1m26 1v2m321-2h2m36 0l2 2m-365-1h2m508 0l2-2m14 2h1m7 0v2m13-2v1m-50 0v2m37-2v1m35-1h2m-543 1v2m187-2l2 2m258-2v2m65-2v2m-557-1h2m27 0v1m501-1v2m-535-1v2m24-2v1m535-1h2m-547 1h1m1 0l2-2m5 2v2m268-1v2m245-2h2m19 0h2m10 0v1m-488 0h1m487 0v1m13-1l1-1m20 1l2 2m-597-1v2m573-2v2m-571-1l2-2m-18 3h2m564 0l1-1m23 1h2m-591 1l1 1m544-1l1-1m7 1v2m41-1v2m1-2h2m-563 1h1m24 0h2m481 0v2m33-2l2 2m0-2h2m15 0h1m-232 1h1m221 0h2m24 0h1m-594 1h2m1 0v2m248-2l1 1m286-1h1m29 0l1-1m18 1l2 2m-603-1h2m25 0l2-2m244 2h1m277 0v1m33-1l2-2m-381 3v2m333-2l2 2m-548-1l1 1m6-1v2m5-2l2 2m594-2v1m-615 0l2 2m34-2h1m229 0v1m325-1v2m-556-1l2-2m8 2h2m171 0l2 2m-219-1l2 2m18-2h1m565 0h1m-592 1h1m8 0h2m1 0h1m5 0h2m249 0v2m342-2v1m-591 0v1m32-1h1m278 0h1m275 0l2-2m0 2h1m10 0v1m-619 0h2m563 0h2m60 0h2m-623 1v2m192-2l1 1m50-1v1m68-1v1m250-1h2m30 0h2m-578 1h1m14 0h1m163 0h1m191 0l2 2m-379-1v2m10-2h2m189 0v2m69-2l2-2m308 2l1 1m-584 0h1m381 0h2m230 0h2m-619 1v1m18-1v2m199-2h1m12 0v2m42-2h2m36 0l2 2m277-2v2m-578-1h2m4 0l2 2m27-2l2-2m122 2h1m121 0l1-1m258 1h2m-558 1l2-2m340 2v2m68-2l2 2m145-2h2m27 0h1m-360 1v1m236-1h1m31 0l1-1m73 1l1-1m11 1h2m-282 1l2 2m246-2l2 2m48-2v2m11-2v1m35-1l2-2m-209 4v1m168-1h1m17 0v2m-602-1l1-1m11 1l1 1m270-1v2m49-2h2m51 0v2m-417-1v2m11-2h1m13 0l2-2m182 2l2-2m173 2v2m234-2h2m-588 1v1m174-1h2m14 0v2m375-2v2m13-2h2m7 0v1m-621 0h1m28 0v1m2-1l2 2m101-2v2m128-2v2m31-2h2m369 0v1m-367 0l1 1m19-1l1 1m52-1v2m22-2l1 1m-380 0v2m176-2l2-2m21 2h2m31 0l2-2m147 2l1 1m207-1h2m2 0v1m-213 0l2 2m204-2v1m-556 0h2m226 0v1m42-1v1m26-1l1-1m-68 2h2m62 0h2m-128 1l2-2m38 2l1 1m345-1l2 2m-478-1l1-1m93 1v2m73-2l2-2m36 2h1m4 0v2m54-2l2-2m185 2l1-1m50 1l2-2m12 2h2m-397 1v2m46-2l1 1m82-1h1m199 0h2m29 0h1m-366 1v2m28-2h1m212 0l2-2m95 2l1 1m33-1v2m42-2v1m-491 0v1m4-1l2-2m43 2h1m5 0v1m108-1l1 1m12-1h2m-117 1l1 1m75-1h1m70 0v2m230-2l2 2m12-2h2m28 0l2 2m-438-1h2m-1 0h2m13 0v2m86-2h2m92 0v2m85-2l1-1m147 1l2 2m42-2h1m-114 1l1 1m-220 0v2m-158-1h2m13 0v2m127-2v1m6-1l1-1m210 1l1 1m-491 0l1 1m32-1l1 1m21-1v2m274-2v2m21-2l2-2m240 2h1m-544 1h1m266 0v1m12-1h1m17 0v2m182-2l2 2m-566-1h1m255 0v1m278-1v1m61-1l1-1m23 1h2m-613 1h1m263 0v2m41-2l2 2m65-2h2m91 0h2m144 0v2m-284-1h1m28 0h2m-276 1l2 2m98-2v1m81-1l2-2m36 2h2m306 0v2m-470-1l1 1m41-1h2m33 0v2m86-2h1m81 0v1m240-1h2m-655 1h2m19 0h2m89 0v1m239-1v1m-223 0h1m78 0l2 2m2-2l1 1m140-1l2-2m61 2v2m216-2l2 2m-532-1l1-1m242 1v2m13-2l1-1m256 1l2-2m28 2v2m-636-1l2-2m203 2h2m46 0v2m35-2h1m103 0v2m-183-1h1m78 0v2m81-2v2m-96-1l1 1m84-1v1m99-1h1m32 0h1m140 0h1m-625 1h2m127 0v2m285-2h1m-304 1h2m30 0v1m61-1l2-2m51 2l2 2m23-2v1m118-1h2m-302 1h1m41 0v1m10-1v1m8-1h2m-160 1h2m182 0v2m62-2l1 1m151-1h2m-217 1h1m147 0l2 2m12-2h2m47 0h2m-229 1h2m73 0v1m48-1v1m25-1h1m3 0l1 1m2-1v1m266-1v2m20-2h1m-601 1l2-2m1 2h1m221 0h2m154 0v2m3-2l1 1m72-1l1-1m-451 2h1m95 0v1m13-1h2m240 0h1m245 0v2m-444-1l2-2m15 2l2-2m79 2h2m331 0v2m6-2l1-1m0 1h2m26 0v2m-630-1l2 2m392-2l2-2m-15 3h2m-372 1v1m276 0l1-1m23 1h2m14 0v1m-324 0v1m241-1v1m9-1h2m115 0h1m243 0h1m-497 1l1 1m50-1v2m206-2v2m234-2v1m15-1v2m-635-1h2m230 0v2m43-2v2m21-2l2 2m94-2h2m-386 1h1m101 0l1-1m83 1v1m87-1v1m95-1v1m-257 0l2 2m35-2l2-2m413 2l1-1m91 1l2 2m-260-1v1m7-1v1m110-1l1-1m52 1h1m-213 1h2m32 0l1 1m-98 0v2m76-2h2m277 0v2m-478-1l2 2m108-2v2m124-2h1m0 0h2m204 0l2 2m-569-1v2m142-2l2-2m76 2v1m97-1h2m261 1l1-1m18 1h2m-551 1v1m82-1v2m83-2v1m32-1v2m55-2l2-2m13 2h1m273 0v1m39-1h2m-321 1l2-2m26 2h1m-391 1v2m382-2l2 2m252-2h1m-548 1v2m39-2v1m10-1l2 2m-126-1h2m241 1v1m364-1h2m31 0v1m-593 0h2m243 0l2-2m317 2l1-1m-600 2l1 1m372-1v1m263-1v2m6-2h2m-481 2h2m68 0l2 2m87-2v2m23-2h2m-332 1l2 2m37-2l2-2m621 2l1-1m-694 2l1-1m8 1v2m193-2l1 1m243-1l2-2m-260 3l1-1m170 1h2m-351 1l1-1m98 2v1m196-1l2 2m403-2h2m-471 1l2 2m336-1l1-1m-401 3h1m150 0l2 2m-338-1l1 1m6-1l1-1m0 1h2m443 0v2m-370-1l1 1m257-1h2m315 0l1-1m0 1v2m-551-1l1 1m221-1h1m136 0v1m-278 0l2-2m-187 3l2-2m149 2v1m28-1h2m288 0l2-2m203 2l1 1m-524 0h2m20 0l1 1m19-1l1-1m6 1v2m261-2h1m3 0v2m15-2h1m-390 1h1m66 0h1m306 0l1-1m18 1l1 1m119-1v2m-473 0h1m369 0v1m76-1l1-1m-464 2h1m63 0h2m88 0v2m193-2v2m177-2h2m-647 1h2m6 0h2m458 0v2m-486-1h1m525 0l1 1m-509 0h1m39 0v2m467-2l1 1m-513 0l1-1m2 1h2m11 0h2m8 0h2m126 0h1m24 1h1m284 0l1 1m39-1l2-2m172 2h2m-663 1l2 2m220-1v2m220-2v2m2-2h1m-257 1l1-1m8 1v1m299-1l1-1m-389 2l2-2m44 2l2 2m36-2v2m58-2l2 2m385-2h2m55 0v1m-505 0h1m12 0v1m101-1v2m383-2l1 1m-698 0v2m313-1l2 2m-308-1v1m140-1h1m286 0v2m-380-1l2-2m41 2v2m81-2v2m43-2v1m233-1h1m50 0l1-1m23 1h1m-484 1l2-2m12 2h1m615 0h2m-147 1l1-1m-97 2v1m75-1l2 2m-331-1l2 2m72-2h2m115 0l1 1m56-1h1m-215 1h2m235 0l1-1m-1 2l2 2m-417-1h2m403 0v2m106-2v1m181 0l2 2m-732-1h2m124 0h2m50 0l2 2m333-2l2 2m133-2h2m-349 1l2 2m142-2l2-2m186 2h2m69 0l2 2m-483-1v2m35-2v2m48-2v2m-304-1v1m209-1h1m231 0l2-2m-469 3l1-1m329 1h2m140 0l1-1m1 1h2m90 0v2m53-2l1 1m64-1h1m50 0v2m-703-1v2m91-2v1m111-1l1 1m62-1l1-1m172 1h2m82 0l2 2m18-2v1m107-1h1m37 0l2 2m-549-1v1m23-1v2m113-2h2m233 0h1m-419 1v2m62-2v2m546-2h1m-747 1l2-2m40 2v2m219-2l1-1m483 1h2m-466 1l2 2m341-1h2m-350 1v1m202-1v2m4-2l1 1m-447 0h2m6 0l2-2m77 2h2m77 0v2m392-2l2-2m-501 3h2m382 0v2m-435-1v2m555-2h2m-1 0v1m1-1l1-1m116 1l2-2m23 2l1 1m-708 0h2m321 0v2m235-2l2-2m-545 3h2m649 0h2m20 0l1 1m18-1v2m-44-1h2m-244 1v2m146-2v2m151-2v1m-702 0v1m2-1l1 1m431-1v2m223-2l1 1m-390 0l1 1m3-1v2m413-2h2m-254 1l2 2m235-2h1m0 0h2m6 0v2m-685-1h2m551 0l2 2m-489 0h2m492 0v1m32-1l2 2m68-2l1-1m-453 2l2-2m115 2v2m115-2h2m103 0l1 1m28-1l2 2m68-2v2m-319-1h1m231 0h1m-138 1h1m113 0l2 2m104-2v2m-427-1l1-1m69 1v2m2-2h2m269 0v2m37-2l1-1m19 1v2m-308-1v2m18-2v1m-17 0h1m367 1h2m-635 1v2m84-2v1m106-1l2-2m68 2l2 2m102-2v1m-102 0h2m328 0v2m-594-1l1 1m402-1v1m194-1v1m-637 0h2m73 0l1 1m638-1v1m-145 0v2m131-2h2m-743 1h1m36 0v1m217-1l2-2m351 3h1m8 0l1 1m138-1v2m-709-1l2 2m369-2l2 2m192-1l2 2m1-2l1-1m105 1v1m3-1h1m32 0v2m1-2h1m-271 1l2-2m-448 3v2m695-2h2m18 0l2-2m-423 3v1m9-1v2m266-2h2m1 0h2m41 0v2m24-2v2m-647-1h2m314 0l1-1m168 1v1m-483 0v1m295-1v2m284-2v1m149 0l1-1m-713 2l2 2m58-2v2m225-2l1 1m-19 0h1m167 0h2m-409 1l1-1m536 1v2m-2-1l2 2m-567-1l2 2m260-2h1m156 0l2-2m23 2h2m123 0v2m-1-1h1m-411 1v2m23-2h1m116 0v1m142-1h2m168 0l2-2m-44 3v2m5-2l2 2m-422-1h2m271 0v2m291-2h1m-483 1h2m115 0l2 2m315-2h1m-469 2v1m60-1h2m250 0h2m-127 1h2m259 0h2m4 0v1m-197 0h1m-208 1v1m3-1l2-2m-271 3v2m23-2v2m726-2l2-2m-166 3h1m-329 1l2-2m11 2h2m427 0v1m10-1v1m-596 0v1m45-1l2 2m315-1l2-2m14 2v1m-524 1h2m56 0h1m25 0h2m417 0h2m231 0v2m-110-1l2-2m0 3l1-1m-128 2h1m160 0l1 1m67-1v2m11-2l1-1m-504 2l1 1m529-1v1m-713 0h2m454 0l2 2m118-2h2m126 0h2m-257 1l2 2m1-2l2-2m213 2h1m-632 1h2m418 0h2m-349 1v1m122-1l2-2m229 2v2m164-2l1 1m29-1v1m66-1h2m-271 1l2 2m-292-1v1m404-1l2 2m10-2h2m-579 1h1m26 0l2-2m687 2h1m6 0v2m-352-1v2m91-2l2 2m227-2v1m-715 0v1m244-1l1 1m442-1v2m-568-1v1m367-1h2m190 0v1m50-1l1-1m-717 2h2m253 0v2m208-2v1m-468 0h2m-1 0l2 2m-6-1h1m-1 1v2m1-2v2m230-2v2m136-2h1m-347 1l1 1m208-1v1m-223 0v2m19-2l1-1m365 1l2 2m195-2l1-1m45 1h2m52 0l1-1m-700 2v2m28-2v1m213-1h1m99 1v2m165-2h2m1 0h2m217 0v2m-727-1l1-1m13 1v1m12-1v2m-18-1h2m9 0l2 2m4-2l1-1m6 1l1 1m468-1h1m37 0l2 2m166-2h1m59 0v2m-281-1h1m13 0h2m102 0h1m-593 1h2m498 0v2m-481-1h2m695 1v1m-715 0h2m20 0h2m49 0v2m-75-1h2m7 0l2 2m496-2h1m85 0v1m-596 0h2m12 0l2-2m-1 2l2 2m170-2v2m20-2h2m386 0l2 2m155-2v1m-763 0l1-1m32 1h2m198 0l1 1m2-1l2-2m372 2v2m-600-1l2 2m1-2h2m-1 0h1m244 0v2m169-2v2m14-2h2m81 0h1m-498 1v2m740-2l1 1m-737 0l1-1m557 1v2m136-2h2m30 0v2m-788-1l2-2m551 2v1m3-1v2m-506-1l2 2m4-2l1 1m492-1h1m5 0v2m80-2l2 2m-616-1v1m30-1v2m637-1l1-1m79 1l2-2m-721 3l1-1m505 1h1m3 0v2m231-2v2m-729-1v1m211-1l2-2m306 2l2 2m83-2l2 2m33-2v2m50-2h1m3 0h1m-702 1l1-1m64 1v1m442-1h2m204 0l2-2m-726 3h1m17 0h2m496 0l1 1m79-1v1m6-1v2m147-2h1m-657 1v1m166-1h2m-259 1h1m16 0h2m-8 1h2m498 0h2m-533 1l1-1m41 1l2-2m289 2h2m175 0l1 1m105-1h2m106 0v2m-720-1v1m612-1h2m126 0l1 1m-719 0h1m3 0v2m-18-1v1m7-1h1m2 0l1-1m509 1h1m88 0l2 2m-607-1h2m714 0v2m-726-1v1m662-1l2 2m0-2v1m-625 0v1m-27 0l2 2m-3-1v2m603-2l1-1m-660 2h2m61 0v1m432 0l2 2m28-2l1 1m-323 0v1m240-1v1m-377 0l1-1m659 2h2m71 1h1m-739 3v1m273-1l1-1m-140 2l2 2m319-2v2m136-2l1-1m111 1h1m53 1h2m-717 1l1 1m126-1l2 2m-117-1v1m35 0l1-1m-80 2v1m15-1v2m352-1v2m230-2h2m129 0l1 1m-736 1h1m6 0h2m573 0l2-2m145 2l1 1m29-1l2 2m-173-1v1m128-1l2-2m-513 3l2 2m187-2v1m308-1l1-1m-679 2v1m-2 0h1m326 0v1m136-1v1m100-1l2-2m152 2l2-2m-753 3h1m18 0v2m88-2h2m493 0l1 1m125-1v1m-206 0v2m223-2v2m31-2l2 2m-764-1h1m58 0h2m694 0v2m-461-1h1m287 0h1m122 0v1m-716 0l1 1m194-1h2m77 0l2 2m326-1l1 1m92-1v2m-315-1h1m-373 3l1 1m61 0l1-1m446 1h1m90 0v2m-656-1l1-1m80 1v1m151-1l2-2m-132 3h1m671 0l2 2m-88-1h1m79 0v1m8-1h2m10 0v2m5-2h2m-664 1v1m153 0v2m197-2l2-2m114 2l2-2m31 2h2m123 0v1m-774 0l2-2m646 2l1 1m1-1h2m179 0h2m-703 1h1m645 0v2m-517-1h2m382 1l1-1m142 2h2m-721 1l2-2m577 2l1 1m116-1h2m-715 1l1 1m11-1l2 2m-22-1v1m741-1h1m60 0h1m-416 1l2-2m405 2v2m-324-1h2m78 0l2-2m-351 3l1 1m68-1h2m322 0h2m29 0v2m64-2v2m92-2h1m-666 1v2m205-2h1m218 0h2m-495 1h2m31 0h2m221 0v1m301-1v1m0 0l2-2m149 3l1-1m-761 3v1m149-1l2 2m14-2v1m591-1h2m8 0h2m-768 1v1m635-1h2m-581 1l1 1m58-1h2m508 0v1m120-1h1m31 0v2m-690-1l1-1m536 1l1-1m-211 2h1m104 0h1m215 0h2m-704 1l2-2m73 3l2-2m623 2l2-2m36 2v2m-776-1l2-2m477 2l1-1m253 1v1m-726 0l2 2m747-2l2 2m5-2v1m-569 0l2-2m359 2v2m234-2v1m-780 1l2 2m316-2v2m476-2h1m-18 1l2-2m-99 3v2m85-2l2 2m-22 1l2-2m49 2l2 2m-705-1v1m-18 0h1m98 0v2m157-2l2 2m124-2l1 1m99 0h2m-461 2l2-2m451 4l1-1m27 1v1m175-1h2m4 0h2m-102 1h1m56 1v2m48-2v2m5-2h2m0 1h1m9 0l1 1m-768 0h2m282 0v2m442-2l2-2m24 2v2m-190-1v2m4-2h1m173 0v2m22-1v2m2-2v1m-33 0v1m-733 0h1m382 0h2m349 0l2 2m-737-1l2-2m679 2l1 1m44-1l1-1m6 1v2m27-1l1-1m3 1v1m9-1h2m2 0l1 1m-49 0l2 2m-162-1h2m25 0h2m97 0h2m22 0v1m15-1v2m45-2l2 2m-13-1l1-1m-788 2v1m69-1h1m705 0h2m-1 0v2m-729-1v2m61-2h1m476 0h2m142 0l2-2m-756 3l2 2m14-2l1-1m767 1v2m5-2h1m-640 1l2 2m585-2h2m47 0h2m2 0l1-1m2 1h2m-355 1l2 2m368-2l2 2m15-2h1m-758 1h1m191 0l1 1m382-1l1-1m150 1v2m22-2v1m-218 0v2m35-2v2m-415-1h2m77 0v2m368-2h2m113 0h2m30 0l1-1m-742 2h1m46 0v1m493-1v2m161-2v2m12-2l1-1m-779 2v1m76-1h2m3 1h1m295 0l2 2m40-2h2m-410 1v2m447-2v2m202-2h2m61 0l1 1m-706 0v1m456-1h1m252 0h2m-280 1h2m158 1l2 2m154-2h2m3 0h2m-736 1h2m97 0h2m40 0l1 1m49-1h2m102 0l2-2m20 2h2m282 0l2-2m-586 3l1 1m610-1v1m-608 0l1 1m206-1l1 1m234-1v2m110-2h2m42 0v1m143 0v2m-349-1l2-2m145 2l1 1m182-1v2m-49-1h2m9 0v1m24-1l1 1m68-1h1m-779 1v1m174-1h2m94 0l1 1m23-1v1m425-1v1m-557 0v1m553-1l1-1m7 1h1m7 0v1m-672 0v2m269-2l1-1m402 1v1m-23 0h2m-270 1v2m221-2v1m-61 0l1-1m-416 2l2-2m196 2h2m9 0v2m159-2h1m39 0v1m108-1l1-1m-671 2l2 2m246-2h2m-345 2h1m789 0l2 2m-647-1l2-2m151 2l2 2m90-2v1m131-1l2-2m182 2v2m-59-1l1 1m51-1h1m92 0l1-1m9 1l1 1m-655 0l2 2m442-2h2m29 1v1m1-1h2m-515 1v1m329-1h1m197 0l2-2m87 2l2-2m41 2v2m1-2v2m2-2l2-2m-53 3h2m48 0h2m40 0v2m-775-1l2-2m264 2l1 1m325-1v1m50-1v2m38-2l2 2m32-2v2m-272-1l1-1m291 1l2-2m-130 3h2m115 0v2m40-2v1m-786 0v2m13-2v1m689-1h1m-593 1v1m355-1h2m302 0l2-2m10 2v2m-167-1v1m168-1v2m-732-1h1m281 0l1 1m282 0v1m72-1v2m69-1l1-1m-548 2h2m305 0h2m82 0v2m43-2l2-2m62 2v2m15-2h1m-523 1h2m420 0h1m-588 1v2m250-2h2m94 0v1m135-1v1m228-1v1m-450 0h1m297 0l2-2m135 2v2m11-2l2-2m24 2v1m-149 0h2m21 0l2-2m79 2v1m34-1h2m-146 1h2m49 0l1 1m36-1l1-1m76 1v1m-159 0l2-2m159 2l1-1m-465 2h2m319 0h1m110 0h2m17 0l1 1m-580 0v2m20-2h2m412 0v2m31-2h1m92 0v2m-63-1v1m5 0l2-2m41 2l1-1m18 1v1m1-1l2 2m4-2h2m-239 1v2m108-2l2 2m96-2v2m7-2h2m-529 1v2m506-2l2-2m-261 3h2m96 0l2 2m71-2v1m4-1v2m-31-1v2m65-2h2m56 0h2m15 0v2m-4-1l1 1m-101 0v1m-269 0l1-1m289 2l2-2m52 2h2m18 0l1 1m-393 1h1m326 0v1m-358 0h2m356 0h2m-498 1l1-1m-43 2l2-2m219 2l2 2m-147-1h2m80 0v1m119-1v1m162 1h2m76 0h2m-49 1l1 1m-216 0v2m178-2v2m81 6v2" stroke="#287d8e"/><path d="M367 39l1-1m-9 6v1m47 0l2-2m-45 4v2m41-2l1-1m-42 2h2m38 3h2m-43 1h1m18 0h2m-28 1h2m63 0v2m1-2h2m-97 1l2 2m-1-2l2 2m10-2v1m4-1h2m102 0v2m-115-1v1m45-1v1m23-1l2-2m-66 3h1m6 0h2m-32 1v1m46-1v2m24-2v2m70-2v1m-127 0h1m1 0h2m71 0h1m20 0v2m1-1h1m65 0l2-2m-177 3v2m67-2v2m37-2v1m6-1h2m46 0l1-1m-184 2v1m153-1l2 2m-150 0l1-1m15 1v2m55-2h2m58 0v2m-115-1v2m31-2v2m23-2h2m1 0h1m9 0h1m27 0h2m-44 1v2m58-2h2m-85 1l2-2m25 2l1 1m-61 0h2m11 0v2m69-2v2m15-2l2 2m40-2h1m24 0h2m13 1h2m-160 1l1 1m10-1l1-1m23 1h2m50 0v1m-66 0h2m14 0h2m2 0h2m5 0l1-1m56 1h2m2 0v1m35-1h1m-105 1l1 1m19-1l1-1m6 1v1m94-1v2m-199-1v1m31-1v1m80-1h2m32 0h2m-1 0l1 1m-19 0v1m108-1v2m-214-1l1-1m21 1v1m37-1l2-2m50 2l2 2m-136-1v2m30-2h2m60 0h1m68 0v1m43-1v2m1-2l1-1m10 1l1-1m27 1h2m-151 1v1m31-1v1m20-1v1m20-1l2 2m13-2h1m19 0l1 1m-171 0l2 2m80-2l2 2m24-2h2m6 0h2m32 0v1m37-1h2m-227 1l1-1m4 1l2 2m118-2v1m43-1h1m-128 1v1m171-1l2 2m-230-1v2m124-2l2-2m17 2v1m82-1h1m-212 1l2-2m4 2l1-1m174 1l2 2m-177-1l1 1m100-1v2m55-2v1m35-1h1m-207 1l1-1m112 1v2m31-2v1m71-1h2m45 0l1-1m6 1l1 1m-18 0l1-1m-67 2v2m50-2v1m-120 0l2-2m89 2h1m27 0h1m-179 1l1-1m31 1h1m173 0l2 2m-182-1l2 2m17-2v1m46-1v2m6-2h1m-150 1h2m123 0l1-1m37 1l1 1m72-1v2m2-2l2-2m53 2h1m-301 1v2m153-2v2m31-1l1 1m-174 0v1m207-1l1-1m-222 2l1-1m16 1h1m77 0l2 2m96-2h2m51 0v2m2-2v2m-214-1v1m-28 0h1m4 0l1-1m-2 2h2m51 0h1m20 0l2 2m47-2l1-1m1 1v2m95-2h2m11 0h2m-93 1l2-2m0 2h1m7 0l2 2m16-2l2 2m52-2v2m-244-1l2 2m175-2l2 2m45-2l1-1m31 1l2-2m-238 3v1m127-1h1m75 0l1 1m-49 0l2 2m-170-1h2m159 0l1 1m34-1h2m91 0l1 1m-284 0h2m50 0l1-1m119 1v1m148-1l1-1m-196 2l1 1m86-1v2m-52-1v1m78-1v2m-249-1l2-2m272 2l2 2m2-2v1m35-1l1-1m-285 2h1m0 1v1m220-1h2m-97 1v1m96-1l2 2m73-2v2m35-2l1-1m-392 2v2m22-2v2m13-2l1-1m10 1v1m66 0v1m7-1v2m153-2h2m34 0v2m-87-1h2m23 0l1-1m126 1l2 2m-353-1v1m244-1v1m-250 0l1-1m1 1l1-1m-7 3h1m30 0l2 2m123-2h2m9 0v2m38-2h2m176 0h2m-389 1v2m6-2l1-1m74 1l2 2m236-2l2 2m44-1l2-2m-356 3l1 1m300-1h2m3 1l1-1m38 1v1m-372 0v1m37-1v2m113-2v1m162-1h2m-304 1h1m7 0l2 2m5-2h2m1 0l1 1m24 0h1m260 0v2m-270-1l1-1m16 1h2m155 0l1-1m-188 2h1m241 0v2m-260-1h1m26 0v1m22-1v2m257-1l2 2m40-2v2m73-2h2m-366 1l1-1m324 1h1m-81 1l2 2m-52-1v2m116-2v1m28-1h1m23 0v2m-437-1v1m10-1h2m290 0l2-2m-1 2h2m40 0v1m18-1v2m-365-1l1-1m14 1v2m12-2l2 2m-40-1v1m-5 1l2 2m9-2l2-2m60 2l1-1m337 1l2-2m-384 3l2-2m22 2h1m5 0v1m307-1l2 2m-344-1h1m391 0v1m24-1h2m-298 1v2m310-2l2 2m-456-1v1m33-1l2-2m111 2l2-2m276 2h2m-421 1h2m30 0h2m381 0v2m-121-1l2-2m91 2l2 2m33-2l2 2m16-2l2-2m-446 3l1 1m8-1l2 2m131-2l1-1m-151 2v2m12-2v1m465-1l1-1m-456 2h1m5 0l2 2m9-2v2m12-2v1m379-1h2m14 0v2m-444-1l1-1m3 1v1m296-1l2-2m144 2h2m21 0l2-2m-474 3h1m301 0l1 1m124-1l1 1m34-1v2m8-2v1m3-1l1-1m-413 2h2m344 0h2m-407 1l2 2m-8-1l1-1m33 1h1m197 0v1m204-1v2m-412-1v1m22-1h2m-1 0l2 2m321-2v2m124-1v1m-485 0h2m175 0l2-2m195 2h2m-368 2l1-1m-29 3h1m54 0v1m4-1l2-2m435 2l1 1m-502 0l2 2m45-2v2m-34-1h2m59 0v2m276-2h2m148 0v2m-42-1h1m-466 1h2m37 0v2m412-2h2m25 0l1 1m13-1v2m35-2v1m25-1h1m-498 1l2 2m420-2l1 1m-475 0l2 2m3-2v2m7-2v1m10-1h1m-10 1v2m421-2v1m33 1h2m77 0v1m-159 0l1-1m94 1v1m10-1h2m-364 1h2m344 0v2m66-2h2m-557 1l1-1m6 1h1m5 0l2 2m490-2l1-1m52 1l1-1m-500 2l2 2m-66-1v1m482-1h1m-458 1h2m61 0l1 1m-81 0h2m6 0v2m410-2v1m-406 0v1m9-1v2m15-2v2m472-2v2m-512 0v1m3-1h1m524 1h1m0 0v2m14-2v1m2-1v2m-546-1l1 1m16-1l1-1m19 1l2-2m34 2h1m64 0v2m-140-1l2-2m2 2h2m5 1l2-2m55 2v2m74-2v1m-143 0h1m526 0v2m-535-1l1-1m1 1l1-1m406 1h2m138 0h1m-549 1v2m6-2h1m524 0v2m-458-1v2m468-2h2m-535 1h1m19 0v1m31-1l1 1m471-1h1m-546 1l2 2m9-2v1m-6 0h2m0 0l2 2m329-2v1m-326 0l2 2m6-2h2m561 0v1m-578 0h2m277 0v2m197-2h2m94 0h2m-586 1v2m11-2l2 2m561-2l1-1m3 1h1m-556 1v2m-15 1l2-2m482 2v2m-459-1h1m84 0v2m483-2l1-1m-598 2v2m488-2l1 1m30-1h2m24 0h1m11 0l2 2m-573-1v2m13-2v2m30-2v1m265-1l1 1m7-1h1m179 0v2m131-2l1-1m-616 2v2m279-2l1-1m201 1v1m33-1h2m11 0h2m10 0v2m-531-1h2m284 0l2 2m-310-1h1m48 0h2m281 0v2m256-2h2m3 0v1m-586 0v1m20-1v1m176-1h2m363 0h2m-557 1h1m2 0h2m296 0l1 1m-298 0l2-2m20 2v1m469-1l1 1m88-1h1m-598 1h2m22 0v1m140-1v1m245-1h2m230 0l2-2m-461 3v2m416-2v2m-573-1h2m121 0v2m152-2v2m304-2h2m-605 1v2m12-2v2m120-2h1m70 0h2m57 0h2m304 0l1-1m-277 2h2m307 0h2m-607 1h2m20 0v1m12-1h2m452 0l2-2m-490 3l1 1m21-1v2m224-2h1m-247 1l2-2m199 2h1m92 0v1m142-1l1 1m185-1l2-2m-50 3h1m-562 1h2m178 0v1m376-1l2-2m-270 3l2 2m302-2l2-2m-586 3h2m-1 0v1m213-1v1m355-1h2m-558 1v1m182-1h2m20 0v2m77-2h1m27 0v2m-144-1v2m8-2l2-2m381 2h2m30 0h1m-419 1h1m36 0h1m84 0h1m266 0l1 1m11-1v2m33-2l2 2m-640-1l1-1m7 1l1-1m0 1h2m8 0v2m168-2v2m396-2l1 1m19-1h2m4 0v1m-386 0l1 1m92-1l2 2m85-2l2 2m-396-1l1 1m9-1l2 2m9-2h1m104 0l1 1m122-1h1m-36 1v1m68-1v2m10-2h1m-98 1l2 2m315-2v2m78-2h2m-403 1v1m168-1l2 2m-91-1v1m199-1l2-2m-202 3l1 1m-75 0h2m54 0l1-1m357 1v1m-394 0v2m52-2l1-1m30 2h2m-289 1l2 2m260-2l2 2m33-2l1-1m258 1l2-2m19 2h2m-530 1h2m73 0h1m416 0v1m56-1h1m-474 1v1m87-1v1m78-1v2m-284-1v2m190-2v1m101-1l1 1m-293 0l1-1m87 1l2-2m198 2h1m77 0h1m11 0h1m191 0h1m-229 1h1m-139 1l2-2m7 2l2 2m425-2h1m-659 1v2m238-2h1m384 0v2m-613-1v1m228-1v2m-235-1l2 2m20-2l1 1m622-1h1m-441 1v2m60-2v1m182-1h1m213 0v2m-439-1h1m-28 1h2m5 0l2-2m0 2v2m60-1v1m16-1h1m15 0v2m306-2h1m13 0l2 2m-284-1l1-1m58 1l2 2m8-2l2-2m-251 3l2 2m192-2l1-1m250 1v1m64-1l2 2m-562-1l1-1m89 1h1m192 0v2m248-2l1-1m-502 2l1-1m41 1v2m96-2l2 2m-122-1v1m25-1h2m-191 1h2m188 0v2m95-1l2 2m342-2v2m47-2h2m-53 1h2m-597 2l1 1m50-1l2 2m28-2h2m214 0h1m48 0h2m308 0v1m-276 0v2m3-2h1m267 0l2-2m-536 3v2m129-2h2m69 0h2m81 0v2m-401-1v2m285-2v1m54-1h2m-107 1h1m124 0l1-1m22 1l1-1m-398 2v2m18-2v2m328-2v2m-329-1h1m333 0h2m316 2h2m-667 1v2m231-2h1m0 0l2 2m11-2v2m125-2h2m30 0h1m-241 1v2m41-2h2m166 1h2m211 0v2m-462-1l2 2m-17-1v1m66-1l2-2m11 2v2m245-2h2m-222 1h1m181 0l2-2m228 2v1m-620 0h2m96 0v2m75-2l1-1m52 1l1 1m38-1l1 1m348-1v1m-242 0l2-2m-241 3v1m550-1v2m-518 0v1m187-1v2m1-2v2m44-2v2m291-2v2m-469 0h2m73 0h1m109 0v2m229-2l2-2m-481 3l2-2m-160 3l1 1m191-1v2m159-1h1m251 0h2m-214 1l2-2m24 2h1m1 0v2m-307-1v2m-5 0l2 2m166-2l1 1m395-1h1m-654 1l2-2m88 2h2m41 0l2-2m30 2h2m349 0v2m49-2v2m43-2h1m26 0l1 1m-553 0l1-1m71 1h1m460 0l2-2m-313 3l1 1m312-1l1 1m-559 0v2m37-2v1m559-1l2 2m5-1v1m-308 0v2m-215-1l1-1m16 1h1m492 0l1-1m4 1l1-1m-551 3l1-1m6 1l1 1m-125 0v2m100-2l2-2m524 2v1m-626 1h1m455 0l2-2m173 3h2m-493 1h1m118 0l2 2m427-2h2m7 0l2-2m-240 4v1m8-1l2-2m-421 3h1m414 0h2m2 0v2m8-2v2m11-2l2 2m0-2l2 2m-21-1h2m11 0h2m0 0l2 2m200-2v1m-453 0l2-2m234 2v2m6-2v1m14-1l1-1m1 1h2m6 0l2-2m-498 3l1-1m478 1l1-1m168 1l1 1m-658 0v1m111-1l2-2m57 2h2m42 0l2 2m243-2v2m8-2l2 2m30-2v2m-491-1l2-2m486 2h2m-495 1l1 1m150-1l2-2m306 2h2m11 0v2m17-2v2m4-2l2 2m174-2h1m-451 1h1m228 0v1m9-1v2m3-2h1m23 0l2 2m14-2h1m187 0l1-1m-277 2v2m41-2l1-1m0 1h1m48 0l2-2m174 3l1 1m10-1l2 2m-237-1v2m42-2h1m-375 1h1m60 0l2 2m-151-1l1-1m465 2v2m3-2v2m199-2h2m-257 1l1 1m-450 0h2m117 0v2m322-2h1m73 0v2m-386-1l2 2m-29-1v1m321-1v2m25-2h2m-439 1l2 2m158-2h1m130 0v1m144-1v2m82-2h1m-1 1l2 2m172-2v2m-257-1v1m69-1l1-1m-340 2l2 2m463-2v1m-198 0h1m82 0h1m-510 1l2-2m150 2h2m13 0v2m260-2l2-2m267 2l1-1m-525 2v1m342-1v2m3-2l1-1m-361 3v2m356-2v2m116-2l1 1m-111 0v2m2-2v2m3-2l2 2m-1-2v1m103-1v2m-634-1h1m2 0l2-2m81 2v2m-7-1v2m351-2l1 1m-336 0l1 1m337-1v2m224-2l2 2m-666-1h2m81 1v1m134-1v2m312-2v2m176-2l2-2m-69 3h1m-653 1v2m445-2l2 2m4-2h2m72 0v1m-289 0l1-1m442 1l2 2m-659-1v1m533-1h1m-537 1h2m93 0h2m448 0v1m88-1v2m52-2v1m-147 0v1m172-1v2m2-2l2-2m-287 3l1 1m114-1v1m117-1h2m-682 1l2 2m8-2l2-2m4 2h1m539 0l1-1m4 1v2m1-2l2 2m-399-1v2m397-2v1m-534 0v2m425-2l2-2m-435 3v2m264-2l2 2m278-2h2m4 0h1m-552 1l1-1m429 1v1m115-1v2m-548-1v1m570-1l1 1m-579 0h2m318 0h1m-239 1l1-1m-75 2h1m4 0l2-2m430 2v2m-455-1v2m26-2h1m684 0v1m-135 0v1m137-1l2 2m-269-1h1m182 0h2m-610 1h2m323 0h1m342 0l2-2m65 2v1m-43 0v1m-370 0l1-1m-326 2l2 2m310-2v2m108-2v1m-425 0l1 1m563-1l2-2m103 2l2-2m-229 3l1 1m4-1l1 1m-151 0v2m31-2v2m120-2v2m119-2l2 2m126-2h2m-255 1v2m4-2l1-1m114 1l1-1m-561 2v2m291-2v1m28-1l1 1m14-1l2 2m230-2v2m10-2l2-2m-257 3l2 2m250-1v2m72-2v1m-205 0h1m130 0h2m-1 0v2m-388-1v1m255-1h1m136 0h2m-270 1h1m272 1l2-2m-417 3l2 2m143-2h2m136 0l2 2m126-2l1 1m-133 0v2m269-2l2 2m-707-1v1m50-1h2m235 0l2-2m0 2l2-2m11 2l1-1m135 1v1m-329 0l2 2m457-2l2-2m159 2l1 1m-573 0l1 1m307 0l1 1m100-1l2-2m1 2h2m51 0h1m60 0h2m-239 1v2m-196-1l2-2m188 3v2m-1-1h1m132 0l1 1m-1 0h2m-1 0l2-2m-286 3v2m165-2v2m118-2v1m-130 0h2m6 0v2m-2-1h1m241 0h1m-419 1l2-2m441 2v1m-731 0l2 2m451-2l1-1m142 1l2 2m-574-1v1m440-1v2m127-2l2-2m1 2v2m-310-1v1m183-1v2m-465-1h1m267 0h1m-261 2v1m1-1v1m451-1h2m4 1v2m-3-1h1m1 0l2-2m1 2l1 1m5-1l1 1m223-1v2m21-2l2 2m-250-1v1m225-1h1m0 0h1m-437 1v2m3-2l2 2m335-2l2 2m18-2v1m109-1h1m11 0v2m-518-1l2 2m364-2h1m3 2l1 1m-359 0l1 1m473-1l1-1m-112 2l2-2m3 2v2m114-2h2m-687 1l2 2m417-1h2m145 0v1m93-1v1m-694 0h2m291 0v2m125-2l2 2m59-2v1m3-1h2m2 0v1m104-1h1m-581 1l2-2m99 2l2-2m159 2v1m328-1l2-2m-590 4v2m466-2h1m4 0v1m-476 0h2m252 0h2m219 0h2m1 0v2m264-2v1m-259 0v1m-230 0v2m224-2h2m221 0l2 2m8-2v2m8-2v2m-707-1h2m362 0v1m104-1v1m2-1h1m8 0h1m-495 1l1-1m12 1v1m-1 0h2m8 0v1m460-1l2-2m-1 2v1m10-1v1m1-1l1-1m0 1l2-2m-10 4v2m114-2v2m-578-1l2 2m7-2v2m212-2h1m246 0v2m-7-1l2-2m5 2v2m11-2h2m94 0h2m0 0l1 1m116-1l1-1m-700 2l2 2m277-2l1-1m105 1l1 1m196-1h1m120 0h1m-233 1v1m108-1v2m101-2l2 2m14-2l2-2m-713 3v1m16-1v2m483-2h2m93 0l2-2m125 2l2-2m-708 3l2-2m467 2v1m7-1h2m-193 1v2m405-2l2-2m32 2v1m-724 1h2m211 0v1m1-1l1-1m487 1l2 2m-717-1v2m19-2v1m198-1l1-1m101 1l2-2m174 2h1m-489 1h1m6 0h1m7 0h2m482 0l1 1m213-1h1m16 0h1m-746 1h1m5 0v2m6-2l1 1m13-1v1m7-1v2m-22-1l1 1m11-1l1-1m491 1v2m-505-1h2m497 0l1-1m-510 2l2 2m8-2l1-1m8 1v2m7-2v2m614-2h1m-622 1v1m8-1l1 1m139-1l2 2m309-2h2m34 0v2m-1-1h1m91 0l1 1m-605 0v1m21-1l2 2m5-2l2-2m193 2l2 2m291-2v2m9-2h1m77 1h1m3 0h1m-616 1l1 1m24-1l2-2m185 2h2m308 0v2m1-2l2 2m3-2l2-2m2 2l1 1m82-1v1m-92 0h2m3 0l2-2m212 2v2m-719-1h2m0 0l2-2m1 2l2 2m605-2l1 1m116-1h2m-232 1h2m5 0h2m-516 1v2m6-2h2m3 0h1m190 0h1m71 0l2-2m233 2l2 2m0-2l2 2m81-2h1m1 0h1m-591 1l1 1m3-1h1m503 0h2m2 0v1m31-1v1m54-1v2m120-2v1m-214 0l1-1m88 2h1m-594 1h1m14 0h1m484 1l2-2m9 2l2-2m-511 3h2m589 0v1m3-1h2m-588 1v2m591-2v1m115-1l1 1m-700 0h2m99 0h2m471 0v2m8-2l2-2m-8 3h2m3 0h2m144 0h2m-742 1h2m6 1l2 2m214-2v2m282-2h1m-61 1h2m20 0v1m276-1v2m-380-1l1 1m140-1h2m78 0h1m6 1h2m-86 1h2m187 1v1m-108 0l2-2m117 3v1m-118 0l2-2m144 3v2m-99-1l1-1m-54 3l1 1m132 0l2-2m-131 3h2m135 0v2m-726-1h2m581 0v2m161 1v1m-236 0l1 1m75-1l2-2m-73 3l2 2m175-2h1m-496 2l2-2m-196 3h2m145 0l1-1m440 1l2 2m-468 0v2m160-2v1m422-1v1m47-1l2-2m-169 3v2m-531-1l2 2m526-1v2m16-2h1m-90 1l1 1m71-1v1m133-1v1m1-1l1 1m-495 0h2m208 0l2 2m81-2h1m197 0v2m-133-1v2m14-2h2m119 0h1m-136 1l2-2m-595 3v2m6-2h2m151 0l2 2m261-1h2m304 0h1m-361 1l2 2m219-2h2m3 0h2m74 0h1m-716 1l2-2m775 2h2m-128 1h1m-615 2v1m597 0l1-1m0 1v1m4-1l1-1m56 1h1m92 0h1m-226 3l1 1m7-1l2 2m234-2h2m-176 1v2m-638 0h2m77 0v2m240-2l1 1m-85 0h2m398 0h1m5 0l1 1m143-1v1m-306 0v2m315-2v2m-746 0h2m148 0l2-2m434 2l1 1m-1 0v1m94-1h1m42 0h2m26 1v1m-732 0v1m483-1l1 1m227-1v2m-630-1v2m480-2h2m-354 1l2 2m352-2h2m-303 1h1m293 0h1m196 0l2-2m-283 3l2-2m90 2v2m-560-1h2m171 0h2m19 0h1m360 1l1-1m90 1v2m115-1v2m-43-1v1m-357 0h1m154 0h1m144 2l2 2m-657-1v2m498-2v2m46-2h2m-1 0v1m60-1v2m98 0v2m7-2l2-2m27 2h2m19 0l1 1m-266 2l1-1m-49 2l1 1m262-1h1m-568 2v1m396 0l1-1m205 1h1m-182 1v2m-25 0l2 2m151-2h1m26 0l1-1m-763 2v1m585-1v2m2-2h2m187 0v2m10-2l2 2m-511-1h2m515 0v1m-214 0v1m-4 0v1m155 0v2m50-2v1m-270 1l2 2m285 0v1m-573 0v1m343-1l1-1m186 1l2-2m-283 3v2m25-2l1 1m289-1l1-1m-634 2v2m38-2v2m383-2h2m0 0v1m154-1v2m-161-1h1m-340 2h1m531 1v2m6-2l2 2m-145-1h1m-58 1v2m5-1l1 1m186-1l1 1m3-1v1m15-1h2m-209 1l2-2m-254 3h1m425 0l2-2m-300 3h2m120 0l2-2m-3 3h2m151 0v2m-539 0h1m387 0h2m0 0v2m3-1v1m25-1h2m168 0v1m-624 0v1m421 0l2 2m67-2l1 1m113-1h2m18 0h2m-63 1l1 1m-699 0h2m561 0l2-2m194 2v2m-200-1l2-2m165 2v1m-741 1l1-1m785 1v2m-790-1v2m451-1v2m238-2h2m-108 1l2 2m54-2l2 2m-55-1v1m170 0l2-2m-310 3l2 2m131-2l2 2m-1-2l2 2m139-2v2m-431-1h2m424 2l2-2m12 2h2m-494 1h2m138 0l1-1m368 1v1m-493 0h2m-262 1l2 2m454-2l2 2m127-2v1m171-1h2m-705 2v2m556-2h2m132 0l2 2m-308-1v2m93-2v2m206-2l2 2m15-2v1m-456 0v2m29-1h2m345 1h1m55 0l1-1m-398 2v1m249-1v2m-1 0v2m199-2l1 1m-193 0h1m120 0v1m70-1v1m-189 0l1-1m-455 4v1m457 0l2 2m122-2v1m-15 0h1m13 0v1m49-1h1m-729 1h1m79 0h2m479 0l1-1m-602 2l1 1m68-1l2-2m192 2h1m355 1h2m-22 1h2m62 0v2m113-2h2m-180 1h2m-1 0v1m86-1v2m6-2l1-1m-17 3v1m-165 0l2-2m121 2l1-1m-139 3v1m116-1l2 2m93-2h2m6 0l2 2m35-2v1m-535 0l1-1m170 2h2m213 0l2-2m144 2l1 1m-704 0l2-2m532 2h1m173 0h1m-144 1h1m145 0h2m-220 1l2 2m61-2l2-2m5 2l2 2m-13-1l2 2m-84-1h2m76 0h2m15 0h1m99 0v1m20-1v1m-605 0v1m479-1v2m2-1l2 2m-172-1v1m164-1l1-1m3 1l1 1m125-1v2m-498-1l1-1m435 1l2-2m-69 3h2m10 0h2m106 0l1-1m-133 3v2m40-2v1m-22 1v2m1-2l2-2m-480 4h2m74 0v2m434-2v2m15-2v2m-360-1h2m247 1h1m-21 6l1 1m64 0v2" stroke="#1f978b"/><path d="M365 34v1m-44 10v1m123 4v1m-35 2v1m46-1v1m-87 0h2m98 0v1m-109 0h2m46 2l1-1m-65 2l2 2m12-2l2 2m-58-1l2 2m31-2v2m83-2l2-2m-132 3h1m95 0l2 2m-45-1v1m17-1l1 1m71-1l2-2m-141 3v2m47-2l1-1m48 1v2m47-2v1m-61 1l2-2m29 2v2m-114-1h2m25 0l1 1m30-1v2m19-1h2m-63 1v2m188-2l2-2m-72 3l2 2m-16-1v2m29-2l1 1m-21 0v2m-136-1h1m67 0v1m14-1l2 2m126-2l2 2m-152-1l1-1m50 1l1 1m88-1l1-1m-203 2h2m174 0v2m-172-1v2m50-2l1 1m88-1l1 1m55-1v1m-190 0l1 1m22-1h2m148 0h2m-1 0l2 2m38-2h2m-217 1l1 1m136-1l1-1m-33 2v2m7-2v1m31-1l2 2m0-2h1m40 0v2m23-2h2m50 0h2m-262 1h1m27 0h1m30 0l2 2m41-2l1-1m38 1l2 2m31-2l1 1m-134 0l2 2m124-2h2m54 0v2m-187 0h1m94 1v2m67-2l2 2m48-2v1m-258 0v1m-1 0h2m25 0l1 1m125-1l2 2m23-2v2m32-2v2m-215-1v1m11 0v2m178-2l2 2m-118-1l1-1m15 1h2m-87 1h2m190 1h2m74 0v1m-208 1v2m142-2v2m-49-1l2 2m36-2h2m42 0h2m37 0l2-2m-289 3v2m62-2h2m88 1h1m46 0h2m-195 1l1 1m137 0l2 2m4-2v2m-62-1v1m196 2h1m-151 1h2m119 1l1-1m9 1v2m-264-1h1m-20 1h2m8 0h2m28 1h2m158 0v2m51-1l1 1m29-1v1m19-1l2 2m24-2l2 2m-323-1l2 2m40-2h1m23 0l1 1m101-1h2m58 0l2-2m-233 4h1m197 0h2m74 0h2m-265 1v1m181-1v1m129-1v2m-307 0v2m224-2v2m-259 0v1m17-1h2m3 0v2m7-2h1m101 0v2m152-2l2 2m-256-1l2 2m34-2v1m15-1h2m315 0l1-1m-385 3l2-2m12 2l2 2m-21-1l1-1m9 1h1m21 0h1m247 0v1m-276 0h2m7 0l2-2m-6 3l1 1m214-1h1m84 1v2m25-2l1 1m-342 0h2m16 1v2m-26-1h2m1 2l2 2m346-1h2m-43 1h1m68 0v1m-403 0v2m7-2l2-2m292 3l2 2m-273-1h1m14 0h2m232 0l1-1m-268 2l2-2m29 2h2m408 1l1 1m-337 0h2m259 0h1m-362 1l2 2m-1-2l2-2m4 2h1m-10 1h2m20 0l2 2m27-2v2m74-2h2m-133 1v1m12 0h2m353 0h2m76 0v2m-106-1h2m102 0l1 1m-13 0v2m-182 0l1 1m116-1l2-2m17 2h2m-18 1l2 2m47-2l2 2m-422-1h1m10 0v1m458 1v2m-435-1v1m447-1v2m-125 1h1m-358 1v1m400 0h2m59 1v2m7-2v1m-496 1v1m66-1h2m365 0l2-2m-411 4h2m437 0h2m42 0l1 1m-508 0l2 2m34-2h2m452 0v2m-335-1h2m-135 1h1m-21 1v2m8-1v1m264-1v2m-228-1l2 2m392-2v2m-443-1v1m7-1h1m471 0h1m-483 1h2m457 3v2m17-2v1m-488 0v1m480-1l2 2m-488-1h2m1 0v2m15-2v2m16-2v2m37-2l1-1m444 1h2m-2 1h1m-513 1h2m401 0l2 2m69-2v1m18 1l1-1m-507 2h2m520 0v2m38-1v1m-470 0h2m396 1l1 1m-492 0l2-2m48 3h1m497 0v1m2 2l1-1m-554 2v2m-5-1h2m545 0l2 2m-542 1h2m2 2l1 1m154-1l2 2m-175-1l1 1m531-1l1-1m-260 2h1m305 1v1m-12 0h2m-568 1l1-1m0 2v1m3-1l1-1m243 1h2m53 0l1 1m-117 0h1m371 1v2m-559 1l2 2m15-2h2m-25 1l2-2m584 3l1 1m-594 0h2m175 0h2m-164 1h2m585 1l2-2m-588 3h1m311 0l1-1m264 1l2 2m48-1v2m-4-1v2m-89 0l2 2m-544-1v2m10-2h1m3 1h2m-21 1v2m178-1h2m9 0h2m49 0l2-2m337 3l1-1m-378 3h1m31 0h1m291 0h2m-516 1l1-1m122 1v1m468-1h1m-591 2h1m593 0h2m0 0h2m-451 1h1m277 0l1-1m148 1l1-1m-273 3h1m4 0v2m-323-1v1m10-1h2m410 0v1m154-1v2m14-2v2m-407-1l2 2m395-2l1 1m-576 0v1m144-1h1m128 0h2m170 0h1m128 1h1m-589 1v2m26-2h2m185 1h1m-17 1l2-2m-196 3v2m618-2v1m-354 0v2m64-2l2-2m-198 3h1m189 2h2m39 0h2m-201 3v1m-161 0l2-2m206 3h2m77 0l2-2m-120 3v2m56-2l2-2m46 2h2m40 0h1m-120 1h2m94 3v1m342-1v1m-384 0l2-2m15 3l2 2m-258-1h2m139 0v1m-62 0h2m68 0h1m170 0v1m75-1h1m199 0l1 1m45 1l2-2m-470 3v1m147-1v1m42-1l1-1m1 5h2m-225 2l1 1m37 0h1m152 0v2m-319-1v2m-9-1h1m404 0v2m-233-1v1m201 1l2-2m40 3v2m226-2l2-2m-544 3h2m29 0h1m-42 2l2-2m-79 4h2m61 3v2m290-2l2 2m32-2v1m278-1h2m-520 3v1m-175 0v2m286-2l2-2m98 2h1m-239 2v1m255 0l2-2m-48 3l2 2m92-2v2m-92 3l2 2m-172-1h1m471 1h1m-648 2l2 2m193-2l2 2m21-1l2-2m434 2h2m-354 2h2m84 0h2m-15 2v2m88-2v2m-12-1h2m13 1h2m24 0l2 2m-41-1h2m187 1h1m-262 3v1m223 0l2 2m61-2l2 2m-667 1l2 2m209-2l2-2m231 3l2-2m-460 4v2m213-2l1 1m199 0h1m35 1h2m74 0l1 1m-508 0h2m5 0h2m174 0v2m72-1v1m-133 0l2-2m307 2v1m3-1h1m-313 1h1m536 0h2m-226 1l1-1m72 1l2 2m-326 3v2m249-2l1 1m242-1v1m-246 0l2 2m92-2h2m-388 2v2m-146-1l2-2m229 3l1-1m305 1h2m-541 1l1-1m273 1v2m456-2h2m-294 1v1m6-1v1m-446 0v2m6-2h2m429 0h1m105 0l2-2m1 2h2m-111 1v1m255-1h1m-255 1h2m103 0h1m-104 1h2m0 0v1m108-1v1m119 0v2m-369-1v2m-306-1h1m11 0l1-1m-2 2v1m10-1l1-1m538 1l1-1m-550 2l2-2m-4 3l1-1m434 1v1m-431 0h1m2 0h2m538 0v2m-552-1v1m304-1l1-1m257 1h2m-551 1h2m226 0v1m197-1v2m117-2v2m-451-1l1-1m337 2v2m-431 0v2m430-1h2m7 0v1m-455 0h2m331 0l1-1m2 1v1m6 0h2m229 0h2m6 0v2m-8-1l2-2m10 3v1m-262 0v1m131 0h2m-5 1l2-2m121 3l2-2m-243 4l2 2m8-2l2 2m234-2l1 1m-300 1h2m43 0v2m260-2v1m124 0v2m-702 0h1m575 0v2m6-2v2m92-2l1-1m-227 2h2m256 0l2-2m-258 3l1 1m125-1h1m2 1l1 1m-132 0l2-2m270 2h1m-403 1h2m128 0h2m246 0h2m-248 1l1 1m122-1l2-2m2 2v1m137-1l2 2m-273-1l1 1m6-1v2m4-2l2 2m15-2l2-2m-144 4v1m112-1l1 1m11-1v2m1-2h1m-7 2l2 2m0-2v2m7-2h1m-190 1h2m423 0v2m-237-1l2 2m129-2l1-1m-6 2v2m-528-1h2m530 1l2-2m-5 4l2-2m-313 3h1m6 0v1m186-1l2 2m2-2v2m-12-1l1 1m6 0v2m-195-1v2m190-2l1-1m251 1h2m-254 1h1m9 2h2m-9 1l2 2m218-2l1-1m17 1v1m-444 0v2m410-1l2 2m-404-1l2-2m324 2v2m-125-1h1m124 0l1 1m7 1v2m-6 1l1-1m-106 2v2m-475-1h2m649 0h1m-452 1h1m23 0v2m353-2v1m5-1h2m-122 1l2 2m122-2l2 2m-2-1h2m-109 1h2m232 0h2m-723 1h1m479 0l2-2m8 3h1m102 0v1m-358 0v2m246-2h1m224 0v1m-756 0l2-2m518 2h2m-449 1l1-1m469 1l1-1m-462 2v2m197-2l2 2m253-2l1 1m8-1v2m5-2v2m-491-1l2 2m477-2l2 2m6-2l2-2m-497 3l1 1m1-1l2-2m0 2l2 2m15-2l2-2m576 2v1m-573 0l1 1m-22 0l1-1m14 1h1m471 0h1m101 0l2 2m-602-1v1m14-1h2m181 0v1m-183 0v2m216-2l1-1m271 1l2 2m-497-1h1m1 0l1-1m0 1h2m14 0l2 2m199-2v1m-219 0h2m496 0v2m-491-1v2m-14-1l1-1m17 1h2m-1 1l1-1m490 1l2-2m-510 3v2m8-2v2m22-2l2 2m571-2h1m-583 1v1m489-1l1 1m-490 4h1m495 0l2 2m3-2l2 2m79-2l2 2m-602-1l1-1m15 1h2m-8 1h2m14 0l1 1m698-1v2m-213-1l1-1m87 2v1m-595 3l2 2m6-2v2m80-2v1m-100 2l2 2m607-1v1m5-1l1 1m-13 0l2-2m-1 5v2m-380 1h1m156 0v2m18-2v2m278-2l1-1m75 4l1-1m-683 4h1m454 2h2m-571 1l2 2m566-2l2 2m4-1l1 1m69 0v2m-516 5l2 2m617-2v1m-574 1v2m-116 0h1m347 0h1m230 3l1 1m7-1v2m-80-1l2 2m76-1v1m47 1l2-2m31 4h1m-345 3l1 1m-195 0l2 2m564-1v1m-689 1l2-2m216 3v1m350 0h1m136 2h2m36 0h1m-185 1h1m7 0l2 2m149-2l2-2m-209 3h1m214 1v2m7-2l2-2m-90 6h2m-140 2h1m20 1l2 2m35-2l2-2m-13 3l2 2m10-2v2m47-1h1m112 0l2-2m-76 3v1m87 0l2-2m-236 4h1m41 1h2m159 1h1m26 0v1m2 3l2-2m-348 7v1m-30 0h2m332 1l1 1m64-1l2-2m-215 3v1m-3 0l2 2m198-2v2m-18 0h2m19 1v2m-37-1l2 2m23-2h2m-195 2v2m0 0l1-1m187 1h2m-186 2l2-2m2 2v1m164-1l1 1m12-1h1m33 0l1 1m-220 0v1m-486 3l2-2m680 2l1 1m-14 0l1-1m-283 3h1m97 2v2m6-2h2m-327 4v2m324 3h1m67 2h2m-71 1h2m160 2h2m-55 1v2m-103 2h1m-10 1h2m158 0l2 2m-10-1l2-2m-83 7h2m-73 3l2 2m97-2v1m67-1l1 1m-158 2v1m148 0h1m-87 3v1m-45 2h1m-24 1v2m104-2h2m76 0h1m-183 1h2m5 0v2m111-1l1 1m-111 3h1m51 0v1m76-1h1m-124 2h2m145 4l2-2m-25 3l2-2m-116 3h2m-465 5v1m462-1h1m22 0v1m-28 0v1m3-1l1 1m20-1v2m-162-1v2m200-2v2m-590 0l1 1m140-1l2 2m390-2v2m-64-1v2m65-2l2-2m10 3h1m51 1l1-1m-1 6v2m-45 0l2 2m10 2h1" stroke="#2cb17e"/><path d="M378 38v2m-29 2l1 1m-3 8v2m1-2h1m25 2h1m-76 3h2m69 1h2m50 0v2m-96-1v1m10-1h1m7 1h1m4 0l2 2m114-2h1m-86 1l1 1m20 0h1m48 1l2-2m-36 4v2m41-2h2m17 0h1m-153 1h2m123 0l1-1m23 1h1m-110 1h1m71 1l2-2m-45 3v2m31-2h1m22 0v1m10-1v1m-154 0h1m63 0h2m55 0v2m-88-1v1m-43 0h2m67 0h1m-42 1h2m108 0v2m20-2v1m-59 0v2m2-2h2m-74 2v2m38-2l2-2m-75 4l1-1m46 1v2m85-2l2 2m-119 0l2-2m32 2v2m62-2v1m-97 0v2m148-2l1 1m33-1h2m-68 2h1m85 0v1m-122 1v1m152-1h2m-123 3h2m47 0l2 2m23-2v2m-136-1l2-2m42 2l2-2m-62 3l1 1m91 3l2 2m38-2v2m18-2l1 1m-65 0v2m18-2l1-1m9 1h1m-183 2l1-1m142 2h2m-140 1h1m199 0l1 1m17-1l1 1m-232 3h2m71 0h1m-77 1l1-1m198 1l2-2m-201 3h1m4 0h1m245 0h2m-252 2l2-2m304 3v1m-308 0v1m257-1l1-1m100 3v1m-56 1h1m-327 3l2 2m17-1l1-1m5 2h2m310 0l2 2m-23-1v2m99-1h2m-58 1l2-2m-363 4h2m39 0h2m28 2l2-2m-29 5l2 2m-42-1l1-1m-12 2v2m-1-1v1m60 1l1 1m-78 4v1m439 5l1-1m1 1v1m-47 2l2-2m52 5v2m-82 0v2m-349-1h2m418 0l2 2m7-2h2m-462 2l1 1m-18 1l2-2m457 2h1m-437 3l1-1m-36 2l1-1m10 2l2-2m440 2l1 1m-400 0h2m-60 1l2-2m534 2h2m-43 2v2m45-1h2m-537 1h2m46 5h2m451 1l2 2m42-2l2-2m-47 4l2-2m-449 4l2 2m-62-1h1m17 0v2m9 1v2m250-1h2m-266 1h1m130 0v2m323-2v2m-469-1l1-1m496 7l2-2m60 2l1-1m-544 2h2m-13 2h2m-33 1l2 2m1 0l2-2m-1 6v2m-16-1l2 2m274-2v2m309-1v2m-588 2v2m278-2h1m14 0v1m-281 0h2m17 1l2 2m267-2v1m23-1l1 1m-119 1v1m1-1l2-2m38 3v2m374-2l1-1m-587 2h2m559 0v1m-566 2l1-1m-15 3h2m223 0v2m362 0h1m-595 3h2m7 0h2m519 0h1m-223 2l2 2m-131 0h2m-184 1v2m158 1h1m-173 1l2-2m23 2v2m212 7v2m55 0v2m378-2h2m-331 2l1-1m-212 4v1m190-1h2m316 1h1m-479 3v1m19 0h1m-160 3h2m348 4v2m-124-1h2m-75 5h2m-48 2l2 2m293-1l2-2m-237 3h2m27 3v1m-68 2l2-2m139 2v1m-141 0h1m23 0l2-2m118 3l2-2m-92 5v1m511-1v1m0 9v1m-235 3l2-2m-2 4l2 2m-9 0l2 2m-459 0l1-1m456 1v1m27-1h2m0 0v1m14-1l1 1m-38 1l2 2m34-2l2 2m-50-1h2m52 1v1m11-1l1 1m-517 0v2m653-1h1m-209 1h1m5 2l1 1m-10 1v1m11 0v2m-485 5h2m718 0v1m-204 0h1m182 2h2m-447 2l1 1m315-1v1m-524 1v1m158-1v2m369-1l1-1m5 4l2-2m131 2v2m-677-1l2 2m438-2v2m228 0l2-2m-543 3v1m430-1h2m-124 1h2m1 0h1m112 1v1m-412 0h1m292 0l2 2m112 0v1m-309 0l1-1m-247 2l2 2m-3-1l2-2m8 6h2m676 0l2 2m-524-1v2m286-2v2m-4-1l2 2m-115 0v1m357-1l2 2m-137 1l2 2m23-1v1m-133 1v2m121-2v1m54-1v1m-176 2v2m125-2l2-2m148 4v2m-721-1v1m452 0v1m126-1h1m0 0l1-1m-36 2l2 2m-540 0v2m576-2l2-2m75 3v1m-345 1l1-1m-295 3v2m442-2v2m124-1v2m-7 1l2-2m13 7l1 1m116 0l1 1m-424 4l1-1m182 2v2m-313 0l2 2m307 0l2-2m234 2h2m-113 1l1-1m2 2v1m103 1v2m-701 2l2 2m597 0h2m96 0l2 2m-742 1h1m538 2h2m103 1v2m-571-1h1m464 0v1m11-1v1m-483 1l1 1m-7 0v2m489-2l2 2m-484-1l1-1m474 1l1-1m3 1v1m4-1l2 2m221-2l1 1m-499 3v2m-234-1l2 2m11-1v2m19-2v1m576-1h1m-588 1h2m584 0v2m89-2v1m-693 0v2m11-2l1-1m1 1h2m17 0l2 2m195-2h2m-191 1h1m563 0v1m-599 1h2m16 0l1-1m493 1l2 2m153-2h1m-686 1l1-1m28 1v2m0-1h2m2 0v1m500-1v2m-2 1h2m-412 1v2m-93-1l2 2m509-1l2 2m76-2h2m5 0v2m-582 0v2m500 0l2-2m78 3v2m-82 1l2 2m240-1v1m-763 9v2m595 0v2m-597 6v1m22-1v1m741 3v1m-719 4h1m477 4h2m-3 1l1 1m64 1v2m5-2l1 1m-4 0v2m-62 0h1m49 3h1m6 2l2 2m-111-1l1 1m-448 3v2m554 0h1m-392 4v2m543 0l2-2m-158 4v1m-6 0v1m-571 2l2-2m570 2l1 1m-51 2h2m223 11h2m-189 1l1-1m167 1l2 2m-202 2l2-2m33 3h2m-8 1h1m-487 2v2m486 3l2 2m-3-1v1m-61 1l1-1m63 3h2m-7 2h1m58 1h2m-57 1v1m3 3v2m155 1l2 2m-163 2l1-1m3 1h2m203 1l1-1m-733 7l2 2m708 3h1m-135 1v1m-39 0l2 2m154 0h2m-190 2v2m-283 1l1 1m456 0l1-1m-151 3v2m10-1h2m171 1l1-1m-24 3h1m-151 1l2-2m-4 3v2m2-1l2-2m127 2v2m-131 5h2m4 1h1m154 2h1m-64 1v2m43 2v1m5 1v1m-136 1v1m29-1v1m-23 3v1m-24 4h1m-312 4v1" stroke="#63cb5f"/><path d="M401 51l2-2m13 8v2m-57-1v1m-79 1l2-2m80 3h2m70 1h1m-112 1v2m54-1v2m-65 1l1-1m177 2h2m-179 1l2 2m10 0v1m83-1l2 2m-101 0h2m0 0h2m108 0v1m-1 0l1-1m14 2h2m-2 3v1m-30 3l2 2m74 0h2m-2 1l2-2m-204 4h1m105 0l1 1m101-1h1m-189 2l1 1m210-1v2m-131 0h2m145 0v1m-174 0h2m-89 7h1m200 2v2m-121 1h2m-109 9v2m18-2l2-2m-2 3v2m193 2l2-2m-232 7v1m365 0l1-1m-334 2h2m3 5h2m-42 3l2 2m421 3v2m27-1l1-1m-447 3l2-2m383 2l2-2m-362 4v2m-29 3v1m396 2v2m-17-1h2m-371 7h2m-60 1v1m6 0l1 1m-20 1h1m6 6l2 2m-22 6v2m537-2v1m-537 6h2m-6 1v1m23 1v1m513 0v2m-556 3v2m51 7v1m-49 4v2m7 1v1m335 9v1m254 4h2m-595 5l2-2m385 7v2m-217 5h2m105 5h1m-10 7h2m-270 5l2-2m124 9h1m-51 1h1m-4 9h2m-97 3v1m11 4v1m287 5h1m271 2l2-2m-323 5l1-1m253 4v1m-13 0l1 1m21-1h2m194 7v1m-502 3v2m-58-1h1m314 2v2m71-2l1-1m-73 2v1m-434 8l2 2m523-2h1m1 4l1-1m-102 2l1-1m107 2v2m-460-1v2m-83 1l2-2m537 3v1m-527 0h1m213 1l1-1m212 2h1m-4 3l1-1m239 2l2 2m-670 1h2m66 1l2 2m231 3v2m127-2v2m-113 1h2m-324 1v2m734-1l1-1m-174 2v2m14 4v2m89-1h2m-361 1h2m256 1h2m5 0h1m-131 3v1m-327 0l2 2m186-2h2m143 0h1m-149 2l1 1m146 0v2m261-2l2 2m-261 2v2m-134 2v1m266 0v1m4 6v2m-119 0l1 1m-1 0l2-2m124 5h2m87 0l2 2m-424-1h1m224 12l1 1m-457 0h1m453 0l2-2m261 3h2m-737 2l2 2m470-2l1 1m12 0l2 2m91-2h1m-587 1v1m13 0l1 1m485 4h2m95 1l2 2m-93 7v2m7-2l1 1m-522 1h1m733 2l1 1m-722 0v2m-9-1l2-2m594 8l2-2m-2 16l2 2m-3 0v2m1 1v2m-487 2v1m633 3v2m21 1v2m-240 0l2 2m245-2v2m-761-1v2m-21 8v2m59 7h2m469 4v2m197-2l1 1m-721 9h1m222 0l1 1m510 9h2m-171 11v1m-4 1l2-2m-5 5h2m-508 13h1m505 2h1m107 1v2m-723 1v1m763 0v2m-141 3h2m-610 1h1m609 18h2m-451 2h1m456 6l2-2m99 3l2-2m64 2h1m-166 1v1m2 6v2m110 0l2-2m-416 3v1m399 0h2m-91 4v2" stroke="#b0dd2f"/><path d="M354 50l2-2m73 4h1m-51 3l1-1m-89 6v2m53-2v2m77 2l2-2m-79 3h1m43 0v1m83 0l1-1m-109 3l2 2m9-1v1m62-1l2 2m-14-1h1m-36 6l2-2m36 6v1m-140 0v2m10-2v1m-20 0l2-2m226 3h2m-133 2l2 2m111-2l2-2m-207 4v2m146-2v2m18-1h1m36 0v2m66 0l2-2m-233 3h1m62 3v2m-112 0l1-1m46 6v2m-23 1h2m311 4h2m-369 2l1 1m15 1l1-1m-17 5l2 2m-6 1v2m377 0l2-2m-5 4l1-1m-375 2l2-2m215 3l2-2m-190 3v2m-53-1l1-1m10 3v1m0 0h1m-12 2h2m-5 1v1m-5 0l2-2m14 3h2m-16 1v1m10-1v2m-4 0l2 2m417 2l1-1m-123 10v1m-333 1l2 2m456-1h2m-413 1l2-2m407 6h2m-388 1l1 1m-79 0h2m-1 1l1 1m475-1h2m-441 4h1m469 0v2m-526 7v1m6 0h2m443 2h1m116 0h1m-585 3h1m24 0h2m-30 1h2m15 1h1m-19 2h2m-13 3h2m603 4v2m-588-1h2m-35 5l1-1m626 1h2m-46 4h1m-577 2h2m570 6l2-2m28 8h2m-600 1h2m206 8v1m114-1v2m-327-1v2m570-1v2m24 0h2m-217 9l2-2m-364 6v2m366-2h1m276 3l1-1m-364 6l1-1m-296 3v2m308-2l2-2m14 7v2m15 2v2m243-2h2m-315 6l2 2m-156 1h2m259 6l2-2m40 3v1m-174 5v1m222 7l1 1m-273 1h2m284 2v1m210 0v1m-205 1v1m22 0v2m2 0v1m-7 0h1m-43 1l2 2m-441 3h1m499 0v2m-61 3v2m78-1l1-1m-532 2l1-1m524 5h1m-520 2v2m528-1h2m-102 4v2m1 2v1m-424 0h1m531 1v2m-537-1l1-1m131 1l2-2m-136 3v1m442-1l1 1m-449 4l1 1m244-1v1m194-1l2 2m1 1l1-1m115 2h1m-246 1h2m123 2v2m135 0v1m-8 0v1m3 2l1-1m-272 4l2 2m30-2h2m240 0v2m-261 1v1m7-1v2m-27-1l1-1m287 3h2m-294 2v2m285 1h1m-120 1v2m0 3l1 1m125-1v1m-125 1v2m-177 1l1 1m182 0l1-1m120 3v2m-310 1h2m214 18v2m111-2h2m126 0v1m-133 2l2 2m-95 0h1m-486 1v1m472 0h1m-1 1h2m-471 1h2m233 1l2-2m232 2v2m4-1v2m-501-1h2m507 0h2m-482 1h2m-24 2v1m228-1l2-2m283 2v1m-508 1v2m12-2h1m487 0h1m-268 1l2-2m-217 3h1m-16 1l1-1m15 3l2 2m491-2l2 2m-498 1v2m492-2v2m2-1h2m84 0h1m-85 1v2m86-2l1-1m-594 5l1-1m506 2h1m3 1l1-1m80 12h1m-594 1l2-2m14 2l2 2m575 6v2m-80 3l1-1m71 2h1m9 6h2m-76 4l1-1m68 3v1m-10 2h2m1 4h2m-16 15v1m144 10h2m25 5h2m31 10l2 2m-226 12v2m5-1l2 2m-8-1h1m-2 1v2m185 0v2m-18 6l1-1m-166 7h1m146 0h2m-145 7v1m-5 3h2m178 2h1m-8 7v1m-171 2v1m-500 4l1 1m513-1h1m72 9h1m50 1l1-1m-55 14l2 2" stroke="#fde725"/><path d="M429 63l2-2m1 2h1m25 7v2m55-2h2m-177 1h2m-11 3l2 2m160-1l2-2m-143 9h2m157 8v1m44 1v2m-229 5l2-2m-67 3l2 2m261-2v1m-256 0l1 1m22-1v1m234 2h1m-48 1h1m69 0l2 2m45-1h2m-29 4v1m-285 3v1m5-1h1m325 4h2m-89 1v1m-12 2l1 1m68 0h2m-233 2h2m-36 3v1m277-1h2m52 1h1m-309 1l2 2m268-2l1-1m-23 7l1 1m-319 2l1-1m45 13v2m-108-1v2m46 4h2m339 3l2 2m93-2v1m-3 0h1m-96 2v2m48 2v1m-474 1v1m440 0v2m-447 0h1m431 10h2m102 1l1-1m-508 6h1m225 6l2-2m-25 5l2 2m328-1l1 1m-543 7v2m232-1v1m-93 0l2-2m369 5v1m-460 1l2 2m147 3l2 2m83 0l1 1m-224 2l1 1m298 11h2m-310 1h1m506 1v2m-293-1h2m332 4l2 2m-328-1l1 1m284 0l2 2m-510-1l2 2m153-2v1m-190 13l1 1m294-1l2-2m-28 3l2-2m19 7l2 2m-90 1h1m362 0h1m-674 2v2m400 4l2 2m-249-1l2-2m365 21v2m-509 6l2-2m452 21h1m271 3h2m-169 4v2m-532 2v2m-14-1l1-1m134 2v1m-162 1l1 1m578-1v2m-559 1v1m22 0h2m9 5h2m249 2h1m289 0v1m-254 0l2 2m362-1h1m-673 2h2m335 0h2m376 1l2-2m-728 6l2-2m297 3v1m384 0h2m-373 1l1-1m369 1l2-2m-229 5h1m-298 11v2m470 0v1m-32 2h2m-289 10l1-1m-207 4l2-2m-107 4l2-2m709 4v2m45 11v1m-154 0l2-2m-410 7l1 1m-59 2v1m96 0l2 2m-207 2l2-2m-1 5l2-2m-5 3l2 2m300-1h1m291 2h1m-42 9l2 2m-90-1l1-1m122 4v1m118 6h2m-59 5v1m-68 0l2 2m-502 13h1m-99 7h1m202 0h1m320 4l1-1m6 1l2 2m-526-1l2 2m-6-1h2m429 9h1m335 22v2m-388 9h2m340 4h1m-168 1v2m180 2h1m0 6l2-2m-64 4h1m82 0l2-2m-3 4v1m-761 0l2-2m182 3l2 2m219 7h2m321 1l2 2m22-1l2-2m-34 15v1m-148 7l2-2m99 10v2m4-2h2m-103 1l1 1m1 2v2m48 4h2m-7 2v2" stroke="#e9a15c"/></g>
<rect x="795.2" y="1595.3" width="463.6" height="323.5" fill="none" stroke="#000" stroke-width="1.7"/>
<line x1="795.2" y1="1918.8" x2="795.2" y2="1926.1" stroke="#000" stroke-width="1.7"/>
<text x="794.2" y="1947.2" font-size="18.6" text-anchor="middle">0</text>
<line x1="859.1" y1="1918.8" x2="859.1" y2="1926.1" stroke="#000" stroke-width="1.7"/>
<text x="858.1" y="1947.2" font-size="18.6" text-anchor="middle">1000</text>
<line x1="922.9" y1="1918.8" x2="922.9" y2="1926.1" stroke="#000" stroke-width="1.7"/>
<text x="921.9" y="1947.2" font-size="18.6" text-anchor="middle">2000</text>
<line x1="986.8" y1="1918.8" x2="986.8" y2="1926.1" stroke="#000" stroke-width="1.7"/>
<text x="985.8" y="1947.2" font-size="18.6" text-anchor="middle">3000</text>
<line x1="1050.7" y1="1918.8" x2="1050.7" y2="1926.1" stroke="#000" stroke-width="1.7"/>
<text x="1049.7" y="1947.2" font-size="18.6" text-anchor="middle">4000</text>
<line x1="1114.5" y1="1918.8" x2="1114.5" y2="1926.1" stroke="#000" stroke-width="1.7"/>
<text x="1113.5" y="1947.2" font-size="18.6" text-anchor="middle">5000</text>
<line x1="1178.4" y1="1918.8" x2="1178.4" y2="1926.1" stroke="#000" stroke-width="1.7"/>
<text x="1177.4" y="1947.2" font-size="18.6" text-anchor="middle">6000</text>
<line x1="1242.3" y1="1918.8" x2="1242.3" y2="1926.1" stroke="#000" stroke-width="1.7"/>
<text x="1241.3" y="1947.2" font-size="18.6" text-anchor="middle">7000</text>
<line x1="787.9" y1="1918.8" x2="795.2" y2="1918.8" stroke="#000" stroke-width="1.7"/>
<text x="780.8" y="1927.1" font-size="18.6" text-anchor="end">0</text>
<line x1="787.9" y1="1854.8" x2="795.2" y2="1854.8" stroke="#000" stroke-width="1.7"/>
<text x="780.8" y="1863.1" font-size="18.6" text-anchor="end">1000</text>
<line x1="787.9" y1="1790.8" x2="795.2" y2="1790.8" stroke="#000" stroke-width="1.7"/>
<text x="780.8" y="1799.1" font-size="18.6" text-anchor="end">2000</text>
<line x1="787.9" y1="1726.9" x2="795.2" y2="1726.9" stroke="#000" stroke-width="1.7"/>
<text x="780.8" y="1735.2" font-size="18.6" text-anchor="end">3000</text>
<line x1="787.9" y1="1662.9" x2="795.2" y2="1662.9" stroke="#000" stroke-width="1.7"/>
<text x="780.8" y="1671.2" font-size="18.6" text-anchor="end">4000</text>
<line x1="787.9" y1="1598.9" x2="795.2" y2="1598.9" stroke="#000" stroke-width="1.7"/>
<text x="780.8" y="1607.2" font-size="18.6" text-anchor="end">5000</text>
<text x="1025.5" y="1559.8" font-size="22.6" text-anchor="middle">Codeword: Dtnbp1-11516</text>
<text x="1025.5" y="1583.2" font-size="22.6" text-anchor="middle">(Dtnbp1-201/204/206)</text>
<text x="1026.0" y="1973.7" font-size="18.6" text-anchor="middle">X Position (µm)</text>
<text x="719.2" y="1757.0" font-size="18.6" text-anchor="middle" transform="rotate(-90 719.2 1757.0)">Y Position (µm)</text>
<linearGradient id="vg1" x1="0" y1="0" x2="0" y2="1"><stop offset="0.0000" stop-color="#fde725"/><stop offset="0.0625" stop-color="#d8e219"/><stop offset="0.1250" stop-color="#addc30"/><stop offset="0.1875" stop-color="#84d44b"/><stop offset="0.2500" stop-color="#5ec962"/><stop offset="0.3125" stop-color="#3fbc73"/><stop offset="0.3750" stop-color="#28ae80"/><stop offset="0.4375" stop-color="#1fa088"/><stop offset="0.5000" stop-color="#21918c"/><stop offset="0.5625" stop-color="#26828e"/><stop offset="0.6250" stop-color="#2c728e"/><stop offset="0.6875" stop-color="#33638d"/><stop offset="0.7500" stop-color="#3b528b"/><stop offset="0.8125" stop-color="#424086"/><stop offset="0.8750" stop-color="#472d7b"/><stop offset="0.9375" stop-color="#48186a"/><stop offset="1.0000" stop-color="#440154"/></linearGradient>
<rect x="1272.2" y="1595.3" width="22.6" height="323.5" fill="url(#vg1)" stroke="#000" stroke-width="1.5"/>
<line x1="1294.8" y1="1918.8" x2="1302.0" y2="1918.8" stroke="#000" stroke-width="1.7"/>
<text x="1308.4" y="1926.7" font-size="18.6">0.0</text>
<line x1="1294.8" y1="1878.4" x2="1302.0" y2="1878.4" stroke="#000" stroke-width="1.7"/>
<text x="1308.4" y="1886.3" font-size="18.6">0.5</text>
<line x1="1294.8" y1="1837.9" x2="1302.0" y2="1837.9" stroke="#000" stroke-width="1.7"/>
<text x="1308.4" y="1845.8" font-size="18.6">1.0</text>
<line x1="1294.8" y1="1797.5" x2="1302.0" y2="1797.5" stroke="#000" stroke-width="1.7"/>
<text x="1308.4" y="1805.4" font-size="18.6">1.5</text>
<line x1="1294.8" y1="1757.0" x2="1302.0" y2="1757.0" stroke="#000" stroke-width="1.7"/>
<text x="1308.4" y="1765.0" font-size="18.6">2.0</text>
<line x1="1294.8" y1="1716.6" x2="1302.0" y2="1716.6" stroke="#000" stroke-width="1.7"/>
<text x="1308.4" y="1724.5" font-size="18.6">2.5</text>
<line x1="1294.8" y1="1676.2" x2="1302.0" y2="1676.2" stroke="#000" stroke-width="1.7"/>
<text x="1308.4" y="1684.1" font-size="18.6">3.0</text>
<line x1="1294.8" y1="1635.7" x2="1302.0" y2="1635.7" stroke="#000" stroke-width="1.7"/>
<text x="1308.4" y="1643.6" font-size="18.6">3.5</text>
<line x1="1294.8" y1="1595.3" x2="1302.0" y2="1595.3" stroke="#000" stroke-width="1.7"/>
<text x="1308.4" y="1603.2" font-size="18.6">4.0</text>
<text x="1360.5" y="1757.0" font-size="18.6" text-anchor="middle" transform="rotate(-90 1360.5 1757.0)">Transcript count</text>
<rect x="1495.9" y="1595.3" width="463.6" height="323.5" fill="#440a5b"/>
<filter id="ha2" filterUnits="userSpaceOnUse" x="1495.9" y="1595.3" width="463.6" height="323.5" color-interpolation-filters="sRGB"><feGaussianBlur in="SourceGraphic" stdDeviation="3.0" result="d"/><feTurbulence type="fractalNoise" baseFrequency="0.62" numOctaves="2" seed="5" result="n"/><feColorMatrix in="n" type="matrix" values="1 0 0 0 0 1 0 0 0 0 1 0 0 0 0 0 0 0 0 1" result="g"/><feComponentTransfer in="g" result="a"><feFuncR type="table" tableValues="0 0 0 0 0 0 0 0 0.03 0.12 0.22 0.32 0.42 0.52 0.62 0.72 0.8 0.8 0.8 0.8 0.8"/><feFuncG type="table" tableValues="0 0 0 0 0 0 0 0 0.03 0.12 0.22 0.32 0.42 0.52 0.62 0.72 0.8 0.8 0.8 0.8 0.8"/><feFuncB type="table" tableValues="0 0 0 0 0 0 0 0 0.03 0.12 0.22 0.32 0.42 0.52 0.62 0.72 0.8 0.8 0.8 0.8 0.8"/></feComponentTransfer><feComposite in="a" in2="d" operator="arithmetic" k1="1.0" k2="0" k3="0" k4="0" result="v"/><feComponentTransfer in="v" result="c"><feFuncR type="table" tableValues="0.267 0.272 0.282 0.283 0.279 0.271 0.259 0.245 0.230 0.214 0.199 0.186 0.173 0.161 0.149 0.138 0.128 0.121 0.121 0.132 0.158 0.197 0.246 0.304 0.369 0.440 0.516 0.596 0.678 0.762 0.846 0.926 0.993"/><feFuncG type="table" tableValues="0.039 0.045 0.095 0.136 0.175 0.214 0.252 0.288 0.322 0.356 0.388 0.419 0.449 0.479 0.508 0.537 0.567 0.596 0.626 0.655 0.684 0.712 0.739 0.765 0.789 0.811 0.831 0.849 0.864 0.876 0.887 0.897 0.906"/><feFuncB type="table" tableValues="0.357 0.366 0.417 0.453 0.483 0.507 0.525 0.537 0.546 0.551 0.555 0.557 0.558 0.558 0.557 0.555 0.551 0.544 0.533 0.520 0.502 0.479 0.452 0.420 0.383 0.341 0.294 0.243 0.190 0.137 0.100 0.104 0.144"/><feFuncA type="linear" slope="0" intercept="1"/></feComponentTransfer></filter>
<g filter="url(#ha2)"><rect x="1495.9" y="1595.3" width="463.6" height="323.5" fill="#000"/><polyline points="1550.3,1697.4 1585.3,1697.4 1625.7,1681.2 1652.7,1669.1 1679.6,1674.5 1706.5,1682.6 1733.4,1690.7 1760.4,1698.7 1787.3,1706.8 1814.2,1720.3 1841.1,1739.1 1862.7,1760.7 1876.1,1784.9 1886.9,1811.8 1897.7,1838.8 1911.1,1859.0" fill="none" stroke="#fff" stroke-width="31.0" stroke-linecap="round" stroke-linejoin="round" opacity="0.4"/><polyline points="1631.1,1667.8 1663.4,1659.7 1695.7,1667.8" fill="none" stroke="#fff" stroke-width="32.3" stroke-linecap="round" stroke-linejoin="round" opacity="0.22"/><polygon points="1876.1,1805.1 1911.1,1799.7 1935.4,1832.0 1938.1,1872.4 1911.1,1888.6 1868.1,1894.0 1862.7,1859.0" fill="#fff" opacity="0.4"/><polygon points="1550.3,1788.9 1571.9,1788.9 1571.9,1821.3 1550.3,1821.3" fill="#fff" opacity="0.4"/><polygon points="1555.7,1702.8 1580.0,1697.4 1580.0,1778.2 1558.4,1778.2" fill="#fff" opacity="0.1"/></g>
<g transform="translate(1495.9 1595.3) scale(0.5)" fill="none" stroke-linecap="round" stroke-width="3.60"><path d="M252 82l2-2m67 5l2 2m-79-1v1m44 3l1-1m75 3h2m-34 7l2 2m26 0v2m4-2v1m-69 2v1m82 0v1m-58 0h1m33 0v2m77 0v2m-116-1l1 1m3-1l1 1m45 0h2m-58 3v1m19-1h2m79 0v2m-63-1v1m62-1v1m-73 1v2m51-2v1m-139 0h2m41 0l2 2m67-2v1m-18 0l1-1m-87 4h2m71 1l2 2m-41 0h2m146 1v1m-110 0v1m-43 0h1m148 1v1m87-1l1 1m-139 2l1 1m39-1h2m-57 1h1m-28 1v2m23-2v1m10 0v2m6-2h2m-136 2h1m24 1l1-1m231 1h2m-218 2h1m16 0v2m51-2h1m18 1l1-1m-121 2l1 1m139-1v1m11 0v2m-171-1h2m139 0v1m25-1l2-2m197 2h2m-333 1h1m150 0l1-1m10 1l1-1m-156 2v2m145-2v1m142-1l1 1m-162 0v1m-132 2v2m155-2v2m-63-1h2m41 0l1 1m-178 0v2m148-2v2m142-2h1m-240 1v2m65 0v1m113-1l1 1m-74 1h2m4 0v2m41-2h1m-94 1l1-1m73 1h2m-138 1h2m122 0h1m83 0v2m140 0l2 2m-367-1v1m89-1l2 2m15-2l1 1m42-1l2-2m105 2l2 2m-161-1v1m12-1h2m2 0v2m10-2h1m0 0h2m-20 1l2-2m-151 3l1 1m36-1l2 2m5-2l1-1m43 2l1 1m120-1h1m30 0v1m-160 0l1 1m24-1l1-1m47 1v1m271-1h1m-405 1l1 1m18-1h1m104 0l1-1m42 1v1m-285 1h1m44 0v1m138-1h1m33 0v2m-7-1v2m110-2h1m-103 1h1m88 0h1m-123 1v2m202-2l1-1m-358 2v1m259-1l1-1m13 1h2m92 0h1m-195 1l1-1m96 1l1 1m33-1l1 1m-54 0h2m28 0h1m15 0h1m-275 1v1m3-1h1m19 0v2m-39-1l2-2m-44 3h1m34 0v1m30-1v1m84-1h1m173 0v2m-110-1v2m150-2h2m-216 1h2m211 0v2m8-2l2-2m37 3h2m-391 1h2m238 0h2m77 0h1m-199 1h1m7 0l1 1m178-1l2 2m107-2l2-2m59 2h1m-164 1l2-2m10 2h1m-360 1h2m175 0h2m103 0l1 1m13 0l2-2m196 2l2-2m-91 3l1 1m-111 0l1 1m42-1h1m-347 1v2m14-2l1-1m130 1v2m23-2v2m304-2h2m-169 1l1 1m19-1l2-2m-1 2v2m47-2v1m22-1v1m-234 0v2m2-2l1 1m-82 0v1m191-1h1m69 0v2m-274-1v1m31-1v2m200-2h1m28 0l1 1m-276 0l1-1m8 1v2m33-2v2m312-2v2m65-2h2m-282 1l2 2m-201-1h1m508 0l2-2m-98 3v2m-390-1v1m347-1l1-1m3 1h2m-264 1h1m-54 1l2 2m118-2v1m275-1h2m33 0v2m-492 0v1m343-1h1m-345 2l1-1m38 1h1m495 0v1m116-1v1m-601 0l1 1m8-1h1m3 0h1m-28 1v2m448-2l1-1m-119 2v1m53-1v2m1-2l2 2m26-2h2m-350 1l2 2m367-2v2m-430-1v1m182-1l1 1m277-1l1-1m-386 2h1m243 0l2 2m-309-1h1m338 0l1-1m-358 4h1m-24 1h1m135 0v2m242-2h2m47 1v1m-384 0v2m-12-1h1m62 0l2 2m499-2v2m-46 0l2 2m-59 0h1m27 0l1 1m-499 0h1m29 0l2-2m361 2l1 1m101 1h1m19 0l2 2m-73-1h1m2 0h1m46 0l1 1m-460 0l2 2m532-2h1m-209 1v2m59-2v1m40-1h2m-433 1v1m461-1v1m46-1h1m-28 2v2m50-2v2m-469-1v2m359-2h1m121 1h2m-157 2h1m49 0l1 1m72 0l1 1m-502 0v1m38-1h1m318 0h1m92 0l2 2m-437 0h1m444 0v1m57-1h2m-110 1l1 1m-379 0v1m296-1v2m93-2v1m-458 0v1m476-1h1m35 1l2-2m-7 3l1-1m-460 2h2m12 0v2m-29-1h1m405 0v2m61-1h2m13 0l1-1m-3 3v1m59-1v1m-39 0l1 1m-21 0h2m78 0v1m-44 1h1m-57 1l1 1m54-1h2m-33 1v1m56-1v2m-95-1l1 1m46 0l1-1m62 4l2 2m-62-1v2m11-2l2-2m-10 3l2-2m-515 4l2-2m493 5h1m2 2v2m35-1v2m27-2h2m-10 3h2m12 0h1m-31 1v1m43-1h2m22 2h1m-579 5h1m551 0h1m67 0h2m-98 2h1m0 0v1m4 0h2m-26 6h1m28 7h1m-18 1v2m73-2l2-2m-3 13v2m-575 0h1m574 0v1m11-1v1m-39 3l2 2m2-1v1m-7 0h2m69 0h2m-139 4l2-2m69 5l1 1m39-1l1 1m-19 0v1m-36 1l2-2m-555 12h2m577 4v1m36 0l1 1m-21 0v1m26 0l1-1m-23 9h1m-19 3l2-2m38 4v2m5 2l2-2m6 6h1m-62 5l2 2m46-2h1m-28 1v2m48-1h1m1 2h1m-55 1h2m-10 10h2m27 0h2m17 1h2m36 2v2m-682-1h1m625 1v2m-647-1h2m19 3l2 2m653 0l2 2m-672 1l2-2m613 2l1-1m-628 3l1 1m1-1v2m675 0l2-2m-673 3h2m0 0l1 1m648-1l2 2m-655-1l1-1m0 2h2m698 0v2m-4-1l2 2m1-2l1 1m-691 2l2-2m615 2l2-2m-612 4l2-2m626 3h1m-651 2v2m13 0v2m670-2l1-1m-662 2l2-2m641 3h2m10 1v1m16-1v2m-682-1h2m2 1v1m8-1h1m649 0h2m4 0h1m-667 1h1m15 0l2-2m653 3v1m-30 0v2m10-2l2 2m54-2l2-2m-688 4v2m622-1h1m-652 2h2m716 0l2-2m-713 3h2m670 0v2m-632-1l1-1m702 2l2-2m-715 3l2 2m614-2l1 1m18-1v1m-686 0h2m33 0h1m699 4l2-2m-729 3l2 2m649-2h1m-623 1l1-1m673 1v2m-652-1h1m634 0v2m-4-1h2m48 0h2m-731 1l1 1m666-1v2m1-2h2m96 0l2-2m-736 3l1 1m627 0l2 2m16-2l2 2m58-2h2m-720 1h2m649 1h2m-15 1v1m7-1v2m30 0v2m-36 0v1m85 0l1-1m-40 4v2m-21 0h1m5 0h1m31 1l1 1m-37 0l2-2m8 2l2 2m29-2h2m-98 2h2m59 0h2m15 1v1m-49 0h2m103 0v1m-52 0l1-1m-59 2l2-2m45 2v1m-10 1v2m13-2v2m58 1l2-2m-86 5l2-2m25 3l2 2m-4-1l1-1m4 1v1m-29 0v2m8-2v2m19-2h1m5 1l2 2m25-1v1m-49 1l2 2m11-2l1 1m-34 0v2m44-2h2m0 0h2m14 0l1 1m12-1v2m-87 0l2-2m19 6v1m13-1h1m19 1l1 1m29-1v1m-92 0h2m6 0h2m-28 1v2m49 0h2m6 0v1m-9 0v1m-4 0v2m1-2h2m-17 2v2m-15 0h2m37 0l1-1m-9 2l2 2m-22-1l2-2m47 2v2m-8-1h1m28 5l1-1m-88 2h1m39 0l2 2m1-1h1m49 1v1m-24 4l2-2m-62 5h2m7 0h2m-25 1h2m85 1h2m18 0l2 2m13-2v1m-109 1l1-1m120 1l1 1m-62 0l2 2m1-2h2m-37 3l1 1m54-1v1m-111 0v1m91-1h1m19 0l2 2m-85-1l1 1m45 0v1m-55 0l2 2m17-1v1m19-1v2m32-2h2m50 0h1m-83 1v2m61-1h1m-88 1h2m42 1l2-2m-21 3l1 1m63-1h2m9 1v2m-60 4h1m43 0v1m-133 0v2m106-2v2m22-2l2 2m-29-1h1m-65 1l1-1m64 1h2m25 0l2 2m-28-1v2m49 0v1m-68 1v2m21-2l2-2m37 2h1m-47 2v1m63 3l2 2m-80-1l2 2m-8-1h2m20 0l2-2m-68 3v1m91-1l2 2m-47-1l2 2m6-2h1m15 2v2m-22-1v2m4-2l2-2m-82 4l2 2m101 0l1-1m-47 6l1-1m12 2h2m57 2l1-1m-87 2l2 2m15-2v1m3 6l2 2m-12 1l1 1m51 3l2-2m-60 3l2 2" stroke="#3a548c"/><path d="M289 87l2-2m163 2h1m-146 1v1m39 0v1m24 3v2m-68-1l1-1m-80 3l2 2m99 2v2m-18 1v2m82-2v1m51-1v2m-21 0v2m-29 3l1 1m65-1h2m-118 1h1m-17 3h2m3 0v2m5-2v1m-56 0v2m127 0l2 2m-98 0h1m-44 1l1 1m71-1l1-1m112 1l1-1m-81 2l2 2m-71-1v2m27-2h2m-67 1h1m100 0l1 1m-88 0l2-2m5 2h2m132 1h1m22 0l1 1m-170 0l2-2m18 3l1-1m5 1h2m-40 1l2 2m65-2l2-2m1 3v1m10 1l2 2m3-2l2-2m-70 3v1m19-1v1m54-1h2m42 0l2 2m-94 1h2m4 0h2m32 0v2m16-2l2-2m82 2h1m-116 1v2m14-2v1m-56 0h2m52 0l2 2m59-2l2-2m-131 3h2m78 0h2m42 0l1 1m-123 0v2m33-2l2 2m-64-1v1m63-1h2m55 0l1 1m7-1h2m73 0l2-2m26 2h2m-216 1h1m16 0l2 2m29-1v1m62-1l2 2m-39-1h2m-68 1v1m6-1l1 1m76-1v2m5-2v1m7-1v2m42-2h1m191 0h1m-223 1h2m-36 1h2m21 0l2-2m10 2v1m-111 0l1-1m105 1h2m5 0v2m-138-1h1m46 0v2m40-2l1 1m23-1v1m45-1v2m20-2h2m-172 1l2-2m32 2l2-2m109 2v2m27-2h2m-72 2h2m2 0h2m-85 1v1m28-1l2 2m79-2h1m-17 1h1m-88 1v2m142-2l2-2m-203 3l1 1m93-1h2m25 0v1m29-1h2m48 0h2m7 0l1 1m-178 0l1 1m138-1v1m3 0v1m-79 0l2-2m45 2l2 2m2-2h2m56 0l1 1m-116 0h1m107 0v2m-42-1l1 1m-184 0v1m171-1h2m4 1v1m-181 0l1 1m75-1h2m15 0v1m137-1h2m72 0l2 2m-379-1l2-2m37 2h2m257 0v2m-281-1v2m118-2h2m-21 1v1m69 0h2m104 0l2-2m49 2l2 2m-51-1h1m242 0v2m-121-1v2m-282-1v1m100-1l1-1m-195 2l1-1m21 1v1m53-1h2m92 0h2m90 0h1m88 0v2m-247-1v1m58-1v2m130-2h2m46 0l2-2m-362 3l2-2m149 2v1m41-1l2-2m59 2l2 2m3-2v1m-66 0v2m88-2v2m7-2l2 2m-327-1l2-2m101 2v1m60-1l1 1m47-1v2m34-2l1-1m83 1h1m14 0v2m-326-1v2m321-2l2-2m46 2l1 1m41-1v1m-223 0v1m71-1l1-1m147 1v1m-306 0h1m88 0l2-2m212 2l2 2m-272 0v2m1-2h1m-44 1h1m179 0l1 1m15-1h2m20 0l1 1m-236 0h1m342 0h2m58 0h1m-504 1v2m3-2h2m7 0v1m115-1v2m141-2h1m172 0v2m32-2l1 1m-217 0h2m226 0h1m0 0l2 2m-459-1v2m385-2l1-1m-202 2v1m122-1l2-2m61 2l1-1m-34 2l2 2m65-2l1 1m32-1h2m-374 1v1m353-1v2m-431-1h2m152 0v2m280-2h1m-120 1h1m67 0v1m-360 0l2-2m68 2v1m355-1h2m25 0h2m-423 1l1-1m80 1h2m142 0v2m22-2h2m4 0v2m120-2h1m36 2h2m-420 1h2m142 0v1m149-1l2 2m58-2h2m18 0l2 2m-375-1v2m-29-1h2m104 0h1m357 0l2 2m-324-1h2m345 0h2m-405 1l2 2m32-2l1-1m238 1l2 2m17-2v2m58-2h2m40 0h2m-456 1l1-1m343 1l1 1m-372 0v2m142-2h2m288 0l2 2m0-2v2m-467-1h2m30 0v2m71-2h1m354 0l1-1m-246 2l1-1m116 1l2-2m51 2h2m104 0h1m20 0h2m22 0l1 1m-360 0h2m174 0l2 2m77-2l2-2m49 3h2m-19 1h2m17 0l1-1m24 1v2m-498-1v2m14-2l1-1m154 1l1-1m297 1h2m-453 2h2m52 0l2-2m12 2h1m350 0l1-1m26 1v2m-102-1l2-2m104 2l1 1m36-1h1m-443 1v1m352-1l1 1m-55 0l1 1m-285 0h2m278 1l1 1m163-1l1-1m-138 2v2m103-2h2m107 1l1 1m-574 0h2m36 0h2m325 0l1-1m55 1h2m-85 1v1m-343 0h2m25 0h2m448 0v2m-445-1h1m395 0l1-1m7 1h1m144 0l2-2m-580 3l1 1m32-1l1-1m321 1l2 2m152-2h2m-59 1l2 2m43-2v1m146-1v2m-669-1h2m91 0h2m28 0h2m13 0l2 2m384-2l2 2m25-2v1m-468 0h2m28 0l2 2m324-2l2 2m47-2l2 2m-54 0l2 2m-410-1h2m89 0l2 2m-92-1l2-2m14 2h1m432 0h2m26 0h2m29 0l2 2m-102 0l2 2m105-2v2m-65-1v2m-425 0l2 2m48-2v1m386-1v2m-472-1v1m6-1v2m8-2v2m12-2l1-1m385 1h2m25 0v2m58-2h2m14 0l2 2m-438-1l2 2m-68-1l1-1m375 2v2m-304-1l1-1m402 2v1m32-1h1m50 0l1 1m-32 1l1 1m-478 0v2m443-2v2m-499-1h1m76 0h2m454 0h2m-532 1h2m454 0h2m60 0l1-1m-33 2v2m15-1h2m2 0l2 2m-13-1l2-2m-422 3v2m348-1v2m56-1v1m82-1l2 2m-103-1v2m95-2v2m-25 0h2m30 0l1-1m33 2h1m-45 1l2 2m33-2h2m31 0h2m-122 1v1m66 0h1m-39 1v1m4 0l1 1m-475 0v2m432-2v2m77-2h1m-7 2v1m-549 0h2m494 1h2m38 0v2m42-1v2m7 0l1 1m-120 0v2m126-2v1m-586 1l2 2m508-2h2m57 0l1 1m-54 0h1m64 0l1 1m-119 0h2m2 0l1-1m14 1h2m39 0l1-1m23 1v2m-553 2l1 1m504 2h2m31 0v1m103-1v2m-118 0v1m42-1v2m36 0h2m18 1v2m-67 0l1 1m-29 1v1m47-1l2-2m-52 4v1m-507 0v2m495-2v2m35-2l1 1m51 0h1m-33 1v1m57 0h2m-20 2h2m-67 2h2m-8 2l2 2m65 0v2m-26 1v1m45-1h2m0 1l2-2m-38 12v1m3-1h2m-11 3h2m12 1h1m31 1h1m47 1h1m8 0v2m-61-1h2m-65 1h2m43 0h2m8 1v1m-24 1h2m11 2l2-2m-15 6v2m31 0l2-2m2 3h1m2 1v2m-562-1v2m523-2l2-2m-16 8l2-2m68 3l1-1m-21 2v1m29 0h2m-37 1h1m42 1v2m-31 0l2-2m43 2l1 1m-90 4l2 2m52 2v1m-2 2v2m15-2l2 2m-48-1h2m49 1l1 1m-25 0l1-1m-10 2v2m47-1h2m-33 3l2-2m-628 3h2m594 0l1 1m81 4v1m-68 2h2m-5 1v2m-635 1h2m677 0h2m-647 1l1-1m645 1h1m42 0v1m-734 0l2-2m33 2h1m1 0v1m595 0h2m66 0l1-1m10 2l2 2m-687-1h1m16 1h2m614 0l2-2m7 2v2m-636-1v2m-17-1v2m5-2l1-1m642 2l2-2m27 2l2 2m-12-1l1 1m-634 0l2-2m-3 4v1m-10 0h2m17 0h2m594 2l1-1m-639 2v2m709-2l2-2m-35 3l2-2m-672 3v2m622-2l2-2m95 2h2m-31 1h2m-62 2h2m18 0v2m-639 0v2m10-1v1m470-1v1m188-1h2m-669 1v2m617-2v1m89-1h1m-727 1l1 1m686 0l1-1m-63 3h1m18 1v2m24-1l2-2m4 3v2m-33-1v2m33-2l2-2m30 2l2 2m-76-1v2m57 0h2m-700 1v2m10-2h2m688 0l2 2m-681-1v2m663-2h2m-687 1v1m742-1v1m-51 1l1-1m-662 2h2m639 0h1m22 0l1 1m-4 0h1m27 0h2m0 0v2m-687 0h2m609 0l2 2m30-2v1m-27 0v1m28-1l1-1m75 1h2m-67 1h1m12 0h2m47 0l2-2m-96 4h2m61 0v2m-712-1l2-2m660 2l1 1m0-1v2m2-2h2m-1 0h1m14 0v2m20-2h2m-684 1v2m637-2l1-1m6 1h2m7 1v1m47-1l1-1m-10 3l2 2m-62-1h2m32 0l1 1m-43 0l2-2m19 2v1m8 1l2 2m-18-1h1m14 0v2m15-2l2 2m33-2h2m30 0h1m6 0l1 1m-106 0l1 1m6-1h2m3 0v2m51-2l2 2m-34-1l2 2m48-2v1m-719 0v1m634-1v2m-618-1l2 2m699-2h2m-29 2l2 2m-36 1l1 1m25-1v1m35-1l1-1m-62 2h2m16 0h2m-48 2h1m69 0v2m33-2v1m-40 0h2m-38 1h1m65 1l2-2m40 3v2m-29 0l1 1m-93 0h1m13 0v1m62-1l2 2m-215-1v2m134-2h2m45 1l2 2m30-2h2m-57 2v1m12-1v1m64-1h1m-78 1l1-1m1 1v1m69-1l2 2m-237 0h2m144 0v1m85 0h2m-79 1l2 2m15-2v1m4-1v1m15-1l1 1m16-1l1-1m42 1h1m-79 1l2 2m2-2h2m8 0h2m1 1l1-1m-88 2v1m71-1l1 1m9-1v2m81-2h2m-99 2l1 1m7-1h1m-21 3l1-1m1 1h2m76 1v1m-18 0h1m-51 1l2-2m3 2l2 2m10-2l2-2m-24 4v1m13-1v1m6-1v2m-12-1h2m35 0l1 1m-85 0l1 1m37 1l1 1m4-1h2m57 0h2m7 0l1-1m-68 2h2m27 0h1m-71 3l1-1m112 4v1m5 0l2 2m-54-1h2m20 1h2m-67 1v2m36-1h1m-30 2v2m73-1v1m-28 1l1 1m58-1l2 2m-50-1h1m-88 1h2m4 1h2m70 0l1-1m-16 2v2m-3-1l2-2m34 2l2 2m-14-1h2m10 0l2-2m-28 3l2-2m9 4l1-1m25 1h2m-112 1l2 2m50-1l2-2m7 2v2m48-1l1-1m-36 2v1m46-1l2 2m-97-1v2m84-2v2m5-2h1m15 1v1m14-1l2 2m0-2l1 1m-75 0h2m2 0v2m6-1l2-2m-19 3h1m-69 1v2m10-2v2m66-2l1-1m2 2l1-1m2 1l1-1m-42 2h2m28 0v1m-22 0h1m-63 2h2m3 0v2m122-2l1 1m30-1l2 2m-103-1l1 1m-49 1h1m74 1l1 1m-8 1v1m48-1h2m26 0h1m-124 1v1m36-1l2-2m61 2v2m-52-1h2m21 0h2m-20 1h2m26 1v2m-102-1v1m40-1l1 1m1-1h2m75 0h1m-33 1h2m-18 1v2m67-2l2-2m-135 3v1m82-1h1m0 0h1m32 0v1m21-1v2m-85-1v2m17-2l2-2m60 2l2 2m-90-1v2m87-2l1 1m-3 0v2m-49-1v2m-57 0l2 2m74-2v2m54-2v2m-101-1h2m-41 1l1-1m67 1l2-2m-37 4l1-1m23 1h2m27 0h1m-59 1l2 2m8-2v2m0-1h1m26 0v1m7-1l2 2m3-1h1m-71 1v2m25-2v2m32 0v1m44 0h1m16 0l2 2m-104-1v1m39-1h2m39 2v2m-43 0l2 2m-78 0l1 1m11 1v2m57 1l2 2m-49 0h2m-24 2l2-2m84 3h2m-77 3l1 1m19-1l1 1m-1 1l2-2m2 3v2m26-2v1m-19 0l2-2m23 2h2m-13 1v2m24 7l2 2m-82-1l1 1m24 20h1m1 2h2" stroke="#31678e"/><path d="M291 59v2m45 23l1-1m-48 4h2m35 0l1-1m-11 16l1-1m4 5l1 1m4-1v1m-44 1h1m85 0l1-1m-91 2v1m73-1l1-1m-84 2h2m38 0h1m61 0h1m30 0v2m-31 1h2m-54 1v2m104-1l1 1m-120 0h1m16 0l1-1m100 1h1m-152 1l2-2m50 2l1 1m52-1v1m9-1l2 2m-44-1v2m53 0h2m-57 1v2m-75 2v1m7 0l2-2m293 2v2m-232-1v1m-33 0v2m21 2v2m-104-1v1m40-1h1m57 2v1m77-1h2m-109 1v2m46-1v2m10-1h2m-69 1h1m50 0v2m-28-1l2 2m139-2h2m-124 1h2m-4 1l2 2m244-2v2m-365-1v2m7-2v2m84-2v1m31-1v2m34-1v2m-58-1h2m71 0h2m-156 1l1 1m42-1v1m89-1l2-2m44 2l2-2m-1 2l1-1m-5 2l1 1m-112 0v1m20-1l1-1m107 1v2m28-2l2 2m31-2v2m-98-1l2 2m23-2h1m-17 1v2m20-2h2m8 1v1m-166 0h1m47 0v1m26-1h2m232 1v2m-336-1l2 2m81-2h1m14 1l2 2m-53-1h2m26 0v1m65-1h2m49 0v1m7-1l2 2m12-1h2m-260 1l2 2m183-2v2m17-2l1-1m49 1v2m-40-1h1m-37 2l1 1m8-1l1 1m4-1l2-2m-132 3v2m178-2h2m28 0h2m-261 1v1m7-1h2m107 0l2 2m80-2v2m7-2v2m29-2v1m-251 1v1m40-1v1m103-1v1m-19 0v1m56-1l1 1m6-1h1m16 1l2-2m105 2l1 1m-299 0v1m246-1v2m-183-1v2m53-2v2m105-2l1-1m-149 2v2m19-2l2 2m80-2l1-1m21 1h1m24 0h2m34 0h1m-102 1v1m9-1h1m25 0v2m161-2v1m-114 0v2m57-2l1 1m-303 0v2m31-2h1m85 1h1m-69 3l2 2m-145-1v2m274-1h2m-121 1v1m250-1v2m2-2l1-1m227 1v1m-551 0l2-2m30 2h1m18 0l2 2m139-2h2m59 0h2m-238 1l1-1m234 1v1m69-1v2m-359-1l1 1m389-1v1m14-1l1 1m-208 0v2m175-2h1m-354 1h2m184 0v2m-93-1h1m-42 2h2m208 0l1-1m-123 2v1m-14 0v2m-107-1v2m11-2l1-1m22 1v2m277-2l2-2m60 2h2m-61 1h2m-198 1h1m247 0l1-1m-337 2v2m21-2v2m53-2h2m-122 1v1m403 0v2m-322 0v2m32-1l1-1m206 1h1m57 1v2m-381 0h2m5 0h1m9 0v1m-43 0l2 2m17-2l2-2m24 2v2m281-1h1m26 0l2-2m-368 3v2m40-2h1m346 1h2m1 0v1m-44 0h1m-311 1h2m10 0v2m26-2v2m411-2l2-2m5 3l2-2m7 3v2m-404-1l1 1m313 0v2m55-2h2m-60 1v1m-406 0v1m476-1v2m-157-1v2m218-2h1m-534 1l2 2m475-2h2m21 1v2m-465-1v2m41-2h2m358 0v1m-52 1l2 2m12-2h2m-348 1h2m440 0v2m-472 0v2m75-2l2-2m367 2v1m8 0l1-1m-488 2v1m76-1h2m271 1v1m98-1h1m96 0v2m1-2h2m-441 2h1m394 0v2m-394-1l2 2m404-2l1-1m-13 2l2 2m14-2h2m-484 1v1m467-1h1m-70 2v2m26-2v2m114-2l2 2m10-2h1m-470 1v2m293-2l1-1m68 1h1m-421 2h2m-25 2l1 1m3 1l2 2m463-2v1m-493 0v2m482-2h2m-464 1l1-1m442 1v1m59-1h2m-499 2v2m589-2l1-1m-192 3l1 1m227 1h1m-558 1l2-2m493 2v2m-497 0l1-1m428 1h1m15 0h2m-54 1l2 2m65-2l1 1m-530 3v1m458-1h1m51 0h2m32 0l1 1m-91 0v1m-455 2v1m34 0h2m445 0h1m28 1h2m44 1l1-1m-23 3v1m3-1l1-1m-5 2h1m35 1v2m-545-1h1m509 0v1m25 0v2m-1 1v1m-22 0v2m-546-1l1-1m4 1l1-1m-10 4l1-1m23 1l2-2m545 3h1m4 4l1-1m-566 3l1-1m528 1h1m-510 2v1m529-1h2m24 2v2m-540 1l1 1m582-1h1m-86 4l2-2m41 3h1m-100 4v2m-489 0l2 2m462-2v2m3-1h2m188 0l1-1m-32 2v1m2-1v2m-173-1v1m11 0h1m191 0l1 1m-1 2h2m-661 1v1m590-1h1m26 1v2m-583 0l2-2m2 4h2m427 0h1m138 0l2-2m34 3h1m-15 1h1m-1 1h2m-180 2v2m139 0l2-2m40 4h2m-30 1h2m12 2l2-2m-167 4l1-1m-445 2l1-1m704 1l2-2m-59 6l2-2m0 5h2m-632 1v2m567-2l1 1m-575 1l2-2m430 3v1m229-1v2m-51-1h2m21 1l2-2m-644 4h1m651 1v2m-601 0l1-1m554 3h2m-5 1v2m-25-1h1m48 3l2-2m-637 4h1m449 1v1m-399 0h1m548 2l2 2m-157-1l1 1m-439 2l1 1m617-1h1m12 0l2-2m-634 3h1m-2 1v2m609 0l2-2m8 2l2-2m-17 4l2-2m38 3v2m-13-1v2m5-2l1 1m3-1h2m49 2v1m-68 1h1m44 0l1-1m-220 3l2 2m-4 0v1m12-1l2 2m208-1l2 2m-214-1l1-1m1 1l1 1m183 1v1m14-1h2m-57 1h2m46 0l1-1m-197 3l1 1m152 0v1m-581 1v1m5 1v2m629-2l1 1m1 0h2m-49 3l2-2m-136 6v1m-10 1h1m155 1l2 2m70-2h1m-713 1v2m491-2l2 2m184-1h2m-196 3v2m-476 0l2 2m657-2v1m-660 0h2m646 1l2 2m-632-1v1m619-1h2m11 1h2m30 0v2m-658 0v1m614-1l2-2m22 2l2-2m-626 3v1m460 1l2 2m133-2l1 1m39-1l2-2m-635 5h2m471 1v2m178-2l2 2m-653-1l2 2m647-2l2-2m33 2h2m-726 4h1m724 0l1-1m-70 3l2-2m31 2l2-2m-19 3h2m25 0l2-2m-1 2l1-1m-25 2l1-1m-647 2l1-1m643 1h2m26 0l1 1m6-1h2m-685 2v1m661 1l1 1m-2 1v2m-46-1h1m12 1v1m17 0l2 2m-27-1v2m56-2v2m16-1h2m-26 4l2 2m9 1h2m-19 1v2m63-2v1m-34 0v1m60 0h2m-39 1h1m-51 1v1m-20 0h1m-22 2v2m-134-1h2m130 0h2m23 1h1m14 0v1m38-1v1m8-1l2 2m-45-1h1m-16 5l2-2m-10 3v2m85-2v2m-30-1l2-2m-15 3v2m-46-1v1m25-1v2m15-1l2-2m6 2h1m10 0h1m20 0h2m-52 1v2m1-2l1-1m30 1l1-1m-40 2v1m31 0l2 2m-10-1v2m-43 0l1-1m4 2l1-1m16 1l1 1m89-1h2m-126 2h2m25 1h1m14 0l2-2m50 2h1m-66 3h2m35 0l2-2m55 2h1m-138 1h1m109 3h2m16 0v1m-84 0l2-2m-3 3v2m8-1l1 1m34 0l2-2m1 2l1 1m11-1v1m-27 0l2-2m65 2v2m-149 0l1 1m27 0v1m11-1l2 2m98-2l2 2m-116-1v1m47-1h2m-69 3v2m122-2v2m-96-1h2m112 0l1 1m-84 0h2m28 0v1m-22 0h1m2 1v1m39-1l2-2m-76 4l2-2m26 3h2m-12 3l2 2m15-2h2m37 0h2m-65 1h2m97 0l2 2m3-2v1m-126 0v1m95-1v1m26-1v2m1-1l2 2m-127-1h2m57 0l1 1m57-1h2m-71 1v1m7-1l2 2m29 0v2m36-2v2m-41 0l2 2m14-2l2-2m11 3v2m-38-1v1m57-1l1 1m-96 1v2m9 1h2m1 0h2m9 0l1-1m12 1v2m-36 1l1-1m6 1h2m75 1h1m-92 2v1m41 1h2m2 0h2m39 1l1 1m4-1v2m-81-1l1-1m-51 2l1-1m12 1v2m83-2h2m-60 1v2m32-2l2 2m52-2h2m-116 2v1m7-1l2-2m33 2h2m68 0h1m3 0v2m-62 0l2 2m68-2l1 1m-41 0v2m-85-1v2m55-2h2m1 2h2m-15 2h1m35 0l1-1m-21 2v2m-34-1l2 2m23-1v2m37-2l2-2m19 3l2 2m-70 4l2 2m11-2v1m-145 1v1m136-1v2m17-2h1m-155 1v1m162 0v1m34 0h1m-102 2l1-1m104 1l1-1m-193 2v2m192-1v1m-59 0l2-2m16 2v2m-71-1h2m50 0v2m40-1v2m-115-1h1m70 0h2m8 0h2m26 2v2m-31 1l1-1m52 2h1m-191 1h1m68 0v1m-61 1v2m68-2h1m84 5v1m-15 0h1m-85 1v1m42-1l1 1m39 0l2 2m2-2v1m-75 2v2m-25-1l1-1m62 5v1m-80 3h2m40 1h1m-29 2h2m42 0l1-1m-60 2v2m-5-1l2-2m15 3v1m32 0l1-1m-43 4v2m2-2l2 2m-4 3h2" stroke="#287d8e"/><path d="M359 72v2m-28 1h1m-18 22l2 2m34 2v2m-46 3l2 2m21 7l2-2m-65 5l2 2m120-1h2m3 1h1m-35 3v1m1 0v1m-30 1l1-1m-32 2v1m-46 1l2 2m28 1h2m-64 1v1m50 0h2m14 0l1 1m-65 0h2m51 0h2m21 0l2 2m50-2h1m8 1v2m-16-1v1m-48 0h2m45 0v2m-126-1v2m44-2v2m99-2l1 1m-45 0l1-1m79 1v1m-92 0l1-1m94 1v2m-187-1h2m-6 1v2m169-2l1-1m-143 2h1m68 0h2m-108 1h2m221 1l2 2m-230-1v1m63-1h1m-43 3h2m82 0h2m-94 1v2m24-2h1m55 1l2-2m-87 5v1m63 0v2m41-2v2m-119-1v1m121-1l2-2m130 4h2m51 0l2-2m-315 3h2m245 0l2 2m-227 1v1m-25 0l1-1m38 1l1-1m-46 2l2 2m229-2h1m175 0v2m-357 0v2m-56-1h2m14 0l1-1m9 1h2m176 0h2m-167 1v2m94-2l2 2m-144-1l2-2m342 2v1m-73 0l1 1m-272 0v2m200-1l2-2m-204 3h2m382 0v2m-382-1v1m236-1l2-2m140 2h1m-58 1v1m-186 0v2m219 0h2m17 2h2m-382 1v2m96-2l2 2m-126-1v1m273-1h2m84 0v2m-376-1l1 1m9 0h1m-15 1l2-2m479 2v1m-464 0l1-1m3 1h1m425 0v1m-442 0v1m2-1h2m3 1l2-2m124 2h2m254 0l1 1m-333 0l2 2m289 0h2m-281 1l1 1m419 0v2m-325 0v2m218-2l2 2m-299-1h2m-88 2l1 1m80-1v1m88-1h2m248 0l1 1m104 0l2 2m-549-1h2m35 0h1m370 0h2m-368 3l1-1m581 2l2 2m-206 3h1m-379 1l2 2m-13-1v1m512-1l2-2m-134 3v1m110-1v2m-192 0v1m171 1l2-2m-422 3l1 1m389 2h2m-428 1l1 1m2-1v2m-27-1h2m435 0l2 2m-421-1v2m7-1l2 2m404-2l1-1m45 1l1-1m-465 2v1m5-1l1 1m2-1l2-2m7 2h1m498 2l2 2m14-2h2m-39 1l1 1m-446 0v2m588-2v1m-623 0l1-1m-16 2l2 2m14-2v1m67-1l2 2m412-1v2m-430-1l2 2m445 0h1m-478 4v2m-25-1v2m-4 2h1m553 4h1m-554 1v1m5-1h1m71 0h1m394 0v2m8-2v2m-414-1l2 2m8 0h1m472 0l2 2m-569-1v2m64-2v1m-46 1h2m58 0h1m379 0l2 2m-440-1h1m3 0l1-1m-2 2v1m557-1h1m-573 1h2m8 0l1-1m631 1h1m-133 2v1m-502 2l2-2m521 2v1m94-1l1-1m-614 3h2m472 1h2m151 2v1m-631 0v2m560 3l2 2m14-1l2-2m-15 3l2 2m44-1h2m-616 1l2-2m8 3v1m-5 0h1m600 1h1m-602 2l2-2m547 4v2m2-2l2-2m-564 5v2m3-1v2m7-2h2m-12 3v2m633-2l2-2m-162 4h2m19 2v2m3-2v2m63-2h2m34 1h2m-549 2v1m576 0l2-2m-154 3h2m12 1h2m-491 1v2m5-2v2m467-1h1m-465 1l2-2m587 2v2m-27 1v1m-570 0h1m2 2v2m565 0v2m-107 0h2m188 1l2 2m-647-1h2m-9 2l2-2m450 2v2m7-1h2m166 0l2-2m-621 4h1m-6 1h2m452 0h2m122 0h2m26 1l1 1m-603 3l2 2m663-2h1m-35 2v1m-186 1l2 2m-443-1l1-1m443 2h1m184 0l1-1m-7 2v1m6 2v2m-627 0l1 1m438-1l1-1m189 1v2m-607-1l2 2m418-2l2-2m-452 3l1 1m4 2v2m2-2v1m446-1l1-1m-6 3l2 2m-1-1l2 2m1-1l1 1m156-1v2m-609-1h1m448 0h1m180 1l1-1m-21 2v2m-165 0h2m6 0l2-2m-446 4v2m-3 0h2m442 0l1-1m212 1l2-2m-665 3v2m1-1h2m9 0l1-1m646 3l1-1m-55 2v2m-593-1h1m448 0h2m-4 4h2m-2 6l1 1m157 0v2m46-1v1m-36 0h1m-161 2h2m223 1h2m-238 5h2m220 4h1m3 0v2m-220-1v2m6-2l2 2m4-2v1m169 0l1-1m10 1v1m-177 0v1m211-1l1 1m-661 2h2m-6 2l2-2m448 2v2m4-2l2-2m1 3l2 2m-3 0h1m-4 1h2m-459 1l2-2m451 3v1m13-1l1-1m2 1v2m1-1h1m7 0l1-1m-19 2l2 2m161-2l2 2m30-2v1m-173 1l1 1m-1 1h2m166 0h2m-170 1v2m-473 4l1-1m5 2v2m631-1l2 2m-640-1h2m644 2v1m42-1h1m-698 2v2m11 0h2m608 0v1m-609 1h2m637 0h2m-668 2l1-1m626 3h2m62 0v2m-691 1h2m504 3v2m147-1h1m-660 8l2-2m694 3v1m-692 0h2m685 0v1m8 1v1m8 0v2m-698 1h1m742 0v1m-58 0h1m19 4h2m18 1h1m9 1v2m-75-1l2 2m40-1l2-2m-43 5l1 1m-18 0v2m120-1h1m-39 2h2m-32 5v2m23 0v1m16-1h2m-52 1l2 2m30 2v1m28-1h1m-75 1v2m99-1h2m-48 1h1m-1 1l2-2m28 2v1m-84 1v2m-39 0l1 1m140 1v1m-8 2h2m-43 2l1 1m-24 0l2 2m71-1h2m-3 1v1m-124 0v2m46-2l1 1m40 1l2-2m40 7h2m-64 1h1m25 0l2 2m-12 0v2m-4-1h2m6 0l2-2m-78 3h1m92 0l1 1m17-1v1m6 0h1m-110 2l2 2m40-2v2m68-2v1m8-1v2m-114-1h1m10 2h1m10 2l2 2m76-2h2m1 2h2m-59 2h1m52 3h1m-145 1v2m93 0l2 2m32-2v1m-44 1v1m-57 0h1m6 0h1m115 1l1 1m-5 0v2m1-1h2m-7 1v2m2-2h2m-9 1l1 1m-65 1v1m5-1h1m-70 2v2m84-1v1m-94 1v1m38 6l1-1m99 1v2m-203-1v2m142 1v1m-132 0v1m-15 1v1m203-1h2m-199 3h1m-2 1l1 1m3 1v2m183-2l2-2m-186 5h1m120 0h1m58 0v1m8 1l2-2m-188 5v1m177 0h1m6 0v1m-176 0v1m-10 1h1m110 0l2 2m75-2v1m-57 2h1m39 1v1m-47 0h2m-122 1v2m83-1h1m65 0l1 1m0-1h1m4 0h1m-158 1h1m160 0v2m-155 0l2-2m100 2v1m-106 0l1-1m155 1h2m5 0v2m-157-1h2m47 0v2m88-2h2m-144 1h1m141 0v1m-131 1h2m92 0v2m6-2h2m16 0h1m11 0v1m-16 0h2m-3 2l2-2m15 2h1m-46 1h1m-6 2h2m-4 3l2 2m-34-1l2-2m52 2l2 2m-100 0l1 1m47-1l2-2m-24 4h2m24 0v2m-13-1v2m1-2l2-2m-6 4v1m4-1v1" stroke="#1f978b"/><path d="M455 95l1-1m-142 6h2m27 0v2m24 1l2-2m-47 4v1m-48 7v2m58 1h2m-22 2h1m-48 6v2m166 0h2m-67 4v1m-63 0h1m37 0h2m-118 2l2 2m58-1v2m134 0h2m-201 1v1m41-1h2m-57 2v1m11 1h2m141 2v2m23 3l2 2m-187-1l2-2m84 4l1-1m133 1v2m-18-1v2m-33 1v1m23-1h1m-106 1h1m192 1v2m-297-1l2-2m169 2h1m-174 2l2-2m196 2l1 1m-203 1l1 1m103-1v2m-19-1v2m18 0l2 2m48-2h1m-169 2h2m-36 1l2-2m483 2h2m-290 1v2m-38-1h1m-126 1l1 1m211-1v2m-258-1v1m263 1l1-1m58 1v1m-284 0h2m121 0h1m125 0h2m3 0l2 2m154-2v2m-376-1h2m3 0h1m-38 1l1 1m77 0l2 2m-18 0l2-2m-86 3l2-2m275 2h2m-177 1h1m-122 2l1-1m353 1l1 1m67 2v1m-55 0l2-2m-361 3h1m38 0v2m-53 0v1m42-1v2m3-2v1m315-1v1m-292 1l1 1m295-1h2m53 1l1 1m-376 0v2m17-2h2m323 3h2m-416 3v2m430 3v1m-16 1v2m-378-1l1 1m347-1h2m-325 3v1m15 1v2m45-2h2m246 5l2-2m98 5h2m127 0v1m-119 1v1m-435 2l1 1m502-1v1m-117 3v2m63-2v1m-7 1v2m-384 5h1m441 1v1m-499 1v2m87-2h1m-99 3l1-1m7 2h1m3 5l2 2m501-2l2 2m-31 1h2m48 7h2m-1 1v2m-19-1v1m40 0v1m-72 0v2m-492 3l1 1m582 2h2m-48 3l2 2m31 12l2 2m-566-1l1-1m0 1l2-2m-9 5v1m526-1v2m-527 0v1m473 1v2m0-1v1m-471 2h2m1 0v1m471 0v2m-18 2l1 1m13-1h2m-468 4l2-2m-5 6h2m1 1h1m451 0l1-1m174 1h2m-174 2v1m-462 0v2m459-1l1 1m2 1h2m-463 1v2m450-2h2m-6 1h2m-449 3l2-2m0 2l1-1m638 2h1m-190 1h2m-454 3l2-2m-3 3h2m597 1l1 1m31-1h1m-624 6h2m-10 2h1m451 2l2 2m-3 0l2-2m2 3l1-1m-444 4l2 2m619 0h2m-632 1v2m456 0v2m151 2l2 2m29 0v2m-623-1v1m66 0h1m548 0h2m-576 1l2-2m402 2l2 2m-10-1h1m210 2l1 1m-2 6h2m3 0l1 1m-4 2h2m-205 3h1m0 1h1m3 1v2m4 2h1m13 1h1m-435 1l1 1m422 1l2 2m209 2l2-2m29 6h2m-240 5v2m13 1h1m11 0v2m-479 1h1m714 0v2m-33-1h2m-690 4l2-2m649 4l2 2m20-1v1m-656 4h2m647 0v2m-657 4h1m9 0v1m710 1v2m-19 0h2m-32 1v1m31 3h1m-43 2v2m-654 3h2m626 1l2-2m32 2v2m-22-1l2-2m-6 3v2m1 0l1 1m-5 1v2m3 2h1m52 8h2m69 1h2m-98 2h2m68 0h2m-80 2h1m68 2h1m-38 7h2m-25 1h2m-56 4v1m66-1v1m47 1h2m20 2l2 2m-148 1h2m103 3v2m12 1l1 1m36 2v1m-10 6h1m7 2l2-2m-137 4l2 2m61 4v1m64-1v2m-116 0l2-2m77 3h1m40 3h1m-11 1l1 1m-21 0v2m-82 0l2-2m87 2h1m-1 8l1-1m9 2v2m-120 2l2 2m-22 1h1m89 0v2m56 1v2m2 0v1m-26 1h1m27 0h2m-3 2l2 2m-9 0l2 2m-129 2v2m130 4v2m-209 1l2-2m119 4l1 1m-45 3h1m-71 1v1m183 2h1m-180 1h2m165 0v2m-46-1l2-2m46 2v1m-2 2h2m-8 1l2-2m-161 5h1m156 2l2-2m2 2h2m2 0h1m-18 2v2m19-2h2m-51 1l2-2m-115 3v1m132 0v1m-15 1l2-2m-112 3h2m79 0l2 2m8 1l1 1m-94 2v1m78-1v2m-1-1v1m-72 0h1m71 0v2m-64-1h2m31 0h1m4 0l2 2m20-2v2m-50-1h2m25 0h1m-41 1v2m47-2h2m12 1v2m-63-1v2m3 0h1m21 0h2m-2 1h2m3 1h1m11 0l2 2" stroke="#2cb17e"/><path d="M322 95h2m-34 29h1m116 7l2 2m-96 1h1m31 2l1 1m-133 4h1m150 1l2 2m-165-1h1m-12 2v1m12 1l2 2m-6 0l2 2m-12 3v2m-3 1h1m13 2v2m186 0l2-2m40 8l1 1m-249 1v1m-17 1v2m17-1v2m-50 2h2m240 0l1-1m-233 3v2m-19-1h2m4 1h2m124 2h1m184 3v2m22-2l2 2m22 3v2m47 4l2 2m-352 0l2 2m265 5h2m-237 8l1-1m227 2h2m-267 1l1 1m-55 6v2m420 8v1m-416 0h1m3 10v2m-6-1v1m79 0l1 1m465-1h1m-552 2l1 1m9 1l2-2m-2 4v2m-5 1h2m546 11h2m56 2h2m-616 9h2m-3 12h2m-7 5l2-2m8 4h2m458 4v2m2 1l2-2m-467 6h1m-13 1v1m460 1h1m171 0l1-1m-161 4l1-1m-466 3v2m456 1h2m-9 3h2m-452 1v2m451 0h2m142 1v1m-151 0v1m160 8l2 2m-154 3v2m-1-1v1m2 21h1m-439 5h1m447 2v1m-461 0l2-2m454 5v1m8 2l1-1m212 6v1m-215 1v2m7 6h2m-463 3h2m466 7l2-2m236 4h2m-220 4h1m204 1v2m-61-1v2m14 1l1 1m61 4v1m-712 1h1m637 1l2 2m33 5h2m66 2h2m-722 3h2m650 4v1m24 1l1 1m-61 14h2m86 1l2-2m-27 20l1 1m66 9v1m0 5l1 1m9 6l2 2m-33 0v1m-76 2v1m29 6h1m-25 8h1m5 0l2 2m27 0l1-1m-38 16v1m94-1l2-2m0 2l2 2m-11 8v2m-107 11l1 1m71-1v1m32-1v1m-41 0l1-1m-159 4v1m199 3v1m-35 1l1 1m28 0v1m4-1h1m-199 4v2m179 9l2 2m-170 4v2m142 1h1m-10 1l2-2m-39 3v1m26 2h2m-120 3v1m73 2l2 2m-60 0h2m55 3v1m-52 1h1" stroke="#63cb5f"/><path d="M339 106v2m18 25l1 1m-132 2h1m193 2l1-1m-212 8h2m-9 4l1-1m-1 2v2m-10 8l2-2m-40 12v2m213-2l1-1m-222 10v2m104 0h2m-138 1h2m21 1h2m169 0h2m246 3l2 2m-462 0l1 1m22 4v1m-40 6l1-1m498 18h2m-453 23h2m-4 9h2m513 4v1m-451 0h2m-76 21v1m6 19h1m456 6v1m117 0l2 2m-587 1h2m444 15v1m-446 3v1m633 0v2m-184 6l2-2m4 12h1m-6 20v2m-441-1l2-2m645 3h1m-188 23l2 2m-4 4l2-2m8 7l1-1m251 26h2m-31 41h1m-22 31h2m87 9h2m-140 16l2-2m-16 24h1m26 0h1m76 3h2m-86 6h1m98 4h1m-169 12v2m0 4v1m80 3l2-2m100 2v2m4-2l1-1m-20 5h2m-40 4h1m-12 9l2-2m-98 3h1m76 4h1m-1 1h2" stroke="#b0dd2f"/><path d="M221 130l1 1m-2 1v1m7 4h1m-17 2v1m199 7h1m-198 1v1m-35 6v1m20 1l2 2m-18-1v1m121-1l1 1m-133 0l2-2m5 3l2-2m63 3h1m20 19v2m-160 3h2m6 0v2m366 4l1-1m28 1l1 1m-395 23v1m537 9h2m-530 2l2-2m-1 13v1m4 0v2m-11 2h1m6 2v2m-8 6v1m488 5h2m-487 4l2-2m0 2v2m2 8v1m-13 11l1-1m8 12l2 2m483-2v1m66-1l2 2m-68-1l2 2m-12-1v2m-477-1v2m491-2h2m-23 2l1-1m-23 6h2m13 2v1m-17 6l2 2m171-1h2m-625 4h2m-3 3v1m5-1l1 1m448 0l2 2m-10-1v1m198 6v2m-648 4l1 1m3 1l2-2m-8 4h1m1 2h1m442 0v2m16-1v1m-455 4l2 2m11 1l1 1m439 4v2m190 9l2-2m-188 15v2m-422 2l2 2m442 7v2m-4 0l1-1m240 26v2m25 18l1 1m-722 3v2m698 6h2m-78 30h1m136 7h2m-90 3h1m88 5h2m-7 2l2 2m-4 6h1m2 15h2m19 1h1m-30 10l1 1m5-1v1m-4 18v1m-210 3v1m159 17v1m36 6l1-1m-65 8h2m-110 3l1-1m113 3h2m-82 3l2 2m65-2v2m-20 3h1m-67 3l2 2m8-1h2m13 0h1m27 0h2m-34 3h2m-1 0l1 1m-26 1l1 1m22 2h2" stroke="#fde725"/><path d="M483 121h1m-111 3h2m-50 1v1m51 13v2m-69 7v2m-38 14l2-2m77 3l1 1m-163 8v2m318 14v2m-235 3l2 2m247 6l1-1m-126 2l1 1m-269 13h2m5 7h2m447 0v1m77 1l1 1m-522 33h2m477 2h2m91 6l2 2m-18 3l1 1m29 51v2m-164 9l1 1m1 29l2 2m217 52h1m42 10v1m-686 3l2 2m655 5v2m77 10h1m-100 1h1m108 32l1-1m-70 6v2m-65 17l2 2m49 5v1m67 2v2m-6 19h1m10 3v2" stroke="#e9a15c"/></g>
<rect x="1495.9" y="1595.3" width="463.6" height="323.5" fill="none" stroke="#000" stroke-width="1.7"/>
<line x1="1495.9" y1="1918.8" x2="1495.9" y2="1926.1" stroke="#000" stroke-width="1.7"/>
<text x="1494.9" y="1947.2" font-size="18.6" text-anchor="middle">0</text>
<line x1="1559.8" y1="1918.8" x2="1559.8" y2="1926.1" stroke="#000" stroke-width="1.7"/>
<text x="1558.8" y="1947.2" font-size="18.6" text-anchor="middle">1000</text>
<line x1="1623.6" y1="1918.8" x2="1623.6" y2="1926.1" stroke="#000" stroke-width="1.7"/>
<text x="1622.6" y="1947.2" font-size="18.6" text-anchor="middle">2000</text>
<line x1="1687.5" y1="1918.8" x2="1687.5" y2="1926.1" stroke="#000" stroke-width="1.7"/>
<text x="1686.5" y="1947.2" font-size="18.6" text-anchor="middle">3000</text>
<line x1="1751.4" y1="1918.8" x2="1751.4" y2="1926.1" stroke="#000" stroke-width="1.7"/>
<text x="1750.4" y="1947.2" font-size="18.6" text-anchor="middle">4000</text>
<line x1="1815.2" y1="1918.8" x2="1815.2" y2="1926.1" stroke="#000" stroke-width="1.7"/>
<text x="1814.2" y="1947.2" font-size="18.6" text-anchor="middle">5000</text>
<line x1="1879.1" y1="1918.8" x2="1879.1" y2="1926.1" stroke="#000" stroke-width="1.7"/>
<text x="1878.1" y="1947.2" font-size="18.6" text-anchor="middle">6000</text>
<line x1="1943.0" y1="1918.8" x2="1943.0" y2="1926.1" stroke="#000" stroke-width="1.7"/>
<text x="1942.0" y="1947.2" font-size="18.6" text-anchor="middle">7000</text>
<line x1="1488.6" y1="1918.8" x2="1495.9" y2="1918.8" stroke="#000" stroke-width="1.7"/>
<text x="1481.5" y="1927.1" font-size="18.6" text-anchor="end">0</text>
<line x1="1488.6" y1="1854.8" x2="1495.9" y2="1854.8" stroke="#000" stroke-width="1.7"/>
<text x="1481.5" y="1863.1" font-size="18.6" text-anchor="end">1000</text>
<line x1="1488.6" y1="1790.8" x2="1495.9" y2="1790.8" stroke="#000" stroke-width="1.7"/>
<text x="1481.5" y="1799.1" font-size="18.6" text-anchor="end">2000</text>
<line x1="1488.6" y1="1726.9" x2="1495.9" y2="1726.9" stroke="#000" stroke-width="1.7"/>
<text x="1481.5" y="1735.2" font-size="18.6" text-anchor="end">3000</text>
<line x1="1488.6" y1="1662.9" x2="1495.9" y2="1662.9" stroke="#000" stroke-width="1.7"/>
<text x="1481.5" y="1671.2" font-size="18.6" text-anchor="end">4000</text>
<line x1="1488.6" y1="1598.9" x2="1495.9" y2="1598.9" stroke="#000" stroke-width="1.7"/>
<text x="1481.5" y="1607.2" font-size="18.6" text-anchor="end">5000</text>
<text x="1726.2" y="1559.8" font-size="22.6" text-anchor="middle">Cluster 2 (excitatory neuron)</text>
<text x="1726.2" y="1583.2" font-size="22.6" text-anchor="middle">(5790 cells, 4901 bins)</text>
<text x="1726.7" y="1973.7" font-size="18.6" text-anchor="middle">X Position (µm)</text>
<text x="1419.9" y="1757.0" font-size="18.6" text-anchor="middle" transform="rotate(-90 1419.9 1757.0)">Y Position (µm)</text>
<linearGradient id="vg2" x1="0" y1="0" x2="0" y2="1"><stop offset="0.0000" stop-color="#fde725"/><stop offset="0.0625" stop-color="#d8e219"/><stop offset="0.1250" stop-color="#addc30"/><stop offset="0.1875" stop-color="#84d44b"/><stop offset="0.2500" stop-color="#5ec962"/><stop offset="0.3125" stop-color="#3fbc73"/><stop offset="0.3750" stop-color="#28ae80"/><stop offset="0.4375" stop-color="#1fa088"/><stop offset="0.5000" stop-color="#21918c"/><stop offset="0.5625" stop-color="#26828e"/><stop offset="0.6250" stop-color="#2c728e"/><stop offset="0.6875" stop-color="#33638d"/><stop offset="0.7500" stop-color="#3b528b"/><stop offset="0.8125" stop-color="#424086"/><stop offset="0.8750" stop-color="#472d7b"/><stop offset="0.9375" stop-color="#48186a"/><stop offset="1.0000" stop-color="#440154"/></linearGradient>
<rect x="1972.9" y="1595.3" width="22.6" height="323.5" fill="url(#vg2)" stroke="#000" stroke-width="1.5"/>
<line x1="1995.5" y1="1918.8" x2="2002.7" y2="1918.8" stroke="#000" stroke-width="1.7"/>
<text x="2009.1" y="1926.7" font-size="18.6">0.00</text>
<line x1="1995.5" y1="1878.4" x2="2002.7" y2="1878.4" stroke="#000" stroke-width="1.7"/>
<text x="2009.1" y="1886.3" font-size="18.6">0.25</text>
<line x1="1995.5" y1="1837.9" x2="2002.7" y2="1837.9" stroke="#000" stroke-width="1.7"/>
<text x="2009.1" y="1845.8" font-size="18.6">0.50</text>
<line x1="1995.5" y1="1797.5" x2="2002.7" y2="1797.5" stroke="#000" stroke-width="1.7"/>
<text x="2009.1" y="1805.4" font-size="18.6">0.75</text>
<line x1="1995.5" y1="1757.0" x2="2002.7" y2="1757.0" stroke="#000" stroke-width="1.7"/>
<text x="2009.1" y="1765.0" font-size="18.6">1.00</text>
<line x1="1995.5" y1="1716.6" x2="2002.7" y2="1716.6" stroke="#000" stroke-width="1.7"/>
<text x="2009.1" y="1724.5" font-size="18.6">1.25</text>
<line x1="1995.5" y1="1676.2" x2="2002.7" y2="1676.2" stroke="#000" stroke-width="1.7"/>
<text x="2009.1" y="1684.1" font-size="18.6">1.50</text>
<line x1="1995.5" y1="1635.7" x2="2002.7" y2="1635.7" stroke="#000" stroke-width="1.7"/>
<text x="2009.1" y="1643.6" font-size="18.6">1.75</text>
<line x1="1995.5" y1="1595.3" x2="2002.7" y2="1595.3" stroke="#000" stroke-width="1.7"/>
<text x="2009.1" y="1603.2" font-size="18.6">2.00</text>
<text x="2072.5" y="1757.0" font-size="18.6" text-anchor="middle" transform="rotate(-90 2072.5 1757.0)">Cell count</text></g>
<g id="panel_d"><line x1="185.4" y1="2033.5" x2="185.4" y2="2407.3" stroke="#e9e9e9" stroke-width="1.5"/>
<line x1="270.7" y1="2033.5" x2="270.7" y2="2407.3" stroke="#e9e9e9" stroke-width="1.5"/>
<line x1="355.9" y1="2033.5" x2="355.9" y2="2407.3" stroke="#e9e9e9" stroke-width="1.5"/>
<line x1="441.1" y1="2033.5" x2="441.1" y2="2407.3" stroke="#e9e9e9" stroke-width="1.5"/>
<line x1="526.3" y1="2033.5" x2="526.3" y2="2407.3" stroke="#e9e9e9" stroke-width="1.5"/>
<line x1="611.5" y1="2033.5" x2="611.5" y2="2407.3" stroke="#e9e9e9" stroke-width="1.5"/>
<line x1="696.8" y1="2033.5" x2="696.8" y2="2407.3" stroke="#e9e9e9" stroke-width="1.5"/>
<line x1="100.5" y1="2389.5" x2="781.9" y2="2389.5" stroke="#e9e9e9" stroke-width="1.5"/>
<line x1="100.5" y1="2332.9" x2="781.9" y2="2332.9" stroke="#e9e9e9" stroke-width="1.5"/>
<line x1="100.5" y1="2276.4" x2="781.9" y2="2276.4" stroke="#e9e9e9" stroke-width="1.5"/>
<line x1="100.5" y1="2219.8" x2="781.9" y2="2219.8" stroke="#e9e9e9" stroke-width="1.5"/>
<line x1="100.5" y1="2163.3" x2="781.9" y2="2163.3" stroke="#e9e9e9" stroke-width="1.5"/>
<line x1="100.5" y1="2106.8" x2="781.9" y2="2106.8" stroke="#e9e9e9" stroke-width="1.5"/>
<line x1="100.5" y1="2050.2" x2="781.9" y2="2050.2" stroke="#e9e9e9" stroke-width="1.5"/>
<line x1="355.9" y1="2407.3" x2="355.9" y2="2033.5" stroke="#5a5a5a" stroke-width="2.5" stroke-dasharray="10.2 5.1"/>
<line x1="526.3" y1="2407.3" x2="526.3" y2="2033.5" stroke="#5a5a5a" stroke-width="2.5" stroke-dasharray="10.2 5.1"/>
<line x1="100.5" y1="2374.9" x2="781.9" y2="2374.9" stroke="#5a5a5a" stroke-width="2.5" stroke-dasharray="10.2 5.1"/>
<path d="M380.9 2380.3L382.0 2380.5L383.0 2380.8L384.0 2381.0L385.0 2381.3L386.0 2381.5L387.1 2381.8L388.1 2382.0L389.1 2382.3L390.1 2382.5L391.2 2382.7L392.2 2382.9L393.2 2383.1L394.2 2383.4L395.2 2383.6L396.3 2383.8L397.3 2384.0L398.3 2384.2L399.3 2384.3L400.4 2384.5L401.4 2384.7L402.4 2384.9L403.4 2385.0L404.5 2385.2L405.5 2385.4L406.5 2385.5L407.5 2385.7L408.5 2385.8L409.6 2386.0L410.6 2386.1L411.6 2386.2L412.6 2386.4L413.7 2386.5L414.7 2386.6L415.7 2386.7L416.7 2386.8L417.7 2387.0L418.8 2387.1L419.8 2387.2L420.8 2387.2L421.8 2387.3L422.9 2387.4L423.9 2387.5L424.9 2387.6L425.9 2387.6L427.0 2387.7L428.0 2387.8L429.0 2387.8L430.0 2387.9L431.0 2387.9L432.1 2388.0L433.1 2388.0L434.1 2388.0L435.1 2388.1L436.2 2388.1L437.2 2388.1L438.2 2388.1L439.2 2388.1L440.2 2388.1L441.3 2388.1L442.3 2388.1L443.3 2388.1L444.3 2388.1L445.4 2388.1L446.4 2388.1L447.4 2388.1L448.4 2388.0L449.5 2388.0L450.5 2387.9L451.5 2387.9L452.5 2387.9L453.5 2387.8L454.6 2387.7L455.6 2387.7L456.6 2387.6L457.6 2387.5L458.7 2387.5L459.7 2387.4L460.7 2387.3L461.7 2387.2L462.7 2387.1L463.8 2387.0L464.8 2386.9L465.8 2386.8L466.8 2386.6L467.9 2386.5L468.9 2386.4L469.9 2386.3L470.9 2386.1L472.0 2386.0L473.0 2385.8L474.0 2385.7L475.0 2385.5L476.0 2385.3L477.1 2385.2L478.1 2385.0L479.1 2384.8L480.1 2384.6L481.2 2384.4L482.2 2384.3L483.2 2384.0L484.2 2383.8L485.2 2383.6L486.3 2383.4L487.3 2383.2L488.3 2383.0L489.3 2382.7L490.4 2382.5L491.4 2382.2L492.4 2382.0L493.4 2381.7L494.5 2381.5L495.5 2381.2L496.5 2380.9L497.5 2380.6L498.5 2380.4L499.6 2380.1L500.6 2379.8L501.6 2379.5L502.6 2379.2L503.7 2378.9L504.7 2378.5L505.7 2378.2L506.7 2377.9L507.7 2377.5L508.8 2377.2L509.8 2376.9L510.8 2376.5L511.8 2376.1L512.9 2375.8L513.9 2375.4L514.9 2375.0L515.9 2374.6L517.0 2374.3L518.0 2373.9L519.0 2373.5L520.0 2373.1L521.0 2372.6L522.1 2372.2L523.1 2371.8L524.1 2371.4L525.1 2370.9L526.2 2370.5" fill="none" stroke="#808080" stroke-width="9.6" stroke-linecap="round" stroke-linejoin="round"/>
<circle cx="364.8" cy="2376.0" r="4.3" fill="rgba(128,128,128,0.7)" stroke="rgba(110,110,110,0.7)" stroke-width="1.2"/>
<path d="M526.3 2370.4L527.3 2369.9L528.4 2369.5L529.4 2369.0L530.4 2368.6L531.4 2368.1L532.5 2367.6L533.5 2367.1L534.5 2366.6L535.5 2366.1L536.6 2365.6L537.6 2365.1L538.6 2364.6L539.6 2364.0L540.6 2363.5L541.7 2363.0L542.7 2362.4L543.7 2361.9L544.7 2361.3L545.8 2360.7L546.8 2360.2L547.8 2359.6L548.8 2359.0L549.8 2358.4L550.9 2357.8L551.9 2357.2L552.9 2356.6L553.9 2356.0L555.0 2355.3L556.0 2354.7L557.0 2354.1L558.0 2353.4L559.1 2352.8L560.1 2352.1L561.1 2351.4L562.1 2350.8L563.1 2350.1L564.2 2349.4L565.2 2348.7L566.2 2348.0L567.2 2347.3L568.3 2346.6L569.3 2345.8L570.3 2345.1L571.3 2344.4L572.3 2343.6L573.4 2342.9L574.4 2342.1L575.4 2341.3L576.4 2340.6L577.5 2339.8L578.5 2339.0L579.5 2338.2L580.5 2337.4L581.6 2336.6L582.6 2335.8L583.6 2335.0L584.6 2334.1L585.6 2333.3L586.7 2332.4L587.7 2331.6L588.7 2330.7L589.7 2329.9L590.8 2329.0L591.8 2328.1L592.8 2327.2L593.8 2326.3L594.8 2325.4L595.9 2324.5L596.9 2323.6L597.9 2322.6L598.9 2321.7L600.0 2320.8L601.0 2319.8L602.0 2318.9L603.0 2317.9L604.1 2316.9L605.1 2315.9" fill="none" stroke="#f5231c" stroke-width="9.6" stroke-linecap="round" stroke-linejoin="round"/>
<circle cx="609.5" cy="2311.7" r="4.3" fill="rgba(255,10,20,0.72)" stroke="rgba(215,20,40,0.75)" stroke-width="1.2"/>
<circle cx="613.5" cy="2307.5" r="4.3" fill="rgba(255,10,20,0.72)" stroke="rgba(215,20,40,0.75)" stroke-width="1.2"/>
<circle cx="619.5" cy="2300.5" r="4.3" fill="rgba(255,10,20,0.72)" stroke="rgba(215,20,40,0.75)" stroke-width="1.2"/>
<circle cx="623.8" cy="2296.7" r="4.3" fill="rgba(255,10,20,0.72)" stroke="rgba(215,20,40,0.75)" stroke-width="1.2"/>
<circle cx="664.3" cy="2249.0" r="4.3" fill="rgba(255,10,20,0.72)" stroke="rgba(215,20,40,0.75)" stroke-width="1.2"/>
<circle cx="705.0" cy="2050.0" r="4.3" fill="rgba(255,10,20,0.72)" stroke="rgba(215,20,40,0.75)" stroke-width="1.2"/>
<circle cx="714.9" cy="2050.0" r="4.3" fill="rgba(255,10,20,0.72)" stroke="rgba(215,20,40,0.75)" stroke-width="1.2"/>
<circle cx="766.0" cy="2050.0" r="4.3" fill="rgba(255,10,20,0.72)" stroke="rgba(215,20,40,0.75)" stroke-width="1.2"/>
<circle cx="179.3" cy="2266.4" r="4.3" fill="rgba(30,20,255,0.66)" stroke="rgba(40,40,220,0.7)" stroke-width="1.2"/>
<circle cx="187.1" cy="2272.4" r="4.3" fill="rgba(30,20,255,0.66)" stroke="rgba(40,40,220,0.7)" stroke-width="1.2"/>
<circle cx="334.0" cy="2364.3" r="4.3" fill="rgba(30,20,255,0.66)" stroke="rgba(40,40,220,0.7)" stroke-width="1.2"/>
<circle cx="342.4" cy="2367.6" r="4.3" fill="rgba(30,20,255,0.66)" stroke="rgba(40,40,220,0.7)" stroke-width="1.2"/>
<circle cx="344.5" cy="2369.0" r="4.3" fill="rgba(30,20,255,0.66)" stroke="rgba(40,40,220,0.7)" stroke-width="1.2"/>
<circle cx="354.0" cy="2371.7" r="4.3" fill="rgba(30,20,255,0.66)" stroke="rgba(40,40,220,0.7)" stroke-width="1.2"/>
<polygon points="482.1,2373.3 485.2,2382.6 495.0,2382.7 487.1,2388.5 490.1,2397.9 482.1,2392.2 474.1,2397.9 477.1,2388.5 469.2,2382.7 479.0,2382.6" fill="#e8f542" stroke="#000" stroke-width="1.6" stroke-linejoin="miter"/>
<line x1="683.0" y1="2048.4" x2="700.5" y2="2049.6" stroke="#7d7d7d" stroke-width="1.0"/>
<line x1="700.5" y1="2049.6" x2="692.1" y2="2052.7" stroke="#7d7d7d" stroke-width="1.0"/>
<line x1="700.5" y1="2049.6" x2="692.6" y2="2045.4" stroke="#7d7d7d" stroke-width="1.0"/>
<line x1="725.0" y1="2084.0" x2="762.4" y2="2053.2" stroke="#7d7d7d" stroke-width="1.0"/>
<line x1="762.4" y1="2053.2" x2="758.4" y2="2061.3" stroke="#7d7d7d" stroke-width="1.0"/>
<line x1="762.4" y1="2053.2" x2="753.7" y2="2055.6" stroke="#7d7d7d" stroke-width="1.0"/>
<line x1="639.5" y1="2229.0" x2="713.8" y2="2054.0" stroke="#7d7d7d" stroke-width="1.0"/>
<line x1="713.8" y1="2054.0" x2="714.0" y2="2063.0" stroke="#7d7d7d" stroke-width="1.0"/>
<line x1="713.8" y1="2054.0" x2="707.2" y2="2060.1" stroke="#7d7d7d" stroke-width="1.0"/>
<line x1="627.5" y1="2373.5" x2="663.2" y2="2254.5" stroke="#7d7d7d" stroke-width="1.0"/>
<line x1="663.2" y1="2254.5" x2="664.4" y2="2263.4" stroke="#7d7d7d" stroke-width="1.0"/>
<line x1="663.2" y1="2254.5" x2="657.3" y2="2261.3" stroke="#7d7d7d" stroke-width="1.0"/>
<text x="674.8" y="2052.4" font-size="22.6" text-anchor="end">Dkk3</text>
<text x="705.3" y="2107.1" font-size="22.6" text-anchor="middle">Vxn</text>
<text x="630.7" y="2254.5" font-size="22.6" text-anchor="middle">Slc17a7</text>
<text x="630.0" y="2309.3" font-size="22.6" text-anchor="middle">Nptxr</text>
<text x="623.2" y="2397.4" font-size="22.6" text-anchor="middle">Hpcal4</text>
<rect x="632.4" y="2363.0" width="139.4" height="34.4" rx="3.6" fill="rgba(255,255,255,0.8)" stroke="rgba(204,204,204,0.85)" stroke-width="1.6"/>
<polygon points="658.4,2366.4 661.5,2375.7 671.3,2375.8 663.4,2381.6 666.4,2391.0 658.4,2385.3 650.4,2391.0 653.4,2381.6 645.5,2375.8 655.3,2375.7" fill="#e8f542" stroke="#000" stroke-width="1.6" stroke-linejoin="miter"/>
<text x="694.2" y="2385.2" font-size="19.0">Dtnbp1</text>
<rect x="100.5" y="2033.5" width="681.4" height="373.8" fill="none" stroke="#000" stroke-width="1.7"/>
<line x1="100.2" y1="2407.3" x2="100.2" y2="2414.6" stroke="#000" stroke-width="1.7"/>
<text x="100.2" y="2435.6" font-size="19.2" text-anchor="middle">−2.0</text>
<line x1="185.4" y1="2407.3" x2="185.4" y2="2414.6" stroke="#000" stroke-width="1.7"/>
<text x="185.4" y="2435.6" font-size="19.2" text-anchor="middle">−1.5</text>
<line x1="270.7" y1="2407.3" x2="270.7" y2="2414.6" stroke="#000" stroke-width="1.7"/>
<text x="270.7" y="2435.6" font-size="19.2" text-anchor="middle">−1.0</text>
<line x1="355.9" y1="2407.3" x2="355.9" y2="2414.6" stroke="#000" stroke-width="1.7"/>
<text x="355.9" y="2435.6" font-size="19.2" text-anchor="middle">−0.5</text>
<line x1="441.1" y1="2407.3" x2="441.1" y2="2414.6" stroke="#000" stroke-width="1.7"/>
<text x="441.1" y="2435.6" font-size="19.2" text-anchor="middle">0.0</text>
<line x1="526.3" y1="2407.3" x2="526.3" y2="2414.6" stroke="#000" stroke-width="1.7"/>
<text x="526.3" y="2435.6" font-size="19.2" text-anchor="middle">0.5</text>
<line x1="611.5" y1="2407.3" x2="611.5" y2="2414.6" stroke="#000" stroke-width="1.7"/>
<text x="611.5" y="2435.6" font-size="19.2" text-anchor="middle">1.0</text>
<line x1="696.8" y1="2407.3" x2="696.8" y2="2414.6" stroke="#000" stroke-width="1.7"/>
<text x="696.8" y="2435.6" font-size="19.2" text-anchor="middle">1.5</text>
<line x1="782.0" y1="2407.3" x2="782.0" y2="2414.6" stroke="#000" stroke-width="1.7"/>
<text x="782.0" y="2435.6" font-size="19.2" text-anchor="middle">2.0</text>
<line x1="93.2" y1="2389.5" x2="100.5" y2="2389.5" stroke="#000" stroke-width="1.7"/>
<text x="87.5" y="2396.5" font-size="19.2" text-anchor="end">0</text>
<line x1="93.2" y1="2332.9" x2="100.5" y2="2332.9" stroke="#000" stroke-width="1.7"/>
<text x="87.5" y="2339.9" font-size="19.2" text-anchor="end">5</text>
<line x1="93.2" y1="2276.4" x2="100.5" y2="2276.4" stroke="#000" stroke-width="1.7"/>
<text x="87.5" y="2283.4" font-size="19.2" text-anchor="end">10</text>
<line x1="93.2" y1="2219.8" x2="100.5" y2="2219.8" stroke="#000" stroke-width="1.7"/>
<text x="87.5" y="2226.8" font-size="19.2" text-anchor="end">15</text>
<line x1="93.2" y1="2163.3" x2="100.5" y2="2163.3" stroke="#000" stroke-width="1.7"/>
<text x="87.5" y="2170.3" font-size="19.2" text-anchor="end">20</text>
<line x1="93.2" y1="2106.8" x2="100.5" y2="2106.8" stroke="#000" stroke-width="1.7"/>
<text x="87.5" y="2113.8" font-size="19.2" text-anchor="end">25</text>
<line x1="93.2" y1="2050.2" x2="100.5" y2="2050.2" stroke="#000" stroke-width="1.7"/>
<text x="87.5" y="2057.2" font-size="19.2" text-anchor="end">30</text>
<text x="440.6" y="2021.4" font-size="23.0" text-anchor="middle">Marker genes of Cluster 2</text>
<text x="441.0" y="2461.6" font-size="19.2" text-anchor="middle">Log2 Fold Change (Cluster 2 vs rest)</text>
<text x="50.5" y="2220.4" font-size="19.2" text-anchor="middle" transform="rotate(-90 50.5 2220.4)">-Log10(Adjusted p-value)</text>
<rect x="911.3" y="2119.6" width="136.9" height="287.7" fill="#ad4951"/>
<rect x="1082.8" y="2291.9" width="136.9" height="115.4" fill="#4f4db4"/>
<rect x="895.6" y="2033.5" width="342.1" height="373.8" fill="none" stroke="#000" stroke-width="1.7"/>
<line x1="888.3" y1="2407.3" x2="895.6" y2="2407.3" stroke="#000" stroke-width="1.7"/>
<text x="882.6" y="2414.3" font-size="19.2" text-anchor="end">0</text>
<line x1="888.3" y1="2343.0" x2="895.6" y2="2343.0" stroke="#000" stroke-width="1.7"/>
<text x="882.6" y="2350.0" font-size="19.2" text-anchor="end">10</text>
<line x1="888.3" y1="2278.7" x2="895.6" y2="2278.7" stroke="#000" stroke-width="1.7"/>
<text x="882.6" y="2285.7" font-size="19.2" text-anchor="end">20</text>
<line x1="888.3" y1="2214.4" x2="895.6" y2="2214.4" stroke="#000" stroke-width="1.7"/>
<text x="882.6" y="2221.4" font-size="19.2" text-anchor="end">30</text>
<line x1="888.3" y1="2150.1" x2="895.6" y2="2150.1" stroke="#000" stroke-width="1.7"/>
<text x="882.6" y="2157.1" font-size="19.2" text-anchor="end">40</text>
<line x1="888.3" y1="2085.8" x2="895.6" y2="2085.8" stroke="#000" stroke-width="1.7"/>
<text x="882.6" y="2092.8" font-size="19.2" text-anchor="end">50</text>
<line x1="979.7" y1="2407.3" x2="979.7" y2="2414.6" stroke="#000" stroke-width="1.7"/>
<text x="979.7" y="2435.6" font-size="19.2" text-anchor="middle">True (n=4901)</text>
<line x1="1151.2" y1="2407.3" x2="1151.2" y2="2414.6" stroke="#000" stroke-width="1.7"/>
<text x="1151.2" y="2435.6" font-size="19.2" text-anchor="middle">False (n=87301)</text>
<text x="979.7" y="2108.6" font-size="19.2" text-anchor="middle">44.7%</text>
<text x="1151.2" y="2280.2" font-size="19.2" text-anchor="middle">17.9%</text>
<text x="1066.0" y="2021.0" font-size="23.0" text-anchor="middle">Colocalization</text>
<text x="1065.8" y="2460.8" font-size="19.2" text-anchor="middle">Contains Cluster 2 cells</text>
<text x="843.5" y="2221.0" font-size="19.2" text-anchor="middle" transform="rotate(-90 843.5 2221.0)">Percentage of Dtnbp1-11516-only bins</text>
<line x1="1435.6" y1="2033.5" x2="1435.6" y2="2407.3" stroke="#e9e9e9" stroke-width="1.5"/>
<line x1="1520.8" y1="2033.5" x2="1520.8" y2="2407.3" stroke="#e9e9e9" stroke-width="1.5"/>
<line x1="1606.1" y1="2033.5" x2="1606.1" y2="2407.3" stroke="#e9e9e9" stroke-width="1.5"/>
<line x1="1691.3" y1="2033.5" x2="1691.3" y2="2407.3" stroke="#e9e9e9" stroke-width="1.5"/>
<line x1="1776.5" y1="2033.5" x2="1776.5" y2="2407.3" stroke="#e9e9e9" stroke-width="1.5"/>
<line x1="1861.8" y1="2033.5" x2="1861.8" y2="2407.3" stroke="#e9e9e9" stroke-width="1.5"/>
<line x1="1947.0" y1="2033.5" x2="1947.0" y2="2407.3" stroke="#e9e9e9" stroke-width="1.5"/>
<line x1="1350.6" y1="2389.5" x2="2032.4" y2="2389.5" stroke="#e9e9e9" stroke-width="1.5"/>
<line x1="1350.6" y1="2332.9" x2="2032.4" y2="2332.9" stroke="#e9e9e9" stroke-width="1.5"/>
<line x1="1350.6" y1="2276.4" x2="2032.4" y2="2276.4" stroke="#e9e9e9" stroke-width="1.5"/>
<line x1="1350.6" y1="2219.8" x2="2032.4" y2="2219.8" stroke="#e9e9e9" stroke-width="1.5"/>
<line x1="1350.6" y1="2163.3" x2="2032.4" y2="2163.3" stroke="#e9e9e9" stroke-width="1.5"/>
<line x1="1350.6" y1="2106.8" x2="2032.4" y2="2106.8" stroke="#e9e9e9" stroke-width="1.5"/>
<line x1="1350.6" y1="2050.2" x2="2032.4" y2="2050.2" stroke="#e9e9e9" stroke-width="1.5"/>
<line x1="1606.1" y1="2407.3" x2="1606.1" y2="2033.5" stroke="#5a5a5a" stroke-width="2.5" stroke-dasharray="10.2 5.1"/>
<line x1="1776.5" y1="2407.3" x2="1776.5" y2="2033.5" stroke="#5a5a5a" stroke-width="2.5" stroke-dasharray="10.2 5.1"/>
<line x1="1350.6" y1="2374.9" x2="2032.4" y2="2374.9" stroke="#5a5a5a" stroke-width="2.5" stroke-dasharray="10.2 5.1"/>
<polygon points="1690.2,2386.1 1695.7,2378.2 1702.8,2366.9 1708.1,2355.6 1711.9,2344.3 1714.7,2332.9 1717.0,2321.6 1721.1,2299.0 1724.5,2276.4 1727.7,2253.8 1731.9,2231.2 1742.1,2231.2 1744.7,2253.8 1745.6,2276.4 1745.0,2299.0 1742.3,2321.6 1739.3,2332.9 1735.1,2344.3 1729.2,2355.6 1721.5,2366.9 1711.0,2378.2 1700.4,2386.1" fill="#828282" stroke="#828282" stroke-width="6" stroke-linejoin="round"/>
<path d="M1729.6 2343.9h0M1734.0 2309.6h0M1730.9 2325.6h0M1724.1 2330.8h0M1710.7 2372.9h0M1720.9 2335.2h0M1728.2 2274.2h0M1750.5 2270.2h0M1729.9 2263.7h0M1726.0 2313.2h0M1731.9 2231.5h0M1741.7 2215.7h0M1751.4 2281.2h0M1728.6 2318.5h0M1706.1 2375.0h0M1740.4 2229.7h0M1739.9 2337.7h0M1737.5 2314.0h0M1708.6 2335.8h0M1693.3 2384.6h0M1724.3 2331.5h0M1711.1 2370.3h0M1702.2 2378.8h0M1729.6 2339.7h0M1726.6 2317.7h0M1718.7 2370.4h0M1739.2 2207.9h0M1711.1 2369.6h0M1752.3 2206.4h0M1710.9 2360.3h0M1742.1 2271.6h0M1733.5 2213.3h0M1748.4 2225.8h0M1696.2 2381.0h0M1737.1 2250.7h0M1740.4 2329.9h0M1751.7 2246.9h0M1721.4 2339.2h0M1740.6 2323.8h0M1740.1 2293.7h0M1715.8 2338.6h0M1727.1 2304.7h0M1725.4 2316.2h0M1733.9 2300.0h0M1747.0 2309.5h0M1723.4 2288.4h0M1735.4 2216.4h0M1749.2 2299.2h0M1718.2 2358.0h0M1707.5 2371.4h0M1736.2 2213.9h0M1704.4 2370.4h0M1731.3 2300.3h0M1737.3 2206.4h0M1695.7 2386.2h0M1712.9 2355.1h0M1706.9 2380.4h0M1731.8 2247.9h0M1723.9 2320.0h0M1722.4 2358.4h0M1718.9 2346.0h0M1728.0 2356.4h0M1704.9 2378.2h0M1715.0 2331.4h0M1722.3 2283.5h0M1698.8 2382.7h0M1719.8 2276.3h0M1705.8 2371.0h0M1735.7 2210.9h0M1724.7 2316.0h0M1698.4 2386.0h0M1732.1 2279.0h0M1745.3 2206.4h0M1718.1 2285.3h0M1739.9 2310.2h0M1726.9 2271.4h0M1705.9 2378.4h0M1736.3 2248.8h0M1722.4 2356.1h0M1746.0 2261.5h0M1720.2 2287.5h0M1732.1 2260.7h0M1732.4 2275.2h0M1721.2 2364.7h0M1745.8 2243.9h0M1731.5 2294.7h0M1718.6 2243.8h0M1691.2 2387.7h0M1742.9 2239.4h0M1707.5 2349.8h0M1720.2 2337.3h0M1731.4 2217.8h0M1742.1 2335.0h0M1721.8 2301.3h0M1731.6 2258.7h0M1730.8 2340.4h0M1731.2 2279.3h0M1742.0 2224.6h0M1733.6 2320.7h0M1721.3 2355.1h0M1720.2 2327.5h0M1717.0 2375.5h0M1720.0 2353.0h0M1692.5 2387.0h0M1737.3 2219.8h0M1706.5 2377.8h0M1723.7 2256.0h0M1724.0 2359.4h0M1748.1 2270.3h0M1729.0 2332.3h0M1730.9 2229.6h0M1727.2 2311.4h0M1693.5 2386.8h0M1735.7 2249.0h0M1726.4 2359.6h0M1733.8 2311.9h0M1726.0 2331.3h0M1691.6 2383.9h0M1723.7 2343.0h0M1728.7 2277.6h0M1725.4 2339.0h0M1731.7 2338.1h0M1738.6 2221.5h0M1733.7 2328.1h0M1724.0 2355.3h0M1732.6 2212.7h0M1736.8 2258.0h0M1702.5 2359.2h0M1740.8 2312.3h0M1738.3 2243.3h0M1705.1 2381.7h0M1691.7 2386.8h0M1700.4 2381.1h0M1709.9 2359.1h0M1699.9 2376.2h0M1737.9 2261.8h0M1717.5 2343.5h0M1721.4 2246.4h0M1722.6 2222.6h0M1721.0 2209.2h0M1738.4 2253.2h0M1713.3 2361.8h0M1709.5 2364.0h0M1748.1 2301.5h0M1739.1 2282.8h0M1744.3 2213.7h0M1745.0 2234.0h0M1738.0 2225.5h0M1731.0 2318.6h0M1732.2 2286.4h0M1735.9 2306.9h0M1705.2 2375.4h0M1723.5 2219.9h0M1724.1 2361.1h0M1710.0 2361.7h0M1750.6 2226.5h0M1745.3 2239.8h0M1742.3 2294.5h0M1690.5 2387.8h0M1706.1 2367.7h0M1697.1 2380.1h0M1743.2 2253.2h0M1748.1 2214.3h0M1732.6 2207.1h0M1739.2 2250.9h0M1731.6 2352.3h0M1714.0 2363.2h0M1741.8 2217.6h0M1698.5 2377.0h0M1733.2 2229.9h0M1734.0 2248.8h0M1705.9 2368.1h0M1746.4 2282.8h0M1708.4 2372.2h0M1707.3 2374.6h0M1710.5 2363.9h0M1719.2 2357.6h0M1713.2 2354.1h0M1743.0 2262.8h0M1728.2 2329.0h0M1708.7 2364.6h0M1727.2 2348.0h0M1718.1 2317.8h0M1721.7 2359.4h0M1711.4 2353.9h0M1709.3 2354.0h0M1717.5 2358.8h0M1734.0 2230.4h0M1726.1 2207.8h0M1727.5 2323.2h0M1734.8 2223.5h0M1726.0 2340.2h0M1725.7 2262.1h0M1739.0 2244.0h0M1713.4 2363.6h0M1740.3 2283.9h0M1719.4 2363.8h0M1719.4 2351.0h0M1733.8 2287.2h0M1722.4 2339.8h0M1715.6 2369.1h0M1707.4 2366.9h0M1713.5 2362.2h0M1701.6 2381.5h0M1734.0 2331.1h0M1713.3 2363.6h0M1725.9 2318.6h0M1723.1 2339.5h0M1724.0 2322.9h0M1737.4 2229.3h0M1706.8 2371.2h0M1731.1 2343.2h0M1726.1 2333.0h0M1711.7 2365.1h0M1738.2 2250.3h0M1703.8 2373.3h0M1740.9 2259.4h0M1730.9 2254.0h0M1736.6 2285.1h0M1734.4 2284.8h0M1744.0 2219.0h0M1733.7 2313.0h0M1711.1 2307.3h0M1721.0 2308.6h0M1733.3 2273.3h0M1731.1 2338.3h0M1724.8 2338.9h0M1735.4 2248.0h0M1730.0 2246.2h0M1732.7 2282.9h0M1744.8 2301.5h0M1724.3 2355.9h0M1720.8 2351.3h0M1717.3 2337.0h0M1738.1 2224.6h0M1737.5 2214.1h0M1717.7 2359.2h0M1732.1 2227.9h0M1739.4 2250.9h0M1727.9 2229.8h0M1740.7 2312.4h0M1737.0 2234.3h0M1721.6 2326.6h0M1690.0 2387.3h0M1729.8 2314.0h0M1729.0 2341.3h0M1723.2 2323.5h0M1728.3 2242.2h0M1734.4 2250.1h0M1735.1 2283.8h0M1721.4 2348.0h0M1715.0 2288.5h0M1738.3 2274.1h0M1696.2 2386.5h0M1739.1 2243.3h0M1732.7 2324.4h0M1699.8 2386.2h0M1727.6 2332.5h0M1738.0 2327.8h0M1735.3 2273.5h0M1713.0 2375.1h0M1738.8 2254.0h0M1731.9 2285.0h0M1694.3 2381.6h0M1739.1 2313.7h0M1732.1 2248.9h0M1731.4 2332.8h0M1740.3 2208.9h0M1743.0 2208.1h0M1729.6 2273.2h0M1743.0 2293.7h0M1744.1 2245.7h0M1725.3 2222.8h0M1713.7 2364.5h0M1708.9 2363.5h0M1703.4 2380.6h0M1720.8 2306.7h0M1710.3 2367.5h0M1695.6 2385.7h0M1742.8 2251.1h0M1737.8 2205.1h0M1717.4 2252.9h0M1694.4 2386.4h0M1739.8 2299.6h0M1732.0 2330.6h0M1747.5 2282.5h0M1755.5 2204.8h0M1750.4 2225.3h0M1726.1 2206.3h0M1731.5 2274.9h0M1708.5 2375.7h0M1749.3 2274.8h0M1734.7 2218.2h0M1709.2 2379.4h0M1744.9 2315.4h0M1730.9 2267.1h0M1721.8 2353.0h0M1726.0 2344.9h0M1709.8 2362.8h0M1753.1 2336.7h0M1704.8 2384.2h0M1731.2 2241.2h0M1712.9 2373.8h0M1704.5 2381.7h0M1747.3 2268.4h0M1724.0 2263.0h0M1750.9 2233.9h0M1736.4 2232.2h0M1741.2 2292.0h0M1721.6 2233.7h0M1704.1 2383.8h0M1738.3 2210.5h0M1701.2 2379.5h0M1719.6 2295.8h0M1704.1 2375.9h0M1735.3 2329.1h0M1706.5 2370.0h0M1728.2 2239.5h0M1728.8 2341.9h0M1738.2 2245.0h0M1726.1 2326.0h0M1727.4 2323.9h0M1713.7 2284.1h0M1733.3 2282.3h0M1714.4 2356.4h0M1720.3 2347.1h0M1729.8 2317.6h0M1717.0 2349.2h0M1729.1 2288.9h0M1718.4 2318.6h0M1738.2 2308.6h0M1737.7 2234.5h0M1735.6 2254.4h0M1694.9 2383.7h0M1757.9 2261.7h0M1744.0 2287.6h0M1715.6 2315.9h0M1751.4 2232.5h0M1726.0 2326.8h0M1716.0 2320.3h0M1721.1 2344.2h0M1711.2 2367.0h0M1731.9 2343.9h0M1730.0 2325.2h0M1736.5 2254.1h0M1728.8 2273.2h0M1727.9 2306.1h0M1750.3 2296.3h0M1707.5 2340.5h0M1742.0 2207.9h0M1723.5 2205.2h0M1726.0 2308.8h0M1733.0 2204.3h0M1722.3 2346.9h0M1709.3 2365.1h0M1744.1 2304.8h0M1709.2 2378.1h0M1735.3 2288.3h0M1710.3 2369.2h0M1734.2 2332.8h0M1724.5 2322.7h0M1731.3 2226.2h0M1737.7 2311.9h0M1744.1 2231.5h0M1733.5 2337.8h0M1733.6 2332.8h0M1725.4 2339.0h0M1652.1 2287.7h0M1653.8 2330.7h0M1664.0 2339.7h0M1669.1 2348.8h0M1674.3 2360.1h0M1676.0 2368.0h0M1682.8 2371.4h0M1669.1 2366.9h0M1696.4 2386.7h0M1699.8 2383.8h0M1713.5 2384.4h0M1745.8 2342.0h0M1762.0 2301.3h0M1747.5 2277.5h0M1754.4 2253.8h0M1762.9 2242.5h0M1773.1 2218.7h0M1764.6 2201.8h0M1768.0 2185.9h0M1744.1 2174.6h0M1747.5 2157.6h0M1723.7 2159.9h0M1740.7 2145.2h0M1722.0 2128.2h0M1744.1 2115.8h0M1747.5 2110.1h0M1733.9 2098.8h0M1766.3 2067.2h0M1748.4 2050.2h0M1769.7 2050.2h0M1722.0 2187.1h0M1723.7 2202.9h0M1727.1 2213.1h0M1728.8 2167.8h0M1718.6 2224.4h0M1751.0 2228.9h0" fill="none" stroke="rgba(122,122,122,0.62)" stroke-width="9.6" stroke-linecap="round"/>
<path d="M1703.6 2382.5h0M1693.8 2386.4h0M1713.3 2360.9h0M1753.1 2208.4h0M1741.5 2244.7h0M1735.7 2301.6h0M1737.0 2293.9h0M1711.3 2357.5h0M1716.4 2376.6h0M1692.3 2386.2h0M1746.5 2292.1h0M1729.0 2316.1h0M1720.4 2350.7h0M1711.7 2369.4h0M1745.4 2232.4h0M1741.1 2244.0h0M1700.7 2371.9h0M1733.6 2293.2h0M1726.4 2272.0h0M1740.3 2226.0h0M1737.0 2283.9h0M1724.7 2341.0h0M1738.4 2231.7h0M1736.7 2336.7h0M1703.0 2378.7h0M1706.3 2372.6h0M1734.7 2234.2h0M1725.6 2252.9h0M1742.3 2236.6h0M1693.6 2387.3h0M1719.0 2213.0h0M1719.2 2360.3h0M1724.4 2239.3h0M1720.1 2252.2h0M1730.2 2342.4h0M1708.0 2369.1h0M1714.0 2372.6h0M1731.5 2209.7h0M1707.4 2362.8h0M1716.1 2355.0h0M1740.0 2224.9h0M1741.8 2306.4h0M1728.3 2264.6h0M1728.9 2299.0h0M1734.3 2298.7h0M1735.0 2271.6h0M1750.6 2270.2h0M1704.0 2373.9h0M1696.1 2382.4h0M1701.1 2373.1h0M1702.8 2330.5h0M1728.2 2341.2h0M1724.6 2342.6h0M1740.4 2250.9h0M1702.7 2375.0h0M1713.7 2372.2h0M1733.5 2325.4h0M1701.5 2381.1h0M1746.2 2219.8h0M1704.4 2377.8h0M1731.7 2349.8h0M1734.3 2300.9h0M1727.4 2244.1h0M1737.0 2207.0h0M1726.4 2329.3h0M1706.2 2370.1h0M1721.0 2351.2h0M1739.6 2211.8h0M1722.5 2346.4h0M1731.5 2310.1h0M1717.4 2359.3h0M1742.0 2266.6h0M1746.3 2282.0h0M1737.7 2262.7h0M1723.2 2242.5h0M1719.5 2359.8h0M1724.5 2285.2h0M1721.8 2304.1h0M1698.8 2382.2h0M1725.5 2333.4h0M1739.1 2282.1h0M1697.1 2383.9h0M1740.8 2317.9h0M1738.9 2208.0h0M1718.3 2353.4h0M1696.4 2373.3h0M1734.4 2269.3h0M1722.5 2347.7h0M1696.8 2376.3h0M1704.0 2335.2h0M1697.5 2385.3h0M1717.4 2356.6h0M1731.6 2245.7h0M1749.4 2265.8h0M1694.0 2385.2h0M1720.6 2348.5h0M1737.4 2331.2h0M1735.1 2311.6h0M1703.4 2380.2h0M1744.6 2297.2h0M1723.4 2341.4h0M1719.3 2310.4h0M1738.7 2321.5h0M1712.2 2316.2h0M1750.8 2242.6h0M1744.2 2273.8h0M1727.7 2319.3h0M1717.6 2347.4h0M1708.7 2377.4h0M1705.6 2347.8h0M1718.6 2357.0h0M1713.1 2355.3h0M1714.8 2341.4h0M1707.8 2363.7h0M1716.0 2361.2h0M1734.1 2327.0h0M1717.9 2362.5h0M1748.2 2229.6h0M1720.0 2366.8h0M1728.9 2342.5h0M1752.6 2213.2h0M1714.5 2324.1h0M1705.7 2365.6h0M1689.9 2386.1h0M1742.4 2259.8h0M1731.0 2266.5h0M1723.8 2222.2h0M1740.6 2213.6h0M1743.4 2219.5h0M1714.2 2343.2h0M1713.5 2365.0h0M1735.2 2207.5h0M1695.8 2379.5h0M1741.3 2275.5h0M1733.7 2239.2h0M1722.1 2357.3h0M1737.3 2330.9h0M1692.5 2378.7h0M1694.8 2386.1h0M1717.4 2335.2h0M1746.2 2215.5h0M1716.2 2363.9h0M1719.0 2366.8h0M1701.0 2383.6h0M1738.3 2271.0h0M1716.9 2345.9h0M1713.3 2365.0h0M1732.6 2325.7h0M1734.2 2300.8h0M1721.9 2335.5h0M1729.3 2312.9h0M1746.8 2216.1h0M1746.9 2286.8h0M1736.9 2329.3h0M1732.6 2333.2h0M1690.0 2386.0h0M1741.0 2301.1h0M1723.8 2325.3h0M1712.4 2358.9h0M1734.3 2316.3h0M1696.8 2386.1h0M1741.9 2308.8h0M1749.8 2203.8h0M1750.5 2312.6h0M1724.1 2339.1h0M1742.9 2244.9h0M1731.6 2344.7h0M1739.5 2274.3h0M1723.6 2337.5h0M1708.9 2378.4h0M1760.7 2295.6h0M1751.5 2260.6h0M1733.8 2277.7h0M1724.4 2287.6h0M1728.4 2338.0h0M1729.6 2286.0h0M1737.8 2283.0h0M1717.6 2339.2h0M1719.6 2356.8h0M1739.3 2253.0h0M1727.9 2282.3h0M1701.0 2385.3h0M1729.9 2261.0h0M1737.9 2259.3h0M1718.3 2300.3h0M1704.1 2361.9h0M1749.6 2260.6h0M1742.6 2224.2h0M1737.9 2317.0h0M1713.8 2346.7h0M1710.0 2372.9h0M1696.1 2386.0h0M1695.4 2383.3h0M1734.9 2233.2h0M1712.0 2377.4h0M1712.9 2350.2h0M1722.0 2344.7h0M1716.8 2344.4h0M1691.1 2387.1h0M1708.7 2361.9h0M1750.8 2208.0h0M1736.9 2241.3h0M1731.1 2270.1h0M1723.2 2251.2h0M1752.2 2228.1h0M1750.8 2310.8h0M1732.8 2304.8h0M1741.2 2238.7h0M1732.2 2254.1h0M1726.5 2347.8h0M1714.6 2356.9h0M1758.1 2263.9h0M1741.2 2206.6h0M1712.3 2363.5h0M1722.7 2271.4h0M1730.4 2261.2h0M1730.5 2326.2h0M1718.5 2274.4h0M1696.1 2379.3h0M1739.4 2319.7h0M1707.0 2367.2h0M1732.3 2302.4h0M1698.2 2378.9h0M1719.2 2306.8h0M1727.7 2331.5h0M1730.0 2330.2h0M1742.1 2261.1h0M1728.4 2331.6h0M1725.6 2298.7h0M1740.5 2244.2h0M1735.6 2338.4h0M1729.1 2325.3h0M1738.5 2315.0h0M1739.0 2219.4h0M1732.0 2241.4h0M1734.8 2279.3h0M1704.5 2371.7h0M1736.7 2289.2h0M1730.3 2271.5h0M1732.4 2300.1h0M1709.7 2372.9h0M1724.6 2298.6h0M1747.9 2212.0h0M1729.3 2218.7h0M1750.2 2226.5h0M1724.1 2316.0h0M1713.5 2326.0h0M1724.2 2352.9h0M1721.6 2342.7h0M1733.2 2265.2h0M1752.9 2289.2h0M1724.5 2287.5h0M1743.1 2319.2h0M1747.1 2253.9h0M1711.2 2355.2h0M1737.4 2282.3h0M1744.5 2296.0h0M1757.1 2292.6h0M1719.6 2362.6h0M1707.0 2376.1h0M1718.6 2357.8h0M1744.4 2267.1h0M1728.3 2218.5h0M1722.2 2346.1h0M1736.5 2296.1h0M1719.3 2336.9h0M1715.9 2251.7h0M1739.2 2269.3h0M1714.5 2346.6h0M1746.9 2290.6h0M1738.5 2244.8h0M1714.0 2352.5h0M1733.1 2339.8h0M1703.5 2359.1h0M1718.7 2355.7h0M1707.5 2359.3h0M1725.8 2315.6h0M1725.0 2298.2h0M1734.9 2203.6h0M1733.2 2340.2h0M1725.9 2233.6h0M1745.6 2255.5h0M1714.7 2364.4h0M1730.7 2215.1h0M1708.2 2376.3h0M1724.1 2331.4h0M1719.9 2361.1h0M1692.3 2385.4h0M1700.9 2384.4h0M1747.2 2257.5h0M1734.2 2314.7h0M1713.9 2365.3h0M1740.5 2233.4h0M1726.9 2285.1h0M1738.4 2285.1h0M1735.4 2232.5h0M1734.1 2239.5h0M1735.2 2207.9h0M1729.2 2315.4h0M1735.6 2220.2h0M1729.1 2264.3h0M1728.3 2323.5h0M1712.7 2367.6h0M1737.8 2311.9h0M1731.5 2245.7h0M1700.2 2384.5h0M1750.9 2312.4h0M1742.1 2241.3h0M1730.7 2308.0h0M1721.7 2344.4h0M1715.4 2312.1h0M1705.5 2378.7h0M1736.0 2270.2h0M1702.0 2378.6h0M1724.0 2312.3h0M1745.5 2234.7h0M1744.5 2242.5h0M1736.0 2216.5h0M1745.1 2323.5h0M1729.6 2307.6h0M1727.2 2284.2h0M1707.2 2373.6h0M1749.9 2246.3h0M1729.6 2352.6h0M1711.9 2307.0h0M1730.1 2292.1h0M1735.2 2304.3h0M1720.3 2357.6h0M1729.8 2297.0h0M1726.8 2317.1h0M1725.9 2333.2h0M1742.7 2312.7h0M1718.2 2370.8h0M1742.0 2262.4h0M1706.7 2371.4h0M1718.5 2307.5h0M1731.3 2251.6h0M1734.0 2293.9h0M1744.6 2251.9h0M1724.3 2349.3h0M1742.3 2251.2h0M1738.1 2296.0h0M1748.1 2238.7h0M1695.9 2385.4h0M1743.4 2303.4h0M1739.2 2292.0h0M1699.6 2379.1h0M1715.2 2313.6h0M1734.5 2305.1h0M1699.4 2377.6h0M1732.7 2228.6h0M1711.8 2367.3h0M1743.5 2283.4h0M1721.8 2347.3h0M1724.8 2311.5h0M1728.0 2328.1h0M1705.0 2379.0h0M1730.0 2254.8h0M1741.0 2225.0h0M1700.7 2384.6h0M1693.9 2385.7h0M1732.7 2244.8h0M1725.4 2332.0h0M1732.8 2314.1h0M1737.5 2349.7h0M1731.8 2329.5h0M1725.1 2350.9h0M1658.9 2299.0h0M1657.2 2336.3h0M1665.7 2346.5h0M1670.8 2359.0h0M1647.8 2372.0h0M1677.7 2375.9h0M1672.6 2372.5h0M1686.2 2385.5h0M1688.7 2387.2h0M1703.2 2379.3h0M1704.9 2371.4h0M1747.5 2321.6h0M1759.5 2295.6h0M1756.1 2271.9h0M1749.3 2247.0h0M1752.7 2232.3h0M1775.7 2233.4h0M1752.7 2196.1h0M1769.7 2180.3h0M1737.3 2173.5h0M1766.3 2148.6h0M1728.8 2153.1h0M1727.1 2136.2h0M1735.6 2127.1h0M1727.1 2119.2h0M1724.5 2110.1h0M1745.8 2079.6h0M1733.9 2050.2h0M1752.7 2050.2h0M1616.3 2150.9h0M1730.5 2185.9h0M1732.2 2198.4h0M1737.3 2216.5h0M1735.6 2178.0h0M1742.4 2225.5h0" fill="none" stroke="rgba(122,122,122,0.62)" stroke-width="9.6" stroke-linecap="round"/>
<path d="M1730.4 2303.9h0M1702.1 2380.2h0M1745.5 2285.3h0M1725.0 2349.9h0M1705.5 2367.5h0M1715.0 2363.6h0M1725.0 2320.1h0M1732.3 2231.5h0M1728.8 2326.8h0M1720.0 2296.5h0M1716.9 2295.1h0M1732.7 2269.7h0M1726.2 2332.8h0M1738.2 2255.3h0M1695.6 2381.5h0M1723.2 2327.3h0M1711.7 2368.2h0M1729.4 2326.6h0M1722.0 2308.0h0M1719.0 2248.8h0M1700.2 2383.7h0M1708.6 2371.9h0M1738.2 2288.1h0M1748.7 2204.5h0M1723.5 2340.6h0M1743.5 2302.5h0M1720.4 2336.2h0M1726.2 2342.9h0M1720.6 2261.4h0M1693.4 2387.4h0M1743.8 2205.7h0M1715.4 2365.1h0M1738.0 2248.4h0M1730.5 2259.2h0M1706.8 2330.9h0M1711.3 2375.3h0M1712.5 2279.1h0M1729.1 2218.2h0M1717.2 2356.2h0M1739.3 2223.6h0M1737.5 2326.3h0M1712.6 2367.1h0M1729.2 2307.4h0M1716.3 2356.8h0M1709.8 2322.0h0M1719.9 2320.3h0M1708.7 2354.9h0M1703.6 2376.1h0M1724.2 2226.6h0M1742.8 2229.8h0M1738.8 2241.1h0M1709.8 2365.2h0M1731.1 2286.0h0M1718.9 2353.9h0M1742.2 2326.0h0M1729.8 2269.9h0M1704.1 2382.5h0M1734.4 2234.3h0M1724.9 2353.5h0M1715.3 2364.3h0M1735.1 2311.0h0M1700.7 2366.2h0M1740.8 2240.6h0M1730.4 2340.6h0M1707.3 2375.0h0M1705.0 2381.0h0M1737.6 2318.9h0M1731.6 2209.2h0M1727.1 2333.5h0M1731.3 2330.2h0M1718.9 2293.9h0M1718.9 2343.5h0M1699.5 2385.8h0M1727.6 2306.4h0M1744.2 2294.2h0M1726.6 2337.3h0M1730.0 2285.5h0M1748.3 2278.6h0M1722.8 2363.7h0M1724.6 2315.1h0M1720.1 2355.9h0M1748.6 2271.7h0M1744.4 2317.6h0M1729.5 2319.0h0M1718.2 2363.0h0M1704.8 2374.6h0M1721.9 2359.6h0M1705.2 2373.4h0M1733.1 2219.9h0M1754.2 2293.2h0M1704.5 2378.8h0M1718.8 2366.1h0M1752.7 2284.6h0M1734.3 2320.6h0M1743.8 2219.8h0M1702.3 2354.8h0M1712.1 2369.5h0M1755.1 2203.7h0M1729.3 2340.7h0M1719.2 2327.8h0M1696.3 2383.7h0M1707.2 2362.0h0M1747.2 2213.6h0M1742.6 2293.6h0M1705.5 2356.8h0M1735.2 2216.4h0M1735.5 2252.2h0M1705.9 2375.2h0M1738.2 2294.5h0M1740.2 2281.7h0M1735.4 2212.0h0M1740.7 2276.9h0M1717.3 2364.8h0M1731.7 2209.9h0M1730.5 2214.0h0M1739.8 2277.4h0M1696.3 2384.9h0M1756.3 2263.0h0M1692.1 2387.0h0M1714.5 2369.2h0M1724.2 2363.4h0M1693.0 2385.2h0M1699.5 2387.1h0M1701.7 2386.7h0M1716.6 2352.8h0M1723.0 2345.2h0M1687.5 2387.7h0M1727.0 2332.6h0M1750.4 2261.7h0M1715.4 2344.7h0M1695.5 2383.4h0M1743.6 2229.7h0M1729.8 2321.3h0M1743.4 2259.7h0M1736.2 2335.1h0M1713.4 2371.6h0M1716.3 2359.6h0M1737.9 2316.0h0M1715.2 2366.2h0M1730.6 2233.6h0M1741.7 2286.8h0M1711.5 2355.7h0M1726.4 2346.0h0M1738.2 2301.1h0M1726.7 2328.3h0M1725.2 2327.1h0M1736.0 2264.0h0M1729.2 2229.8h0M1737.9 2282.5h0M1720.7 2350.9h0M1742.1 2247.2h0M1696.2 2384.7h0M1744.7 2242.9h0M1704.1 2367.2h0M1705.5 2375.9h0M1692.8 2386.4h0M1731.1 2285.4h0M1721.3 2322.9h0M1737.9 2256.3h0M1731.9 2324.4h0M1747.2 2283.4h0M1729.8 2334.2h0M1738.1 2263.1h0M1707.2 2369.9h0M1746.2 2257.9h0M1745.0 2221.4h0M1695.7 2386.5h0M1733.1 2251.6h0M1726.4 2232.0h0M1727.0 2331.2h0M1726.5 2337.4h0M1721.9 2355.9h0M1724.7 2345.9h0M1741.3 2226.9h0M1709.5 2360.7h0M1738.0 2217.6h0M1738.7 2232.4h0M1714.9 2281.5h0M1730.8 2304.8h0M1704.2 2373.2h0M1739.9 2245.4h0M1725.7 2266.7h0M1704.1 2378.3h0M1743.3 2271.1h0M1738.3 2306.5h0M1743.5 2230.4h0M1719.8 2343.4h0M1729.8 2284.6h0M1725.7 2235.5h0M1713.3 2362.7h0M1737.9 2219.3h0M1726.1 2271.6h0M1732.1 2244.4h0M1740.9 2222.6h0M1740.1 2245.7h0M1708.2 2379.0h0M1719.3 2355.4h0M1721.3 2211.2h0M1741.1 2254.2h0M1750.1 2234.4h0M1737.0 2249.0h0M1723.8 2354.8h0M1734.6 2283.4h0M1728.8 2285.2h0M1697.2 2387.6h0M1731.1 2334.0h0M1719.7 2281.4h0M1734.6 2278.0h0M1728.0 2318.4h0M1738.3 2269.3h0M1714.8 2370.5h0M1704.6 2378.8h0M1715.5 2323.6h0M1735.1 2332.3h0M1730.3 2318.2h0M1727.2 2224.1h0M1750.4 2230.4h0M1727.2 2282.4h0M1743.1 2267.2h0M1722.9 2286.5h0M1715.6 2332.2h0M1711.9 2370.5h0M1730.6 2266.3h0M1733.7 2328.2h0M1733.4 2206.5h0M1740.0 2270.4h0M1731.6 2216.8h0M1740.7 2253.5h0M1721.3 2360.4h0M1714.8 2349.0h0M1735.9 2237.0h0M1736.3 2265.3h0M1720.7 2324.8h0M1734.3 2242.1h0M1735.8 2284.1h0M1709.7 2373.1h0M1738.4 2225.0h0M1724.8 2227.3h0M1731.9 2305.0h0M1710.5 2373.6h0M1720.0 2312.7h0M1739.7 2277.4h0M1740.4 2283.5h0M1732.5 2342.7h0M1737.4 2285.7h0M1733.0 2306.0h0M1717.4 2349.3h0M1744.6 2309.8h0M1740.5 2293.7h0M1734.4 2229.2h0M1739.6 2278.9h0M1723.9 2291.7h0M1740.6 2256.5h0M1720.4 2335.9h0M1716.9 2347.7h0M1732.0 2297.6h0M1735.9 2221.7h0M1721.1 2315.8h0M1709.1 2371.8h0M1736.2 2232.8h0M1736.9 2262.8h0M1695.7 2381.0h0M1727.9 2355.8h0M1731.8 2234.7h0M1727.2 2322.9h0M1719.0 2326.8h0M1732.4 2297.7h0M1726.9 2289.8h0M1735.4 2324.8h0M1713.7 2350.9h0M1735.0 2240.9h0M1741.4 2236.9h0M1742.0 2248.9h0M1729.6 2289.5h0M1714.3 2318.9h0M1748.4 2295.1h0M1711.1 2365.7h0M1723.2 2329.7h0M1737.5 2284.2h0M1734.4 2307.2h0M1719.8 2354.6h0M1743.0 2244.1h0M1697.9 2385.0h0M1747.6 2223.7h0M1731.4 2298.2h0M1742.3 2321.0h0M1726.7 2338.9h0M1733.2 2251.3h0M1748.3 2216.9h0M1701.8 2378.3h0M1710.6 2373.1h0M1696.9 2386.6h0M1726.5 2321.2h0M1721.0 2320.3h0M1699.3 2384.3h0M1716.4 2353.8h0M1735.9 2312.8h0M1701.5 2384.3h0M1717.8 2364.3h0M1700.2 2379.3h0M1733.9 2246.8h0M1739.3 2223.2h0M1705.1 2365.1h0M1722.5 2352.5h0M1697.1 2383.3h0M1728.0 2246.0h0M1732.7 2315.6h0M1730.0 2336.2h0M1703.3 2376.2h0M1727.6 2259.0h0M1720.9 2308.4h0M1718.8 2356.4h0M1735.5 2291.1h0M1736.4 2232.8h0M1705.2 2376.0h0M1701.3 2372.5h0M1725.4 2326.3h0M1732.8 2253.4h0M1735.4 2223.0h0M1743.2 2212.7h0M1702.3 2382.9h0M1740.7 2209.9h0M1689.9 2386.7h0M1743.8 2302.7h0M1727.6 2350.2h0M1730.9 2213.1h0M1708.2 2374.7h0M1693.9 2380.6h0M1730.7 2267.8h0M1723.0 2346.2h0M1724.7 2338.8h0M1726.3 2350.7h0M1736.8 2322.6h0M1705.3 2377.8h0M1742.3 2275.3h0M1735.2 2261.7h0M1696.4 2375.3h0M1742.8 2311.5h0M1719.0 2333.9h0M1719.8 2331.9h0M1721.0 2321.9h0M1750.7 2294.7h0M1702.6 2363.9h0M1713.0 2298.1h0M1731.9 2307.6h0M1735.9 2339.1h0M1739.5 2298.8h0M1708.4 2322.6h0M1719.3 2344.9h0M1731.3 2227.2h0M1723.1 2349.8h0M1727.7 2284.7h0M1738.7 2251.0h0M1725.8 2238.9h0M1732.4 2281.3h0M1709.2 2376.1h0M1745.8 2243.2h0M1736.1 2338.6h0M1727.8 2294.6h0M1730.5 2212.3h0M1741.7 2218.9h0M1748.0 2212.2h0M1737.0 2266.1h0M1707.4 2368.6h0M1741.4 2298.8h0M1738.4 2242.6h0M1671.7 2299.0h0M1661.5 2335.2h0M1662.3 2349.3h0M1667.4 2362.4h0M1662.3 2383.3h0M1681.1 2381.6h0M1679.4 2364.6h0M1691.3 2388.4h0M1693.9 2388.1h0M1708.3 2383.8h0M1752.7 2328.4h0M1740.7 2309.2h0M1751.0 2293.4h0M1761.2 2250.4h0M1759.5 2237.9h0M1766.3 2224.4h0M1759.5 2209.7h0M1762.9 2192.7h0M1756.1 2170.1h0M1754.4 2156.5h0M1768.0 2154.3h0M1733.9 2162.2h0M1732.2 2130.5h0M1747.5 2121.5h0M1730.5 2115.8h0M1759.5 2104.5h0M1752.7 2064.9h0M1744.1 2050.2h0M1762.9 2050.2h0M1613.7 2214.8h0M1739.0 2192.7h0M1742.4 2206.3h0M1720.3 2174.6h0M1725.4 2145.2h0M1747.5 2215.3h0" fill="none" stroke="rgba(122,122,122,0.62)" stroke-width="9.6" stroke-linecap="round"/>
<circle cx="1819.0" cy="2050.0" r="4.3" fill="rgba(255,10,20,0.72)" stroke="rgba(215,20,40,0.75)" stroke-width="1.2"/>
<circle cx="1831.0" cy="2050.0" r="4.3" fill="rgba(255,10,20,0.72)" stroke="rgba(215,20,40,0.75)" stroke-width="1.2"/>
<circle cx="2026.2" cy="2050.0" r="4.3" fill="rgba(255,10,20,0.72)" stroke="rgba(215,20,40,0.75)" stroke-width="1.2"/>
<circle cx="1786.7" cy="2089.3" r="4.3" fill="rgba(255,10,20,0.72)" stroke="rgba(215,20,40,0.75)" stroke-width="1.2"/>
<circle cx="1796.7" cy="2131.7" r="4.3" fill="rgba(255,10,20,0.72)" stroke="rgba(215,20,40,0.75)" stroke-width="1.2"/>
<circle cx="1813.3" cy="2145.2" r="4.3" fill="rgba(255,10,20,0.72)" stroke="rgba(215,20,40,0.75)" stroke-width="1.2"/>
<circle cx="1793.6" cy="2151.4" r="4.3" fill="rgba(255,10,20,0.72)" stroke="rgba(215,20,40,0.75)" stroke-width="1.2"/>
<circle cx="1779.8" cy="2173.8" r="4.3" fill="rgba(255,10,20,0.72)" stroke="rgba(215,20,40,0.75)" stroke-width="1.2"/>
<circle cx="1804.5" cy="2174.0" r="4.3" fill="rgba(255,10,20,0.72)" stroke="rgba(215,20,40,0.75)" stroke-width="1.2"/>
<circle cx="1828.3" cy="2190.0" r="4.3" fill="rgba(255,10,20,0.72)" stroke="rgba(215,20,40,0.75)" stroke-width="1.2"/>
<circle cx="1790.0" cy="2193.1" r="4.3" fill="rgba(255,10,20,0.72)" stroke="rgba(215,20,40,0.75)" stroke-width="1.2"/>
<circle cx="1795.2" cy="2196.0" r="4.3" fill="rgba(255,10,20,0.72)" stroke="rgba(215,20,40,0.75)" stroke-width="1.2"/>
<circle cx="1780.5" cy="2206.0" r="4.3" fill="rgba(255,10,20,0.72)" stroke="rgba(215,20,40,0.75)" stroke-width="1.2"/>
<circle cx="1783.3" cy="2208.6" r="4.3" fill="rgba(255,10,20,0.72)" stroke="rgba(215,20,40,0.75)" stroke-width="1.2"/>
<circle cx="1794.8" cy="2220.2" r="4.3" fill="rgba(255,10,20,0.72)" stroke="rgba(215,20,40,0.75)" stroke-width="1.2"/>
<circle cx="1787.6" cy="2262.0" r="4.3" fill="rgba(255,10,20,0.72)" stroke="rgba(215,20,40,0.75)" stroke-width="1.2"/>
<circle cx="1589.3" cy="2084.3" r="4.3" fill="rgba(30,20,255,0.66)" stroke="rgba(40,40,220,0.7)" stroke-width="1.2"/>
<line x1="1621.0" y1="2074.6" x2="1814.5" y2="2052.6" stroke="#7d7d7d" stroke-width="1.0"/>
<line x1="1814.5" y1="2052.6" x2="1806.7" y2="2057.2" stroke="#7d7d7d" stroke-width="1.0"/>
<line x1="1814.5" y1="2052.6" x2="1805.9" y2="2049.9" stroke="#7d7d7d" stroke-width="1.0"/>
<line x1="1711.5" y1="2137.5" x2="1813.8" y2="2054.5" stroke="#7d7d7d" stroke-width="1.0"/>
<line x1="1813.8" y1="2054.5" x2="1809.7" y2="2062.5" stroke="#7d7d7d" stroke-width="1.0"/>
<line x1="1813.8" y1="2054.5" x2="1805.1" y2="2056.8" stroke="#7d7d7d" stroke-width="1.0"/>
<line x1="1657.0" y1="2188.2" x2="1823.5" y2="2190.0" stroke="#7d7d7d" stroke-width="1.0"/>
<line x1="1823.5" y1="2190.0" x2="1815.2" y2="2193.6" stroke="#7d7d7d" stroke-width="1.0"/>
<line x1="1823.5" y1="2190.0" x2="1815.3" y2="2186.2" stroke="#7d7d7d" stroke-width="1.0"/>
<line x1="1943.5" y1="2101.5" x2="2021.0" y2="2052.8" stroke="#7d7d7d" stroke-width="1.0"/>
<line x1="2021.0" y1="2052.8" x2="2016.0" y2="2060.3" stroke="#7d7d7d" stroke-width="1.0"/>
<line x1="2021.0" y1="2052.8" x2="2012.1" y2="2054.1" stroke="#7d7d7d" stroke-width="1.0"/>
<line x1="1980.5" y1="2066.8" x2="2032.0" y2="2066.2" stroke="#7d7d7d" stroke-width="1.0"/>
<line x1="1954.5" y1="2102.3" x2="2032.0" y2="2091.2" stroke="#7d7d7d" stroke-width="1.0"/>
<text x="1484.0" y="2088.8" font-size="22.6">Nptxr-4953</text>
<text x="1621.0" y="2160.0" font-size="22.6">Nptxr-17341</text>
<text x="1676.0" y="2161.0" font-size="22.6">Cpne4-17095</text>
<text x="1498.4" y="2193.6" font-size="22.6">Lypd1-16101</text>
<text x="1835.6" y="2124.0" font-size="22.6">Dtnbp1-11516</text>
<rect x="1350.6" y="2033.5" width="681.8" height="373.8" fill="none" stroke="#000" stroke-width="1.7"/>
<line x1="1350.4" y1="2407.3" x2="1350.4" y2="2414.6" stroke="#000" stroke-width="1.7"/>
<text x="1350.4" y="2435.6" font-size="19.2" text-anchor="middle">−2.0</text>
<line x1="1435.6" y1="2407.3" x2="1435.6" y2="2414.6" stroke="#000" stroke-width="1.7"/>
<text x="1435.6" y="2435.6" font-size="19.2" text-anchor="middle">−1.5</text>
<line x1="1520.8" y1="2407.3" x2="1520.8" y2="2414.6" stroke="#000" stroke-width="1.7"/>
<text x="1520.8" y="2435.6" font-size="19.2" text-anchor="middle">−1.0</text>
<line x1="1606.1" y1="2407.3" x2="1606.1" y2="2414.6" stroke="#000" stroke-width="1.7"/>
<text x="1606.1" y="2435.6" font-size="19.2" text-anchor="middle">−0.5</text>
<line x1="1691.3" y1="2407.3" x2="1691.3" y2="2414.6" stroke="#000" stroke-width="1.7"/>
<text x="1691.3" y="2435.6" font-size="19.2" text-anchor="middle">0.0</text>
<line x1="1776.5" y1="2407.3" x2="1776.5" y2="2414.6" stroke="#000" stroke-width="1.7"/>
<text x="1776.5" y="2435.6" font-size="19.2" text-anchor="middle">0.5</text>
<line x1="1861.8" y1="2407.3" x2="1861.8" y2="2414.6" stroke="#000" stroke-width="1.7"/>
<text x="1861.8" y="2435.6" font-size="19.2" text-anchor="middle">1.0</text>
<line x1="1947.0" y1="2407.3" x2="1947.0" y2="2414.6" stroke="#000" stroke-width="1.7"/>
<text x="1947.0" y="2435.6" font-size="19.2" text-anchor="middle">1.5</text>
<line x1="2032.2" y1="2407.3" x2="2032.2" y2="2414.6" stroke="#000" stroke-width="1.7"/>
<text x="2032.2" y="2435.6" font-size="19.2" text-anchor="middle">2.0</text>
<line x1="1343.3" y1="2389.5" x2="1350.6" y2="2389.5" stroke="#000" stroke-width="1.7"/>
<text x="1337.6" y="2396.5" font-size="19.2" text-anchor="end">0</text>
<line x1="1343.3" y1="2332.9" x2="1350.6" y2="2332.9" stroke="#000" stroke-width="1.7"/>
<text x="1337.6" y="2339.9" font-size="19.2" text-anchor="end">5</text>
<line x1="1343.3" y1="2276.4" x2="1350.6" y2="2276.4" stroke="#000" stroke-width="1.7"/>
<text x="1337.6" y="2283.4" font-size="19.2" text-anchor="end">10</text>
<line x1="1343.3" y1="2219.8" x2="1350.6" y2="2219.8" stroke="#000" stroke-width="1.7"/>
<text x="1337.6" y="2226.8" font-size="19.2" text-anchor="end">15</text>
<line x1="1343.3" y1="2163.3" x2="1350.6" y2="2163.3" stroke="#000" stroke-width="1.7"/>
<text x="1337.6" y="2170.3" font-size="19.2" text-anchor="end">20</text>
<line x1="1343.3" y1="2106.8" x2="1350.6" y2="2106.8" stroke="#000" stroke-width="1.7"/>
<text x="1337.6" y="2113.8" font-size="19.2" text-anchor="end">25</text>
<line x1="1343.3" y1="2050.2" x2="1350.6" y2="2050.2" stroke="#000" stroke-width="1.7"/>
<text x="1337.6" y="2057.2" font-size="19.2" text-anchor="end">30</text>
<text x="1691.0" y="2021.4" font-size="23.0" text-anchor="middle">Marker codewords of Dtnbp1-11516-only Cluster 2 bins</text>
<text x="1691.0" y="2461.6" font-size="19.2" text-anchor="middle">Log2 Fold Change (Dtnbp1-11516-only vs rest, within Cluster 2)</text>
<text x="1300.8" y="2220.4" font-size="19.2" text-anchor="middle" transform="rotate(-90 1300.8 2220.4)">-Log10(Adjusted p-value)</text></g>
<g id="letters"><text x="3.6" y="20.5" font-size="33.5" font-weight="bold" font-family='"Liberation Sans",Arial,Helvetica,sans-serif'>a</text>
<text x="3.8" y="497.4" font-size="33.5" font-weight="bold" font-family='"Liberation Sans",Arial,Helvetica,sans-serif'>b</text>
<text x="3.6" y="1539.4" font-size="33.5" font-weight="bold" font-family='"Liberation Sans",Arial,Helvetica,sans-serif'>c</text>
<text x="3.6" y="2036.4" font-size="33.5" font-weight="bold" font-family='"Liberation Sans",Arial,Helvetica,sans-serif'>d</text></g>
</svg>
</body></html>
